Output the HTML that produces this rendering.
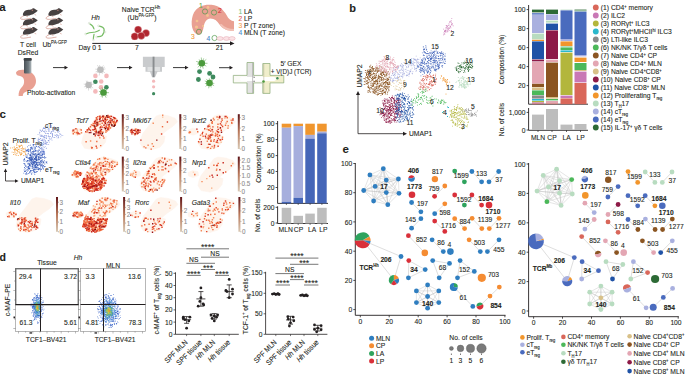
<!DOCTYPE html>
<html><head><meta charset="utf-8"><style>
html,body{margin:0;padding:0;background:#fff;width:685px;height:375px;overflow:hidden}
svg{display:block}
text{font-family:"Liberation Sans",sans-serif;stroke:#231f20;stroke-width:0.1px}
</style></head><body>
<svg width="685" height="375" viewBox="0 0 685 375" font-size="7" fill="#231f20">
<defs><linearGradient id="cbg" x1="0" y1="1" x2="0" y2="0"><stop offset="0" stop-color="#d8c9b5"/><stop offset="0.5" stop-color="#b9785a"/><stop offset="1" stop-color="#5e1418"/></linearGradient></defs>
<text transform="translate(349.3 11.8) scale(1 1)" font-weight="bold" font-size="11">b</text>
<path d="M372.2 69.7h0.8v0.8h-0.8zM378.9 76.7h0.8v0.8h-0.8zM365.3 78.5h0.8v0.8h-0.8zM375.5 90.3h0.8v0.8h-0.8zM379.5 93h0.8v0.8h-0.8zM386.6 74.4h0.8v0.8h-0.8zM372.5 90.7h0.8v0.8h-0.8zM380.3 76.4h0.8v0.8h-0.8zM381.2 79.2h0.8v0.8h-0.8zM376.2 73h0.8v0.8h-0.8zM368.5 82.2h0.8v0.8h-0.8zM383.4 73.9h0.8v0.8h-0.8zM375.5 88.7h0.8v0.8h-0.8zM384.4 81.9h0.8v0.8h-0.8zM381.2 82.6h0.8v0.8h-0.8zM377.6 85.6h0.8v0.8h-0.8zM384.4 74.8h0.8v0.8h-0.8zM364.8 79.5h0.8v0.8h-0.8zM366 74h0.8v0.8h-0.8zM364.3 78.2h0.8v0.8h-0.8zM385.1 91.9h0.8v0.8h-0.8zM373.8 91.4h0.8v0.8h-0.8zM368.7 73.4h0.8v0.8h-0.8zM380.3 73.3h0.8v0.8h-0.8zM374.9 81.8h0.8v0.8h-0.8zM377.3 83.5h0.8v0.8h-0.8zM388.5 87.4h0.8v0.8h-0.8zM375.2 78h0.8v0.8h-0.8zM369.3 70.5h0.8v0.8h-0.8zM368.4 76.5h0.8v0.8h-0.8zM380 70.7h0.8v0.8h-0.8zM375.1 66.8h0.8v0.8h-0.8zM376.5 80h0.8v0.8h-0.8zM373.2 72.8h0.8v0.8h-0.8zM377.5 69.8h0.8v0.8h-0.8zM378.6 93.3h0.8v0.8h-0.8zM371.6 77.7h0.8v0.8h-0.8zM377.5 89h0.8v0.8h-0.8zM386.8 87.9h0.8v0.8h-0.8zM369.8 80.9h0.8v0.8h-0.8zM371.7 85.7h0.8v0.8h-0.8zM369.9 72.8h0.8v0.8h-0.8zM380.8 91.2h0.8v0.8h-0.8zM382.1 89.8h0.8v0.8h-0.8zM387.7 87.6h0.8v0.8h-0.8zM367.8 90.2h0.8v0.8h-0.8zM374.3 92.9h0.8v0.8h-0.8zM368.7 69h0.8v0.8h-0.8zM369.1 89.7h0.8v0.8h-0.8zM373.2 81.8h0.8v0.8h-0.8zM387.2 84.3h0.8v0.8h-0.8zM375.6 90.7h0.8v0.8h-0.8zM370.6 75.3h0.8v0.8h-0.8zM372.1 79.3h0.8v0.8h-0.8zM371.5 78h0.8v0.8h-0.8zM373.8 92.6h0.8v0.8h-0.8zM377.1 70.9h0.8v0.8h-0.8zM368.3 78.3h0.8v0.8h-0.8zM371 80.3h0.8v0.8h-0.8zM366.8 82.8h0.8v0.8h-0.8zM382.7 79.9h0.8v0.8h-0.8zM386.9 77.9h0.8v0.8h-0.8zM376.3 86.3h0.8v0.8h-0.8zM375.9 91.5h0.8v0.8h-0.8zM378.8 92.9h0.8v0.8h-0.8zM367.8 78.8h0.8v0.8h-0.8zM366.3 83.4h0.8v0.8h-0.8zM367.7 86.2h0.8v0.8h-0.8zM376.1 79.8h0.8v0.8h-0.8zM367.4 78.1h0.8v0.8h-0.8zM369.1 74.7h0.8v0.8h-0.8zM379.2 78.6h0.8v0.8h-0.8zM382.6 81.6h0.8v0.8h-0.8zM368.2 73.7h0.8v0.8h-0.8zM369.3 70.3h0.8v0.8h-0.8zM386.5 74.8h0.8v0.8h-0.8zM379.1 86.3h0.8v0.8h-0.8zM383.8 79h0.8v0.8h-0.8zM382 90h0.8v0.8h-0.8zM373.9 74.8h0.8v0.8h-0.8zM370.3 69.2h0.8v0.8h-0.8zM367.4 70.5h0.8v0.8h-0.8zM372.2 73.8h0.8v0.8h-0.8zM376.9 70.9h0.8v0.8h-0.8zM370.4 64.8h0.8v0.8h-0.8zM369.3 79.3h0.8v0.8h-0.8zM383.6 78.3h0.8v0.8h-0.8zM373.2 78.1h0.8v0.8h-0.8zM372.6 88.8h0.8v0.8h-0.8zM375 75.9h0.8v0.8h-0.8zM372.1 71.2h0.8v0.8h-0.8zM386.5 85.9h0.8v0.8h-0.8zM372.2 79.9h0.8v0.8h-0.8zM389.4 84h0.8v0.8h-0.8zM372.9 76h0.8v0.8h-0.8zM376.7 81.3h0.8v0.8h-0.8zM366.5 77.3h0.8v0.8h-0.8zM371 71.8h0.8v0.8h-0.8zM383.1 83.1h0.8v0.8h-0.8zM374.6 75.1h0.8v0.8h-0.8zM384.5 84.9h0.8v0.8h-0.8zM387 82.4h0.8v0.8h-0.8zM365.9 80.9h0.8v0.8h-0.8zM383.3 88.9h0.8v0.8h-0.8zM381.8 86.2h0.8v0.8h-0.8zM368.8 77.2h0.8v0.8h-0.8zM377.6 83.1h0.8v0.8h-0.8zM383.6 87.6h0.8v0.8h-0.8zM381.1 66.8h0.8v0.8h-0.8zM365.9 72.7h0.8v0.8h-0.8zM375.5 77h0.8v0.8h-0.8zM383.7 83.4h0.8v0.8h-0.8zM367.8 72.2h0.8v0.8h-0.8zM364.9 72.2h0.8v0.8h-0.8zM380.6 74h0.8v0.8h-0.8zM376.6 68.6h0.8v0.8h-0.8zM376.2 75.5h0.8v0.8h-0.8zM370.2 83.5h0.8v0.8h-0.8zM386.4 79.6h0.8v0.8h-0.8zM369.8 92h0.8v0.8h-0.8zM376.2 75h0.8v0.8h-0.8zM373.7 90.3h0.8v0.8h-0.8zM388.7 86.1h0.8v0.8h-0.8zM374.9 77.1h0.8v0.8h-0.8zM373.3 78.4h0.8v0.8h-0.8zM369.9 73.3h0.8v0.8h-0.8zM374.9 92.6h0.8v0.8h-0.8zM381.5 92h0.8v0.8h-0.8zM383.1 77.5h0.8v0.8h-0.8zM371.9 66.7h0.8v0.8h-0.8zM375.8 77h0.8v0.8h-0.8zM380.2 74.1h0.8v0.8h-0.8zM368.9 72.2h0.8v0.8h-0.8zM379.4 70.3h0.8v0.8h-0.8zM375.8 70h0.8v0.8h-0.8zM372.9 68.9h0.8v0.8h-0.8zM378.8 90.7h0.8v0.8h-0.8zM374.2 81.5h0.8v0.8h-0.8zM366.1 73.6h0.8v0.8h-0.8zM377.5 83.6h0.8v0.8h-0.8zM370.3 73.4h0.8v0.8h-0.8zM387.3 79.5h0.8v0.8h-0.8zM375 91.3h0.8v0.8h-0.8zM365.5 69.9h0.8v0.8h-0.8zM387.6 85.6h0.8v0.8h-0.8zM377.4 82.2h0.8v0.8h-0.8zM381.3 75h0.8v0.8h-0.8zM380.8 86.3h0.8v0.8h-0.8zM377.1 83.1h0.8v0.8h-0.8zM373.1 78.8h0.8v0.8h-0.8zM387 80.2h0.8v0.8h-0.8zM388.9 86.5h0.8v0.8h-0.8zM376.3 85.7h0.8v0.8h-0.8zM381.4 93h0.8v0.8h-0.8zM372.5 77.4h0.8v0.8h-0.8zM384.1 87.3h0.8v0.8h-0.8zM385.6 73.8h0.8v0.8h-0.8zM377 71.9h0.8v0.8h-0.8zM381.8 94.2h0.8v0.8h-0.8zM367.1 76h0.8v0.8h-0.8zM389.1 77.2h0.8v0.8h-0.8zM380.7 77.2h0.8v0.8h-0.8zM371.7 75.7h0.8v0.8h-0.8zM373.7 88.9h0.8v0.8h-0.8zM363.9 80.9h0.8v0.8h-0.8zM369.2 76.1h0.8v0.8h-0.8zM374.7 89.2h0.8v0.8h-0.8zM387.9 71.2h0.8v0.8h-0.8zM374 73.2h0.8v0.8h-0.8zM370.5 87.3h0.8v0.8h-0.8zM388 84.1h0.8v0.8h-0.8zM372.2 78.9h0.8v0.8h-0.8zM373.1 73.4h0.8v0.8h-0.8zM385.6 85.9h0.8v0.8h-0.8zM379.4 75.9h0.8v0.8h-0.8zM369.1 88h0.8v0.8h-0.8zM363.7 84h0.8v0.8h-0.8zM371.8 68.6h0.8v0.8h-0.8zM382.5 79.6h0.8v0.8h-0.8zM380.1 83.6h0.8v0.8h-0.8zM381.7 68.4h0.8v0.8h-0.8zM378.7 75.9h0.8v0.8h-0.8zM371.5 74.3h0.8v0.8h-0.8zM376.8 76.8h0.8v0.8h-0.8zM377.7 71.1h0.8v0.8h-0.8zM377.4 88h0.8v0.8h-0.8zM368.3 70.9h0.8v0.8h-0.8zM388.8 75.7h0.8v0.8h-0.8zM371.2 88.3h0.8v0.8h-0.8zM379.7 84.6h0.8v0.8h-0.8zM367.6 72.7h0.8v0.8h-0.8zM381.7 71.6h0.8v0.8h-0.8zM381.4 71.5h0.8v0.8h-0.8zM385.1 81.8h0.8v0.8h-0.8zM374 81.4h0.8v0.8h-0.8zM367.6 86.4h0.8v0.8h-0.8zM371.5 82.9h0.8v0.8h-0.8zM373.4 70.7h0.8v0.8h-0.8zM373.5 90.7h0.8v0.8h-0.8zM377.1 70.4h0.8v0.8h-0.8zM381.7 93h0.8v0.8h-0.8zM374.1 81h0.8v0.8h-0.8zM378.4 93.5h0.8v0.8h-0.8zM371.4 68.4h0.8v0.8h-0.8zM377.3 66.7h0.8v0.8h-0.8zM387.7 83.3h0.8v0.8h-0.8zM383 73h0.8v0.8h-0.8zM385.7 71.8h0.8v0.8h-0.8zM378 77.3h0.8v0.8h-0.8zM384 92.3h0.8v0.8h-0.8zM379.1 81.2h0.8v0.8h-0.8zM373.7 83.3h0.8v0.8h-0.8zM376.9 78.6h0.8v0.8h-0.8zM376.9 70.9h0.8v0.8h-0.8zM375.5 70.9h0.8v0.8h-0.8zM368.2 78.7h0.8v0.8h-0.8zM380.4 66.4h0.8v0.8h-0.8zM376.4 67.1h0.8v0.8h-0.8zM383.9 91.9h0.8v0.8h-0.8zM377.3 93.4h0.8v0.8h-0.8zM385.3 93.3h0.8v0.8h-0.8zM384.2 69.7h0.8v0.8h-0.8zM383.2 69.7h0.8v0.8h-0.8zM368.6 73.2h0.8v0.8h-0.8zM382.4 93.3h0.8v0.8h-0.8zM366.4 80.5h0.8v0.8h-0.8zM385.1 81h0.8v0.8h-0.8zM380.6 76.5h0.8v0.8h-0.8zM388.8 83.7h0.8v0.8h-0.8zM375.5 70.4h0.8v0.8h-0.8zM383.7 71h0.8v0.8h-0.8zM379.2 85.1h0.8v0.8h-0.8zM378.1 78.1h0.8v0.8h-0.8zM367.3 72h0.8v0.8h-0.8zM367 77.2h0.8v0.8h-0.8zM378.6 70.8h0.8v0.8h-0.8zM371.4 70.6h0.8v0.8h-0.8zM386.1 89h0.8v0.8h-0.8zM378 75.1h0.8v0.8h-0.8zM388.4 89.1h0.8v0.8h-0.8zM364.6 81.5h0.8v0.8h-0.8zM364.8 81.6h0.8v0.8h-0.8zM367.9 83.4h0.8v0.8h-0.8zM384.9 71.4h0.8v0.8h-0.8zM386.1 86.7h0.8v0.8h-0.8zM383.3 78.2h0.8v0.8h-0.8zM369.9 68.9h0.8v0.8h-0.8zM372.1 86h0.8v0.8h-0.8zM381.6 73h0.8v0.8h-0.8zM384.4 82.2h0.8v0.8h-0.8zM370.7 70.3h0.8v0.8h-0.8zM384 74.6h0.8v0.8h-0.8zM369.3 91.3h0.8v0.8h-0.8zM375.6 88.6h0.8v0.8h-0.8zM374.7 86.5h0.8v0.8h-0.8zM371.3 84.8h0.8v0.8h-0.8zM373.2 69.7h0.8v0.8h-0.8zM381.5 82.8h0.8v0.8h-0.8zM364.6 84.2h0.8v0.8h-0.8zM387 92.5h0.8v0.8h-0.8zM367 71.7h0.8v0.8h-0.8zM384.9 88.2h0.8v0.8h-0.8zM380.8 74.2h0.8v0.8h-0.8zM383.3 72.4h0.8v0.8h-0.8zM370.8 87.2h0.8v0.8h-0.8zM389.8 79.4h0.8v0.8h-0.8zM363.4 78.3h0.8v0.8h-0.8zM372.4 86.1h0.8v0.8h-0.8zM385.9 70.5h0.8v0.8h-0.8zM377.2 90h0.8v0.8h-0.8zM372.9 92.2h0.8v0.8h-0.8zM371 70.8h0.8v0.8h-0.8zM368.2 85h0.8v0.8h-0.8zM381.5 88.1h0.8v0.8h-0.8zM374.7 76.9h0.8v0.8h-0.8zM370.2 72.6h0.8v0.8h-0.8zM374 92.6h0.8v0.8h-0.8zM377.8 86.5h0.8v0.8h-0.8zM374 76.6h0.8v0.8h-0.8zM381.7 88.2h0.8v0.8h-0.8zM384.8 83.3h0.8v0.8h-0.8zM387.3 73.2h0.8v0.8h-0.8zM382.6 90.8h0.8v0.8h-0.8zM369.9 75.1h0.8v0.8h-0.8zM374 70.9h0.8v0.8h-0.8zM368.2 76.7h0.8v0.8h-0.8zM383.5 79.5h0.8v0.8h-0.8zM366.6 71.7h0.8v0.8h-0.8zM374 87.8h0.8v0.8h-0.8zM381.2 80.1h0.8v0.8h-0.8zM375.3 86.8h0.8v0.8h-0.8zM378.4 87.9h0.8v0.8h-0.8zM383 90.1h0.8v0.8h-0.8zM385.5 84.8h0.8v0.8h-0.8zM372.9 84.6h0.8v0.8h-0.8zM383.9 86h0.8v0.8h-0.8zM374.3 78.3h0.8v0.8h-0.8zM382.1 94.1h0.8v0.8h-0.8zM381.8 77.1h0.8v0.8h-0.8zM365.8 82.9h0.8v0.8h-0.8zM389.4 81.5h0.8v0.8h-0.8zM376.8 86.6h0.8v0.8h-0.8zM383.7 82.1h0.8v0.8h-0.8zM368.3 86.6h0.8v0.8h-0.8zM373.1 68.1h0.8v0.8h-0.8zM374.5 86.7h0.8v0.8h-0.8zM370.9 87h0.8v0.8h-0.8zM369.2 89.5h0.8v0.8h-0.8zM367.8 87.2h0.8v0.8h-0.8zM376.5 84.4h0.8v0.8h-0.8zM373.9 82.8h0.8v0.8h-0.8zM375.7 74h0.8v0.8h-0.8zM386.1 75.4h0.8v0.8h-0.8zM373.3 73.2h0.8v0.8h-0.8zM371 73.7h0.8v0.8h-0.8zM374.7 83.6h0.8v0.8h-0.8zM388.6 89.9h0.8v0.8h-0.8zM381.5 73.2h0.8v0.8h-0.8zM369.8 88.8h0.8v0.8h-0.8zM388.4 90.5h0.8v0.8h-0.8zM378.9 86.9h0.8v0.8h-0.8zM384.9 91.6h0.8v0.8h-0.8zM376.1 88.1h0.8v0.8h-0.8zM378.5 73.8h0.8v0.8h-0.8zM376.3 67.3h0.8v0.8h-0.8zM375 79.8h0.8v0.8h-0.8zM375.3 80.6h0.8v0.8h-0.8zM374.1 77.8h0.8v0.8h-0.8zM381.8 84.5h0.8v0.8h-0.8zM380.5 95.2h0.8v0.8h-0.8zM377.5 79.7h0.8v0.8h-0.8zM381.7 85.5h0.8v0.8h-0.8zM372 79.3h0.8v0.8h-0.8zM368.5 78.9h0.8v0.8h-0.8zM385.9 73.3h0.8v0.8h-0.8zM374.7 73.4h0.8v0.8h-0.8zM380.6 89.5h0.8v0.8h-0.8zM370.7 81.6h0.8v0.8h-0.8zM387.7 81.8h0.8v0.8h-0.8zM387.1 82.1h0.8v0.8h-0.8zM386.7 82.7h0.8v0.8h-0.8zM381.8 82.5h0.8v0.8h-0.8zM381.4 78.6h0.8v0.8h-0.8zM383.7 91.7h0.8v0.8h-0.8zM384.7 88.4h0.8v0.8h-0.8zM371.5 78.8h0.8v0.8h-0.8zM381.8 93.4h0.8v0.8h-0.8zM385.9 82h0.8v0.8h-0.8zM380.4 93h0.8v0.8h-0.8zM374.3 68h0.8v0.8h-0.8zM382.6 72.1h0.8v0.8h-0.8zM382.5 90.4h0.8v0.8h-0.8zM378.3 86.9h0.8v0.8h-0.8zM373 88.6h0.8v0.8h-0.8zM375.9 68.1h0.8v0.8h-0.8zM376.4 86.7h0.8v0.8h-0.8zM372.8 83.8h0.8v0.8h-0.8zM375.5 88.2h0.8v0.8h-0.8zM381 75h0.8v0.8h-0.8zM381.7 91h0.8v0.8h-0.8zM377.9 75.4h0.8v0.8h-0.8zM372.3 84.6h0.8v0.8h-0.8zM385.7 73.9h0.8v0.8h-0.8zM375.7 81.1h0.8v0.8h-0.8zM384.5 90.8h0.8v0.8h-0.8zM385.3 87.5h0.8v0.8h-0.8zM371.5 67.5h0.8v0.8h-0.8zM369.8 87.4h0.8v0.8h-0.8zM379.2 85.6h0.8v0.8h-0.8zM370.9 86.7h0.8v0.8h-0.8zM382.4 71.4h0.8v0.8h-0.8zM385.8 81.1h0.8v0.8h-0.8zM369.5 72.4h0.8v0.8h-0.8zM372.5 82.8h0.8v0.8h-0.8zM366.9 83.7h0.8v0.8h-0.8zM379.3 75.7h0.8v0.8h-0.8zM385.9 79.6h0.8v0.8h-0.8zM385.7 77.6h0.8v0.8h-0.8zM370.8 67.2h0.8v0.8h-0.8zM376.4 91.8h0.8v0.8h-0.8zM381.2 78.8h0.8v0.8h-0.8zM369.3 80.4h0.8v0.8h-0.8zM380.9 77.3h0.8v0.8h-0.8zM369.7 67.5h0.8v0.8h-0.8zM382.9 84.3h0.8v0.8h-0.8zM383.3 92.5h0.8v0.8h-0.8zM380 88.3h0.8v0.8h-0.8zM370.1 69.2h0.8v0.8h-0.8zM370.1 69.6h0.8v0.8h-0.8zM384.7 71.7h0.8v0.8h-0.8zM387.2 92.5h0.8v0.8h-0.8zM385.1 84.3h0.8v0.8h-0.8zM385.1 79.2h0.8v0.8h-0.8zM369.5 66.1h0.8v0.8h-0.8zM367.7 92.1h0.8v0.8h-0.8zM368.5 72.8h0.8v0.8h-0.8zM367.6 81.8h0.8v0.8h-0.8zM380.6 71.8h0.8v0.8h-0.8zM368.9 73.5h0.8v0.8h-0.8zM366.8 73.9h0.8v0.8h-0.8zM383 74.1h0.8v0.8h-0.8zM385 75.6h0.8v0.8h-0.8zM386 81.9h0.8v0.8h-0.8zM387.3 71.7h0.8v0.8h-0.8zM368.5 87.6h0.8v0.8h-0.8zM379.7 80.7h0.8v0.8h-0.8zM380.4 85.3h0.8v0.8h-0.8zM369.2 66.5h0.8v0.8h-0.8zM386.1 73.9h0.8v0.8h-0.8zM388.2 79.1h0.8v0.8h-0.8zM368.5 90.4h0.8v0.8h-0.8zM374.7 83.1h0.8v0.8h-0.8zM376.6 81.7h0.8v0.8h-0.8zM384.6 92.3h0.8v0.8h-0.8zM375.6 88.3h0.8v0.8h-0.8zM387.7 80h0.8v0.8h-0.8zM368.7 70.2h0.8v0.8h-0.8zM383.4 71.4h0.8v0.8h-0.8zM378.9 80.5h0.8v0.8h-0.8zM387.1 86.8h0.8v0.8h-0.8zM376.7 80.7h0.8v0.8h-0.8zM373 68.6h0.8v0.8h-0.8zM367.8 81.9h0.8v0.8h-0.8zM384.8 93.8h0.8v0.8h-0.8zM384.1 82.3h0.8v0.8h-0.8zM384.2 76.3h0.8v0.8h-0.8zM385.6 90.8h0.8v0.8h-0.8zM367.4 80.2h0.8v0.8h-0.8zM369.9 77.3h0.8v0.8h-0.8zM376.8 68h0.8v0.8h-0.8zM389 82.4h0.8v0.8h-0.8zM380.4 72.7h0.8v0.8h-0.8zM377.6 92.3h0.8v0.8h-0.8zM378.2 78.1h0.8v0.8h-0.8zM372.8 85.4h0.8v0.8h-0.8zM388.7 81.7h0.8v0.8h-0.8zM378.2 70.2h0.8v0.8h-0.8zM371.5 78.1h0.8v0.8h-0.8zM366.9 80.6h0.8v0.8h-0.8zM379.3 86h0.8v0.8h-0.8zM375.2 81h0.8v0.8h-0.8zM372.3 73.7h0.8v0.8h-0.8zM374.8 82.8h0.8v0.8h-0.8zM385.4 72.2h0.8v0.8h-0.8zM371.9 88.6h0.8v0.8h-0.8zM387.5 78.8h0.8v0.8h-0.8zM375.9 87.6h0.8v0.8h-0.8zM367.2 76.5h0.8v0.8h-0.8zM380.5 89.6h0.8v0.8h-0.8zM383.3 86.4h0.8v0.8h-0.8zM384.8 86.2h0.8v0.8h-0.8zM381.6 82.8h0.8v0.8h-0.8zM379.3 76h0.8v0.8h-0.8zM378.8 77h0.8v0.8h-0.8zM381.9 74.9h0.8v0.8h-0.8zM374.4 73.3h0.8v0.8h-0.8zM377.3 79.3h0.8v0.8h-0.8zM367.4 82.3h0.8v0.8h-0.8zM388.9 73.6h0.8v0.8h-0.8zM375.4 92.4h0.8v0.8h-0.8zM380 79.4h0.8v0.8h-0.8zM376.9 94.8h0.8v0.8h-0.8zM381.1 77.9h0.8v0.8h-0.8zM372.6 92.5h0.8v0.8h-0.8zM365.6 77.2h0.8v0.8h-0.8zM379.9 91.2h0.8v0.8h-0.8zM376.3 83.9h0.8v0.8h-0.8zM378.2 90.3h0.8v0.8h-0.8zM378.4 67.9h0.8v0.8h-0.8zM387.5 78.5h0.8v0.8h-0.8zM377.5 80.9h0.8v0.8h-0.8zM378.7 85.6h0.8v0.8h-0.8zM374.2 90h0.8v0.8h-0.8zM385.6 82.3h0.8v0.8h-0.8zM376.8 83.1h0.8v0.8h-0.8zM377 94.5h0.8v0.8h-0.8zM367.2 69.7h0.8v0.8h-0.8zM364.9 70.3h0.8v0.8h-0.8zM380.1 89.3h0.8v0.8h-0.8zM383.9 74.2h0.8v0.8h-0.8zM370 74.5h0.8v0.8h-0.8zM378.3 76.1h0.8v0.8h-0.8zM378 94.3h0.8v0.8h-0.8zM372.1 66.1h0.8v0.8h-0.8zM372.5 91.3h0.8v0.8h-0.8zM377.5 93.9h0.8v0.8h-0.8zM370.2 76.4h0.8v0.8h-0.8zM370.4 91.5h0.8v0.8h-0.8zM370 71.1h0.8v0.8h-0.8zM377.7 68.7h0.8v0.8h-0.8zM375.7 68.6h0.8v0.8h-0.8zM373.4 73.4h0.8v0.8h-0.8zM369.7 65.8h0.8v0.8h-0.8zM368.6 86.7h0.8v0.8h-0.8zM375.7 89.7h0.8v0.8h-0.8zM371.6 88.4h0.8v0.8h-0.8zM376.7 72.3h0.8v0.8h-0.8zM383.3 72.5h0.8v0.8h-0.8zM373.1 72.4h0.8v0.8h-0.8zM377.1 83h0.8v0.8h-0.8zM373.3 84.6h0.8v0.8h-0.8zM374.9 69.6h0.8v0.8h-0.8zM373.2 85.8h0.8v0.8h-0.8zM373.3 80.6h0.8v0.8h-0.8zM373.1 73.2h0.8v0.8h-0.8zM372.6 76.6h0.8v0.8h-0.8zM387.4 91.4h0.8v0.8h-0.8zM380.1 76.6h0.8v0.8h-0.8zM382.7 72.1h0.8v0.8h-0.8zM381.8 72.2h0.8v0.8h-0.8zM383.3 86.6h0.8v0.8h-0.8zM367.9 72.2h0.8v0.8h-0.8zM381.2 69.8h0.8v0.8h-0.8zM381.4 73.6h0.8v0.8h-0.8zM385.6 88.7h0.8v0.8h-0.8zM386.9 83.6h0.8v0.8h-0.8zM367.4 90.8h0.8v0.8h-0.8zM382 75.4h0.8v0.8h-0.8zM372.2 67.8h0.8v0.8h-0.8zM388.1 84.2h0.8v0.8h-0.8zM381.6 79.3h0.8v0.8h-0.8zM375.6 80.4h0.8v0.8h-0.8zM382.2 90.4h0.8v0.8h-0.8zM388.5 84.1h0.8v0.8h-0.8zM365 76.4h0.8v0.8h-0.8zM371.7 68.2h0.8v0.8h-0.8zM369.2 72.5h0.8v0.8h-0.8zM387.8 77.6h0.8v0.8h-0.8zM366.9 83.5h0.8v0.8h-0.8zM378.9 89.1h0.8v0.8h-0.8zM379.7 77.4h0.8v0.8h-0.8zM366.6 74.5h0.8v0.8h-0.8zM366 75.1h0.8v0.8h-0.8zM375.2 69.7h0.8v0.8h-0.8zM373.6 70.5h0.8v0.8h-0.8zM367.3 86.5h0.8v0.8h-0.8zM366.3 80.2h0.8v0.8h-0.8zM386.4 83h0.8v0.8h-0.8zM381 73.4h0.8v0.8h-0.8zM386.3 75.4h0.8v0.8h-0.8zM386.8 94.2h0.8v0.8h-0.8zM385.3 87.9h0.8v0.8h-0.8zM384.7 75.8h0.8v0.8h-0.8zM373.6 90.3h0.8v0.8h-0.8zM379.3 82.8h0.8v0.8h-0.8zM377.3 80.9h0.8v0.8h-0.8zM378.9 67.4h0.8v0.8h-0.8zM375.7 94.2h0.8v0.8h-0.8zM375.4 71.1h0.8v0.8h-0.8zM386.1 89.8h0.8v0.8h-0.8zM370.4 84.9h0.8v0.8h-0.8zM372 77h0.8v0.8h-0.8zM370.9 78.3h0.8v0.8h-0.8zM368.6 68.9h0.8v0.8h-0.8zM389.1 83.5h0.8v0.8h-0.8zM381.2 84.6h0.8v0.8h-0.8zM388.3 79.1h0.8v0.8h-0.8zM373.5 91.7h0.8v0.8h-0.8zM382.8 79.4h0.8v0.8h-0.8zM372.7 83.2h0.8v0.8h-0.8z" fill="#8b5522"/>
<path d="M388.9 63.7h0.8v0.8h-0.8zM396.9 66.9h0.8v0.8h-0.8zM386.5 61.1h0.8v0.8h-0.8zM381.8 66.9h0.8v0.8h-0.8zM388.7 58.5h0.8v0.8h-0.8zM384.3 70.4h0.8v0.8h-0.8zM385.7 59.5h0.8v0.8h-0.8zM393.1 58.9h0.8v0.8h-0.8zM382.4 63.1h0.8v0.8h-0.8zM380.4 60.9h0.8v0.8h-0.8zM396.4 66.1h0.8v0.8h-0.8zM396.9 72.2h0.8v0.8h-0.8zM382.8 67.7h0.8v0.8h-0.8zM378.5 60.8h0.8v0.8h-0.8zM387.7 58.1h0.8v0.8h-0.8zM391.2 62h0.8v0.8h-0.8zM394.6 66.4h0.8v0.8h-0.8zM378.9 70.9h0.8v0.8h-0.8zM382 68.3h0.8v0.8h-0.8zM394.7 64.1h0.8v0.8h-0.8zM381.7 59.4h0.8v0.8h-0.8zM379.6 69.3h0.8v0.8h-0.8zM387 58.8h0.8v0.8h-0.8zM395.9 67.1h0.8v0.8h-0.8zM378.6 63h0.8v0.8h-0.8zM385.7 62.7h0.8v0.8h-0.8zM390.6 62.4h0.8v0.8h-0.8zM379.5 65.7h0.8v0.8h-0.8zM389.4 68.2h0.8v0.8h-0.8zM389.5 67.7h0.8v0.8h-0.8zM394.8 70.5h0.8v0.8h-0.8zM382.6 68.1h0.8v0.8h-0.8zM389.1 62.3h0.8v0.8h-0.8zM376.1 64.8h0.8v0.8h-0.8zM386.6 63.5h0.8v0.8h-0.8zM385.5 59.3h0.8v0.8h-0.8zM385.3 63.8h0.8v0.8h-0.8zM382.5 60.8h0.8v0.8h-0.8zM396.8 66.6h0.8v0.8h-0.8zM387.8 74h0.8v0.8h-0.8zM386.4 71.3h0.8v0.8h-0.8zM379.4 60.7h0.8v0.8h-0.8zM383.4 59.1h0.8v0.8h-0.8zM390 57.8h0.8v0.8h-0.8zM389.9 56.6h0.8v0.8h-0.8zM383.9 60.2h0.8v0.8h-0.8zM395.8 66.9h0.8v0.8h-0.8zM382.6 68.3h0.8v0.8h-0.8zM391.8 62.7h0.8v0.8h-0.8zM382.8 64.5h0.8v0.8h-0.8zM396.7 66h0.8v0.8h-0.8zM389.3 68.9h0.8v0.8h-0.8zM392.7 63.5h0.8v0.8h-0.8zM387.6 67h0.8v0.8h-0.8zM391.9 59.6h0.8v0.8h-0.8zM393.4 59.5h0.8v0.8h-0.8zM383.9 61.1h0.8v0.8h-0.8zM386.6 66.6h0.8v0.8h-0.8zM376.8 64.8h0.8v0.8h-0.8zM392.3 71.9h0.8v0.8h-0.8zM394.2 60.8h0.8v0.8h-0.8zM390.3 61.6h0.8v0.8h-0.8zM384.3 72.4h0.8v0.8h-0.8zM376 68.4h0.8v0.8h-0.8zM375.6 67.1h0.8v0.8h-0.8zM396.9 67.7h0.8v0.8h-0.8zM381.8 64.5h0.8v0.8h-0.8zM391.8 70h0.8v0.8h-0.8zM381.8 67.6h0.8v0.8h-0.8zM392.4 71h0.8v0.8h-0.8zM387.4 72.4h0.8v0.8h-0.8zM387.5 63.4h0.8v0.8h-0.8zM384.3 69h0.8v0.8h-0.8zM379.8 69.1h0.8v0.8h-0.8zM392 71.1h0.8v0.8h-0.8zM381.1 69.4h0.8v0.8h-0.8zM386.7 60.9h0.8v0.8h-0.8zM383.7 71.8h0.8v0.8h-0.8zM379.6 65.1h0.8v0.8h-0.8zM378.8 68.8h0.8v0.8h-0.8zM384.5 64.5h0.8v0.8h-0.8zM395.3 69.3h0.8v0.8h-0.8zM376 65.8h0.8v0.8h-0.8zM383.5 56h0.8v0.8h-0.8zM387 63.4h0.8v0.8h-0.8zM394.6 69h0.8v0.8h-0.8zM384.1 63.4h0.8v0.8h-0.8zM389.3 73.1h0.8v0.8h-0.8zM384.4 61.3h0.8v0.8h-0.8zM394.8 69.4h0.8v0.8h-0.8zM390.6 61.3h0.8v0.8h-0.8zM392.3 63.6h0.8v0.8h-0.8zM381.1 66.2h0.8v0.8h-0.8zM390.4 63.1h0.8v0.8h-0.8zM390.1 61.3h0.8v0.8h-0.8zM380.7 68.8h0.8v0.8h-0.8zM385.4 68.4h0.8v0.8h-0.8zM395.3 65.3h0.8v0.8h-0.8zM394.7 62.3h0.8v0.8h-0.8zM387 65.6h0.8v0.8h-0.8zM384.6 69.9h0.8v0.8h-0.8zM380.1 61.5h0.8v0.8h-0.8zM393.3 65.5h0.8v0.8h-0.8zM389.7 64.4h0.8v0.8h-0.8zM392.3 58.6h0.8v0.8h-0.8zM386.9 61.4h0.8v0.8h-0.8zM384.7 58.4h0.8v0.8h-0.8zM391.5 62h0.8v0.8h-0.8zM390.3 71.6h0.8v0.8h-0.8zM393.2 67.1h0.8v0.8h-0.8zM385.6 62.1h0.8v0.8h-0.8zM385.3 66.6h0.8v0.8h-0.8zM385 66h0.8v0.8h-0.8zM384 68h0.8v0.8h-0.8zM391.6 62.9h0.8v0.8h-0.8zM397 69.3h0.8v0.8h-0.8zM386.7 63.6h0.8v0.8h-0.8zM385.4 71.6h0.8v0.8h-0.8zM386.6 68.9h0.8v0.8h-0.8zM384.3 56.6h0.8v0.8h-0.8zM393.4 69.7h0.8v0.8h-0.8zM393.9 66.5h0.8v0.8h-0.8zM392.9 65.2h0.8v0.8h-0.8zM386.9 66.3h0.8v0.8h-0.8zM386 65.4h0.8v0.8h-0.8zM381.8 61.8h0.8v0.8h-0.8zM394 65.8h0.8v0.8h-0.8zM395.5 69.3h0.8v0.8h-0.8zM386.8 63.2h0.8v0.8h-0.8zM389 62.3h0.8v0.8h-0.8zM397 66.1h0.8v0.8h-0.8zM387 63.2h0.8v0.8h-0.8zM381.7 71.1h0.8v0.8h-0.8zM391.6 67.1h0.8v0.8h-0.8zM386.7 71.4h0.8v0.8h-0.8zM390.1 59.3h0.8v0.8h-0.8zM393 63.8h0.8v0.8h-0.8zM382.8 59.9h0.8v0.8h-0.8zM392.1 72.9h0.8v0.8h-0.8zM392.4 60h0.8v0.8h-0.8zM381.8 60.3h0.8v0.8h-0.8zM389 59h0.8v0.8h-0.8zM383.7 58.4h0.8v0.8h-0.8zM381.8 66.3h0.8v0.8h-0.8zM391.8 63.5h0.8v0.8h-0.8zM396.5 66.2h0.8v0.8h-0.8zM392.9 64.8h0.8v0.8h-0.8zM385.7 70.2h0.8v0.8h-0.8zM388 74.3h0.8v0.8h-0.8zM383.4 65.7h0.8v0.8h-0.8zM379.8 69.9h0.8v0.8h-0.8zM386.8 58h0.8v0.8h-0.8zM390.2 64.6h0.8v0.8h-0.8zM378.9 68.2h0.8v0.8h-0.8zM383.5 62.5h0.8v0.8h-0.8zM384 69.7h0.8v0.8h-0.8zM387.7 66.3h0.8v0.8h-0.8zM378.7 65.5h0.8v0.8h-0.8zM380.5 63.9h0.8v0.8h-0.8zM379.4 70.9h0.8v0.8h-0.8zM385.5 69.1h0.8v0.8h-0.8zM381.4 69.6h0.8v0.8h-0.8zM375.9 63.2h0.8v0.8h-0.8zM387.4 59.9h0.8v0.8h-0.8zM381.7 66.6h0.8v0.8h-0.8zM389.9 67.3h0.8v0.8h-0.8zM393.9 64.3h0.8v0.8h-0.8zM385 59.9h0.8v0.8h-0.8zM390.7 59.8h0.8v0.8h-0.8zM379.2 62.7h0.8v0.8h-0.8zM386.9 63h0.8v0.8h-0.8zM392.9 68.4h0.8v0.8h-0.8zM395.8 70.4h0.8v0.8h-0.8zM385 59.3h0.8v0.8h-0.8zM393.4 57.3h0.8v0.8h-0.8zM396.7 67.5h0.8v0.8h-0.8zM389.7 62.6h0.8v0.8h-0.8zM397.6 65.4h0.8v0.8h-0.8zM381.6 71h0.8v0.8h-0.8zM384.1 60.9h0.8v0.8h-0.8zM389.9 69.4h0.8v0.8h-0.8zM395 67.3h0.8v0.8h-0.8zM384 57h0.8v0.8h-0.8zM384.3 65.1h0.8v0.8h-0.8zM393.1 63.1h0.8v0.8h-0.8zM382.3 61.8h0.8v0.8h-0.8zM390.2 62h0.8v0.8h-0.8zM390.6 62.7h0.8v0.8h-0.8zM380.3 68.4h0.8v0.8h-0.8zM380.9 61.1h0.8v0.8h-0.8zM388.6 72h0.8v0.8h-0.8zM397.6 65.1h0.8v0.8h-0.8zM386 70.8h0.8v0.8h-0.8zM378.9 65h0.8v0.8h-0.8zM385.3 71h0.8v0.8h-0.8zM375.5 67.8h0.8v0.8h-0.8zM383.4 66.9h0.8v0.8h-0.8zM388.4 67.2h0.8v0.8h-0.8zM389.6 66.4h0.8v0.8h-0.8zM395.6 68.4h0.8v0.8h-0.8zM385 58.6h0.8v0.8h-0.8zM378.9 66.3h0.8v0.8h-0.8zM384.2 68.4h0.8v0.8h-0.8zM391.9 61.4h0.8v0.8h-0.8zM398 66.1h0.8v0.8h-0.8zM391.5 68.6h0.8v0.8h-0.8zM388.9 69.4h0.8v0.8h-0.8zM379.5 64.9h0.8v0.8h-0.8zM392.1 60h0.8v0.8h-0.8zM384.8 62.7h0.8v0.8h-0.8z" fill="#e3a6b3"/>
<path d="M418.7 62h0.8v0.8h-0.8zM401.7 65.9h0.8v0.8h-0.8zM393.1 80.2h0.8v0.8h-0.8zM411.7 67.7h0.8v0.8h-0.8zM411.5 64.7h0.8v0.8h-0.8zM405 63h0.8v0.8h-0.8zM402.2 77.5h0.8v0.8h-0.8zM409.1 73.1h0.8v0.8h-0.8zM399.6 65.4h0.8v0.8h-0.8zM393.1 78.4h0.8v0.8h-0.8zM409.1 71.7h0.8v0.8h-0.8zM397.4 76.3h0.8v0.8h-0.8zM393 72.4h0.8v0.8h-0.8zM392 73.1h0.8v0.8h-0.8zM414.4 65h0.8v0.8h-0.8zM416.9 64.5h0.8v0.8h-0.8zM389.8 77.9h0.8v0.8h-0.8zM408.2 65.9h0.8v0.8h-0.8zM395.6 78.3h0.8v0.8h-0.8zM416.2 70.3h0.8v0.8h-0.8zM406.1 66.3h0.8v0.8h-0.8zM397.1 78.5h0.8v0.8h-0.8zM420.1 64.5h0.8v0.8h-0.8zM402.7 72.8h0.8v0.8h-0.8zM393.4 75h0.8v0.8h-0.8zM394.8 75h0.8v0.8h-0.8zM408 74h0.8v0.8h-0.8zM411.8 73.2h0.8v0.8h-0.8zM394.2 72.4h0.8v0.8h-0.8zM414.9 68.1h0.8v0.8h-0.8zM390.4 76.7h0.8v0.8h-0.8zM406.8 69.9h0.8v0.8h-0.8zM412.8 64.4h0.8v0.8h-0.8zM395 71.3h0.8v0.8h-0.8zM404.2 73.3h0.8v0.8h-0.8zM418.8 66.7h0.8v0.8h-0.8zM402.1 70.2h0.8v0.8h-0.8zM402.9 65.1h0.8v0.8h-0.8zM395.6 71.9h0.8v0.8h-0.8zM392.4 79.4h0.8v0.8h-0.8zM396.2 81.5h0.8v0.8h-0.8zM418.4 63h0.8v0.8h-0.8zM414.4 58.5h0.8v0.8h-0.8zM394.7 77.9h0.8v0.8h-0.8zM393 75.2h0.8v0.8h-0.8zM403.2 71.2h0.8v0.8h-0.8zM405.9 63.6h0.8v0.8h-0.8zM409.1 61.6h0.8v0.8h-0.8zM415.5 59.2h0.8v0.8h-0.8zM411.2 58.3h0.8v0.8h-0.8zM409.9 71.4h0.8v0.8h-0.8zM400.3 70.3h0.8v0.8h-0.8zM392.6 81h0.8v0.8h-0.8zM412.8 64.1h0.8v0.8h-0.8zM399.1 74.2h0.8v0.8h-0.8zM415.6 70.9h0.8v0.8h-0.8zM397.6 73.1h0.8v0.8h-0.8zM403.5 72.4h0.8v0.8h-0.8zM398.2 79.6h0.8v0.8h-0.8zM406.4 72.3h0.8v0.8h-0.8zM397.2 76.4h0.8v0.8h-0.8zM397.6 65.7h0.8v0.8h-0.8zM412.8 58.1h0.8v0.8h-0.8zM416.3 60.6h0.8v0.8h-0.8zM410.7 63.3h0.8v0.8h-0.8zM417.2 59.1h0.8v0.8h-0.8zM410.1 61h0.8v0.8h-0.8zM409.6 71.1h0.8v0.8h-0.8zM390.1 79.9h0.8v0.8h-0.8zM401 76h0.8v0.8h-0.8zM396 77.6h0.8v0.8h-0.8zM413.5 62.4h0.8v0.8h-0.8zM400 64.7h0.8v0.8h-0.8zM415.8 55.8h0.8v0.8h-0.8zM403.6 74.7h0.8v0.8h-0.8zM401 67.8h0.8v0.8h-0.8zM414.1 69h0.8v0.8h-0.8zM417.3 58.5h0.8v0.8h-0.8zM417.1 61.9h0.8v0.8h-0.8zM403.3 65.5h0.8v0.8h-0.8zM410.6 69.5h0.8v0.8h-0.8zM412.5 71h0.8v0.8h-0.8zM409 74.2h0.8v0.8h-0.8zM416.8 65.2h0.8v0.8h-0.8zM395.8 71.3h0.8v0.8h-0.8zM392.5 74.4h0.8v0.8h-0.8zM403.5 73.8h0.8v0.8h-0.8zM393.5 68.2h0.8v0.8h-0.8zM408.8 61.1h0.8v0.8h-0.8zM397.9 67.7h0.8v0.8h-0.8zM394.6 77.5h0.8v0.8h-0.8zM395.2 67.3h0.8v0.8h-0.8zM392.3 81.4h0.8v0.8h-0.8zM405.5 70.9h0.8v0.8h-0.8zM405.7 68.8h0.8v0.8h-0.8zM420.4 62.7h0.8v0.8h-0.8zM402.8 68.4h0.8v0.8h-0.8zM410.1 69.8h0.8v0.8h-0.8zM410.3 69.4h0.8v0.8h-0.8zM421.5 61.9h0.8v0.8h-0.8zM410.9 63.5h0.8v0.8h-0.8zM406.6 74.3h0.8v0.8h-0.8zM407.8 66.8h0.8v0.8h-0.8zM410.9 60.3h0.8v0.8h-0.8zM417.7 62.6h0.8v0.8h-0.8zM417.6 61.2h0.8v0.8h-0.8zM402.5 67.5h0.8v0.8h-0.8zM399.2 74.5h0.8v0.8h-0.8zM408.7 61.9h0.8v0.8h-0.8zM408.5 70.2h0.8v0.8h-0.8zM394.3 76.6h0.8v0.8h-0.8zM408.5 61.3h0.8v0.8h-0.8zM412 63.1h0.8v0.8h-0.8zM394.4 74.1h0.8v0.8h-0.8zM396.9 74.5h0.8v0.8h-0.8zM392.3 80.2h0.8v0.8h-0.8zM398.7 70.4h0.8v0.8h-0.8zM404.2 62.8h0.8v0.8h-0.8zM408.5 75.7h0.8v0.8h-0.8zM411.5 64.9h0.8v0.8h-0.8zM410.7 65.4h0.8v0.8h-0.8zM394.8 72.9h0.8v0.8h-0.8zM410.3 71.1h0.8v0.8h-0.8zM408.9 63.2h0.8v0.8h-0.8zM407 75.1h0.8v0.8h-0.8zM407.7 72.7h0.8v0.8h-0.8zM410.2 63.3h0.8v0.8h-0.8zM413.6 65.4h0.8v0.8h-0.8zM405 64.4h0.8v0.8h-0.8zM414.4 59.1h0.8v0.8h-0.8zM403.6 62h0.8v0.8h-0.8zM398.1 66.9h0.8v0.8h-0.8zM402.1 66.7h0.8v0.8h-0.8zM403 72.8h0.8v0.8h-0.8zM409.8 64.4h0.8v0.8h-0.8zM414.2 67.8h0.8v0.8h-0.8zM391.8 81.3h0.8v0.8h-0.8zM413.6 59.7h0.8v0.8h-0.8zM416.2 61.8h0.8v0.8h-0.8zM402.5 65.3h0.8v0.8h-0.8zM398.1 74h0.8v0.8h-0.8zM406.5 63.8h0.8v0.8h-0.8zM413 61.5h0.8v0.8h-0.8zM391.2 77.7h0.8v0.8h-0.8zM396.9 68.2h0.8v0.8h-0.8zM416.9 65.7h0.8v0.8h-0.8zM402.6 76.5h0.8v0.8h-0.8zM420.4 63.1h0.8v0.8h-0.8zM400 65.5h0.8v0.8h-0.8zM394.4 80.3h0.8v0.8h-0.8zM397 77.3h0.8v0.8h-0.8zM414.3 61.9h0.8v0.8h-0.8zM414.9 59.3h0.8v0.8h-0.8zM416.1 63.5h0.8v0.8h-0.8zM418.4 59.1h0.8v0.8h-0.8zM412.1 73.5h0.8v0.8h-0.8zM405.2 69.2h0.8v0.8h-0.8zM414.6 62h0.8v0.8h-0.8zM411.6 61.4h0.8v0.8h-0.8zM399 71.8h0.8v0.8h-0.8zM397.9 78.5h0.8v0.8h-0.8zM403.5 69.5h0.8v0.8h-0.8zM409.4 62.1h0.8v0.8h-0.8zM393.3 80h0.8v0.8h-0.8zM401.9 74.8h0.8v0.8h-0.8zM414.3 66.7h0.8v0.8h-0.8zM416.5 59.8h0.8v0.8h-0.8zM401.8 63.9h0.8v0.8h-0.8zM399.3 76.1h0.8v0.8h-0.8zM405.9 75.1h0.8v0.8h-0.8zM415.2 60.2h0.8v0.8h-0.8zM401.9 72.4h0.8v0.8h-0.8zM401.5 69.4h0.8v0.8h-0.8zM394.4 69.8h0.8v0.8h-0.8zM397.3 77.7h0.8v0.8h-0.8zM399.1 76.5h0.8v0.8h-0.8zM408.7 64.4h0.8v0.8h-0.8zM398.8 70.1h0.8v0.8h-0.8zM400.6 65.6h0.8v0.8h-0.8zM411.8 67.7h0.8v0.8h-0.8zM400.5 71.9h0.8v0.8h-0.8zM401 63.3h0.8v0.8h-0.8zM406.3 75.4h0.8v0.8h-0.8zM406.3 66.9h0.8v0.8h-0.8zM402.6 70.3h0.8v0.8h-0.8zM400.7 69.3h0.8v0.8h-0.8zM402.8 65.5h0.8v0.8h-0.8zM413.3 63.4h0.8v0.8h-0.8zM405 64.6h0.8v0.8h-0.8zM393.9 74h0.8v0.8h-0.8zM390.4 77.5h0.8v0.8h-0.8zM390.4 80.3h0.8v0.8h-0.8zM411.8 72.7h0.8v0.8h-0.8zM392.9 69.7h0.8v0.8h-0.8zM402.3 66.8h0.8v0.8h-0.8zM411.5 61h0.8v0.8h-0.8zM400.6 75.6h0.8v0.8h-0.8zM401.6 76.1h0.8v0.8h-0.8zM400.8 65.7h0.8v0.8h-0.8zM402.3 74h0.8v0.8h-0.8zM415.5 69.4h0.8v0.8h-0.8zM400.4 72.8h0.8v0.8h-0.8zM407.8 64.7h0.8v0.8h-0.8zM398.4 76.9h0.8v0.8h-0.8zM392.5 78.4h0.8v0.8h-0.8zM419.8 57.5h0.8v0.8h-0.8zM391.2 74.9h0.8v0.8h-0.8zM407.7 67h0.8v0.8h-0.8zM413.6 59.1h0.8v0.8h-0.8zM416.6 66.8h0.8v0.8h-0.8z" fill="#a9b0df"/>
<path d="M439 64.8h0.8v0.8h-0.8zM437.5 51.4h0.8v0.8h-0.8zM430.7 70.7h0.8v0.8h-0.8zM429.9 60.6h0.8v0.8h-0.8zM428.4 71.5h0.8v0.8h-0.8zM435.5 58.2h0.8v0.8h-0.8zM419.7 69.7h0.8v0.8h-0.8zM430.2 57.7h0.8v0.8h-0.8zM427.1 72.6h0.8v0.8h-0.8zM422.1 60.5h0.8v0.8h-0.8zM444.1 58.6h0.8v0.8h-0.8zM444.8 62.9h0.8v0.8h-0.8zM435.9 60.2h0.8v0.8h-0.8zM420.3 70.3h0.8v0.8h-0.8zM437 52.9h0.8v0.8h-0.8zM420.8 64.8h0.8v0.8h-0.8zM430.5 60.7h0.8v0.8h-0.8zM432.6 67h0.8v0.8h-0.8zM445.2 55.7h0.8v0.8h-0.8zM421.9 62.1h0.8v0.8h-0.8zM433.5 54.9h0.8v0.8h-0.8zM436.6 61.3h0.8v0.8h-0.8zM426.8 71.7h0.8v0.8h-0.8zM441.2 65.7h0.8v0.8h-0.8zM424.2 73.3h0.8v0.8h-0.8zM432.6 51.7h0.8v0.8h-0.8zM440.4 62.8h0.8v0.8h-0.8zM427.6 70.4h0.8v0.8h-0.8zM423.9 70.5h0.8v0.8h-0.8zM424 70.6h0.8v0.8h-0.8zM420.1 67.4h0.8v0.8h-0.8zM430.3 63.7h0.8v0.8h-0.8zM435.8 49.4h0.8v0.8h-0.8zM427.4 71.7h0.8v0.8h-0.8zM434.6 69.3h0.8v0.8h-0.8zM432.7 62.3h0.8v0.8h-0.8zM429.3 52h0.8v0.8h-0.8zM441.8 53.3h0.8v0.8h-0.8zM428.3 54.8h0.8v0.8h-0.8zM435.4 69.7h0.8v0.8h-0.8zM443.9 63.2h0.8v0.8h-0.8zM418.9 64.5h0.8v0.8h-0.8zM423.8 51.1h0.8v0.8h-0.8zM442.3 65.2h0.8v0.8h-0.8zM438 66h0.8v0.8h-0.8zM436.2 57.8h0.8v0.8h-0.8zM423.6 57.5h0.8v0.8h-0.8zM426.4 52.9h0.8v0.8h-0.8zM428.1 65.5h0.8v0.8h-0.8zM430.7 50.5h0.8v0.8h-0.8zM442 53.5h0.8v0.8h-0.8zM434.7 64.4h0.8v0.8h-0.8zM418.4 65.6h0.8v0.8h-0.8zM433.1 67.4h0.8v0.8h-0.8zM427.2 68.4h0.8v0.8h-0.8zM420.5 65.4h0.8v0.8h-0.8zM421.4 70h0.8v0.8h-0.8zM428.3 64.8h0.8v0.8h-0.8zM428 70.5h0.8v0.8h-0.8zM443.4 62.2h0.8v0.8h-0.8zM444.8 62.9h0.8v0.8h-0.8zM430.3 56.2h0.8v0.8h-0.8zM433.9 53.3h0.8v0.8h-0.8zM431.3 57.2h0.8v0.8h-0.8zM432.6 52.3h0.8v0.8h-0.8zM439.7 62.5h0.8v0.8h-0.8zM431.6 57.4h0.8v0.8h-0.8zM436.1 69.1h0.8v0.8h-0.8zM422.7 59.3h0.8v0.8h-0.8zM427.4 66.5h0.8v0.8h-0.8zM423 66.8h0.8v0.8h-0.8zM435.4 65.7h0.8v0.8h-0.8zM443.8 58.6h0.8v0.8h-0.8zM440.1 52.8h0.8v0.8h-0.8zM439.2 66.7h0.8v0.8h-0.8zM424.4 57.8h0.8v0.8h-0.8zM428.8 60h0.8v0.8h-0.8zM421.9 52.4h0.8v0.8h-0.8zM442.9 53.8h0.8v0.8h-0.8zM440.8 57.8h0.8v0.8h-0.8zM429.2 56.7h0.8v0.8h-0.8zM427.1 68.5h0.8v0.8h-0.8zM436.4 51.4h0.8v0.8h-0.8zM435.3 55.9h0.8v0.8h-0.8zM433.9 62.3h0.8v0.8h-0.8zM425.6 63.4h0.8v0.8h-0.8zM424.8 59.1h0.8v0.8h-0.8zM420.5 75.4h0.8v0.8h-0.8zM423.9 62.6h0.8v0.8h-0.8zM422.2 68.1h0.8v0.8h-0.8zM423.9 61.8h0.8v0.8h-0.8zM433 56.4h0.8v0.8h-0.8zM421.9 68.1h0.8v0.8h-0.8zM427 58.1h0.8v0.8h-0.8zM437.9 60.4h0.8v0.8h-0.8zM430.6 61.1h0.8v0.8h-0.8zM422.6 71.2h0.8v0.8h-0.8zM434.7 62.1h0.8v0.8h-0.8zM419.5 64.2h0.8v0.8h-0.8zM426 70.5h0.8v0.8h-0.8zM435.3 64.9h0.8v0.8h-0.8zM422.1 68.6h0.8v0.8h-0.8zM428.5 66.7h0.8v0.8h-0.8zM436 60h0.8v0.8h-0.8zM421.8 63.4h0.8v0.8h-0.8zM434 50.8h0.8v0.8h-0.8zM431.5 63.8h0.8v0.8h-0.8zM435.5 60.2h0.8v0.8h-0.8zM432 52.8h0.8v0.8h-0.8zM432.8 67.8h0.8v0.8h-0.8zM438.4 53h0.8v0.8h-0.8zM442.9 60.8h0.8v0.8h-0.8zM429.3 68.2h0.8v0.8h-0.8zM443.9 55.6h0.8v0.8h-0.8zM426.6 70.7h0.8v0.8h-0.8zM441.5 53.1h0.8v0.8h-0.8zM440 53.5h0.8v0.8h-0.8zM433.3 62.8h0.8v0.8h-0.8zM437.5 58h0.8v0.8h-0.8zM422.4 74.2h0.8v0.8h-0.8zM440.8 52.1h0.8v0.8h-0.8zM424.3 51.8h0.8v0.8h-0.8zM433.3 60.3h0.8v0.8h-0.8zM426.5 53.1h0.8v0.8h-0.8zM435.6 57.3h0.8v0.8h-0.8zM442.1 59.1h0.8v0.8h-0.8zM421.7 67.5h0.8v0.8h-0.8zM434.6 60.3h0.8v0.8h-0.8zM424.9 58.3h0.8v0.8h-0.8zM423.2 68.9h0.8v0.8h-0.8zM440.6 53h0.8v0.8h-0.8zM435.4 69.3h0.8v0.8h-0.8zM423 70.6h0.8v0.8h-0.8zM422.7 63.1h0.8v0.8h-0.8zM430.9 58.3h0.8v0.8h-0.8zM422.9 45.9h0.8v0.8h-0.8zM432.7 51.3h0.8v0.8h-0.8zM436.9 51.8h0.8v0.8h-0.8zM429 60h0.8v0.8h-0.8zM435.7 49.8h0.8v0.8h-0.8zM420.1 69.3h0.8v0.8h-0.8zM424.2 48.7h0.8v0.8h-0.8zM430.9 54h0.8v0.8h-0.8zM427.7 67.6h0.8v0.8h-0.8zM437.8 67.8h0.8v0.8h-0.8zM416.3 68.3h0.8v0.8h-0.8zM430.3 55.7h0.8v0.8h-0.8zM430.4 58.9h0.8v0.8h-0.8zM441.5 60.2h0.8v0.8h-0.8zM442.2 56.4h0.8v0.8h-0.8zM430.4 63.2h0.8v0.8h-0.8zM427.8 70.6h0.8v0.8h-0.8zM435.7 62.9h0.8v0.8h-0.8zM438 67.6h0.8v0.8h-0.8zM437 64.6h0.8v0.8h-0.8zM426.2 63.1h0.8v0.8h-0.8zM436.6 53.3h0.8v0.8h-0.8zM433.9 69.6h0.8v0.8h-0.8zM417.3 66.7h0.8v0.8h-0.8zM428.1 60.3h0.8v0.8h-0.8zM433 54.2h0.8v0.8h-0.8zM430.4 52.2h0.8v0.8h-0.8zM434.6 70.3h0.8v0.8h-0.8zM426 49.3h0.8v0.8h-0.8zM429.7 67.9h0.8v0.8h-0.8zM433.8 57.2h0.8v0.8h-0.8zM423.7 61.8h0.8v0.8h-0.8zM429.5 72.8h0.8v0.8h-0.8zM426.6 66.1h0.8v0.8h-0.8zM421.2 59.3h0.8v0.8h-0.8zM423.9 48.6h0.8v0.8h-0.8zM440.8 58.3h0.8v0.8h-0.8zM442.9 56.4h0.8v0.8h-0.8zM437 61.7h0.8v0.8h-0.8zM429 53.5h0.8v0.8h-0.8zM426.4 64.8h0.8v0.8h-0.8zM432.2 53.1h0.8v0.8h-0.8zM431 66.8h0.8v0.8h-0.8zM444.8 53.4h0.8v0.8h-0.8zM424 68.4h0.8v0.8h-0.8zM442.1 62.5h0.8v0.8h-0.8zM433.5 51.8h0.8v0.8h-0.8zM420.6 65.1h0.8v0.8h-0.8zM436.4 65.4h0.8v0.8h-0.8zM428.8 55.1h0.8v0.8h-0.8zM434.9 56.8h0.8v0.8h-0.8zM424 72.2h0.8v0.8h-0.8zM441.3 51.3h0.8v0.8h-0.8zM442.7 52.5h0.8v0.8h-0.8zM426.6 54.7h0.8v0.8h-0.8zM441.7 65.2h0.8v0.8h-0.8zM433.3 52.3h0.8v0.8h-0.8zM421.8 67.8h0.8v0.8h-0.8zM426.3 70.4h0.8v0.8h-0.8zM431.4 56.8h0.8v0.8h-0.8zM425.5 47.5h0.8v0.8h-0.8zM433.9 60.9h0.8v0.8h-0.8zM422 69.9h0.8v0.8h-0.8zM438.9 65h0.8v0.8h-0.8zM421.4 62h0.8v0.8h-0.8zM421.1 65.1h0.8v0.8h-0.8zM436.7 62h0.8v0.8h-0.8zM434.2 54.8h0.8v0.8h-0.8zM437.2 64h0.8v0.8h-0.8zM430 58.1h0.8v0.8h-0.8zM420.4 62.7h0.8v0.8h-0.8zM434.2 54.4h0.8v0.8h-0.8zM429.5 67.8h0.8v0.8h-0.8zM429.2 68.6h0.8v0.8h-0.8zM423 54.6h0.8v0.8h-0.8zM435.2 61.3h0.8v0.8h-0.8zM428.5 67.2h0.8v0.8h-0.8zM441.1 62.3h0.8v0.8h-0.8zM427.9 53.1h0.8v0.8h-0.8zM431.8 56.6h0.8v0.8h-0.8zM420.3 65.3h0.8v0.8h-0.8zM422.2 60.9h0.8v0.8h-0.8zM442.1 66.6h0.8v0.8h-0.8zM423.6 62.7h0.8v0.8h-0.8zM438.5 64.2h0.8v0.8h-0.8zM444.9 61.3h0.8v0.8h-0.8zM430 59.1h0.8v0.8h-0.8zM434.3 58.6h0.8v0.8h-0.8zM435.9 69.3h0.8v0.8h-0.8zM422.4 65.5h0.8v0.8h-0.8zM427.9 62h0.8v0.8h-0.8zM431 58.1h0.8v0.8h-0.8zM422.4 59.6h0.8v0.8h-0.8zM420.8 70.2h0.8v0.8h-0.8zM427.1 50.9h0.8v0.8h-0.8zM438.5 63.4h0.8v0.8h-0.8zM423.5 71.7h0.8v0.8h-0.8zM438.1 66.4h0.8v0.8h-0.8zM425.4 63.5h0.8v0.8h-0.8zM433.4 54.8h0.8v0.8h-0.8zM421.4 69.6h0.8v0.8h-0.8zM438.3 65.9h0.8v0.8h-0.8zM439.8 55h0.8v0.8h-0.8zM439.6 58.6h0.8v0.8h-0.8zM420.3 67.8h0.8v0.8h-0.8zM429.7 58.7h0.8v0.8h-0.8zM423.7 66.5h0.8v0.8h-0.8zM433 66.2h0.8v0.8h-0.8zM425.5 53.3h0.8v0.8h-0.8zM427.3 52.9h0.8v0.8h-0.8zM432.8 55.6h0.8v0.8h-0.8zM430.5 61.3h0.8v0.8h-0.8zM423 48.9h0.8v0.8h-0.8zM422.6 58h0.8v0.8h-0.8zM428.8 69h0.8v0.8h-0.8zM420.5 61.8h0.8v0.8h-0.8zM435.4 54.5h0.8v0.8h-0.8zM431.6 58.1h0.8v0.8h-0.8zM444.3 59.3h0.8v0.8h-0.8zM444.4 63.3h0.8v0.8h-0.8zM428.2 70.7h0.8v0.8h-0.8zM431.1 59h0.8v0.8h-0.8zM426.2 56.7h0.8v0.8h-0.8zM434.8 58.4h0.8v0.8h-0.8zM428.2 59.6h0.8v0.8h-0.8zM433.5 61.5h0.8v0.8h-0.8zM423.8 60.7h0.8v0.8h-0.8zM433.8 52h0.8v0.8h-0.8zM427.5 67.5h0.8v0.8h-0.8zM438.5 58.1h0.8v0.8h-0.8zM434.9 66.7h0.8v0.8h-0.8zM441.8 54.9h0.8v0.8h-0.8zM437 52.6h0.8v0.8h-0.8zM417.5 66.1h0.8v0.8h-0.8zM430.1 53h0.8v0.8h-0.8zM440.5 57.9h0.8v0.8h-0.8zM439.9 61.9h0.8v0.8h-0.8zM434.6 51.1h0.8v0.8h-0.8zM433.1 64.4h0.8v0.8h-0.8zM424.7 69.7h0.8v0.8h-0.8zM438 55.8h0.8v0.8h-0.8zM424.8 67.5h0.8v0.8h-0.8zM434.5 68.8h0.8v0.8h-0.8zM432.9 56.1h0.8v0.8h-0.8zM421.6 67.5h0.8v0.8h-0.8zM439.3 52.1h0.8v0.8h-0.8zM424.6 63.4h0.8v0.8h-0.8zM429.6 66h0.8v0.8h-0.8zM432.4 62.1h0.8v0.8h-0.8zM426.7 56.1h0.8v0.8h-0.8zM438.8 63.5h0.8v0.8h-0.8zM420.6 67.4h0.8v0.8h-0.8zM424.1 62.3h0.8v0.8h-0.8zM438.1 65.2h0.8v0.8h-0.8zM424.6 52.4h0.8v0.8h-0.8zM443.2 54.1h0.8v0.8h-0.8zM433.4 59.5h0.8v0.8h-0.8zM438.3 67.9h0.8v0.8h-0.8zM439.2 61.9h0.8v0.8h-0.8zM420.6 70.5h0.8v0.8h-0.8zM418.1 66.7h0.8v0.8h-0.8zM439.9 55.8h0.8v0.8h-0.8zM420.3 64.7h0.8v0.8h-0.8zM423.1 66.1h0.8v0.8h-0.8zM435.5 70.6h0.8v0.8h-0.8zM439.9 58.8h0.8v0.8h-0.8zM420.6 68.3h0.8v0.8h-0.8zM439.2 67.5h0.8v0.8h-0.8zM430.9 67.6h0.8v0.8h-0.8zM426.5 68.8h0.8v0.8h-0.8zM426.8 61.4h0.8v0.8h-0.8zM418.9 69.2h0.8v0.8h-0.8zM437.3 66.3h0.8v0.8h-0.8zM442.4 57.4h0.8v0.8h-0.8zM425.6 46.5h0.8v0.8h-0.8zM424.2 49.3h0.8v0.8h-0.8zM429.9 72.5h0.8v0.8h-0.8zM420.8 71.5h0.8v0.8h-0.8zM417.2 65.5h0.8v0.8h-0.8zM421.4 59.9h0.8v0.8h-0.8zM442.3 58.4h0.8v0.8h-0.8zM428.6 63.3h0.8v0.8h-0.8zM432.5 60.3h0.8v0.8h-0.8zM425.9 49.6h0.8v0.8h-0.8zM444.7 58.6h0.8v0.8h-0.8zM437.7 68.6h0.8v0.8h-0.8zM421.7 60.7h0.8v0.8h-0.8zM422.9 47.5h0.8v0.8h-0.8zM434.6 67.7h0.8v0.8h-0.8zM434.5 62.5h0.8v0.8h-0.8zM428.3 58.3h0.8v0.8h-0.8zM426.7 57.3h0.8v0.8h-0.8zM427.7 58.1h0.8v0.8h-0.8zM425.4 44.9h0.8v0.8h-0.8zM425.2 59.3h0.8v0.8h-0.8zM423.5 51.6h0.8v0.8h-0.8zM430.8 58.5h0.8v0.8h-0.8zM421.7 62.5h0.8v0.8h-0.8zM420.2 67.2h0.8v0.8h-0.8zM437.9 57.9h0.8v0.8h-0.8zM434.1 59.9h0.8v0.8h-0.8zM422.9 55.2h0.8v0.8h-0.8zM430.3 70.1h0.8v0.8h-0.8zM427.4 72.2h0.8v0.8h-0.8zM428.4 62.8h0.8v0.8h-0.8zM426.8 62.7h0.8v0.8h-0.8zM424.1 64h0.8v0.8h-0.8zM430 71.9h0.8v0.8h-0.8zM426.7 56.1h0.8v0.8h-0.8zM431.1 55.2h0.8v0.8h-0.8zM429.3 74.3h0.8v0.8h-0.8zM431.7 65.6h0.8v0.8h-0.8zM420 71.9h0.8v0.8h-0.8zM430.5 61.3h0.8v0.8h-0.8zM426.7 65.1h0.8v0.8h-0.8zM438.2 58.4h0.8v0.8h-0.8zM422.4 68.8h0.8v0.8h-0.8zM424.1 55h0.8v0.8h-0.8zM425 59.7h0.8v0.8h-0.8zM431 52.6h0.8v0.8h-0.8zM436.5 55.5h0.8v0.8h-0.8zM435.5 65.8h0.8v0.8h-0.8zM425.2 52h0.8v0.8h-0.8zM423.3 49.7h0.8v0.8h-0.8zM430.5 58.9h0.8v0.8h-0.8zM444.6 59.6h0.8v0.8h-0.8zM421.2 62.4h0.8v0.8h-0.8zM425.4 69.4h0.8v0.8h-0.8zM436.5 68.5h0.8v0.8h-0.8zM436.5 55.3h0.8v0.8h-0.8zM427.3 61.1h0.8v0.8h-0.8zM427.9 70.6h0.8v0.8h-0.8zM439.5 59.9h0.8v0.8h-0.8zM419.4 71.3h0.8v0.8h-0.8zM438 66.5h0.8v0.8h-0.8zM426.3 48.7h0.8v0.8h-0.8zM428.7 57h0.8v0.8h-0.8zM429.9 69.4h0.8v0.8h-0.8zM432.5 66.3h0.8v0.8h-0.8zM438.1 56.1h0.8v0.8h-0.8zM432.8 58h0.8v0.8h-0.8zM440.7 54.8h0.8v0.8h-0.8zM439.4 60.4h0.8v0.8h-0.8zM430.6 62.7h0.8v0.8h-0.8zM437 62.6h0.8v0.8h-0.8z" fill="#4a6bbe"/>
<path d="M400.2 78.7h0.8v0.8h-0.8zM393.6 83h0.8v0.8h-0.8zM395.6 85.5h0.8v0.8h-0.8zM401.3 87.2h0.8v0.8h-0.8zM396.1 88.8h0.8v0.8h-0.8zM398.8 82.2h0.8v0.8h-0.8zM399.9 89.6h0.8v0.8h-0.8zM401 82.9h0.8v0.8h-0.8zM395.5 85.5h0.8v0.8h-0.8zM390.8 85h0.8v0.8h-0.8zM398.2 77.1h0.8v0.8h-0.8zM397.9 83.9h0.8v0.8h-0.8zM396.6 89.3h0.8v0.8h-0.8zM392.5 82.2h0.8v0.8h-0.8zM404.4 80.1h0.8v0.8h-0.8zM397.4 79.9h0.8v0.8h-0.8zM398.8 79.5h0.8v0.8h-0.8zM400 83.3h0.8v0.8h-0.8zM390.2 82.7h0.8v0.8h-0.8zM403.9 87.1h0.8v0.8h-0.8zM397.1 80.7h0.8v0.8h-0.8zM396.6 85.9h0.8v0.8h-0.8zM394.7 89.5h0.8v0.8h-0.8zM399.9 88.2h0.8v0.8h-0.8zM398 89.6h0.8v0.8h-0.8zM403.4 80.1h0.8v0.8h-0.8zM400.4 88.5h0.8v0.8h-0.8zM394.8 87.8h0.8v0.8h-0.8zM403.4 81.2h0.8v0.8h-0.8zM393.3 85.9h0.8v0.8h-0.8zM400.7 81.8h0.8v0.8h-0.8zM398.9 86.9h0.8v0.8h-0.8zM395.5 80.3h0.8v0.8h-0.8zM401.5 84.9h0.8v0.8h-0.8zM398.9 89.7h0.8v0.8h-0.8zM389.9 83.8h0.8v0.8h-0.8zM404.2 83.6h0.8v0.8h-0.8zM399.3 82.6h0.8v0.8h-0.8zM400.6 80.3h0.8v0.8h-0.8zM403 88.5h0.8v0.8h-0.8z" fill="#d8c088"/>
<path d="M431.5 83.9h0.8v0.8h-0.8zM423.6 75.9h0.8v0.8h-0.8zM430.7 75.9h0.8v0.8h-0.8zM435.3 79.8h0.8v0.8h-0.8zM420.7 79.5h0.8v0.8h-0.8zM433.4 77.1h0.8v0.8h-0.8zM427.3 90.4h0.8v0.8h-0.8zM430.9 80.6h0.8v0.8h-0.8zM430.3 81.7h0.8v0.8h-0.8zM429.4 81.5h0.8v0.8h-0.8zM429 89.1h0.8v0.8h-0.8zM422.9 75.9h0.8v0.8h-0.8zM423.4 85.4h0.8v0.8h-0.8zM433.9 79.4h0.8v0.8h-0.8zM422 79.2h0.8v0.8h-0.8zM423.5 80.3h0.8v0.8h-0.8zM430 75.9h0.8v0.8h-0.8zM434.5 78.7h0.8v0.8h-0.8zM423.4 87.1h0.8v0.8h-0.8zM423.5 88.9h0.8v0.8h-0.8zM423.5 83.6h0.8v0.8h-0.8zM431.1 79.9h0.8v0.8h-0.8zM431.4 85.8h0.8v0.8h-0.8zM432.4 84.5h0.8v0.8h-0.8zM422.6 89.5h0.8v0.8h-0.8zM426.4 80.3h0.8v0.8h-0.8zM420.6 84.6h0.8v0.8h-0.8zM432.6 75.2h0.8v0.8h-0.8zM427.6 76.9h0.8v0.8h-0.8zM435.9 78.9h0.8v0.8h-0.8zM435.3 73.8h0.8v0.8h-0.8zM424.2 79.1h0.8v0.8h-0.8zM426.9 75.3h0.8v0.8h-0.8zM430.7 81.6h0.8v0.8h-0.8zM424.9 84.6h0.8v0.8h-0.8zM423.5 87.1h0.8v0.8h-0.8zM425.7 83.4h0.8v0.8h-0.8zM425 75.7h0.8v0.8h-0.8zM431.6 85.5h0.8v0.8h-0.8zM433 85.3h0.8v0.8h-0.8zM426.2 79.3h0.8v0.8h-0.8zM426.8 75.1h0.8v0.8h-0.8zM425.5 88.8h0.8v0.8h-0.8zM428.5 87.2h0.8v0.8h-0.8zM422.1 85h0.8v0.8h-0.8zM422.7 79.9h0.8v0.8h-0.8zM422.3 78.2h0.8v0.8h-0.8zM426.2 79h0.8v0.8h-0.8zM431.9 81.9h0.8v0.8h-0.8zM434.7 82.8h0.8v0.8h-0.8zM432.9 75.2h0.8v0.8h-0.8zM428.3 84.2h0.8v0.8h-0.8zM419.6 86.6h0.8v0.8h-0.8zM419.8 87.6h0.8v0.8h-0.8zM422.3 86.9h0.8v0.8h-0.8zM424.8 91h0.8v0.8h-0.8zM429.8 77.5h0.8v0.8h-0.8zM432.8 76.9h0.8v0.8h-0.8zM427.8 84.2h0.8v0.8h-0.8zM431 76.7h0.8v0.8h-0.8zM429 82.6h0.8v0.8h-0.8zM429.5 84.6h0.8v0.8h-0.8zM421.5 83.5h0.8v0.8h-0.8zM434 80.6h0.8v0.8h-0.8zM431.6 81.4h0.8v0.8h-0.8zM430.8 76.5h0.8v0.8h-0.8zM422.4 88.5h0.8v0.8h-0.8zM426.4 79.3h0.8v0.8h-0.8zM431.9 76.8h0.8v0.8h-0.8zM434.8 81.2h0.8v0.8h-0.8zM426.3 83h0.8v0.8h-0.8zM427.2 75.1h0.8v0.8h-0.8zM423.4 81.8h0.8v0.8h-0.8zM422.4 80.7h0.8v0.8h-0.8zM427.4 87.3h0.8v0.8h-0.8zM421 80.2h0.8v0.8h-0.8zM433.3 79.8h0.8v0.8h-0.8zM429.9 83h0.8v0.8h-0.8zM429 84.1h0.8v0.8h-0.8zM424.3 86.5h0.8v0.8h-0.8zM425.1 77.6h0.8v0.8h-0.8zM423.3 81.7h0.8v0.8h-0.8zM422.6 87.7h0.8v0.8h-0.8zM432.2 85.4h0.8v0.8h-0.8zM434.4 78.5h0.8v0.8h-0.8zM434 82.1h0.8v0.8h-0.8zM427.9 75.5h0.8v0.8h-0.8zM428.9 89.4h0.8v0.8h-0.8zM426.3 77h0.8v0.8h-0.8zM429.6 81h0.8v0.8h-0.8zM419.2 89.3h0.8v0.8h-0.8zM419.6 81.7h0.8v0.8h-0.8zM426.2 74.4h0.8v0.8h-0.8zM425.4 87.2h0.8v0.8h-0.8zM435 74.9h0.8v0.8h-0.8zM423 86.1h0.8v0.8h-0.8zM434.8 81.7h0.8v0.8h-0.8zM427.6 87.8h0.8v0.8h-0.8zM429 73.8h0.8v0.8h-0.8zM435.1 76.6h0.8v0.8h-0.8zM435.4 79.2h0.8v0.8h-0.8zM428.3 83.4h0.8v0.8h-0.8zM426.7 77.7h0.8v0.8h-0.8zM420.3 86.2h0.8v0.8h-0.8zM419.1 82.7h0.8v0.8h-0.8zM435.3 79.5h0.8v0.8h-0.8zM420.9 86.6h0.8v0.8h-0.8zM429.1 83h0.8v0.8h-0.8zM430.3 74.9h0.8v0.8h-0.8zM430.9 84.7h0.8v0.8h-0.8zM426.8 76.6h0.8v0.8h-0.8zM422.3 79.6h0.8v0.8h-0.8zM428.8 75.9h0.8v0.8h-0.8zM427.6 86h0.8v0.8h-0.8zM424.1 82.9h0.8v0.8h-0.8zM429.3 79.3h0.8v0.8h-0.8zM427.7 76h0.8v0.8h-0.8zM425.4 75.9h0.8v0.8h-0.8zM436 78h0.8v0.8h-0.8zM418.1 87.7h0.8v0.8h-0.8zM426.4 86h0.8v0.8h-0.8zM431.8 85h0.8v0.8h-0.8zM423.2 77.9h0.8v0.8h-0.8zM426.2 83.3h0.8v0.8h-0.8zM435.7 81.8h0.8v0.8h-0.8zM420.5 84.2h0.8v0.8h-0.8zM430 82.9h0.8v0.8h-0.8zM433.5 84h0.8v0.8h-0.8zM435 84h0.8v0.8h-0.8zM430.5 88.1h0.8v0.8h-0.8zM433.7 80.6h0.8v0.8h-0.8zM420.3 82.7h0.8v0.8h-0.8zM433.3 74.6h0.8v0.8h-0.8zM423.7 75.7h0.8v0.8h-0.8zM431.1 83.8h0.8v0.8h-0.8z" fill="#d9675a"/>
<path d="M442.3 78.4h0.8v0.8h-0.8zM445 81.6h0.8v0.8h-0.8zM444.9 79.1h0.8v0.8h-0.8zM444.3 80.7h0.8v0.8h-0.8zM445.8 80.6h0.8v0.8h-0.8zM446.8 85h0.8v0.8h-0.8zM446.8 82.3h0.8v0.8h-0.8zM444.8 80.6h0.8v0.8h-0.8zM442.6 78.4h0.8v0.8h-0.8zM447.8 84.8h0.8v0.8h-0.8zM446.8 81.5h0.8v0.8h-0.8zM443.9 79.6h0.8v0.8h-0.8zM445.9 84.1h0.8v0.8h-0.8zM449.3 81.8h0.8v0.8h-0.8zM447.2 79.1h0.8v0.8h-0.8zM446 82.8h0.8v0.8h-0.8zM443.9 77.8h0.8v0.8h-0.8zM443.5 79.8h0.8v0.8h-0.8zM442 80.4h0.8v0.8h-0.8zM440 77.8h0.8v0.8h-0.8zM443 79.6h0.8v0.8h-0.8zM440.9 75.3h0.8v0.8h-0.8zM443.2 77.7h0.8v0.8h-0.8zM443.9 79.4h0.8v0.8h-0.8zM441.2 76.3h0.8v0.8h-0.8zM443.1 77.3h0.8v0.8h-0.8zM446.2 82.6h0.8v0.8h-0.8zM446.6 79.8h0.8v0.8h-0.8z" fill="#f2952b"/>
<circle cx="446" cy="94" r="0.5" fill="#f2952b"/>
<path d="M471.7 64.8h0.8v0.8h-0.8zM460.4 65h0.8v0.8h-0.8zM469.3 66h0.8v0.8h-0.8zM469.9 67.1h0.8v0.8h-0.8zM461.4 62.4h0.8v0.8h-0.8zM464.6 71.8h0.8v0.8h-0.8zM459.6 71.4h0.8v0.8h-0.8zM465.5 65.1h0.8v0.8h-0.8zM464.1 70.6h0.8v0.8h-0.8zM459.9 71.1h0.8v0.8h-0.8zM468.2 67.1h0.8v0.8h-0.8zM471 65h0.8v0.8h-0.8zM464.5 60.7h0.8v0.8h-0.8zM461.4 66.1h0.8v0.8h-0.8zM469.1 64.5h0.8v0.8h-0.8zM467.8 62.7h0.8v0.8h-0.8zM467.7 67.7h0.8v0.8h-0.8zM472.4 66.2h0.8v0.8h-0.8zM470.1 67.1h0.8v0.8h-0.8zM455.7 68.8h0.8v0.8h-0.8zM456.3 67.6h0.8v0.8h-0.8zM471.7 63.4h0.8v0.8h-0.8zM468.4 69.6h0.8v0.8h-0.8zM459.7 68.5h0.8v0.8h-0.8zM468 67h0.8v0.8h-0.8zM466.6 66.8h0.8v0.8h-0.8zM467.3 69.1h0.8v0.8h-0.8zM462.7 67.2h0.8v0.8h-0.8zM466.4 60.3h0.8v0.8h-0.8zM468.2 67.3h0.8v0.8h-0.8zM457.1 65.7h0.8v0.8h-0.8zM457.8 68.3h0.8v0.8h-0.8zM469.8 64h0.8v0.8h-0.8zM467.2 67.6h0.8v0.8h-0.8zM461.6 66.6h0.8v0.8h-0.8zM466.9 64.1h0.8v0.8h-0.8zM460.1 66.8h0.8v0.8h-0.8zM456.6 70.3h0.8v0.8h-0.8zM459.5 67.3h0.8v0.8h-0.8zM471.3 67.1h0.8v0.8h-0.8zM455.9 66.4h0.8v0.8h-0.8zM464.4 63.2h0.8v0.8h-0.8zM471.5 68.2h0.8v0.8h-0.8zM468.2 70.3h0.8v0.8h-0.8zM460.2 65.3h0.8v0.8h-0.8zM467.9 70.6h0.8v0.8h-0.8zM459.8 66h0.8v0.8h-0.8zM457.6 70.9h0.8v0.8h-0.8zM463.1 72h0.8v0.8h-0.8zM468.5 62.7h0.8v0.8h-0.8zM454.8 67.4h0.8v0.8h-0.8zM471.7 61.9h0.8v0.8h-0.8zM465.1 67.5h0.8v0.8h-0.8zM457.6 62.6h0.8v0.8h-0.8zM468.8 67h0.8v0.8h-0.8zM469.6 66.1h0.8v0.8h-0.8zM467 64.3h0.8v0.8h-0.8zM465.8 66.2h0.8v0.8h-0.8zM463.1 65.9h0.8v0.8h-0.8zM463.1 63.5h0.8v0.8h-0.8zM458.6 63h0.8v0.8h-0.8zM461.2 67.2h0.8v0.8h-0.8zM464.9 62.1h0.8v0.8h-0.8zM467.8 63.5h0.8v0.8h-0.8zM470.4 62.6h0.8v0.8h-0.8zM470.3 62.4h0.8v0.8h-0.8zM463.8 68.2h0.8v0.8h-0.8zM472.1 66h0.8v0.8h-0.8zM461 66.5h0.8v0.8h-0.8zM459.8 69.1h0.8v0.8h-0.8zM465.9 66h0.8v0.8h-0.8zM462.8 63.5h0.8v0.8h-0.8zM458.2 72h0.8v0.8h-0.8zM471.9 66.6h0.8v0.8h-0.8zM458.5 71h0.8v0.8h-0.8zM467.2 64.4h0.8v0.8h-0.8zM464.8 69h0.8v0.8h-0.8zM459.7 69h0.8v0.8h-0.8zM458.8 66.3h0.8v0.8h-0.8zM462.9 62.2h0.8v0.8h-0.8zM467.8 70.8h0.8v0.8h-0.8zM458.6 72.4h0.8v0.8h-0.8zM461 67.2h0.8v0.8h-0.8zM468 66.2h0.8v0.8h-0.8zM465.6 68.3h0.8v0.8h-0.8zM458.3 68.3h0.8v0.8h-0.8zM464.8 67h0.8v0.8h-0.8zM460.6 64.2h0.8v0.8h-0.8zM470.2 63.9h0.8v0.8h-0.8zM458.6 65.7h0.8v0.8h-0.8zM456.2 69.6h0.8v0.8h-0.8zM466.5 64h0.8v0.8h-0.8zM458.2 70.8h0.8v0.8h-0.8zM456.6 69.2h0.8v0.8h-0.8zM466.2 63.6h0.8v0.8h-0.8zM470.1 66.8h0.8v0.8h-0.8zM467.9 66.1h0.8v0.8h-0.8zM468.2 67.9h0.8v0.8h-0.8zM463.8 70h0.8v0.8h-0.8zM462.8 66.9h0.8v0.8h-0.8zM464.5 67.8h0.8v0.8h-0.8zM469.4 69h0.8v0.8h-0.8zM459.2 64.9h0.8v0.8h-0.8zM461.5 68.5h0.8v0.8h-0.8zM461.4 69.9h0.8v0.8h-0.8zM456 70.3h0.8v0.8h-0.8zM464.4 67.8h0.8v0.8h-0.8zM468.5 63h0.8v0.8h-0.8zM458.3 65.7h0.8v0.8h-0.8zM455.9 68.5h0.8v0.8h-0.8zM468.7 64.9h0.8v0.8h-0.8zM468.1 71.3h0.8v0.8h-0.8zM468.5 62.3h0.8v0.8h-0.8zM464.2 62.5h0.8v0.8h-0.8zM466.7 61.6h0.8v0.8h-0.8z" fill="#2d6a35"/>
<path d="M467.7 85.6h0.8v0.8h-0.8zM458.6 86.3h0.8v0.8h-0.8zM458.1 80.2h0.8v0.8h-0.8zM467.3 81.8h0.8v0.8h-0.8zM466.2 81.5h0.8v0.8h-0.8zM460.7 77.4h0.8v0.8h-0.8zM459.1 85h0.8v0.8h-0.8zM459.3 83.8h0.8v0.8h-0.8zM466.7 84.4h0.8v0.8h-0.8zM467.3 80.2h0.8v0.8h-0.8zM467.4 83.6h0.8v0.8h-0.8zM462 76.1h0.8v0.8h-0.8zM460.8 81.5h0.8v0.8h-0.8zM464.8 87.1h0.8v0.8h-0.8zM457.7 80.6h0.8v0.8h-0.8zM462.6 77.7h0.8v0.8h-0.8zM466 80.9h0.8v0.8h-0.8zM460.9 85.4h0.8v0.8h-0.8zM466 87.3h0.8v0.8h-0.8zM464.3 83.5h0.8v0.8h-0.8zM465.5 84.1h0.8v0.8h-0.8zM461.6 83.7h0.8v0.8h-0.8zM462.3 77.5h0.8v0.8h-0.8zM464.5 86.8h0.8v0.8h-0.8zM459.1 78.7h0.8v0.8h-0.8zM463.8 86.4h0.8v0.8h-0.8zM462.9 83.9h0.8v0.8h-0.8zM467 78.4h0.8v0.8h-0.8zM464.4 77.2h0.8v0.8h-0.8zM460.8 77.2h0.8v0.8h-0.8zM463.8 87.1h0.8v0.8h-0.8zM465 80.1h0.8v0.8h-0.8zM463.4 79.5h0.8v0.8h-0.8zM462.1 83.3h0.8v0.8h-0.8zM463.6 83.7h0.8v0.8h-0.8zM461.7 85.7h0.8v0.8h-0.8zM458.4 80h0.8v0.8h-0.8zM465.5 85.7h0.8v0.8h-0.8zM467 83.3h0.8v0.8h-0.8zM456.1 81.4h0.8v0.8h-0.8zM459.2 82.7h0.8v0.8h-0.8zM464.5 81.8h0.8v0.8h-0.8zM460.6 77.6h0.8v0.8h-0.8zM469.8 81.6h0.8v0.8h-0.8zM466 82.5h0.8v0.8h-0.8zM461.6 86.3h0.8v0.8h-0.8zM458.3 80.4h0.8v0.8h-0.8zM463.9 84.3h0.8v0.8h-0.8zM463.9 84.6h0.8v0.8h-0.8zM466.4 83.3h0.8v0.8h-0.8zM459 81.7h0.8v0.8h-0.8zM457.9 77.1h0.8v0.8h-0.8zM464 81.9h0.8v0.8h-0.8zM459.5 84.8h0.8v0.8h-0.8zM461.4 84.7h0.8v0.8h-0.8zM463.1 81.6h0.8v0.8h-0.8zM464.9 80.9h0.8v0.8h-0.8zM462.9 82.9h0.8v0.8h-0.8zM463.5 77.8h0.8v0.8h-0.8zM459.2 81.7h0.8v0.8h-0.8zM458.7 87.3h0.8v0.8h-0.8zM461.4 87h0.8v0.8h-0.8zM463.2 79.1h0.8v0.8h-0.8zM466.8 83.4h0.8v0.8h-0.8zM469 81.1h0.8v0.8h-0.8zM459.3 80.2h0.8v0.8h-0.8zM464.5 81.1h0.8v0.8h-0.8zM460.7 83.9h0.8v0.8h-0.8zM462.8 76.7h0.8v0.8h-0.8zM468.9 83.7h0.8v0.8h-0.8zM464.6 86.9h0.8v0.8h-0.8zM470.2 83.6h0.8v0.8h-0.8zM466.5 83.5h0.8v0.8h-0.8zM467.2 82.2h0.8v0.8h-0.8zM460.6 78.3h0.8v0.8h-0.8zM465.6 86.2h0.8v0.8h-0.8zM462.4 78.4h0.8v0.8h-0.8zM460.2 84.6h0.8v0.8h-0.8zM464.2 87.9h0.8v0.8h-0.8zM466.2 78.1h0.8v0.8h-0.8zM461.3 80.1h0.8v0.8h-0.8zM464.6 80h0.8v0.8h-0.8zM464.6 85.4h0.8v0.8h-0.8zM463.2 78.7h0.8v0.8h-0.8zM463.5 81.7h0.8v0.8h-0.8zM464.1 85.5h0.8v0.8h-0.8zM461.1 84.8h0.8v0.8h-0.8zM465 80.5h0.8v0.8h-0.8zM455.5 81.9h0.8v0.8h-0.8zM460.7 82.4h0.8v0.8h-0.8zM464.8 87.6h0.8v0.8h-0.8zM462.7 86.8h0.8v0.8h-0.8zM462.9 85.9h0.8v0.8h-0.8zM462.9 84.9h0.8v0.8h-0.8zM463.5 84.2h0.8v0.8h-0.8zM464.9 81.6h0.8v0.8h-0.8zM461.2 84.7h0.8v0.8h-0.8zM459.4 81.8h0.8v0.8h-0.8zM467.6 84.1h0.8v0.8h-0.8zM463.5 84.8h0.8v0.8h-0.8z" fill="#b8dcc0"/>
<path d="M397.8 102.1h0.8v0.8h-0.8zM396.3 108.3h0.8v0.8h-0.8zM387.4 101h0.8v0.8h-0.8zM399.2 104.8h0.8v0.8h-0.8zM388.3 121.5h0.8v0.8h-0.8zM384 100.9h0.8v0.8h-0.8zM394.3 120h0.8v0.8h-0.8zM383 105.1h0.8v0.8h-0.8zM390.1 115.1h0.8v0.8h-0.8zM389.7 114.3h0.8v0.8h-0.8zM384.1 99.7h0.8v0.8h-0.8zM395.9 97.7h0.8v0.8h-0.8zM395.4 117.5h0.8v0.8h-0.8zM392.2 107.3h0.8v0.8h-0.8zM400.9 108.8h0.8v0.8h-0.8zM388.4 109.3h0.8v0.8h-0.8zM396.5 107.6h0.8v0.8h-0.8zM396.7 117.3h0.8v0.8h-0.8zM392.3 106.5h0.8v0.8h-0.8zM386.9 116h0.8v0.8h-0.8zM391 97.1h0.8v0.8h-0.8zM390.4 110.2h0.8v0.8h-0.8zM389.9 107.6h0.8v0.8h-0.8zM386.1 117.9h0.8v0.8h-0.8zM389.4 119.7h0.8v0.8h-0.8zM386.9 106h0.8v0.8h-0.8zM381 110.6h0.8v0.8h-0.8zM400.2 111.4h0.8v0.8h-0.8zM394.7 116.5h0.8v0.8h-0.8zM394.1 101.9h0.8v0.8h-0.8zM385.2 109.9h0.8v0.8h-0.8zM399.2 99.9h0.8v0.8h-0.8zM392.5 110.4h0.8v0.8h-0.8zM394.4 105h0.8v0.8h-0.8zM397.8 108.8h0.8v0.8h-0.8zM399.6 106.3h0.8v0.8h-0.8zM394.6 119.2h0.8v0.8h-0.8zM386.2 106.2h0.8v0.8h-0.8zM396.1 110.5h0.8v0.8h-0.8zM395.3 120.3h0.8v0.8h-0.8zM385.4 101.7h0.8v0.8h-0.8zM389.4 113.4h0.8v0.8h-0.8zM388 112.6h0.8v0.8h-0.8zM386.8 102.2h0.8v0.8h-0.8zM395.4 116.4h0.8v0.8h-0.8zM396.5 110.2h0.8v0.8h-0.8zM393.9 120.6h0.8v0.8h-0.8zM394.5 105.9h0.8v0.8h-0.8zM391.9 95.6h0.8v0.8h-0.8zM393.2 119.7h0.8v0.8h-0.8zM386.9 102.9h0.8v0.8h-0.8zM386.1 110.1h0.8v0.8h-0.8zM385.5 105.4h0.8v0.8h-0.8zM395.2 100.4h0.8v0.8h-0.8zM396.5 100h0.8v0.8h-0.8zM394.2 100.5h0.8v0.8h-0.8zM383.3 104.1h0.8v0.8h-0.8zM394.9 112.7h0.8v0.8h-0.8zM392.4 110.4h0.8v0.8h-0.8zM385.3 104.9h0.8v0.8h-0.8zM386.7 108.1h0.8v0.8h-0.8zM387.8 118.3h0.8v0.8h-0.8zM386 111.2h0.8v0.8h-0.8zM389.4 100h0.8v0.8h-0.8zM384.4 103h0.8v0.8h-0.8zM396 106.8h0.8v0.8h-0.8zM390.4 122.2h0.8v0.8h-0.8zM383.8 119.8h0.8v0.8h-0.8zM379.5 114.5h0.8v0.8h-0.8zM395.1 116.8h0.8v0.8h-0.8zM393.9 96.8h0.8v0.8h-0.8zM391.4 106.3h0.8v0.8h-0.8zM397.3 100h0.8v0.8h-0.8zM387.7 118.7h0.8v0.8h-0.8zM397.2 104.4h0.8v0.8h-0.8zM389 116.5h0.8v0.8h-0.8zM384.2 109.3h0.8v0.8h-0.8zM390.1 99.4h0.8v0.8h-0.8zM394.1 114.6h0.8v0.8h-0.8zM383.5 113.4h0.8v0.8h-0.8zM381.9 100.5h0.8v0.8h-0.8zM391.4 103h0.8v0.8h-0.8zM383.7 107.7h0.8v0.8h-0.8zM384 115.3h0.8v0.8h-0.8zM381.8 112.5h0.8v0.8h-0.8zM398.4 98h0.8v0.8h-0.8zM389.7 109.1h0.8v0.8h-0.8zM385 99.5h0.8v0.8h-0.8zM387.1 121.4h0.8v0.8h-0.8zM381.7 108h0.8v0.8h-0.8zM388.8 122.5h0.8v0.8h-0.8zM396.2 113.7h0.8v0.8h-0.8zM387 121.8h0.8v0.8h-0.8zM399 104.8h0.8v0.8h-0.8zM394.6 116.9h0.8v0.8h-0.8zM382.8 111.8h0.8v0.8h-0.8zM395.8 108.4h0.8v0.8h-0.8zM393.4 118.8h0.8v0.8h-0.8zM380 112.7h0.8v0.8h-0.8zM395.7 116.7h0.8v0.8h-0.8zM394.6 99.7h0.8v0.8h-0.8zM386.2 122.3h0.8v0.8h-0.8zM389.9 123.2h0.8v0.8h-0.8zM397 110.7h0.8v0.8h-0.8zM396.3 110.9h0.8v0.8h-0.8zM393.1 98.5h0.8v0.8h-0.8zM388.9 117h0.8v0.8h-0.8zM391.4 110.3h0.8v0.8h-0.8zM393 98h0.8v0.8h-0.8zM383 115.2h0.8v0.8h-0.8zM397.1 98.7h0.8v0.8h-0.8zM397.8 106.9h0.8v0.8h-0.8zM393.6 99.3h0.8v0.8h-0.8zM387.2 100.6h0.8v0.8h-0.8zM389.9 98.1h0.8v0.8h-0.8zM398.8 97.9h0.8v0.8h-0.8zM383 112.6h0.8v0.8h-0.8zM384.5 107.8h0.8v0.8h-0.8zM385.3 104.8h0.8v0.8h-0.8zM390 109.9h0.8v0.8h-0.8zM389.3 104h0.8v0.8h-0.8zM395.8 101.6h0.8v0.8h-0.8zM386.7 109h0.8v0.8h-0.8zM392.8 98.2h0.8v0.8h-0.8zM392.3 112.6h0.8v0.8h-0.8zM388 114.6h0.8v0.8h-0.8zM384.3 108.2h0.8v0.8h-0.8zM387.5 112.6h0.8v0.8h-0.8zM392.8 108.1h0.8v0.8h-0.8zM381.4 113.5h0.8v0.8h-0.8zM395.9 108.5h0.8v0.8h-0.8zM394.7 109h0.8v0.8h-0.8zM385.4 114h0.8v0.8h-0.8zM400.1 104.1h0.8v0.8h-0.8zM395.3 106.3h0.8v0.8h-0.8zM397.4 106.9h0.8v0.8h-0.8zM391.3 100.6h0.8v0.8h-0.8zM380.3 110.8h0.8v0.8h-0.8zM396.6 110.4h0.8v0.8h-0.8zM384.2 119.9h0.8v0.8h-0.8zM389.1 112.9h0.8v0.8h-0.8zM388.4 122h0.8v0.8h-0.8zM387.1 109.8h0.8v0.8h-0.8zM397.9 113.6h0.8v0.8h-0.8zM387.8 106h0.8v0.8h-0.8zM395.1 119.7h0.8v0.8h-0.8zM400.1 100.4h0.8v0.8h-0.8zM389.1 112.2h0.8v0.8h-0.8zM386 119.1h0.8v0.8h-0.8zM388.3 106.5h0.8v0.8h-0.8zM387.5 110.6h0.8v0.8h-0.8zM396.5 109.9h0.8v0.8h-0.8zM391.1 103h0.8v0.8h-0.8zM387.9 100.7h0.8v0.8h-0.8zM390.6 111.4h0.8v0.8h-0.8zM399.1 104.8h0.8v0.8h-0.8zM398.5 111.3h0.8v0.8h-0.8zM385 113.8h0.8v0.8h-0.8zM382.7 103.4h0.8v0.8h-0.8zM390.8 118.1h0.8v0.8h-0.8zM386.7 115.3h0.8v0.8h-0.8zM385.2 113.6h0.8v0.8h-0.8zM388.9 97.1h0.8v0.8h-0.8zM394.9 109.3h0.8v0.8h-0.8zM383 116.7h0.8v0.8h-0.8zM397 110.4h0.8v0.8h-0.8zM390.1 111h0.8v0.8h-0.8zM383 112.5h0.8v0.8h-0.8zM390.4 105h0.8v0.8h-0.8zM393.6 98.1h0.8v0.8h-0.8zM384 104.4h0.8v0.8h-0.8zM397.8 98.2h0.8v0.8h-0.8zM383.6 106.2h0.8v0.8h-0.8zM397.1 109.3h0.8v0.8h-0.8zM396.2 108.5h0.8v0.8h-0.8zM380.7 113.1h0.8v0.8h-0.8zM388.7 120.2h0.8v0.8h-0.8zM386.6 111.4h0.8v0.8h-0.8zM400.2 114.7h0.8v0.8h-0.8zM390.4 105.2h0.8v0.8h-0.8zM393.6 100.6h0.8v0.8h-0.8zM400.3 105.6h0.8v0.8h-0.8zM388.4 110.3h0.8v0.8h-0.8zM396.9 111h0.8v0.8h-0.8zM397 112.7h0.8v0.8h-0.8zM394.8 112.8h0.8v0.8h-0.8zM397 113.2h0.8v0.8h-0.8zM389.2 121h0.8v0.8h-0.8zM390.9 110.1h0.8v0.8h-0.8zM395.9 112.4h0.8v0.8h-0.8zM384.5 113.4h0.8v0.8h-0.8zM399 107.2h0.8v0.8h-0.8zM397.3 108.7h0.8v0.8h-0.8zM386.2 108.5h0.8v0.8h-0.8zM394 113.2h0.8v0.8h-0.8zM386.1 99.4h0.8v0.8h-0.8zM386.4 114.6h0.8v0.8h-0.8zM381.3 110.8h0.8v0.8h-0.8zM393.2 106.5h0.8v0.8h-0.8zM386.8 109.5h0.8v0.8h-0.8zM394.1 118.4h0.8v0.8h-0.8zM389.2 117.5h0.8v0.8h-0.8zM394.3 110.6h0.8v0.8h-0.8zM393.9 99.8h0.8v0.8h-0.8zM396.7 98.8h0.8v0.8h-0.8zM398.2 100.1h0.8v0.8h-0.8zM392.9 116h0.8v0.8h-0.8zM389.1 108.1h0.8v0.8h-0.8zM399.2 104.6h0.8v0.8h-0.8zM382.7 112.9h0.8v0.8h-0.8zM384.1 114.2h0.8v0.8h-0.8zM392 97.1h0.8v0.8h-0.8zM393 118.3h0.8v0.8h-0.8zM380.6 113.9h0.8v0.8h-0.8zM391.5 107.9h0.8v0.8h-0.8zM397 120.1h0.8v0.8h-0.8zM382.4 109.4h0.8v0.8h-0.8zM397.1 102.6h0.8v0.8h-0.8zM386.1 119.8h0.8v0.8h-0.8zM385.1 107.2h0.8v0.8h-0.8zM400.4 100.5h0.8v0.8h-0.8zM398.1 110.1h0.8v0.8h-0.8zM394.1 103.2h0.8v0.8h-0.8zM388 116.8h0.8v0.8h-0.8zM391 119.8h0.8v0.8h-0.8zM389.4 101.3h0.8v0.8h-0.8zM389 120.6h0.8v0.8h-0.8zM390.7 114.6h0.8v0.8h-0.8zM387.5 117.9h0.8v0.8h-0.8zM391.6 115.1h0.8v0.8h-0.8zM389.2 104.9h0.8v0.8h-0.8zM390.9 108.6h0.8v0.8h-0.8zM384.4 115.8h0.8v0.8h-0.8zM391.3 121.4h0.8v0.8h-0.8zM387.3 106.7h0.8v0.8h-0.8zM395.7 108.8h0.8v0.8h-0.8zM394.6 106.3h0.8v0.8h-0.8zM392.9 111.8h0.8v0.8h-0.8zM399.6 101.9h0.8v0.8h-0.8zM393.7 102.7h0.8v0.8h-0.8zM390.6 103.7h0.8v0.8h-0.8zM396.2 101.1h0.8v0.8h-0.8zM393.4 105.4h0.8v0.8h-0.8zM388.5 112.9h0.8v0.8h-0.8zM393.3 102h0.8v0.8h-0.8zM401.6 110.2h0.8v0.8h-0.8zM383.8 115.2h0.8v0.8h-0.8zM394.3 116h0.8v0.8h-0.8zM389.9 121h0.8v0.8h-0.8zM383.5 102.6h0.8v0.8h-0.8zM386.2 115.9h0.8v0.8h-0.8zM388.5 116.2h0.8v0.8h-0.8zM397.6 107.9h0.8v0.8h-0.8zM388.4 111.3h0.8v0.8h-0.8zM399.2 116.4h0.8v0.8h-0.8zM381.9 113.3h0.8v0.8h-0.8zM394.2 101.4h0.8v0.8h-0.8zM383.6 118.4h0.8v0.8h-0.8zM395.4 108h0.8v0.8h-0.8zM382.1 115.6h0.8v0.8h-0.8zM388.5 104.5h0.8v0.8h-0.8zM389.5 99.7h0.8v0.8h-0.8zM383.4 99.7h0.8v0.8h-0.8zM393.9 118.9h0.8v0.8h-0.8zM382.5 102.6h0.8v0.8h-0.8zM397.8 100.6h0.8v0.8h-0.8zM387.6 102.8h0.8v0.8h-0.8zM391.5 103h0.8v0.8h-0.8zM384.3 116.5h0.8v0.8h-0.8zM382.6 111.8h0.8v0.8h-0.8zM394.8 111.8h0.8v0.8h-0.8zM394.5 121.7h0.8v0.8h-0.8zM384 108.2h0.8v0.8h-0.8zM393.1 110.8h0.8v0.8h-0.8zM387.5 99.6h0.8v0.8h-0.8zM391.9 118.9h0.8v0.8h-0.8zM400.1 111h0.8v0.8h-0.8zM387.7 100.5h0.8v0.8h-0.8zM394.5 119.9h0.8v0.8h-0.8zM389 110h0.8v0.8h-0.8zM381.2 117.2h0.8v0.8h-0.8zM390.4 99.5h0.8v0.8h-0.8zM390.9 113h0.8v0.8h-0.8zM390.6 106h0.8v0.8h-0.8zM398.1 102.6h0.8v0.8h-0.8zM385.9 121.4h0.8v0.8h-0.8zM383.7 114.1h0.8v0.8h-0.8zM381.9 113h0.8v0.8h-0.8zM398.4 99.3h0.8v0.8h-0.8zM397.9 104.2h0.8v0.8h-0.8zM392.3 120.3h0.8v0.8h-0.8zM388 121.4h0.8v0.8h-0.8zM396.4 121.7h0.8v0.8h-0.8zM397 111h0.8v0.8h-0.8zM389.1 102.3h0.8v0.8h-0.8zM385.9 119.1h0.8v0.8h-0.8zM384.7 117.8h0.8v0.8h-0.8zM385.1 121.6h0.8v0.8h-0.8zM394.7 104.1h0.8v0.8h-0.8zM384.8 100.8h0.8v0.8h-0.8zM384.5 119.7h0.8v0.8h-0.8zM381.6 111.2h0.8v0.8h-0.8zM393.4 112.3h0.8v0.8h-0.8zM386.4 111.5h0.8v0.8h-0.8zM382.5 102.5h0.8v0.8h-0.8zM397.2 98.4h0.8v0.8h-0.8zM395.9 103.4h0.8v0.8h-0.8zM399.7 112.4h0.8v0.8h-0.8zM394.9 113.6h0.8v0.8h-0.8zM395.1 105.9h0.8v0.8h-0.8zM391.5 101.3h0.8v0.8h-0.8zM388.9 107.1h0.8v0.8h-0.8zM390 106.3h0.8v0.8h-0.8zM390.6 110.3h0.8v0.8h-0.8zM389.9 112.5h0.8v0.8h-0.8zM388 113.5h0.8v0.8h-0.8zM393.6 99.1h0.8v0.8h-0.8zM395.7 106.2h0.8v0.8h-0.8zM386.2 121.4h0.8v0.8h-0.8zM389.6 112h0.8v0.8h-0.8zM386.7 98.4h0.8v0.8h-0.8zM386 112.5h0.8v0.8h-0.8zM384.9 119.5h0.8v0.8h-0.8zM385.6 113h0.8v0.8h-0.8zM384.9 106.2h0.8v0.8h-0.8zM393.6 108.8h0.8v0.8h-0.8zM388.5 120.9h0.8v0.8h-0.8zM392.7 109.1h0.8v0.8h-0.8zM388 109.1h0.8v0.8h-0.8zM392 105.1h0.8v0.8h-0.8zM388.9 108.7h0.8v0.8h-0.8zM391.3 97.6h0.8v0.8h-0.8zM385.1 103h0.8v0.8h-0.8zM393.1 106.5h0.8v0.8h-0.8zM390.4 120h0.8v0.8h-0.8zM384.5 98.3h0.8v0.8h-0.8zM388 99.7h0.8v0.8h-0.8zM396.9 106.2h0.8v0.8h-0.8zM399.3 115.4h0.8v0.8h-0.8zM390.3 109.3h0.8v0.8h-0.8zM392.3 103.4h0.8v0.8h-0.8zM400.7 114h0.8v0.8h-0.8zM393.5 98.6h0.8v0.8h-0.8zM390.4 102.6h0.8v0.8h-0.8zM392.2 104.4h0.8v0.8h-0.8zM383.2 114.9h0.8v0.8h-0.8zM387.7 110.5h0.8v0.8h-0.8zM391.1 113.3h0.8v0.8h-0.8zM385.8 105.2h0.8v0.8h-0.8zM386.9 102.5h0.8v0.8h-0.8zM390.2 115.2h0.8v0.8h-0.8zM391 100.3h0.8v0.8h-0.8zM387.5 114.5h0.8v0.8h-0.8zM399.8 116.5h0.8v0.8h-0.8zM384.9 107.8h0.8v0.8h-0.8zM384.7 109h0.8v0.8h-0.8zM384.6 115.2h0.8v0.8h-0.8zM391.8 110.6h0.8v0.8h-0.8zM394.2 117.5h0.8v0.8h-0.8zM398.2 112.5h0.8v0.8h-0.8zM389.5 116.6h0.8v0.8h-0.8zM392.2 97.6h0.8v0.8h-0.8zM388.4 102.2h0.8v0.8h-0.8zM386.9 117.5h0.8v0.8h-0.8zM390.7 114.9h0.8v0.8h-0.8zM393.6 107.9h0.8v0.8h-0.8zM386.5 102.7h0.8v0.8h-0.8zM399.4 114.5h0.8v0.8h-0.8zM396.2 113h0.8v0.8h-0.8zM389.6 104h0.8v0.8h-0.8zM390 107h0.8v0.8h-0.8zM398.8 102h0.8v0.8h-0.8zM393.9 113.4h0.8v0.8h-0.8zM391.4 122h0.8v0.8h-0.8zM398.3 114h0.8v0.8h-0.8zM384 100.4h0.8v0.8h-0.8zM396.2 101.9h0.8v0.8h-0.8zM396.2 112.7h0.8v0.8h-0.8zM384.2 101h0.8v0.8h-0.8zM379.6 107.2h0.8v0.8h-0.8zM389.5 106.6h0.8v0.8h-0.8zM389.7 107.3h0.8v0.8h-0.8zM390.7 113.9h0.8v0.8h-0.8zM382.9 113.4h0.8v0.8h-0.8zM396.2 107.2h0.8v0.8h-0.8zM384.6 112.3h0.8v0.8h-0.8zM387.3 109.8h0.8v0.8h-0.8zM386.7 115.6h0.8v0.8h-0.8zM391.1 99.3h0.8v0.8h-0.8zM383.2 109.1h0.8v0.8h-0.8z" fill="#8d1a47"/>
<path d="M401.2 112.6h0.8v0.8h-0.8zM404.1 112.8h0.8v0.8h-0.8zM401 97.3h0.8v0.8h-0.8zM398.8 108.5h0.8v0.8h-0.8zM409.9 107.3h0.8v0.8h-0.8zM397.2 116.4h0.8v0.8h-0.8zM397.7 112.6h0.8v0.8h-0.8zM408.2 107.7h0.8v0.8h-0.8zM406.7 103.4h0.8v0.8h-0.8zM398.2 101.4h0.8v0.8h-0.8zM409.1 102.4h0.8v0.8h-0.8zM408.9 95.9h0.8v0.8h-0.8zM410.6 100.4h0.8v0.8h-0.8zM408.8 107.3h0.8v0.8h-0.8zM402.1 118.4h0.8v0.8h-0.8zM395.3 106.6h0.8v0.8h-0.8zM406.2 115.5h0.8v0.8h-0.8zM409.4 107.4h0.8v0.8h-0.8zM400.7 104h0.8v0.8h-0.8zM401.6 111.4h0.8v0.8h-0.8zM401.2 110.6h0.8v0.8h-0.8zM394.3 99.7h0.8v0.8h-0.8zM398.8 108h0.8v0.8h-0.8zM398.1 110.1h0.8v0.8h-0.8zM398.3 109h0.8v0.8h-0.8zM399.3 108.9h0.8v0.8h-0.8zM404.2 103.2h0.8v0.8h-0.8zM407.6 101h0.8v0.8h-0.8zM407.3 107.3h0.8v0.8h-0.8zM403.6 111.9h0.8v0.8h-0.8zM396.8 120.4h0.8v0.8h-0.8zM404 112.3h0.8v0.8h-0.8zM403.3 107.2h0.8v0.8h-0.8zM395.9 108.9h0.8v0.8h-0.8zM412 108.8h0.8v0.8h-0.8zM405.5 117.6h0.8v0.8h-0.8zM396.6 110.5h0.8v0.8h-0.8zM399.7 99.1h0.8v0.8h-0.8zM402.1 102.3h0.8v0.8h-0.8zM407.8 98.2h0.8v0.8h-0.8zM411.9 117.1h0.8v0.8h-0.8zM411 117.3h0.8v0.8h-0.8zM404.7 98.3h0.8v0.8h-0.8zM396.6 116h0.8v0.8h-0.8zM401.6 112.3h0.8v0.8h-0.8zM404.6 120h0.8v0.8h-0.8zM403.3 120.6h0.8v0.8h-0.8zM406.3 96.5h0.8v0.8h-0.8zM412.8 112.9h0.8v0.8h-0.8zM400.5 121.8h0.8v0.8h-0.8zM404.2 107.9h0.8v0.8h-0.8zM409.5 108h0.8v0.8h-0.8zM408.6 108.8h0.8v0.8h-0.8zM402.8 116.4h0.8v0.8h-0.8zM409.9 110.8h0.8v0.8h-0.8zM408.6 104.9h0.8v0.8h-0.8zM397.3 114.1h0.8v0.8h-0.8zM404.2 98.1h0.8v0.8h-0.8zM396.6 98.2h0.8v0.8h-0.8zM403.1 97.7h0.8v0.8h-0.8zM401.3 107.1h0.8v0.8h-0.8zM401.9 94.4h0.8v0.8h-0.8zM405 95.5h0.8v0.8h-0.8zM404 97.6h0.8v0.8h-0.8zM405.7 115.8h0.8v0.8h-0.8zM400.2 115.4h0.8v0.8h-0.8zM401.8 97.4h0.8v0.8h-0.8zM408.9 101.8h0.8v0.8h-0.8zM410.3 107h0.8v0.8h-0.8zM407.5 119.1h0.8v0.8h-0.8zM397.5 111.7h0.8v0.8h-0.8zM409.3 102.8h0.8v0.8h-0.8zM396 107.3h0.8v0.8h-0.8zM406.2 110.2h0.8v0.8h-0.8zM412 111.8h0.8v0.8h-0.8zM406.3 116.5h0.8v0.8h-0.8zM407.2 117h0.8v0.8h-0.8zM402.4 115.9h0.8v0.8h-0.8zM397.8 97.3h0.8v0.8h-0.8zM411.2 104.8h0.8v0.8h-0.8zM401.7 95.8h0.8v0.8h-0.8zM411.7 102.8h0.8v0.8h-0.8zM409.3 112.6h0.8v0.8h-0.8zM408.2 109.3h0.8v0.8h-0.8zM409.4 114.5h0.8v0.8h-0.8zM397.3 102.2h0.8v0.8h-0.8zM397.5 114.9h0.8v0.8h-0.8zM401.1 110h0.8v0.8h-0.8zM406.5 115.5h0.8v0.8h-0.8zM399.8 106.7h0.8v0.8h-0.8zM399.2 117.8h0.8v0.8h-0.8zM398.2 101.8h0.8v0.8h-0.8zM405.1 99.6h0.8v0.8h-0.8zM407.6 99.3h0.8v0.8h-0.8zM413.1 109.6h0.8v0.8h-0.8zM402.3 97h0.8v0.8h-0.8zM400.4 93.8h0.8v0.8h-0.8zM399.2 94.7h0.8v0.8h-0.8zM398.8 122.2h0.8v0.8h-0.8zM407.6 110.4h0.8v0.8h-0.8zM409.2 118.6h0.8v0.8h-0.8zM396.4 99.3h0.8v0.8h-0.8zM400.9 107.6h0.8v0.8h-0.8zM410.7 101.3h0.8v0.8h-0.8zM409.9 116.3h0.8v0.8h-0.8zM413.4 114h0.8v0.8h-0.8zM406 110.6h0.8v0.8h-0.8zM397.3 93.8h0.8v0.8h-0.8zM409.3 103.1h0.8v0.8h-0.8zM399.9 116.9h0.8v0.8h-0.8zM400.3 111.6h0.8v0.8h-0.8zM399.1 102.6h0.8v0.8h-0.8zM397 98.5h0.8v0.8h-0.8zM407 112.2h0.8v0.8h-0.8zM400.6 111h0.8v0.8h-0.8zM397.8 104.2h0.8v0.8h-0.8zM407 103.7h0.8v0.8h-0.8zM405.6 114.2h0.8v0.8h-0.8zM407.3 113.5h0.8v0.8h-0.8zM404.1 97.1h0.8v0.8h-0.8zM395.8 104.5h0.8v0.8h-0.8zM411.1 98.7h0.8v0.8h-0.8zM397.8 109.4h0.8v0.8h-0.8zM398.4 97.9h0.8v0.8h-0.8zM409.6 116.8h0.8v0.8h-0.8zM400.8 101h0.8v0.8h-0.8zM401.3 97.3h0.8v0.8h-0.8zM398.1 108.3h0.8v0.8h-0.8zM404.2 100.3h0.8v0.8h-0.8zM403.5 115.2h0.8v0.8h-0.8zM412.4 114.6h0.8v0.8h-0.8zM403.9 104h0.8v0.8h-0.8zM405.1 106.4h0.8v0.8h-0.8zM396.5 97.5h0.8v0.8h-0.8zM408.5 105.1h0.8v0.8h-0.8zM409.7 105h0.8v0.8h-0.8zM403.6 103.5h0.8v0.8h-0.8zM397.6 106.5h0.8v0.8h-0.8zM408.1 101.6h0.8v0.8h-0.8zM396.4 113.3h0.8v0.8h-0.8zM403.9 97h0.8v0.8h-0.8zM408.5 108.7h0.8v0.8h-0.8zM401 110.6h0.8v0.8h-0.8zM398.5 95.9h0.8v0.8h-0.8zM403.9 93.3h0.8v0.8h-0.8zM398.4 95.8h0.8v0.8h-0.8zM404.9 113.2h0.8v0.8h-0.8zM403 103.9h0.8v0.8h-0.8zM397 94.3h0.8v0.8h-0.8zM406.5 110.5h0.8v0.8h-0.8zM410.7 107.6h0.8v0.8h-0.8zM399.8 121.3h0.8v0.8h-0.8zM396.3 110h0.8v0.8h-0.8zM399.2 102.8h0.8v0.8h-0.8zM410.5 103.8h0.8v0.8h-0.8zM397.9 116.9h0.8v0.8h-0.8zM405.4 112.2h0.8v0.8h-0.8zM400.6 116h0.8v0.8h-0.8zM402.8 103.8h0.8v0.8h-0.8zM396.9 97.9h0.8v0.8h-0.8zM402.1 105.5h0.8v0.8h-0.8zM401.7 93.8h0.8v0.8h-0.8zM407.1 118.6h0.8v0.8h-0.8zM404.7 116.9h0.8v0.8h-0.8zM408 107.7h0.8v0.8h-0.8zM404 106.8h0.8v0.8h-0.8zM399.2 105.4h0.8v0.8h-0.8zM401.9 94.2h0.8v0.8h-0.8zM401.7 105.1h0.8v0.8h-0.8zM412.3 107.6h0.8v0.8h-0.8zM411.9 112.2h0.8v0.8h-0.8zM396.4 114.3h0.8v0.8h-0.8zM397.7 110.3h0.8v0.8h-0.8zM397.5 95.3h0.8v0.8h-0.8zM398.2 99.4h0.8v0.8h-0.8zM398.4 105.4h0.8v0.8h-0.8zM398.1 100h0.8v0.8h-0.8zM395.9 105.1h0.8v0.8h-0.8zM399.1 104h0.8v0.8h-0.8zM396.5 98.4h0.8v0.8h-0.8zM404.3 97.7h0.8v0.8h-0.8zM403.6 112.5h0.8v0.8h-0.8zM407.1 103h0.8v0.8h-0.8zM395.7 118.2h0.8v0.8h-0.8zM398.4 118.9h0.8v0.8h-0.8zM403.4 118.2h0.8v0.8h-0.8zM407.6 98.6h0.8v0.8h-0.8zM413.2 106.2h0.8v0.8h-0.8zM398.4 120.7h0.8v0.8h-0.8zM399.9 120.6h0.8v0.8h-0.8zM403.8 114.1h0.8v0.8h-0.8zM398.8 98.6h0.8v0.8h-0.8zM406 118.3h0.8v0.8h-0.8zM411.9 107h0.8v0.8h-0.8zM402.1 111.1h0.8v0.8h-0.8zM405.8 113.7h0.8v0.8h-0.8zM399.3 111.1h0.8v0.8h-0.8zM398.5 107.2h0.8v0.8h-0.8zM394.8 95.3h0.8v0.8h-0.8zM399.5 93.7h0.8v0.8h-0.8zM401.8 100.4h0.8v0.8h-0.8zM409.2 102h0.8v0.8h-0.8zM397.5 98.5h0.8v0.8h-0.8zM399.3 95.7h0.8v0.8h-0.8zM407.2 118.3h0.8v0.8h-0.8zM400.9 97.3h0.8v0.8h-0.8zM403.2 98.9h0.8v0.8h-0.8zM405.6 110.1h0.8v0.8h-0.8zM406.2 119.5h0.8v0.8h-0.8zM396.7 103.1h0.8v0.8h-0.8zM400.3 111.3h0.8v0.8h-0.8zM402.5 110.9h0.8v0.8h-0.8zM412.3 114.5h0.8v0.8h-0.8zM407.4 98.6h0.8v0.8h-0.8zM401.4 118.7h0.8v0.8h-0.8zM400.8 115.9h0.8v0.8h-0.8zM395.3 103.5h0.8v0.8h-0.8zM401.6 116.8h0.8v0.8h-0.8zM398.3 94h0.8v0.8h-0.8zM396.1 104.4h0.8v0.8h-0.8zM395 110.9h0.8v0.8h-0.8zM395.1 111.8h0.8v0.8h-0.8zM398 111.9h0.8v0.8h-0.8zM395.7 94.8h0.8v0.8h-0.8zM400.2 93.9h0.8v0.8h-0.8zM399.5 119h0.8v0.8h-0.8zM404.6 95.7h0.8v0.8h-0.8zM399.5 96.4h0.8v0.8h-0.8zM396.6 97.7h0.8v0.8h-0.8zM396 95.7h0.8v0.8h-0.8zM402.4 106.5h0.8v0.8h-0.8zM395.9 117.4h0.8v0.8h-0.8zM397.1 115.2h0.8v0.8h-0.8zM395.2 103.2h0.8v0.8h-0.8zM404.5 104.4h0.8v0.8h-0.8zM407.4 114.3h0.8v0.8h-0.8zM402 100.6h0.8v0.8h-0.8zM404.1 103.5h0.8v0.8h-0.8zM397.8 104.9h0.8v0.8h-0.8zM403.1 98.3h0.8v0.8h-0.8zM402.2 92.6h0.8v0.8h-0.8zM403.4 106h0.8v0.8h-0.8zM401.1 102.8h0.8v0.8h-0.8zM398.1 107.3h0.8v0.8h-0.8zM404.5 109.6h0.8v0.8h-0.8zM410.2 112.8h0.8v0.8h-0.8zM408.6 106h0.8v0.8h-0.8zM404.8 116h0.8v0.8h-0.8zM403.1 95.1h0.8v0.8h-0.8zM401.6 98.4h0.8v0.8h-0.8zM404.1 111h0.8v0.8h-0.8zM407.1 119.7h0.8v0.8h-0.8zM403.5 109.5h0.8v0.8h-0.8zM406.5 96h0.8v0.8h-0.8zM402.5 120.9h0.8v0.8h-0.8zM403.2 95.4h0.8v0.8h-0.8zM407.6 109.2h0.8v0.8h-0.8zM404.9 110.4h0.8v0.8h-0.8zM400.5 94h0.8v0.8h-0.8zM401.8 114.5h0.8v0.8h-0.8zM403.7 112.5h0.8v0.8h-0.8zM395.2 103.6h0.8v0.8h-0.8zM398.5 101.3h0.8v0.8h-0.8zM399.8 106.9h0.8v0.8h-0.8zM409.4 113.7h0.8v0.8h-0.8zM408.3 96.9h0.8v0.8h-0.8zM401.7 113.8h0.8v0.8h-0.8zM402.1 94.7h0.8v0.8h-0.8zM405.2 100.8h0.8v0.8h-0.8zM404.2 119.1h0.8v0.8h-0.8zM402.9 103.7h0.8v0.8h-0.8zM403.8 98.6h0.8v0.8h-0.8zM399.8 92.9h0.8v0.8h-0.8zM395.6 105.2h0.8v0.8h-0.8zM408.2 110.4h0.8v0.8h-0.8zM403.4 109.3h0.8v0.8h-0.8zM399.7 113.5h0.8v0.8h-0.8zM398.3 110.2h0.8v0.8h-0.8zM410.5 115.1h0.8v0.8h-0.8zM407.2 106.9h0.8v0.8h-0.8zM402.9 102.2h0.8v0.8h-0.8zM407.9 114.8h0.8v0.8h-0.8zM407.7 94.4h0.8v0.8h-0.8zM404.6 99h0.8v0.8h-0.8zM399 109.7h0.8v0.8h-0.8zM406.9 110.9h0.8v0.8h-0.8zM405.3 112.4h0.8v0.8h-0.8zM405.2 98.3h0.8v0.8h-0.8zM396.4 111.3h0.8v0.8h-0.8zM398.8 95.3h0.8v0.8h-0.8z" fill="#1f52a6"/>
<path d="M420.1 99.3h0.8v0.8h-0.8zM414.8 102.6h0.8v0.8h-0.8zM442.2 100.3h0.8v0.8h-0.8zM417.6 96.9h0.8v0.8h-0.8zM445.2 102.5h0.8v0.8h-0.8zM443.9 102.1h0.8v0.8h-0.8zM425.6 88.6h0.8v0.8h-0.8zM426.4 101.9h0.8v0.8h-0.8zM413.4 100h0.8v0.8h-0.8zM421.2 97.1h0.8v0.8h-0.8zM438.2 100.5h0.8v0.8h-0.8zM421.9 94.9h0.8v0.8h-0.8zM423 95.8h0.8v0.8h-0.8zM443.6 103.4h0.8v0.8h-0.8zM420 97.1h0.8v0.8h-0.8zM431.9 102.2h0.8v0.8h-0.8zM427.9 100.4h0.8v0.8h-0.8zM423.7 95.7h0.8v0.8h-0.8zM422 98.8h0.8v0.8h-0.8zM422.7 91.3h0.8v0.8h-0.8zM416 98.1h0.8v0.8h-0.8zM430.5 97.5h0.8v0.8h-0.8zM423.9 98.3h0.8v0.8h-0.8zM423.5 92.1h0.8v0.8h-0.8zM425.2 89.5h0.8v0.8h-0.8zM411 101.1h0.8v0.8h-0.8zM419.1 103.9h0.8v0.8h-0.8zM421.9 98.9h0.8v0.8h-0.8zM420.3 92.2h0.8v0.8h-0.8zM422.8 101.2h0.8v0.8h-0.8zM421 104.2h0.8v0.8h-0.8zM413 102.4h0.8v0.8h-0.8zM417.7 99.8h0.8v0.8h-0.8zM422.7 91.6h0.8v0.8h-0.8zM426.6 100.2h0.8v0.8h-0.8zM433 99h0.8v0.8h-0.8zM442.9 103.8h0.8v0.8h-0.8zM441 102h0.8v0.8h-0.8zM430.3 100.3h0.8v0.8h-0.8zM443.5 101.4h0.8v0.8h-0.8zM426.5 97.2h0.8v0.8h-0.8zM437.1 102.1h0.8v0.8h-0.8zM418.4 94.5h0.8v0.8h-0.8zM443.8 100.8h0.8v0.8h-0.8zM440.7 102.1h0.8v0.8h-0.8zM426.7 102.1h0.8v0.8h-0.8zM420.3 89.1h0.8v0.8h-0.8zM417.1 102.3h0.8v0.8h-0.8zM422.2 92h0.8v0.8h-0.8zM440 103.2h0.8v0.8h-0.8zM412.1 104.9h0.8v0.8h-0.8zM417.9 94.9h0.8v0.8h-0.8zM425.7 97.4h0.8v0.8h-0.8zM423.9 89.8h0.8v0.8h-0.8zM431.3 98.7h0.8v0.8h-0.8zM415.1 99.7h0.8v0.8h-0.8zM428.5 103.2h0.8v0.8h-0.8zM429.4 102.2h0.8v0.8h-0.8zM432.5 105.6h0.8v0.8h-0.8zM431.1 104h0.8v0.8h-0.8zM415.5 101.1h0.8v0.8h-0.8zM442.6 99.4h0.8v0.8h-0.8zM441 99.6h0.8v0.8h-0.8zM438 99.5h0.8v0.8h-0.8zM418.3 96.5h0.8v0.8h-0.8zM440.4 101h0.8v0.8h-0.8zM421.1 96.7h0.8v0.8h-0.8zM441.3 100.6h0.8v0.8h-0.8zM419.1 98.8h0.8v0.8h-0.8zM418.1 96.4h0.8v0.8h-0.8zM425.8 90.4h0.8v0.8h-0.8zM435.8 98.6h0.8v0.8h-0.8zM421.4 91h0.8v0.8h-0.8zM418.2 99.5h0.8v0.8h-0.8zM445.6 101.9h0.8v0.8h-0.8zM431.8 95.7h0.8v0.8h-0.8zM425.2 91h0.8v0.8h-0.8zM439.7 102.5h0.8v0.8h-0.8zM429.4 100.2h0.8v0.8h-0.8zM416.6 102.1h0.8v0.8h-0.8zM424.3 94.9h0.8v0.8h-0.8zM414.2 98.3h0.8v0.8h-0.8zM429.7 97.6h0.8v0.8h-0.8zM422.6 99.9h0.8v0.8h-0.8zM415.9 96.2h0.8v0.8h-0.8zM439.6 100.8h0.8v0.8h-0.8zM420.8 102.8h0.8v0.8h-0.8zM439.9 100.8h0.8v0.8h-0.8zM443.5 100.7h0.8v0.8h-0.8zM426.1 96h0.8v0.8h-0.8zM412 101.6h0.8v0.8h-0.8zM426 99h0.8v0.8h-0.8zM420.2 103.1h0.8v0.8h-0.8zM413.1 98.9h0.8v0.8h-0.8zM412.7 100.2h0.8v0.8h-0.8zM437.6 102.6h0.8v0.8h-0.8zM422.1 90.7h0.8v0.8h-0.8zM417.2 104.8h0.8v0.8h-0.8zM434 98.5h0.8v0.8h-0.8zM431.6 95.9h0.8v0.8h-0.8zM418.1 93.6h0.8v0.8h-0.8zM411.8 104h0.8v0.8h-0.8zM420.7 98.2h0.8v0.8h-0.8zM416.9 93.5h0.8v0.8h-0.8zM430.2 97.5h0.8v0.8h-0.8zM427 102.9h0.8v0.8h-0.8zM418.1 95.9h0.8v0.8h-0.8zM421.9 93.2h0.8v0.8h-0.8zM416.3 97.1h0.8v0.8h-0.8zM440.6 102.9h0.8v0.8h-0.8z" fill="#4cb85a"/>
<rect x="447" y="106.5" width="1" height="1" fill="#2bb8cc"/>
<rect x="442" y="112" width="1" height="1" fill="#2bb8cc"/>
<rect x="447" y="116" width="1" height="1" fill="#2bb8cc"/>
<rect x="446" y="113" width="1" height="1" fill="#2bb8cc"/>
<rect x="443" y="111" width="1" height="1" fill="#2bb8cc"/>
<rect x="448" y="107" width="1" height="1" fill="#2bb8cc"/>
<path d="M454.7 112.3h0.8v0.8h-0.8zM465.8 115.8h0.8v0.8h-0.8zM457.5 104.3h0.8v0.8h-0.8zM458.6 115.5h0.8v0.8h-0.8zM455.9 107.4h0.8v0.8h-0.8zM459.2 120.6h0.8v0.8h-0.8zM451.7 119.2h0.8v0.8h-0.8zM456.9 120.4h0.8v0.8h-0.8zM462.2 128.7h0.8v0.8h-0.8zM451.7 111.6h0.8v0.8h-0.8zM455.8 116.3h0.8v0.8h-0.8zM457.9 118.5h0.8v0.8h-0.8zM455 108.9h0.8v0.8h-0.8zM461.9 120h0.8v0.8h-0.8zM459.3 124h0.8v0.8h-0.8zM458.5 124.6h0.8v0.8h-0.8zM459.4 117.9h0.8v0.8h-0.8zM464.2 121.9h0.8v0.8h-0.8zM454.1 106.2h0.8v0.8h-0.8zM455 124.3h0.8v0.8h-0.8zM451.5 113.3h0.8v0.8h-0.8zM458.4 110.9h0.8v0.8h-0.8zM458.5 124.6h0.8v0.8h-0.8zM461.5 110.2h0.8v0.8h-0.8zM457.5 121.6h0.8v0.8h-0.8zM465.9 125.9h0.8v0.8h-0.8zM462 108.3h0.8v0.8h-0.8zM463.4 121.2h0.8v0.8h-0.8zM457.2 121.7h0.8v0.8h-0.8zM462.8 114.3h0.8v0.8h-0.8zM452.5 109h0.8v0.8h-0.8zM460 122.1h0.8v0.8h-0.8zM453.6 117.4h0.8v0.8h-0.8zM461.3 113.2h0.8v0.8h-0.8zM458.1 119.7h0.8v0.8h-0.8zM462 112.5h0.8v0.8h-0.8zM456.6 119.5h0.8v0.8h-0.8zM452.3 119.9h0.8v0.8h-0.8zM452.8 115.5h0.8v0.8h-0.8zM456.1 110.3h0.8v0.8h-0.8zM467.5 118.9h0.8v0.8h-0.8zM453 113.1h0.8v0.8h-0.8zM454.2 115.1h0.8v0.8h-0.8zM462.3 111.2h0.8v0.8h-0.8zM450.9 112.4h0.8v0.8h-0.8zM467 124.6h0.8v0.8h-0.8zM457.5 106.8h0.8v0.8h-0.8zM454.2 107.9h0.8v0.8h-0.8zM453.4 116.6h0.8v0.8h-0.8zM463.9 117.8h0.8v0.8h-0.8zM465.9 117.8h0.8v0.8h-0.8zM463 109.4h0.8v0.8h-0.8zM455.3 112.1h0.8v0.8h-0.8zM462.9 117.8h0.8v0.8h-0.8zM453.4 112.4h0.8v0.8h-0.8zM449.8 110.7h0.8v0.8h-0.8zM454.8 122.7h0.8v0.8h-0.8zM452.3 122h0.8v0.8h-0.8zM456.3 117h0.8v0.8h-0.8zM464.5 116.9h0.8v0.8h-0.8zM461.1 121.1h0.8v0.8h-0.8zM455.1 123.2h0.8v0.8h-0.8zM466.5 116.7h0.8v0.8h-0.8zM463.3 112.9h0.8v0.8h-0.8zM460.6 114.2h0.8v0.8h-0.8zM455.6 114h0.8v0.8h-0.8zM450.7 120.1h0.8v0.8h-0.8zM450.1 113.9h0.8v0.8h-0.8zM455.3 116.9h0.8v0.8h-0.8zM450.9 109.8h0.8v0.8h-0.8zM453.7 116.6h0.8v0.8h-0.8zM456.2 113h0.8v0.8h-0.8zM456.1 112.7h0.8v0.8h-0.8zM452.2 112.9h0.8v0.8h-0.8zM459.9 113.7h0.8v0.8h-0.8zM450 114.8h0.8v0.8h-0.8zM454.1 114.5h0.8v0.8h-0.8zM455.2 125h0.8v0.8h-0.8zM453.4 122.8h0.8v0.8h-0.8zM464.1 113.6h0.8v0.8h-0.8zM453.9 112.1h0.8v0.8h-0.8zM462.9 111.6h0.8v0.8h-0.8zM464 116h0.8v0.8h-0.8zM458.2 115.3h0.8v0.8h-0.8zM459.7 112.4h0.8v0.8h-0.8zM467.1 118.6h0.8v0.8h-0.8zM461.4 116.6h0.8v0.8h-0.8zM467.5 121.9h0.8v0.8h-0.8zM460.7 119.4h0.8v0.8h-0.8zM464.1 111.6h0.8v0.8h-0.8zM460.2 123.4h0.8v0.8h-0.8zM451.1 109.8h0.8v0.8h-0.8zM451 110.6h0.8v0.8h-0.8zM462 127.2h0.8v0.8h-0.8zM465.7 117.9h0.8v0.8h-0.8zM451.5 114.3h0.8v0.8h-0.8zM454.6 124.5h0.8v0.8h-0.8zM457.3 124.6h0.8v0.8h-0.8zM455.6 118.7h0.8v0.8h-0.8zM458.4 108.4h0.8v0.8h-0.8zM453.3 121.8h0.8v0.8h-0.8zM453.8 106.4h0.8v0.8h-0.8zM450.8 115.7h0.8v0.8h-0.8zM460.4 115.5h0.8v0.8h-0.8zM449.6 110.6h0.8v0.8h-0.8zM461.4 109.5h0.8v0.8h-0.8zM454.5 113.8h0.8v0.8h-0.8zM452.6 122.5h0.8v0.8h-0.8zM460.3 110.9h0.8v0.8h-0.8zM457.2 117.9h0.8v0.8h-0.8zM460.4 109.5h0.8v0.8h-0.8zM466.8 126.4h0.8v0.8h-0.8zM456.4 107h0.8v0.8h-0.8zM454.6 112.8h0.8v0.8h-0.8zM451 116.6h0.8v0.8h-0.8zM459.3 127h0.8v0.8h-0.8zM455.4 124.7h0.8v0.8h-0.8zM453 110.9h0.8v0.8h-0.8zM461.6 121.7h0.8v0.8h-0.8zM463.9 124.6h0.8v0.8h-0.8zM462.1 108.6h0.8v0.8h-0.8zM459.2 121h0.8v0.8h-0.8zM459.8 120.2h0.8v0.8h-0.8zM451.9 115.7h0.8v0.8h-0.8zM461.6 116.9h0.8v0.8h-0.8zM453.7 117.4h0.8v0.8h-0.8zM467.5 122h0.8v0.8h-0.8zM465.9 125.7h0.8v0.8h-0.8zM449 116.8h0.8v0.8h-0.8zM455.7 123.7h0.8v0.8h-0.8zM456.6 108h0.8v0.8h-0.8zM468.1 121.6h0.8v0.8h-0.8zM463.6 113.4h0.8v0.8h-0.8zM457 113.5h0.8v0.8h-0.8zM452.2 125.7h0.8v0.8h-0.8zM460.8 127.4h0.8v0.8h-0.8zM464.5 110.7h0.8v0.8h-0.8zM461.7 121.7h0.8v0.8h-0.8zM465.9 119.3h0.8v0.8h-0.8zM451.5 116.9h0.8v0.8h-0.8zM452.6 120.9h0.8v0.8h-0.8zM454.2 110.4h0.8v0.8h-0.8zM459.8 112.4h0.8v0.8h-0.8zM455.9 109.1h0.8v0.8h-0.8zM454.3 124.4h0.8v0.8h-0.8zM459.5 112.1h0.8v0.8h-0.8zM454.3 109h0.8v0.8h-0.8zM453.9 117.2h0.8v0.8h-0.8zM455.4 119h0.8v0.8h-0.8zM457.1 112h0.8v0.8h-0.8zM464.1 115.5h0.8v0.8h-0.8zM456.2 109.5h0.8v0.8h-0.8zM457.1 122.9h0.8v0.8h-0.8zM451.9 119.8h0.8v0.8h-0.8zM460.1 107.7h0.8v0.8h-0.8zM458.3 112.6h0.8v0.8h-0.8zM457.2 105.8h0.8v0.8h-0.8zM456.8 126.3h0.8v0.8h-0.8zM463 122.6h0.8v0.8h-0.8zM465.1 125.5h0.8v0.8h-0.8zM461.1 107.2h0.8v0.8h-0.8zM456.5 113h0.8v0.8h-0.8zM459.6 108.6h0.8v0.8h-0.8zM458.5 111h0.8v0.8h-0.8zM454.4 109.3h0.8v0.8h-0.8zM465.2 113.2h0.8v0.8h-0.8zM458.5 118.8h0.8v0.8h-0.8zM457.1 115.4h0.8v0.8h-0.8zM461.3 109.2h0.8v0.8h-0.8zM465.5 114.1h0.8v0.8h-0.8zM461.7 114.1h0.8v0.8h-0.8zM462.8 127.5h0.8v0.8h-0.8zM451.4 115.2h0.8v0.8h-0.8zM459 107.6h0.8v0.8h-0.8zM459 114.6h0.8v0.8h-0.8z" fill="#b3b63c"/>
<path d="M472 113.7h0.8v0.8h-0.8zM471.8 113.2h0.8v0.8h-0.8zM471.9 113.8h0.8v0.8h-0.8zM467.3 111.7h0.8v0.8h-0.8zM470.8 114.3h0.8v0.8h-0.8zM467.8 109.6h0.8v0.8h-0.8zM468 112.2h0.8v0.8h-0.8zM471.5 116h0.8v0.8h-0.8zM469.7 112.7h0.8v0.8h-0.8zM475.7 111.7h0.8v0.8h-0.8zM464.4 110.6h0.8v0.8h-0.8zM475.7 114.4h0.8v0.8h-0.8zM465.4 109.3h0.8v0.8h-0.8zM465.9 110.1h0.8v0.8h-0.8zM471.9 114.7h0.8v0.8h-0.8zM474.4 112.7h0.8v0.8h-0.8zM477.2 110.4h0.8v0.8h-0.8zM471.1 115.1h0.8v0.8h-0.8zM469.9 115.8h0.8v0.8h-0.8zM461.9 110.5h0.8v0.8h-0.8zM469.5 113.8h0.8v0.8h-0.8zM470.3 110h0.8v0.8h-0.8zM464.7 110.8h0.8v0.8h-0.8zM470.6 110.1h0.8v0.8h-0.8zM472.8 114.3h0.8v0.8h-0.8zM466 108.5h0.8v0.8h-0.8zM464.7 109.6h0.8v0.8h-0.8zM469.1 110.2h0.8v0.8h-0.8zM474.8 114.1h0.8v0.8h-0.8zM471.1 114.4h0.8v0.8h-0.8zM474.5 115.3h0.8v0.8h-0.8zM467.9 114.1h0.8v0.8h-0.8zM472.5 114.3h0.8v0.8h-0.8zM466.3 112.3h0.8v0.8h-0.8zM468 108.6h0.8v0.8h-0.8zM468.3 110.5h0.8v0.8h-0.8zM474.2 113.2h0.8v0.8h-0.8zM468.8 114.4h0.8v0.8h-0.8zM471 112.6h0.8v0.8h-0.8zM470.9 110.5h0.8v0.8h-0.8zM472.5 115.2h0.8v0.8h-0.8zM466.5 111.2h0.8v0.8h-0.8zM476.1 115.7h0.8v0.8h-0.8zM472.4 108.9h0.8v0.8h-0.8zM466.3 114.1h0.8v0.8h-0.8z" fill="#8a8a8a"/>
<path d="M447.7 28.1h0.8v0.8h-0.8zM452.8 25.5h0.8v0.8h-0.8zM443.8 32.7h0.8v0.8h-0.8zM445.1 30.1h0.8v0.8h-0.8zM446.9 27.5h0.8v0.8h-0.8zM450.5 27.5h0.8v0.8h-0.8zM447.7 28.3h0.8v0.8h-0.8zM445.9 30.4h0.8v0.8h-0.8zM447 25.8h0.8v0.8h-0.8zM451.4 18.3h0.8v0.8h-0.8zM451.3 23.5h0.8v0.8h-0.8zM447.3 31.4h0.8v0.8h-0.8zM451.5 23.8h0.8v0.8h-0.8zM449.2 26.7h0.8v0.8h-0.8zM447.2 25.9h0.8v0.8h-0.8zM448 27.5h0.8v0.8h-0.8zM445.5 32.2h0.8v0.8h-0.8zM449.4 21.2h0.8v0.8h-0.8zM445.5 28.7h0.8v0.8h-0.8zM445.8 25h0.8v0.8h-0.8zM447.4 28.8h0.8v0.8h-0.8zM451.6 24h0.8v0.8h-0.8zM451.9 23.3h0.8v0.8h-0.8zM449.4 30.3h0.8v0.8h-0.8zM450 25.8h0.8v0.8h-0.8zM445.6 27.2h0.8v0.8h-0.8zM450 26.4h0.8v0.8h-0.8zM451.2 20.4h0.8v0.8h-0.8zM444.7 30.6h0.8v0.8h-0.8zM445.6 28.6h0.8v0.8h-0.8zM447.8 25.3h0.8v0.8h-0.8zM450 25.7h0.8v0.8h-0.8zM447.9 29.2h0.8v0.8h-0.8zM451.3 24.2h0.8v0.8h-0.8zM444.1 33.8h0.8v0.8h-0.8zM447.5 30.1h0.8v0.8h-0.8zM444.4 33.7h0.8v0.8h-0.8zM451.1 30.1h0.8v0.8h-0.8zM443 34.4h0.8v0.8h-0.8zM448.7 24.8h0.8v0.8h-0.8zM449.2 28h0.8v0.8h-0.8zM447.5 30.8h0.8v0.8h-0.8zM445.3 31h0.8v0.8h-0.8zM443.3 28.7h0.8v0.8h-0.8zM450.2 20.7h0.8v0.8h-0.8zM444.3 31.1h0.8v0.8h-0.8zM445.6 30.6h0.8v0.8h-0.8zM443.5 32.5h0.8v0.8h-0.8zM449.4 21.9h0.8v0.8h-0.8zM446.2 25.6h0.8v0.8h-0.8zM444 30.6h0.8v0.8h-0.8zM450.8 22h0.8v0.8h-0.8zM451.5 24.8h0.8v0.8h-0.8zM448.5 23.4h0.8v0.8h-0.8zM446.4 27.4h0.8v0.8h-0.8z" fill="#c978b5"/>
<text transform="translate(452.5 35.5) scale(0.9 1)" text-anchor="middle" font-size="7.49">2</text>
<text transform="translate(435 49) scale(0.9 1)" text-anchor="middle" font-size="7.49">15</text>
<text transform="translate(387.5 59.5) scale(0.9 1)" text-anchor="middle" font-size="7.49">8</text>
<text transform="translate(408 64) scale(0.9 1)" text-anchor="middle" font-size="7.49">14</text>
<text transform="translate(469 62.5) scale(0.9 1)" text-anchor="middle" font-size="7.49">16</text>
<text transform="translate(471 81.5) scale(0.9 1)" text-anchor="middle" font-size="7.49">13</text>
<text transform="translate(434 81.5) scale(0.9 1)" text-anchor="middle" font-size="7.49">1</text>
<text transform="translate(369 75.5) scale(0.9 1)" text-anchor="middle" font-size="7.49">7</text>
<text transform="translate(405 87) scale(0.9 1)" text-anchor="middle" font-size="7.49">9</text>
<text transform="translate(450 89.5) scale(0.9 1)" text-anchor="middle" font-size="7.49">12</text>
<text transform="translate(432 103.8) scale(0.9 1)" text-anchor="middle" font-size="7.49">6</text>
<text transform="translate(473 108.5) scale(0.9 1)" text-anchor="middle" font-size="7.49">5</text>
<text transform="translate(445 115) scale(0.9 1)" text-anchor="middle" font-size="7.49">4</text>
<text transform="translate(380 113) scale(0.9 1)" text-anchor="middle" font-size="7.49">10</text>
<text transform="translate(463 128.5) scale(0.9 1)" text-anchor="middle" font-size="7.49">3</text>
<text transform="translate(410 125) scale(0.9 1)" text-anchor="middle" font-size="7.49">11</text>
<line x1="358" y1="133.7" x2="358" y2="94" stroke="#231f20" stroke-width="0.8"/>
<path d="M356 95L358 91L360 95Z" fill="#231f20"/>
<line x1="358" y1="133.7" x2="404" y2="133.7" stroke="#231f20" stroke-width="0.8"/>
<path d="M403 131.7L407 133.7L403 135.7Z" fill="#231f20"/>
<text transform="translate(359 76) rotate(-90) translate(0 2.5) scale(0.9 1)" text-anchor="middle" font-size="7.49">UMAP2</text>
<text transform="translate(409 136) scale(0.9 1)" font-size="7.49">UMAP1</text>
<line x1="528.6" y1="5" x2="528.6" y2="104.2" stroke="#231f20" stroke-width="0.9"/>
<line x1="528.6" y1="104.2" x2="588" y2="104.2" stroke="#231f20" stroke-width="0.9"/>
<line x1="526.6" y1="9.6" x2="528.6" y2="9.6" stroke="#231f20" stroke-width="0.8"/>
<text transform="translate(525.6 12.1) scale(0.9 1)" text-anchor="end" font-size="7.49">100</text>
<line x1="526.6" y1="28.6" x2="528.6" y2="28.6" stroke="#231f20" stroke-width="0.8"/>
<text transform="translate(525.6 31.1) scale(0.9 1)" text-anchor="end" font-size="7.49">80</text>
<line x1="526.6" y1="47.6" x2="528.6" y2="47.6" stroke="#231f20" stroke-width="0.8"/>
<text transform="translate(525.6 50.1) scale(0.9 1)" text-anchor="end" font-size="7.49">60</text>
<line x1="526.6" y1="66.6" x2="528.6" y2="66.6" stroke="#231f20" stroke-width="0.8"/>
<text transform="translate(525.6 69.1) scale(0.9 1)" text-anchor="end" font-size="7.49">40</text>
<line x1="526.6" y1="85.6" x2="528.6" y2="85.6" stroke="#231f20" stroke-width="0.8"/>
<text transform="translate(525.6 88.1) scale(0.9 1)" text-anchor="end" font-size="7.49">20</text>
<text transform="translate(501.5 59.5) rotate(-90) translate(0 2.5) scale(0.9 1)" text-anchor="middle" font-size="7.49">Composition (%)</text>
<rect x="532" y="9.6" width="12" height="2.8" fill="#2d6a35"/>
<rect x="532" y="13.2" width="12" height="1.4" fill="#4a6bbe"/>
<rect x="532" y="15" width="12" height="18" fill="#a9b0df"/>
<rect x="532" y="33.6" width="12" height="5.8" fill="#b8dcc0"/>
<rect x="532" y="39.8" width="12" height="1.2" fill="#f2952b"/>
<rect x="532" y="41.4" width="12" height="17.8" fill="#1f52a6"/>
<rect x="532" y="59.6" width="12" height="1.8" fill="#8d1a47"/>
<rect x="532" y="62" width="12" height="21.6" fill="#e3a6b3"/>
<rect x="532" y="83.8" width="12" height="3.2" fill="#8b5522"/>
<rect x="532" y="87.4" width="12" height="2.6" fill="#d8c088"/>
<rect x="532" y="90.4" width="12" height="4.6" fill="#4cb85a"/>
<rect x="532" y="95.4" width="12" height="3.2" fill="#8a8a8a"/>
<rect x="532" y="99" width="12" height="1.6" fill="#2bb8cc"/>
<rect x="532" y="101" width="12" height="1.4" fill="#b3b63c"/>
<rect x="532" y="102.4" width="12" height="1.2" fill="#c978b5"/>
<rect x="532" y="103.6" width="12" height="0.6" fill="#d9675a"/>
<rect x="546" y="9.6" width="12" height="4.4" fill="#2d6a35"/>
<rect x="546" y="14.4" width="12" height="5.6" fill="#a9b0df"/>
<rect x="546" y="20.6" width="12" height="2" fill="#b8dcc0"/>
<rect x="546" y="23.6" width="12" height="6.4" fill="#1f52a6"/>
<rect x="546" y="30.4" width="12" height="28.6" fill="#8d1a47"/>
<rect x="546" y="59.6" width="12" height="2.4" fill="#e3a6b3"/>
<rect x="546" y="62.6" width="12" height="34.4" fill="#8b5522"/>
<rect x="546" y="97" width="12" height="1.6" fill="#d8c088"/>
<rect x="546" y="99" width="12" height="1.4" fill="#4cb85a"/>
<rect x="546" y="101" width="12" height="2.6" fill="#e3a6b3"/>
<rect x="546" y="103.6" width="12" height="0.6" fill="#d9675a"/>
<rect x="560.5" y="9.6" width="12" height="0.6" fill="#b8dcc0"/>
<rect x="560.5" y="10.4" width="12" height="28.6" fill="#4a6bbe"/>
<rect x="560.5" y="39" width="12" height="2" fill="#a9b0df"/>
<rect x="560.5" y="41.4" width="12" height="4.6" fill="#f2952b"/>
<rect x="560.5" y="46" width="12" height="1" fill="#b8dcc0"/>
<rect x="560.5" y="47.4" width="12" height="2.6" fill="#4cb85a"/>
<rect x="560.5" y="50.4" width="12" height="1.6" fill="#2bb8cc"/>
<rect x="560.5" y="52.6" width="12" height="42.4" fill="#b3b63c"/>
<rect x="560.5" y="95.6" width="12" height="2.4" fill="#c978b5"/>
<rect x="560.5" y="98.4" width="12" height="5.8" fill="#d9675a"/>
<rect x="574.5" y="9.6" width="12" height="1" fill="#2d6a35"/>
<rect x="574.5" y="10.6" width="12" height="1" fill="#b8dcc0"/>
<rect x="574.5" y="11.6" width="12" height="43.4" fill="#4a6bbe"/>
<rect x="574.5" y="55" width="12" height="1.4" fill="#a9b0df"/>
<rect x="574.5" y="57.6" width="12" height="4.4" fill="#f2952b"/>
<rect x="574.5" y="63" width="12" height="7" fill="#4cb85a"/>
<rect x="574.5" y="70" width="12" height="1" fill="#d8c088"/>
<rect x="574.5" y="71.6" width="12" height="10.8" fill="#c978b5"/>
<rect x="574.5" y="83" width="12" height="21.2" fill="#d9675a"/>
<line x1="528.6" y1="108" x2="528.6" y2="130.3" stroke="#231f20" stroke-width="0.9"/>
<line x1="528.6" y1="130.3" x2="588" y2="130.3" stroke="#231f20" stroke-width="0.9"/>
<line x1="526.6" y1="112.4" x2="528.6" y2="112.4" stroke="#231f20" stroke-width="0.8"/>
<text transform="translate(525.6 114.9) scale(0.9 1)" text-anchor="end" font-size="7.49">1,000</text>
<line x1="526.6" y1="130" x2="528.6" y2="130" stroke="#231f20" stroke-width="0.8"/>
<text transform="translate(525.6 132.5) scale(0.9 1)" text-anchor="end" font-size="7.49">0</text>
<rect x="532" y="114.6" width="12" height="15.4" fill="#bdbdbd"/>
<line x1="538" y1="130.3" x2="538" y2="132" stroke="#231f20" stroke-width="0.7"/>
<rect x="546" y="109" width="12" height="21" fill="#bdbdbd"/>
<line x1="552" y1="130.3" x2="552" y2="132" stroke="#231f20" stroke-width="0.7"/>
<rect x="560.5" y="124.6" width="12" height="5.4" fill="#bdbdbd"/>
<line x1="566.5" y1="130.3" x2="566.5" y2="132" stroke="#231f20" stroke-width="0.7"/>
<rect x="574.5" y="124" width="12" height="6" fill="#bdbdbd"/>
<line x1="580.5" y1="130.3" x2="580.5" y2="132" stroke="#231f20" stroke-width="0.7"/>
<text transform="translate(501.2 119.6) rotate(-90) translate(0 2.5) scale(0.9 1)" text-anchor="middle" font-size="7.49">No. of cells</text>
<text transform="translate(538 140) scale(0.9 1)" text-anchor="middle" font-size="7.49">MLN</text>
<text transform="translate(552 140) scale(0.9 1)" text-anchor="middle" font-size="7.49">CP</text>
<text transform="translate(566.5 140) scale(0.9 1)" text-anchor="middle" font-size="7.49">LA</text>
<text transform="translate(580.5 140) scale(0.9 1)" text-anchor="middle" font-size="7.49">LP</text>
<circle cx="595.8" cy="7.5" r="2.9" fill="#d9675a"/>
<text transform="translate(600.8 10) scale(0.9 1)" font-size="7.49">(1) CD4<tspan dy="-2.5" font-size="4.5">+</tspan><tspan dy="2.5"> memory</tspan></text>
<circle cx="595.8" cy="15.5" r="2.9" fill="#c978b5"/>
<text transform="translate(600.8 18) scale(0.9 1)" font-size="7.49">(2) ILC2</text>
<circle cx="595.8" cy="23.5" r="2.9" fill="#b3b63c"/>
<text transform="translate(600.8 26) scale(0.9 1)" font-size="7.49">(3) RORγt<tspan dy="-2.5" font-size="4.5">+</tspan><tspan dy="2.5"> ILC3</tspan></text>
<circle cx="595.8" cy="31.5" r="2.9" fill="#2bb8cc"/>
<text transform="translate(600.8 34) scale(0.9 1)" font-size="7.49">(4) RORγt<tspan dy="-2.5" font-size="4.5">+</tspan><tspan dy="2.5">MHCII</tspan><tspan dy="-2.5" font-size="4.5">hi</tspan><tspan dy="2.5"> ILC3</tspan></text>
<circle cx="595.8" cy="39.5" r="2.9" fill="#8a8a8a"/>
<text transform="translate(600.8 42) scale(0.9 1)" font-size="7.49">(5) LTi-like ILC3</text>
<circle cx="595.8" cy="47.5" r="2.9" fill="#4cb85a"/>
<text transform="translate(600.8 50) scale(0.9 1)" font-size="7.49">(6) NK/NK T/γδ T cells</text>
<circle cx="595.8" cy="55.5" r="2.9" fill="#8b5522"/>
<text transform="translate(600.8 58) scale(0.9 1)" font-size="7.49">(7) Naive CD4<tspan dy="-2.5" font-size="4.5">+</tspan><tspan dy="2.5"> CP</tspan></text>
<circle cx="595.8" cy="63.5" r="2.9" fill="#e3a6b3"/>
<text transform="translate(600.8 66) scale(0.9 1)" font-size="7.49">(8) Naive CD4<tspan dy="-2.5" font-size="4.5">+</tspan><tspan dy="2.5"> MLN</tspan></text>
<circle cx="595.8" cy="71.5" r="2.9" fill="#d8c088"/>
<text transform="translate(600.8 74) scale(0.9 1)" font-size="7.49">(9) Naive CD4<tspan dy="-2.5" font-size="4.5">+</tspan><tspan dy="2.5">CD8</tspan><tspan dy="-2.5" font-size="4.5">+</tspan></text>
<circle cx="595.8" cy="79.5" r="2.9" fill="#8d1a47"/>
<text transform="translate(600.8 82) scale(0.9 1)" font-size="7.49">(10) Naive CD8<tspan dy="-2.5" font-size="4.5">+</tspan><tspan dy="2.5"> CP</tspan></text>
<circle cx="595.8" cy="87.5" r="2.9" fill="#1f52a6"/>
<text transform="translate(600.8 90) scale(0.9 1)" font-size="7.49">(11) Naive CD8<tspan dy="-2.5" font-size="4.5">+</tspan><tspan dy="2.5"> MLN</tspan></text>
<circle cx="595.8" cy="95.5" r="2.9" fill="#f2952b"/>
<text transform="translate(600.8 98) scale(0.9 1)" font-size="7.49">(12) Proliferating T<tspan dy="2" font-size="4.5">reg</tspan></text>
<circle cx="595.8" cy="103.5" r="2.9" fill="#b8dcc0"/>
<text transform="translate(600.8 106) scale(0.9 1)" font-size="7.49">(13) T<tspan dy="2" font-size="4.5">H</tspan><tspan dy="-2">17</tspan></text>
<circle cx="595.8" cy="111.5" r="2.9" fill="#a9b0df"/>
<text transform="translate(600.8 114) scale(0.9 1)" font-size="7.49">(14) cT<tspan dy="2" font-size="4.5">reg</tspan></text>
<circle cx="595.8" cy="119.5" r="2.9" fill="#4a6bbe"/>
<text transform="translate(600.8 122) scale(0.9 1)" font-size="7.49">(14) eT<tspan dy="2" font-size="4.5">reg</tspan></text>
<circle cx="595.8" cy="127.5" r="2.9" fill="#2d6a35"/>
<text transform="translate(600.8 130) scale(0.9 1)" font-size="7.49">(15) IL-17<tspan dy="-2.5" font-size="4.5">+</tspan><tspan dy="2.5"> γδ T cells</tspan></text>
<text transform="translate(342.6 152.8) scale(1 1)" font-weight="bold" font-size="11.5">e</text>
<line x1="355.3" y1="163" x2="355.3" y2="315.3" stroke="#231f20" stroke-width="0.9"/>
<line x1="355.3" y1="315.3" x2="505.5" y2="315.3" stroke="#231f20" stroke-width="0.9"/>
<line x1="353.3" y1="163.5" x2="355.3" y2="163.5" stroke="#231f20" stroke-width="0.8"/>
<text transform="translate(352.3 166) scale(0.9 1)" text-anchor="end" font-size="7.49">100</text>
<line x1="353.3" y1="192.7" x2="355.3" y2="192.7" stroke="#231f20" stroke-width="0.8"/>
<text transform="translate(352.3 195.2) scale(0.9 1)" text-anchor="end" font-size="7.49">80</text>
<line x1="353.3" y1="221.9" x2="355.3" y2="221.9" stroke="#231f20" stroke-width="0.8"/>
<text transform="translate(352.3 224.5) scale(0.9 1)" text-anchor="end" font-size="7.49">60</text>
<line x1="353.3" y1="251.2" x2="355.3" y2="251.2" stroke="#231f20" stroke-width="0.8"/>
<text transform="translate(352.3 253.7) scale(0.9 1)" text-anchor="end" font-size="7.49">40</text>
<line x1="353.3" y1="280.4" x2="355.3" y2="280.4" stroke="#231f20" stroke-width="0.8"/>
<text transform="translate(352.3 282.9) scale(0.9 1)" text-anchor="end" font-size="7.49">20</text>
<line x1="353.3" y1="309.6" x2="355.3" y2="309.6" stroke="#231f20" stroke-width="0.8"/>
<text transform="translate(352.3 312.1) scale(0.9 1)" text-anchor="end" font-size="7.49">0</text>
<line x1="360.3" y1="315.3" x2="360.3" y2="317.3" stroke="#231f20" stroke-width="0.8"/>
<text transform="translate(360.3 323.5) scale(0.9 1)" text-anchor="middle" font-size="7.49">0</text>
<line x1="389.2" y1="315.3" x2="389.2" y2="317.3" stroke="#231f20" stroke-width="0.8"/>
<text transform="translate(389.2 323.5) scale(0.9 1)" text-anchor="middle" font-size="7.49">20</text>
<line x1="418.2" y1="315.3" x2="418.2" y2="317.3" stroke="#231f20" stroke-width="0.8"/>
<text transform="translate(418.2 323.5) scale(0.9 1)" text-anchor="middle" font-size="7.49">40</text>
<line x1="447.1" y1="315.3" x2="447.1" y2="317.3" stroke="#231f20" stroke-width="0.8"/>
<text transform="translate(447.1 323.5) scale(0.9 1)" text-anchor="middle" font-size="7.49">60</text>
<line x1="476" y1="315.3" x2="476" y2="317.3" stroke="#231f20" stroke-width="0.8"/>
<text transform="translate(476 323.5) scale(0.9 1)" text-anchor="middle" font-size="7.49">80</text>
<line x1="504.9" y1="315.3" x2="504.9" y2="317.3" stroke="#231f20" stroke-width="0.8"/>
<text transform="translate(504.9 323.5) scale(0.9 1)" text-anchor="middle" font-size="7.49">100</text>
<line x1="383.3" y1="168.7" x2="369.9" y2="174.9" stroke="#bdbdbd" stroke-width="0.4"/>
<line x1="383.3" y1="168.7" x2="398.4" y2="179" stroke="#bdbdbd" stroke-width="0.4"/>
<line x1="383.3" y1="168.7" x2="386.3" y2="180.1" stroke="#bdbdbd" stroke-width="0.4"/>
<line x1="383.3" y1="168.7" x2="375.1" y2="186.4" stroke="#bdbdbd" stroke-width="0.4"/>
<line x1="383.3" y1="168.7" x2="363.7" y2="190.5" stroke="#bdbdbd" stroke-width="0.4"/>
<line x1="383.3" y1="168.7" x2="386.3" y2="192.6" stroke="#bdbdbd" stroke-width="0.4"/>
<line x1="383.3" y1="168.7" x2="399" y2="193.3" stroke="#bdbdbd" stroke-width="0.4"/>
<line x1="383.3" y1="168.7" x2="373.6" y2="201" stroke="#bdbdbd" stroke-width="0.4"/>
<line x1="383.3" y1="168.7" x2="387.8" y2="204.7" stroke="#bdbdbd" stroke-width="0.4"/>
<line x1="369.9" y1="174.9" x2="398.4" y2="179" stroke="#bdbdbd" stroke-width="0.4"/>
<line x1="369.9" y1="174.9" x2="386.3" y2="180.1" stroke="#bdbdbd" stroke-width="0.4"/>
<line x1="369.9" y1="174.9" x2="375.1" y2="186.4" stroke="#bdbdbd" stroke-width="0.4"/>
<line x1="369.9" y1="174.9" x2="363.7" y2="190.5" stroke="#bdbdbd" stroke-width="0.4"/>
<line x1="369.9" y1="174.9" x2="386.3" y2="192.6" stroke="#bdbdbd" stroke-width="0.4"/>
<line x1="369.9" y1="174.9" x2="399" y2="193.3" stroke="#bdbdbd" stroke-width="0.4"/>
<line x1="369.9" y1="174.9" x2="373.6" y2="201" stroke="#bdbdbd" stroke-width="0.4"/>
<line x1="369.9" y1="174.9" x2="387.8" y2="204.7" stroke="#bdbdbd" stroke-width="0.4"/>
<line x1="398.4" y1="179" x2="386.3" y2="180.1" stroke="#bdbdbd" stroke-width="0.4"/>
<line x1="398.4" y1="179" x2="375.1" y2="186.4" stroke="#bdbdbd" stroke-width="0.4"/>
<line x1="398.4" y1="179" x2="363.7" y2="190.5" stroke="#bdbdbd" stroke-width="0.4"/>
<line x1="398.4" y1="179" x2="386.3" y2="192.6" stroke="#bdbdbd" stroke-width="0.4"/>
<line x1="398.4" y1="179" x2="399" y2="193.3" stroke="#bdbdbd" stroke-width="0.4"/>
<line x1="398.4" y1="179" x2="373.6" y2="201" stroke="#bdbdbd" stroke-width="0.4"/>
<line x1="398.4" y1="179" x2="387.8" y2="204.7" stroke="#bdbdbd" stroke-width="0.4"/>
<line x1="386.3" y1="180.1" x2="375.1" y2="186.4" stroke="#bdbdbd" stroke-width="0.4"/>
<line x1="386.3" y1="180.1" x2="363.7" y2="190.5" stroke="#bdbdbd" stroke-width="0.4"/>
<line x1="386.3" y1="180.1" x2="386.3" y2="192.6" stroke="#bdbdbd" stroke-width="0.4"/>
<line x1="386.3" y1="180.1" x2="399" y2="193.3" stroke="#bdbdbd" stroke-width="0.4"/>
<line x1="386.3" y1="180.1" x2="373.6" y2="201" stroke="#bdbdbd" stroke-width="0.4"/>
<line x1="386.3" y1="180.1" x2="387.8" y2="204.7" stroke="#bdbdbd" stroke-width="0.4"/>
<line x1="375.1" y1="186.4" x2="363.7" y2="190.5" stroke="#bdbdbd" stroke-width="0.4"/>
<line x1="375.1" y1="186.4" x2="386.3" y2="192.6" stroke="#bdbdbd" stroke-width="0.4"/>
<line x1="375.1" y1="186.4" x2="399" y2="193.3" stroke="#bdbdbd" stroke-width="0.4"/>
<line x1="375.1" y1="186.4" x2="373.6" y2="201" stroke="#bdbdbd" stroke-width="0.4"/>
<line x1="375.1" y1="186.4" x2="387.8" y2="204.7" stroke="#bdbdbd" stroke-width="0.4"/>
<line x1="363.7" y1="190.5" x2="386.3" y2="192.6" stroke="#bdbdbd" stroke-width="0.4"/>
<line x1="363.7" y1="190.5" x2="399" y2="193.3" stroke="#bdbdbd" stroke-width="0.4"/>
<line x1="363.7" y1="190.5" x2="373.6" y2="201" stroke="#bdbdbd" stroke-width="0.4"/>
<line x1="363.7" y1="190.5" x2="387.8" y2="204.7" stroke="#bdbdbd" stroke-width="0.4"/>
<line x1="386.3" y1="192.6" x2="399" y2="193.3" stroke="#bdbdbd" stroke-width="0.4"/>
<line x1="386.3" y1="192.6" x2="373.6" y2="201" stroke="#bdbdbd" stroke-width="0.4"/>
<line x1="386.3" y1="192.6" x2="387.8" y2="204.7" stroke="#bdbdbd" stroke-width="0.4"/>
<line x1="399" y1="193.3" x2="373.6" y2="201" stroke="#bdbdbd" stroke-width="0.4"/>
<line x1="399" y1="193.3" x2="387.8" y2="204.7" stroke="#bdbdbd" stroke-width="0.4"/>
<line x1="373.6" y1="201" x2="387.8" y2="204.7" stroke="#bdbdbd" stroke-width="0.4"/>
<line x1="427.6" y1="296.5" x2="427.6" y2="284.9" stroke="#bdbdbd" stroke-width="0.4"/>
<line x1="427.6" y1="296.5" x2="416.4" y2="290.9" stroke="#bdbdbd" stroke-width="0.4"/>
<line x1="427.6" y1="296.5" x2="438.8" y2="290.9" stroke="#bdbdbd" stroke-width="0.4"/>
<line x1="427.6" y1="296.5" x2="416.4" y2="302.6" stroke="#bdbdbd" stroke-width="0.4"/>
<line x1="427.6" y1="296.5" x2="438.8" y2="302.6" stroke="#bdbdbd" stroke-width="0.4"/>
<line x1="427.6" y1="296.5" x2="427.6" y2="308.2" stroke="#bdbdbd" stroke-width="0.4"/>
<line x1="427.6" y1="284.9" x2="416.4" y2="290.9" stroke="#bdbdbd" stroke-width="0.4"/>
<line x1="427.6" y1="284.9" x2="438.8" y2="290.9" stroke="#bdbdbd" stroke-width="0.4"/>
<line x1="427.6" y1="284.9" x2="416.4" y2="302.6" stroke="#bdbdbd" stroke-width="0.4"/>
<line x1="427.6" y1="284.9" x2="438.8" y2="302.6" stroke="#bdbdbd" stroke-width="0.4"/>
<line x1="427.6" y1="284.9" x2="427.6" y2="308.2" stroke="#bdbdbd" stroke-width="0.4"/>
<line x1="416.4" y1="290.9" x2="438.8" y2="290.9" stroke="#bdbdbd" stroke-width="0.4"/>
<line x1="416.4" y1="290.9" x2="416.4" y2="302.6" stroke="#bdbdbd" stroke-width="0.4"/>
<line x1="416.4" y1="290.9" x2="438.8" y2="302.6" stroke="#bdbdbd" stroke-width="0.4"/>
<line x1="416.4" y1="290.9" x2="427.6" y2="308.2" stroke="#bdbdbd" stroke-width="0.4"/>
<line x1="438.8" y1="290.9" x2="416.4" y2="302.6" stroke="#bdbdbd" stroke-width="0.4"/>
<line x1="438.8" y1="290.9" x2="438.8" y2="302.6" stroke="#bdbdbd" stroke-width="0.4"/>
<line x1="438.8" y1="290.9" x2="427.6" y2="308.2" stroke="#bdbdbd" stroke-width="0.4"/>
<line x1="416.4" y1="302.6" x2="438.8" y2="302.6" stroke="#bdbdbd" stroke-width="0.4"/>
<line x1="416.4" y1="302.6" x2="427.6" y2="308.2" stroke="#bdbdbd" stroke-width="0.4"/>
<line x1="438.8" y1="302.6" x2="427.6" y2="308.2" stroke="#bdbdbd" stroke-width="0.4"/>
<line x1="444.8" y1="186" x2="434.6" y2="196.3" stroke="#bdbdbd" stroke-width="0.5"/>
<line x1="454.7" y1="171.1" x2="464.4" y2="181.8" stroke="#bdbdbd" stroke-width="0.5"/>
<line x1="471.9" y1="171.5" x2="481.6" y2="181.8" stroke="#bdbdbd" stroke-width="0.5"/>
<line x1="489" y1="181.8" x2="498.7" y2="171.5" stroke="#bdbdbd" stroke-width="0.5"/>
<line x1="454.7" y1="195" x2="464.4" y2="205.1" stroke="#bdbdbd" stroke-width="0.5"/>
<line x1="471.9" y1="195" x2="481.6" y2="205.1" stroke="#bdbdbd" stroke-width="0.5"/>
<line x1="411.6" y1="202.5" x2="420.9" y2="211.8" stroke="#bdbdbd" stroke-width="0.5"/>
<line x1="444.8" y1="203.8" x2="434.7" y2="213.7" stroke="#bdbdbd" stroke-width="0.5"/>
<line x1="420.9" y1="218.7" x2="411.6" y2="228.2" stroke="#bdbdbd" stroke-width="0.5"/>
<line x1="434.7" y1="221.1" x2="444.8" y2="231.4" stroke="#bdbdbd" stroke-width="0.5"/>
<line x1="454.7" y1="218.7" x2="464.6" y2="228.6" stroke="#bdbdbd" stroke-width="0.5"/>
<line x1="472.1" y1="218.3" x2="481.8" y2="228.6" stroke="#bdbdbd" stroke-width="0.5"/>
<line x1="489.3" y1="228.6" x2="499" y2="218.3" stroke="#bdbdbd" stroke-width="0.5"/>
<line x1="408.4" y1="235.7" x2="424.8" y2="252.9" stroke="#bdbdbd" stroke-width="0.5"/>
<line x1="432.1" y1="239.8" x2="443.3" y2="251.6" stroke="#bdbdbd" stroke-width="0.5"/>
<line x1="469.1" y1="239.8" x2="480.3" y2="251.6" stroke="#bdbdbd" stroke-width="0.5"/>
<line x1="487.4" y1="251.6" x2="499" y2="239.8" stroke="#bdbdbd" stroke-width="0.5"/>
<line x1="362.7" y1="240.3" x2="401" y2="256.5" stroke="#bdbdbd" stroke-width="0.5"/>
<line x1="362.7" y1="240.3" x2="393.9" y2="280" stroke="#bdbdbd" stroke-width="0.5"/>
<line x1="393.9" y1="280" x2="401" y2="256.5" stroke="#bdbdbd" stroke-width="0.5"/>
<line x1="408.8" y1="260.6" x2="425.2" y2="269.6" stroke="#bdbdbd" stroke-width="0.5"/>
<line x1="425.2" y1="269.6" x2="408.4" y2="277.8" stroke="#bdbdbd" stroke-width="0.5"/>
<line x1="408.4" y1="277.8" x2="408.8" y2="260.6" stroke="#bdbdbd" stroke-width="0.5"/>
<line x1="432.7" y1="260.6" x2="449.5" y2="263.4" stroke="#bdbdbd" stroke-width="0.5"/>
<line x1="449.5" y1="263.4" x2="439.2" y2="277.8" stroke="#bdbdbd" stroke-width="0.5"/>
<line x1="439.2" y1="277.8" x2="432.7" y2="260.6" stroke="#bdbdbd" stroke-width="0.5"/>
<line x1="460.1" y1="260.6" x2="474.3" y2="271.4" stroke="#bdbdbd" stroke-width="0.5"/>
<line x1="474.3" y1="271.4" x2="457.5" y2="277.8" stroke="#bdbdbd" stroke-width="0.5"/>
<line x1="457.5" y1="277.8" x2="460.1" y2="260.6" stroke="#bdbdbd" stroke-width="0.5"/>
<line x1="453.8" y1="287.1" x2="472.8" y2="306.4" stroke="#bdbdbd" stroke-width="0.5"/>
<line x1="479.9" y1="305.8" x2="490" y2="296.1" stroke="#bdbdbd" stroke-width="0.5"/>
<line x1="490" y1="296.1" x2="499.3" y2="287.1" stroke="#bdbdbd" stroke-width="0.5"/>
<circle cx="383.3" cy="168.7" r="2.4" fill="#2f7ec0"/>
<circle cx="369.9" cy="174.9" r="2.4" fill="#2f7ec0"/>
<circle cx="398.4" cy="179" r="2.4" fill="#2f7ec0"/>
<circle cx="386.3" cy="180.1" r="2.4" fill="#2f7ec0"/>
<circle cx="375.1" cy="186.4" r="2.4" fill="#2f7ec0"/>
<circle cx="363.7" cy="190.5" r="2.4" fill="#2f7ec0"/>
<circle cx="386.3" cy="192.6" r="2.4" fill="#2f7ec0"/>
<circle cx="399" cy="193.3" r="2.4" fill="#2f7ec0"/>
<circle cx="373.6" cy="201" r="2.4" fill="#2f7ec0"/>
<circle cx="387.8" cy="204.7" r="2.4" fill="#2f7ec0"/>
<circle cx="427.6" cy="296.5" r="2.4" fill="#2f7ec0"/>
<circle cx="427.6" cy="284.9" r="2.4" fill="#2f7ec0"/>
<circle cx="416.4" cy="290.9" r="2.4" fill="#2f7ec0"/>
<circle cx="438.8" cy="290.9" r="2.4" fill="#2f7ec0"/>
<circle cx="416.4" cy="302.6" r="2.4" fill="#2f7ec0"/>
<circle cx="438.8" cy="302.6" r="2.4" fill="#2f7ec0"/>
<circle cx="427.6" cy="308.2" r="2.4" fill="#2f7ec0"/>
<path d="M411.5 178.5L408.3 177.9A3.3 3.3 0 0 1 414.5 177.1Z" fill="#d9303a"/>
<path d="M411.5 178.5L414.5 177.1A3.3 3.3 0 1 1 408.3 177.9Z" fill="#2f7ec0"/>
<circle cx="412" cy="194.7" r="3.3" fill="#d9303a"/>
<circle cx="434.9" cy="179.1" r="3.2" fill="#f58c32"/>
<circle cx="434.6" cy="196.3" r="2.4" fill="#d9303a"/>
<circle cx="444.8" cy="186" r="2.4" fill="#f58c32"/>
<circle cx="454.7" cy="171.1" r="2.4" fill="#2ea35d"/>
<circle cx="464.4" cy="181.8" r="2.4" fill="#2ea35d"/>
<circle cx="471.9" cy="171.5" r="2.4" fill="#2f7ec0"/>
<circle cx="481.6" cy="181.8" r="2.4" fill="#2f7ec0"/>
<circle cx="489" cy="181.8" r="2.4" fill="#2f7ec0"/>
<circle cx="498.7" cy="171.5" r="2.4" fill="#2f7ec0"/>
<circle cx="454.7" cy="195" r="2.4" fill="#d9303a"/>
<circle cx="464.4" cy="205.1" r="2.4" fill="#2ea35d"/>
<circle cx="471.9" cy="195" r="2.4" fill="#d9303a"/>
<circle cx="481.6" cy="205.1" r="2.4" fill="#d9303a"/>
<circle cx="489" cy="205.1" r="3.3" fill="#d9303a"/>
<circle cx="411.6" cy="202.5" r="2.4" fill="#2f7ec0"/>
<circle cx="420.9" cy="211.8" r="2.4" fill="#2f7ec0"/>
<circle cx="444.8" cy="203.8" r="2.4" fill="#f58c32"/>
<circle cx="434.7" cy="213.7" r="2.4" fill="#2f7ec0"/>
<circle cx="420.9" cy="218.7" r="2.4" fill="#2f7ec0"/>
<circle cx="411.6" cy="228.2" r="2.4" fill="#2f7ec0"/>
<circle cx="434.7" cy="221.1" r="2.4" fill="#d9303a"/>
<circle cx="444.8" cy="231.4" r="2.4" fill="#d9303a"/>
<circle cx="454.7" cy="218.7" r="2.4" fill="#f58c32"/>
<circle cx="464.6" cy="228.6" r="2.4" fill="#f58c32"/>
<circle cx="472.1" cy="218.3" r="2.4" fill="#f58c32"/>
<circle cx="481.8" cy="228.6" r="2.4" fill="#f58c32"/>
<circle cx="489.3" cy="228.6" r="2.4" fill="#f58c32"/>
<circle cx="499" cy="218.3" r="2.4" fill="#f58c32"/>
<circle cx="408.4" cy="235.7" r="2.4" fill="#d9303a"/>
<circle cx="424.8" cy="252.9" r="3.3" fill="#f58c32"/>
<circle cx="432.1" cy="239.8" r="2.4" fill="#2f7ec0"/>
<circle cx="443.3" cy="251.6" r="2.4" fill="#2f7ec0"/>
<circle cx="450.4" cy="251.6" r="3.3" fill="#2f7ec0"/>
<circle cx="469.1" cy="239.8" r="2.4" fill="#f58c32"/>
<circle cx="480.3" cy="251.6" r="2.4" fill="#2f7ec0"/>
<circle cx="487.4" cy="251.6" r="2.4" fill="#2f7ec0"/>
<circle cx="499" cy="239.8" r="2.4" fill="#2f7ec0"/>
<path d="M362.7 240.3L369.5 236.4A7.9 7.9 0 0 1 370.6 241.1Z" fill="#f58c32"/>
<path d="M362.7 240.3L370.6 241.1A7.9 7.9 0 0 1 369.7 244Z" fill="#2f7ec0"/>
<path d="M362.7 240.3L369.7 244A7.9 7.9 0 0 1 354.8 240.5Z" fill="#d9303a"/>
<path d="M362.7 240.3L354.8 240.5A7.9 7.9 0 0 1 369.5 236.3Z" fill="#2ea35d"/>
<circle cx="401" cy="256.5" r="2.4" fill="#2f7ec0"/>
<path d="M393.9 280L393.9 274.9A5.1 5.1 0 0 1 398.8 278.4Z" fill="#f58c32"/>
<path d="M393.9 280L398.8 278.4A5.1 5.1 0 0 1 396.9 284.1Z" fill="#2f7ec0"/>
<path d="M393.9 280L396.9 284.1A5.1 5.1 0 0 1 390.9 284.1Z" fill="#d9303a"/>
<path d="M393.9 280L390.9 284.1A5.1 5.1 0 0 1 393.9 274.9Z" fill="#2ea35d"/>
<circle cx="408.8" cy="260.6" r="2.4" fill="#d9303a"/>
<circle cx="425.2" cy="269.6" r="2.4" fill="#2f7ec0"/>
<circle cx="408.4" cy="277.8" r="2.4" fill="#2f7ec0"/>
<circle cx="432.7" cy="260.6" r="2.4" fill="#2f7ec0"/>
<circle cx="449.5" cy="263.4" r="2.4" fill="#2f7ec0"/>
<circle cx="439.2" cy="277.8" r="2.4" fill="#2f7ec0"/>
<circle cx="460.1" cy="260.6" r="2.4" fill="#2f7ec0"/>
<circle cx="474.3" cy="271.4" r="2.4" fill="#2f7ec0"/>
<circle cx="457.5" cy="277.8" r="2.4" fill="#2f7ec0"/>
<circle cx="481.8" cy="277.8" r="4.1" fill="#f58c32"/>
<path d="M453.8 287.1L454.1 283.1A4 4 0 0 1 457.8 287.4Z" fill="#2ea35d"/>
<path d="M453.8 287.1L457.8 287.4A4 4 0 1 1 454.1 283.1Z" fill="#2f7ec0"/>
<circle cx="472.8" cy="306.4" r="2.4" fill="#2f7ec0"/>
<path d="M479.9 305.8L476.5 306.4A3.5 3.5 0 0 1 483 304.2Z" fill="#2ea35d"/>
<path d="M479.9 305.8L483 304.2A3.5 3.5 0 1 1 476.5 306.4Z" fill="#d9303a"/>
<circle cx="490" cy="296.1" r="2.4" fill="#f58c32"/>
<circle cx="499.3" cy="287.1" r="2.4" fill="#f58c32"/>
<text transform="translate(384 189) scale(0.9 1)" text-anchor="middle" font-weight="bold" font-size="7.49">17</text>
<text transform="translate(413.5 172.5) scale(0.9 1)" text-anchor="middle" font-weight="bold" font-size="7.49">406</text>
<text transform="translate(414.5 188.5) scale(0.9 1)" text-anchor="middle" font-weight="bold" font-size="7.49">1773</text>
<text transform="translate(437.5 174.2) scale(0.9 1)" text-anchor="middle" font-size="7.49">817</text>
<text transform="translate(434 191.3) scale(0.9 1)" text-anchor="middle" font-size="7.49">759</text>
<text transform="translate(461.3 178.3) scale(0.9 1)" text-anchor="middle" font-size="7.49">1599</text>
<text transform="translate(481.5 176.4) scale(0.9 1)" text-anchor="middle" font-size="7.49">133</text>
<text transform="translate(499 182) scale(0.9 1)" text-anchor="middle" font-size="7.49">37</text>
<text transform="translate(464 201.6) scale(0.9 1)" text-anchor="middle" font-size="7.49">1592</text>
<text transform="translate(485.7 200.7) scale(0.9 1)" text-anchor="middle" font-weight="bold" font-size="7.49">1684</text>
<text transform="translate(493 214.3) scale(0.9 1)" text-anchor="middle" font-weight="bold" font-size="7.49">1710</text>
<text transform="translate(422.5 206.3) scale(0.9 1)" text-anchor="middle" font-size="7.49">197</text>
<text transform="translate(445 215.2) scale(0.9 1)" text-anchor="middle" font-size="7.49">598</text>
<text transform="translate(410.5 222.3) scale(0.9 1)" text-anchor="middle" font-size="7.49">145</text>
<text transform="translate(448.5 227.9) scale(0.9 1)" text-anchor="middle" font-size="7.49">1716</text>
<text transform="translate(465 224.2) scale(0.9 1)" text-anchor="middle" font-size="7.49">884</text>
<text transform="translate(485 222.3) scale(0.9 1)" text-anchor="middle" font-size="7.49">1139</text>
<text transform="translate(503 228.3) scale(0.9 1)" text-anchor="middle" font-size="7.49">1277</text>
<text transform="translate(421.5 242.3) scale(0.9 1)" text-anchor="middle" font-size="7.49">852</text>
<text transform="translate(441 245.1) scale(0.9 1)" text-anchor="middle" font-size="7.49">86</text>
<text transform="translate(449.5 247) scale(0.9 1)" text-anchor="middle" font-size="7.49">4</text>
<text transform="translate(479.5 245.1) scale(0.9 1)" text-anchor="middle" font-size="7.49">503</text>
<text transform="translate(498.8 251.5) scale(0.9 1)" text-anchor="middle" font-size="7.49">455</text>
<text transform="translate(386 261.5) scale(0.9 1)" text-anchor="middle" font-weight="bold" font-size="7.49">206</text>
<text transform="translate(414 271.7) scale(0.9 1)" text-anchor="middle" font-weight="bold" font-size="7.49">34</text>
<text transform="translate(442.5 269.5) scale(0.9 1)" text-anchor="middle" font-size="7.49">68</text>
<text transform="translate(464.5 272.1) scale(0.9 1)" text-anchor="middle" font-size="7.49">152</text>
<text transform="translate(493.5 277.1) scale(0.9 1)" text-anchor="middle" font-size="7.49">703</text>
<text transform="translate(427.7 305.9) scale(0.9 1)" text-anchor="middle" font-weight="bold" font-size="7.49">140</text>
<text transform="translate(463.3 299.9) scale(0.9 1)" text-anchor="middle" font-size="7.49">61</text>
<text transform="translate(496 308.3) scale(0.9 1)" text-anchor="middle" font-weight="bold" font-size="7.49">854</text>
<line x1="528.6" y1="163" x2="528.6" y2="316.7" stroke="#231f20" stroke-width="0.9"/>
<line x1="528.6" y1="316.7" x2="678.8" y2="316.7" stroke="#231f20" stroke-width="0.9"/>
<line x1="526.6" y1="164" x2="528.6" y2="164" stroke="#231f20" stroke-width="0.8"/>
<text transform="translate(525.6 166.5) scale(0.9 1)" text-anchor="end" font-size="7.49">100</text>
<line x1="526.6" y1="193.4" x2="528.6" y2="193.4" stroke="#231f20" stroke-width="0.8"/>
<text transform="translate(525.6 195.9) scale(0.9 1)" text-anchor="end" font-size="7.49">80</text>
<line x1="526.6" y1="222.8" x2="528.6" y2="222.8" stroke="#231f20" stroke-width="0.8"/>
<text transform="translate(525.6 225.3) scale(0.9 1)" text-anchor="end" font-size="7.49">60</text>
<line x1="526.6" y1="252.2" x2="528.6" y2="252.2" stroke="#231f20" stroke-width="0.8"/>
<text transform="translate(525.6 254.7) scale(0.9 1)" text-anchor="end" font-size="7.49">40</text>
<line x1="526.6" y1="281.6" x2="528.6" y2="281.6" stroke="#231f20" stroke-width="0.8"/>
<text transform="translate(525.6 284.1) scale(0.9 1)" text-anchor="end" font-size="7.49">20</text>
<line x1="526.6" y1="311" x2="528.6" y2="311" stroke="#231f20" stroke-width="0.8"/>
<text transform="translate(525.6 313.5) scale(0.9 1)" text-anchor="end" font-size="7.49">0</text>
<line x1="533.6" y1="316.7" x2="533.6" y2="318.7" stroke="#231f20" stroke-width="0.8"/>
<text transform="translate(533.6 325) scale(0.9 1)" text-anchor="middle" font-size="7.49">0</text>
<line x1="562.5" y1="316.7" x2="562.5" y2="318.7" stroke="#231f20" stroke-width="0.8"/>
<text transform="translate(562.5 325) scale(0.9 1)" text-anchor="middle" font-size="7.49">20</text>
<line x1="591.5" y1="316.7" x2="591.5" y2="318.7" stroke="#231f20" stroke-width="0.8"/>
<text transform="translate(591.5 325) scale(0.9 1)" text-anchor="middle" font-size="7.49">40</text>
<line x1="620.4" y1="316.7" x2="620.4" y2="318.7" stroke="#231f20" stroke-width="0.8"/>
<text transform="translate(620.4 325) scale(0.9 1)" text-anchor="middle" font-size="7.49">60</text>
<line x1="649.3" y1="316.7" x2="649.3" y2="318.7" stroke="#231f20" stroke-width="0.8"/>
<text transform="translate(649.3 325) scale(0.9 1)" text-anchor="middle" font-size="7.49">80</text>
<line x1="678.2" y1="316.7" x2="678.2" y2="318.7" stroke="#231f20" stroke-width="0.8"/>
<text transform="translate(676 325) scale(0.9 1)" text-anchor="middle" font-size="7.49">100</text>
<line x1="556.6" y1="169.2" x2="543.2" y2="175.4" stroke="#bdbdbd" stroke-width="0.4"/>
<line x1="556.6" y1="169.2" x2="571.7" y2="179.6" stroke="#bdbdbd" stroke-width="0.4"/>
<line x1="556.6" y1="169.2" x2="559.6" y2="180.7" stroke="#bdbdbd" stroke-width="0.4"/>
<line x1="556.6" y1="169.2" x2="548.4" y2="187" stroke="#bdbdbd" stroke-width="0.4"/>
<line x1="556.6" y1="169.2" x2="537" y2="191.1" stroke="#bdbdbd" stroke-width="0.4"/>
<line x1="556.6" y1="169.2" x2="559.6" y2="193.2" stroke="#bdbdbd" stroke-width="0.4"/>
<line x1="556.6" y1="169.2" x2="572.3" y2="194" stroke="#bdbdbd" stroke-width="0.4"/>
<line x1="556.6" y1="169.2" x2="546.9" y2="201.7" stroke="#bdbdbd" stroke-width="0.4"/>
<line x1="556.6" y1="169.2" x2="561.1" y2="205.4" stroke="#bdbdbd" stroke-width="0.4"/>
<line x1="543.2" y1="175.4" x2="571.7" y2="179.6" stroke="#bdbdbd" stroke-width="0.4"/>
<line x1="543.2" y1="175.4" x2="559.6" y2="180.7" stroke="#bdbdbd" stroke-width="0.4"/>
<line x1="543.2" y1="175.4" x2="548.4" y2="187" stroke="#bdbdbd" stroke-width="0.4"/>
<line x1="543.2" y1="175.4" x2="537" y2="191.1" stroke="#bdbdbd" stroke-width="0.4"/>
<line x1="543.2" y1="175.4" x2="559.6" y2="193.2" stroke="#bdbdbd" stroke-width="0.4"/>
<line x1="543.2" y1="175.4" x2="572.3" y2="194" stroke="#bdbdbd" stroke-width="0.4"/>
<line x1="543.2" y1="175.4" x2="546.9" y2="201.7" stroke="#bdbdbd" stroke-width="0.4"/>
<line x1="543.2" y1="175.4" x2="561.1" y2="205.4" stroke="#bdbdbd" stroke-width="0.4"/>
<line x1="571.7" y1="179.6" x2="559.6" y2="180.7" stroke="#bdbdbd" stroke-width="0.4"/>
<line x1="571.7" y1="179.6" x2="548.4" y2="187" stroke="#bdbdbd" stroke-width="0.4"/>
<line x1="571.7" y1="179.6" x2="537" y2="191.1" stroke="#bdbdbd" stroke-width="0.4"/>
<line x1="571.7" y1="179.6" x2="559.6" y2="193.2" stroke="#bdbdbd" stroke-width="0.4"/>
<line x1="571.7" y1="179.6" x2="572.3" y2="194" stroke="#bdbdbd" stroke-width="0.4"/>
<line x1="571.7" y1="179.6" x2="546.9" y2="201.7" stroke="#bdbdbd" stroke-width="0.4"/>
<line x1="571.7" y1="179.6" x2="561.1" y2="205.4" stroke="#bdbdbd" stroke-width="0.4"/>
<line x1="559.6" y1="180.7" x2="548.4" y2="187" stroke="#bdbdbd" stroke-width="0.4"/>
<line x1="559.6" y1="180.7" x2="537" y2="191.1" stroke="#bdbdbd" stroke-width="0.4"/>
<line x1="559.6" y1="180.7" x2="559.6" y2="193.2" stroke="#bdbdbd" stroke-width="0.4"/>
<line x1="559.6" y1="180.7" x2="572.3" y2="194" stroke="#bdbdbd" stroke-width="0.4"/>
<line x1="559.6" y1="180.7" x2="546.9" y2="201.7" stroke="#bdbdbd" stroke-width="0.4"/>
<line x1="559.6" y1="180.7" x2="561.1" y2="205.4" stroke="#bdbdbd" stroke-width="0.4"/>
<line x1="548.4" y1="187" x2="537" y2="191.1" stroke="#bdbdbd" stroke-width="0.4"/>
<line x1="548.4" y1="187" x2="559.6" y2="193.2" stroke="#bdbdbd" stroke-width="0.4"/>
<line x1="548.4" y1="187" x2="572.3" y2="194" stroke="#bdbdbd" stroke-width="0.4"/>
<line x1="548.4" y1="187" x2="546.9" y2="201.7" stroke="#bdbdbd" stroke-width="0.4"/>
<line x1="548.4" y1="187" x2="561.1" y2="205.4" stroke="#bdbdbd" stroke-width="0.4"/>
<line x1="537" y1="191.1" x2="559.6" y2="193.2" stroke="#bdbdbd" stroke-width="0.4"/>
<line x1="537" y1="191.1" x2="572.3" y2="194" stroke="#bdbdbd" stroke-width="0.4"/>
<line x1="537" y1="191.1" x2="546.9" y2="201.7" stroke="#bdbdbd" stroke-width="0.4"/>
<line x1="537" y1="191.1" x2="561.1" y2="205.4" stroke="#bdbdbd" stroke-width="0.4"/>
<line x1="559.6" y1="193.2" x2="572.3" y2="194" stroke="#bdbdbd" stroke-width="0.4"/>
<line x1="559.6" y1="193.2" x2="546.9" y2="201.7" stroke="#bdbdbd" stroke-width="0.4"/>
<line x1="559.6" y1="193.2" x2="561.1" y2="205.4" stroke="#bdbdbd" stroke-width="0.4"/>
<line x1="572.3" y1="194" x2="546.9" y2="201.7" stroke="#bdbdbd" stroke-width="0.4"/>
<line x1="572.3" y1="194" x2="561.1" y2="205.4" stroke="#bdbdbd" stroke-width="0.4"/>
<line x1="546.9" y1="201.7" x2="561.1" y2="205.4" stroke="#bdbdbd" stroke-width="0.4"/>
<line x1="600.9" y1="297.8" x2="600.9" y2="286.1" stroke="#bdbdbd" stroke-width="0.4"/>
<line x1="600.9" y1="297.8" x2="589.7" y2="292.2" stroke="#bdbdbd" stroke-width="0.4"/>
<line x1="600.9" y1="297.8" x2="612.1" y2="292.2" stroke="#bdbdbd" stroke-width="0.4"/>
<line x1="600.9" y1="297.8" x2="589.7" y2="304" stroke="#bdbdbd" stroke-width="0.4"/>
<line x1="600.9" y1="297.8" x2="612.1" y2="304" stroke="#bdbdbd" stroke-width="0.4"/>
<line x1="600.9" y1="297.8" x2="600.9" y2="309.6" stroke="#bdbdbd" stroke-width="0.4"/>
<line x1="600.9" y1="286.1" x2="589.7" y2="292.2" stroke="#bdbdbd" stroke-width="0.4"/>
<line x1="600.9" y1="286.1" x2="612.1" y2="292.2" stroke="#bdbdbd" stroke-width="0.4"/>
<line x1="600.9" y1="286.1" x2="589.7" y2="304" stroke="#bdbdbd" stroke-width="0.4"/>
<line x1="600.9" y1="286.1" x2="612.1" y2="304" stroke="#bdbdbd" stroke-width="0.4"/>
<line x1="600.9" y1="286.1" x2="600.9" y2="309.6" stroke="#bdbdbd" stroke-width="0.4"/>
<line x1="589.7" y1="292.2" x2="612.1" y2="292.2" stroke="#bdbdbd" stroke-width="0.4"/>
<line x1="589.7" y1="292.2" x2="589.7" y2="304" stroke="#bdbdbd" stroke-width="0.4"/>
<line x1="589.7" y1="292.2" x2="612.1" y2="304" stroke="#bdbdbd" stroke-width="0.4"/>
<line x1="589.7" y1="292.2" x2="600.9" y2="309.6" stroke="#bdbdbd" stroke-width="0.4"/>
<line x1="612.1" y1="292.2" x2="589.7" y2="304" stroke="#bdbdbd" stroke-width="0.4"/>
<line x1="612.1" y1="292.2" x2="612.1" y2="304" stroke="#bdbdbd" stroke-width="0.4"/>
<line x1="612.1" y1="292.2" x2="600.9" y2="309.6" stroke="#bdbdbd" stroke-width="0.4"/>
<line x1="589.7" y1="304" x2="612.1" y2="304" stroke="#bdbdbd" stroke-width="0.4"/>
<line x1="589.7" y1="304" x2="600.9" y2="309.6" stroke="#bdbdbd" stroke-width="0.4"/>
<line x1="612.1" y1="304" x2="600.9" y2="309.6" stroke="#bdbdbd" stroke-width="0.4"/>
<line x1="618.1" y1="186.6" x2="607.9" y2="197" stroke="#bdbdbd" stroke-width="0.5"/>
<line x1="628" y1="171.6" x2="637.7" y2="182.4" stroke="#bdbdbd" stroke-width="0.5"/>
<line x1="645.2" y1="172" x2="654.9" y2="182.4" stroke="#bdbdbd" stroke-width="0.5"/>
<line x1="662.3" y1="182.4" x2="672" y2="172" stroke="#bdbdbd" stroke-width="0.5"/>
<line x1="628" y1="195.7" x2="637.7" y2="205.8" stroke="#bdbdbd" stroke-width="0.5"/>
<line x1="645.2" y1="195.7" x2="654.9" y2="205.8" stroke="#bdbdbd" stroke-width="0.5"/>
<line x1="584.9" y1="203.2" x2="594.2" y2="212.6" stroke="#bdbdbd" stroke-width="0.5"/>
<line x1="618.1" y1="204.5" x2="608" y2="214.5" stroke="#bdbdbd" stroke-width="0.5"/>
<line x1="594.2" y1="219.5" x2="584.9" y2="229.1" stroke="#bdbdbd" stroke-width="0.5"/>
<line x1="608" y1="221.9" x2="618.1" y2="232.3" stroke="#bdbdbd" stroke-width="0.5"/>
<line x1="628" y1="219.5" x2="637.9" y2="229.5" stroke="#bdbdbd" stroke-width="0.5"/>
<line x1="645.4" y1="219.1" x2="655.1" y2="229.5" stroke="#bdbdbd" stroke-width="0.5"/>
<line x1="662.6" y1="229.5" x2="672.3" y2="219.1" stroke="#bdbdbd" stroke-width="0.5"/>
<line x1="581.7" y1="236.6" x2="598.1" y2="253.9" stroke="#bdbdbd" stroke-width="0.5"/>
<line x1="605.4" y1="240.8" x2="616.6" y2="252.6" stroke="#bdbdbd" stroke-width="0.5"/>
<line x1="642.4" y1="240.8" x2="653.6" y2="252.6" stroke="#bdbdbd" stroke-width="0.5"/>
<line x1="660.7" y1="252.6" x2="672.3" y2="240.8" stroke="#bdbdbd" stroke-width="0.5"/>
<line x1="536" y1="241.3" x2="574.3" y2="257.6" stroke="#bdbdbd" stroke-width="0.5"/>
<line x1="536" y1="241.3" x2="567.2" y2="281.2" stroke="#bdbdbd" stroke-width="0.5"/>
<line x1="567.2" y1="281.2" x2="574.3" y2="257.6" stroke="#bdbdbd" stroke-width="0.5"/>
<line x1="582.1" y1="261.7" x2="598.5" y2="270.7" stroke="#bdbdbd" stroke-width="0.5"/>
<line x1="598.5" y1="270.7" x2="581.7" y2="279" stroke="#bdbdbd" stroke-width="0.5"/>
<line x1="581.7" y1="279" x2="582.1" y2="261.7" stroke="#bdbdbd" stroke-width="0.5"/>
<line x1="606" y1="261.7" x2="622.8" y2="264.5" stroke="#bdbdbd" stroke-width="0.5"/>
<line x1="622.8" y1="264.5" x2="612.5" y2="279" stroke="#bdbdbd" stroke-width="0.5"/>
<line x1="612.5" y1="279" x2="606" y2="261.7" stroke="#bdbdbd" stroke-width="0.5"/>
<line x1="633.4" y1="261.7" x2="647.6" y2="272.6" stroke="#bdbdbd" stroke-width="0.5"/>
<line x1="647.6" y1="272.6" x2="630.8" y2="279" stroke="#bdbdbd" stroke-width="0.5"/>
<line x1="630.8" y1="279" x2="633.4" y2="261.7" stroke="#bdbdbd" stroke-width="0.5"/>
<line x1="627.1" y1="288.4" x2="646.1" y2="307.8" stroke="#bdbdbd" stroke-width="0.5"/>
<line x1="653.2" y1="307.2" x2="663.3" y2="297.4" stroke="#bdbdbd" stroke-width="0.5"/>
<line x1="663.3" y1="297.4" x2="672.6" y2="288.4" stroke="#bdbdbd" stroke-width="0.5"/>
<circle cx="556.6" cy="169.2" r="2.4" fill="#b8dcc0"/>
<circle cx="543.2" cy="175.4" r="2.4" fill="#b8dcc0"/>
<circle cx="571.7" cy="179.6" r="2.4" fill="#4cb85a"/>
<circle cx="559.6" cy="180.7" r="2.4" fill="#b8dcc0"/>
<circle cx="548.4" cy="187" r="2.4" fill="#b8dcc0"/>
<circle cx="537" cy="191.1" r="2.4" fill="#b8dcc0"/>
<circle cx="559.6" cy="193.2" r="2.4" fill="#b8dcc0"/>
<circle cx="572.3" cy="194" r="2.4" fill="#b8dcc0"/>
<circle cx="546.9" cy="201.7" r="2.4" fill="#4cb85a"/>
<circle cx="561.1" cy="205.4" r="2.4" fill="#b8dcc0"/>
<circle cx="600.9" cy="297.8" r="2.4" fill="#d8c088"/>
<circle cx="600.9" cy="286.1" r="2.4" fill="#b8dcc0"/>
<circle cx="589.7" cy="292.2" r="2.4" fill="#b8dcc0"/>
<circle cx="612.1" cy="292.2" r="2.4" fill="#b8dcc0"/>
<circle cx="589.7" cy="304" r="2.4" fill="#b8dcc0"/>
<circle cx="612.1" cy="304" r="2.4" fill="#b8dcc0"/>
<circle cx="600.9" cy="309.6" r="2.4" fill="#b8dcc0"/>
<path d="M584.8 179.1L581.6 178.5A3.3 3.3 0 0 1 587.2 176.8Z" fill="#a9b0df"/>
<path d="M584.8 179.1L587.2 176.8A3.3 3.3 0 1 1 581.6 178.5Z" fill="#4a6bbe"/>
<circle cx="585.3" cy="195.4" r="3.3" fill="#f2952b"/>
<circle cx="608.2" cy="179.7" r="3.2" fill="#8b5522"/>
<circle cx="607.9" cy="197" r="2.4" fill="#4a6bbe"/>
<circle cx="618.1" cy="186.6" r="2.4" fill="#4a6bbe"/>
<circle cx="628" cy="171.6" r="2.4" fill="#f2952b"/>
<circle cx="637.7" cy="182.4" r="2.4" fill="#f2952b"/>
<circle cx="645.2" cy="172" r="2.4" fill="#b8dcc0"/>
<circle cx="654.9" cy="182.4" r="2.4" fill="#b8dcc0"/>
<circle cx="662.3" cy="182.4" r="2.4" fill="#b8dcc0"/>
<circle cx="672" cy="172" r="2.4" fill="#b8dcc0"/>
<circle cx="628" cy="195.7" r="2.4" fill="#4a6bbe"/>
<circle cx="637.7" cy="205.8" r="2.4" fill="#4a6bbe"/>
<circle cx="645.2" cy="195.7" r="2.4" fill="#4a6bbe"/>
<circle cx="654.9" cy="205.8" r="2.4" fill="#f2952b"/>
<circle cx="662.3" cy="205.8" r="3.3" fill="#4a6bbe"/>
<circle cx="584.9" cy="203.2" r="2.4" fill="#e3a6b3"/>
<circle cx="594.2" cy="212.6" r="2.4" fill="#a9b0df"/>
<circle cx="618.1" cy="204.5" r="2.4" fill="#8d1a47"/>
<circle cx="608" cy="214.5" r="2.4" fill="#e3a6b3"/>
<circle cx="594.2" cy="219.5" r="2.4" fill="#e3a6b3"/>
<circle cx="584.9" cy="229.1" r="2.4" fill="#a9b0df"/>
<circle cx="608" cy="221.9" r="2.4" fill="#d9675a"/>
<circle cx="618.1" cy="232.3" r="2.4" fill="#d9675a"/>
<circle cx="628" cy="219.5" r="2.4" fill="#4a6bbe"/>
<circle cx="637.9" cy="229.5" r="2.4" fill="#8b5522"/>
<circle cx="645.4" cy="219.1" r="2.4" fill="#a9b0df"/>
<circle cx="655.1" cy="229.5" r="2.4" fill="#8b5522"/>
<circle cx="662.6" cy="229.5" r="2.4" fill="#8b5522"/>
<circle cx="672.3" cy="219.1" r="2.4" fill="#8b5522"/>
<circle cx="581.7" cy="236.6" r="2.4" fill="#d9675a"/>
<path d="M598.1 253.9L594.8 253.9A3.3 3.3 0 0 1 601.2 252.9Z" fill="#8b5522"/>
<path d="M598.1 253.9L601.2 252.9A3.3 3.3 0 1 1 594.8 253.9Z" fill="#e3a6b3"/>
<circle cx="605.4" cy="240.8" r="2.4" fill="#e3a6b3"/>
<circle cx="616.6" cy="252.6" r="2.4" fill="#8b5522"/>
<circle cx="623.7" cy="252.6" r="3.3" fill="#e3a6b3"/>
<circle cx="642.4" cy="240.8" r="2.4" fill="#8b5522"/>
<circle cx="653.6" cy="252.6" r="2.4" fill="#e3a6b3"/>
<circle cx="660.7" cy="252.6" r="2.4" fill="#1f52a6"/>
<circle cx="672.3" cy="240.8" r="2.4" fill="#a9b0df"/>
<path d="M536 241.3L543.4 238.6A7.9 7.9 0 0 1 543.8 240Z" fill="#f2952b"/>
<path d="M536 241.3L543.8 240A7.9 7.9 0 1 1 535.7 233.4Z" fill="#4a6bbe"/>
<path d="M536 241.3L535.7 233.4A7.9 7.9 0 0 1 543.4 238.6Z" fill="#a9b0df"/>
<circle cx="574.3" cy="257.6" r="2.4" fill="#4a6bbe"/>
<path d="M567.2 281.2L569.8 276.8A5.1 5.1 0 0 1 572.1 279.7Z" fill="#f2952b"/>
<path d="M567.2 281.2L572.1 279.7A5.1 5.1 0 1 1 562.1 281.1Z" fill="#4a6bbe"/>
<path d="M567.2 281.2L562.1 281.1A5.1 5.1 0 0 1 569.8 276.8Z" fill="#a9b0df"/>
<circle cx="582.1" cy="261.7" r="2.4" fill="#4a6bbe"/>
<circle cx="598.5" cy="270.7" r="2.4" fill="#4a6bbe"/>
<circle cx="581.7" cy="279" r="2.4" fill="#a9b0df"/>
<circle cx="606" cy="261.7" r="2.4" fill="#b8dcc0"/>
<circle cx="622.8" cy="264.5" r="2.4" fill="#b8dcc0"/>
<circle cx="612.5" cy="279" r="2.4" fill="#1f52a6"/>
<circle cx="633.4" cy="261.7" r="2.4" fill="#a9b0df"/>
<circle cx="647.6" cy="272.6" r="2.4" fill="#d9675a"/>
<circle cx="630.8" cy="279" r="2.4" fill="#b8dcc0"/>
<circle cx="655.1" cy="279" r="4.1" fill="#2d6a35"/>
<path d="M627.1 288.4L623.3 289.7A4 4 0 0 1 630.9 287Z" fill="#d9675a"/>
<path d="M627.1 288.4L630.9 287A4 4 0 0 1 623.3 289.7Z" fill="#a9b0df"/>
<circle cx="646.1" cy="307.8" r="2.4" fill="#a9b0df"/>
<circle cx="653.2" cy="307.2" r="3.5" fill="#4a6bbe"/>
<circle cx="663.3" cy="297.4" r="2.4" fill="#4a6bbe"/>
<circle cx="672.6" cy="288.4" r="2.4" fill="#a9b0df"/>
<text transform="translate(557.3 189.6) scale(0.9 1)" text-anchor="middle" font-weight="bold" font-size="7.49">17</text>
<text transform="translate(586.8 173) scale(0.9 1)" text-anchor="middle" font-weight="bold" font-size="7.49">406</text>
<text transform="translate(587.8 189.1) scale(0.9 1)" text-anchor="middle" font-weight="bold" font-size="7.49">1773</text>
<text transform="translate(610.8 174.7) scale(0.9 1)" text-anchor="middle" font-size="7.49">817</text>
<text transform="translate(607.3 191.9) scale(0.9 1)" text-anchor="middle" font-size="7.49">759</text>
<text transform="translate(634.6 178.9) scale(0.9 1)" text-anchor="middle" font-size="7.49">1599</text>
<text transform="translate(654.8 176.9) scale(0.9 1)" text-anchor="middle" font-size="7.49">133</text>
<text transform="translate(672.3 182.6) scale(0.9 1)" text-anchor="middle" font-size="7.49">37</text>
<text transform="translate(637.3 202.3) scale(0.9 1)" text-anchor="middle" font-size="7.49">1592</text>
<text transform="translate(659 201.4) scale(0.9 1)" text-anchor="middle" font-weight="bold" font-size="7.49">1684</text>
<text transform="translate(666.3 215.1) scale(0.9 1)" text-anchor="middle" font-weight="bold" font-size="7.49">1710</text>
<text transform="translate(595.8 207) scale(0.9 1)" text-anchor="middle" font-size="7.49">197</text>
<text transform="translate(618.3 216) scale(0.9 1)" text-anchor="middle" font-size="7.49">598</text>
<text transform="translate(583.8 223.1) scale(0.9 1)" text-anchor="middle" font-size="7.49">145</text>
<text transform="translate(621.8 228.8) scale(0.9 1)" text-anchor="middle" font-size="7.49">1716</text>
<text transform="translate(638.3 225.1) scale(0.9 1)" text-anchor="middle" font-size="7.49">884</text>
<text transform="translate(658.3 223.1) scale(0.9 1)" text-anchor="middle" font-size="7.49">1139</text>
<text transform="translate(676.3 229.2) scale(0.9 1)" text-anchor="middle" font-size="7.49">1277</text>
<text transform="translate(594.8 243.3) scale(0.9 1)" text-anchor="middle" font-size="7.49">852</text>
<text transform="translate(614.3 246.1) scale(0.9 1)" text-anchor="middle" font-size="7.49">86</text>
<text transform="translate(622.8 248) scale(0.9 1)" text-anchor="middle" font-size="7.49">4</text>
<text transform="translate(652.8 246.1) scale(0.9 1)" text-anchor="middle" font-size="7.49">503</text>
<text transform="translate(672.1 252.5) scale(0.9 1)" text-anchor="middle" font-size="7.49">455</text>
<text transform="translate(559.3 262.6) scale(0.9 1)" text-anchor="middle" font-weight="bold" font-size="7.49">206</text>
<text transform="translate(587.3 272.9) scale(0.9 1)" text-anchor="middle" font-weight="bold" font-size="7.49">34</text>
<text transform="translate(615.8 270.7) scale(0.9 1)" text-anchor="middle" font-size="7.49">68</text>
<text transform="translate(637.8 273.3) scale(0.9 1)" text-anchor="middle" font-size="7.49">152</text>
<text transform="translate(666.8 278.3) scale(0.9 1)" text-anchor="middle" font-size="7.49">703</text>
<text transform="translate(601 307.3) scale(0.9 1)" text-anchor="middle" font-weight="bold" font-size="7.49">140</text>
<text transform="translate(636.6 301.2) scale(0.9 1)" text-anchor="middle" font-size="7.49">61</text>
<text transform="translate(669.3 309.7) scale(0.9 1)" text-anchor="middle" font-weight="bold" font-size="7.49">854</text>
<text transform="translate(369 269.8) scale(0.9 1)" text-anchor="middle" font-weight="bold" font-size="7.49">TCR<tspan dy="-2.5" font-size="4.5">Hh</tspan></text>
<text transform="translate(542.5 270.8) scale(0.9 1)" text-anchor="middle" font-weight="bold" font-size="7.49">TCR<tspan dy="-2.5" font-size="4.5">Mb</tspan></text>
<circle cx="371.6" cy="338.2" r="2.5" fill="#2f7ec0"/>
<text transform="translate(376 340.7) scale(0.9 1)" font-size="7.49">MLN</text>
<circle cx="371.6" cy="345.8" r="2.5" fill="#f58c32"/>
<text transform="translate(376 348.3) scale(0.9 1)" font-size="7.49">CP</text>
<circle cx="371.6" cy="353.4" r="2.5" fill="#2ea35d"/>
<text transform="translate(376 355.9) scale(0.9 1)" font-size="7.49">LA</text>
<circle cx="371.6" cy="361" r="2.5" fill="#d9303a"/>
<text transform="translate(376 363.5) scale(0.9 1)" font-size="7.49">LP</text>
<text transform="translate(466 340.2) scale(0.9 1)" text-anchor="middle" font-size="7.49">No. of cells</text>
<circle cx="451.4" cy="348.4" r="2" fill="#7a7a7a" stroke="#555" stroke-width="0.4"/>
<line x1="451.4" y1="353.5" x2="451.4" y2="355" stroke="#231f20" stroke-width="0.6"/>
<text transform="translate(451.4 363) scale(0.9 1)" text-anchor="middle" font-size="7.49">1</text>
<circle cx="460.5" cy="348.4" r="3.3" fill="#7a7a7a" stroke="#555" stroke-width="0.4"/>
<line x1="460.5" y1="353.5" x2="460.5" y2="355" stroke="#231f20" stroke-width="0.6"/>
<text transform="translate(460.5 363) scale(0.9 1)" text-anchor="middle" font-size="7.49">3</text>
<circle cx="470.5" cy="348.4" r="4.1" fill="#7a7a7a" stroke="#555" stroke-width="0.4"/>
<line x1="470.5" y1="353.5" x2="470.5" y2="355" stroke="#231f20" stroke-width="0.6"/>
<text transform="translate(470.5 363) scale(0.9 1)" text-anchor="middle" font-size="7.49">5</text>
<circle cx="481.5" cy="348.4" r="4.7" fill="#7a7a7a" stroke="#555" stroke-width="0.4"/>
<line x1="481.5" y1="353.5" x2="481.5" y2="355" stroke="#231f20" stroke-width="0.6"/>
<text transform="translate(481.5 363) scale(0.9 1)" text-anchor="middle" font-size="7.49">6</text>
<circle cx="522.4" cy="337.4" r="2.3" fill="#f2952b"/>
<text transform="translate(526.4 339.9) scale(0.9 1)" font-size="7.49">Prolif. T<tspan dy="2" font-size="4.5">reg</tspan></text>
<circle cx="522.4" cy="344.8" r="2.3" fill="#a9b0df"/>
<text transform="translate(526.4 347.3) scale(0.9 1)" font-size="7.49">cT<tspan dy="2" font-size="4.5">reg</tspan></text>
<circle cx="522.4" cy="352.3" r="2.3" fill="#4a6bbe"/>
<text transform="translate(526.4 354.8) scale(0.9 1)" font-size="7.49">eT<tspan dy="2" font-size="4.5">reg</tspan></text>
<circle cx="563.4" cy="336.9" r="2.3" fill="#d9675a"/>
<text transform="translate(567.4 339.4) scale(0.9 1)" font-size="7.49">CD4<tspan dy="-2.5" font-size="4.5">+</tspan><tspan dy="2.5"> memory</tspan></text>
<circle cx="563.4" cy="344.8" r="2.3" fill="#4cb85a"/>
<text transform="translate(567.4 347.3) scale(0.9 1)" font-size="7.49">NK/NK T/γδ T cells</text>
<circle cx="563.4" cy="353.3" r="2.3" fill="#b8dcc0"/>
<text transform="translate(567.4 355.8) scale(0.9 1)" font-size="7.49">T<tspan dy="2" font-size="4.5">H</tspan><tspan dy="-2">17</tspan></text>
<circle cx="563.4" cy="361.7" r="2.3" fill="#2d6a35"/>
<text transform="translate(567.4 364.2) scale(0.9 1)" font-size="7.49">γδ T/T<tspan dy="2" font-size="4.5">H</tspan><tspan dy="-2">17</tspan></text>
<circle cx="629.6" cy="336.3" r="2.3" fill="#d8c088"/>
<text transform="translate(633.6 338.8) scale(0.9 1)" font-size="7.49">Naive CD4<tspan dy="-2.5" font-size="4.5">+</tspan><tspan dy="2.5">CD8</tspan><tspan dy="-2.5" font-size="4.5">+</tspan></text>
<circle cx="629.6" cy="344.6" r="2.3" fill="#8b5522"/>
<text transform="translate(633.6 347.1) scale(0.9 1)" font-size="7.49">Naive CD4<tspan dy="-2.5" font-size="4.5">+</tspan><tspan dy="2.5"> CP</tspan></text>
<circle cx="629.6" cy="353.4" r="2.3" fill="#e3a6b3"/>
<text transform="translate(633.6 355.9) scale(0.9 1)" font-size="7.49">Naive CD4<tspan dy="-2.5" font-size="4.5">+</tspan><tspan dy="2.5"> MLN</tspan></text>
<circle cx="629.6" cy="362.3" r="2.3" fill="#8d1a47"/>
<text transform="translate(633.6 364.8) scale(0.9 1)" font-size="7.49">Naive CD8<tspan dy="-2.5" font-size="4.5">+</tspan><tspan dy="2.5"> CP</tspan></text>
<circle cx="629.6" cy="371.1" r="2.3" fill="#1f52a6"/>
<text transform="translate(633.6 373.6) scale(0.9 1)" font-size="7.49">Naive CD8<tspan dy="-2.5" font-size="4.5">+</tspan><tspan dy="2.5"> MLN</tspan></text>
<text transform="translate(-0.6 118.3) scale(1 1)" font-weight="bold" font-size="11.5">c</text>
<path d="M52.8 129.5h0.8v0.8h-0.8zM53.7 126.3h0.8v0.8h-0.8zM40.6 153.1h0.8v0.8h-0.8zM45.5 142.8h0.8v0.8h-0.8zM46.3 141.7h0.8v0.8h-0.8zM39.6 134.5h0.8v0.8h-0.8zM42.1 129.6h0.8v0.8h-0.8zM37.7 138.8h0.8v0.8h-0.8zM40.9 135.7h0.8v0.8h-0.8zM38.4 143.9h0.8v0.8h-0.8zM45.2 133.3h0.8v0.8h-0.8zM44.6 142.8h0.8v0.8h-0.8zM52.1 135.6h0.8v0.8h-0.8zM39.9 145.7h0.8v0.8h-0.8zM41.4 134.7h0.8v0.8h-0.8zM39.5 131.8h0.8v0.8h-0.8zM62.4 135.3h0.8v0.8h-0.8zM61.2 134.8h0.8v0.8h-0.8zM44.3 152.9h0.8v0.8h-0.8zM43.5 149.6h0.8v0.8h-0.8zM50.8 131.4h0.8v0.8h-0.8zM43.9 147.3h0.8v0.8h-0.8zM51 125.6h0.8v0.8h-0.8zM39 145.4h0.8v0.8h-0.8zM59.8 133.7h0.8v0.8h-0.8zM48.3 144.3h0.8v0.8h-0.8zM42.3 139.7h0.8v0.8h-0.8zM43.5 142.8h0.8v0.8h-0.8zM43.3 127h0.8v0.8h-0.8zM42 135.4h0.8v0.8h-0.8zM52.6 130.6h0.8v0.8h-0.8zM43.3 150.9h0.8v0.8h-0.8zM43.5 131.1h0.8v0.8h-0.8zM45.2 140h0.8v0.8h-0.8zM45.6 142.2h0.8v0.8h-0.8zM52.1 128.7h0.8v0.8h-0.8zM57.4 130.7h0.8v0.8h-0.8zM42.4 129.7h0.8v0.8h-0.8zM48.6 131.1h0.8v0.8h-0.8zM52.6 131.2h0.8v0.8h-0.8zM37.6 134h0.8v0.8h-0.8zM43.4 127h0.8v0.8h-0.8zM46 147.9h0.8v0.8h-0.8zM46.2 138.3h0.8v0.8h-0.8zM47.5 128.8h0.8v0.8h-0.8zM57.7 132h0.8v0.8h-0.8zM38.3 141.3h0.8v0.8h-0.8zM50.2 136h0.8v0.8h-0.8zM48.6 130.2h0.8v0.8h-0.8zM51.4 127.3h0.8v0.8h-0.8zM51.1 130.9h0.8v0.8h-0.8zM60.4 136.5h0.8v0.8h-0.8zM52.1 136.5h0.8v0.8h-0.8zM38.6 145.7h0.8v0.8h-0.8zM53.5 137.3h0.8v0.8h-0.8zM57.8 135.8h0.8v0.8h-0.8zM55 135.3h0.8v0.8h-0.8zM42.9 146.4h0.8v0.8h-0.8zM41.5 140.2h0.8v0.8h-0.8zM48.5 129.2h0.8v0.8h-0.8zM38.4 137.8h0.8v0.8h-0.8zM40.7 140.1h0.8v0.8h-0.8zM51.3 137.5h0.8v0.8h-0.8zM52.2 133.9h0.8v0.8h-0.8zM43.3 142.1h0.8v0.8h-0.8zM45.2 141.3h0.8v0.8h-0.8zM47.9 140.5h0.8v0.8h-0.8zM42.7 140.2h0.8v0.8h-0.8zM39.1 132.6h0.8v0.8h-0.8zM52.2 132.9h0.8v0.8h-0.8zM48.8 137.4h0.8v0.8h-0.8zM48.5 140h0.8v0.8h-0.8zM40.2 138.1h0.8v0.8h-0.8zM52.8 128.3h0.8v0.8h-0.8zM58.3 137.5h0.8v0.8h-0.8zM43.3 144h0.8v0.8h-0.8zM39.9 135.7h0.8v0.8h-0.8zM49.8 138.8h0.8v0.8h-0.8zM55.8 130.1h0.8v0.8h-0.8zM46.3 130.9h0.8v0.8h-0.8zM45.8 147.8h0.8v0.8h-0.8zM58 136.7h0.8v0.8h-0.8zM50.8 138.4h0.8v0.8h-0.8zM43.9 135.1h0.8v0.8h-0.8zM42.7 150.3h0.8v0.8h-0.8zM54.8 132.2h0.8v0.8h-0.8zM40.1 129.9h0.8v0.8h-0.8zM43.3 131.3h0.8v0.8h-0.8zM41.4 150.5h0.8v0.8h-0.8zM46.3 135.5h0.8v0.8h-0.8zM39.4 147.1h0.8v0.8h-0.8zM47.8 139.9h0.8v0.8h-0.8zM44.3 130.8h0.8v0.8h-0.8zM49.1 136.3h0.8v0.8h-0.8zM48.9 138.4h0.8v0.8h-0.8zM48.9 141.8h0.8v0.8h-0.8zM38.1 150.1h0.8v0.8h-0.8zM44.6 143.6h0.8v0.8h-0.8zM50.4 132.9h0.8v0.8h-0.8zM45.1 143.4h0.8v0.8h-0.8zM37.5 146.6h0.8v0.8h-0.8zM41.6 138.7h0.8v0.8h-0.8zM56.7 137.4h0.8v0.8h-0.8zM44.3 139.6h0.8v0.8h-0.8zM44 136.5h0.8v0.8h-0.8zM42.9 148.7h0.8v0.8h-0.8zM58.5 135.2h0.8v0.8h-0.8zM47.9 133.1h0.8v0.8h-0.8zM46 143.6h0.8v0.8h-0.8zM42 138.7h0.8v0.8h-0.8zM44.8 128.3h0.8v0.8h-0.8zM44 128.1h0.8v0.8h-0.8zM42.4 140.4h0.8v0.8h-0.8zM55.3 127.6h0.8v0.8h-0.8zM53.5 130.4h0.8v0.8h-0.8zM41.9 154.7h0.8v0.8h-0.8zM43.1 136.8h0.8v0.8h-0.8zM39.7 129.6h0.8v0.8h-0.8zM44.9 137.4h0.8v0.8h-0.8zM39.3 147.5h0.8v0.8h-0.8zM48.1 128.2h0.8v0.8h-0.8zM45.4 130.5h0.8v0.8h-0.8zM51.6 133.4h0.8v0.8h-0.8zM42.6 144.5h0.8v0.8h-0.8zM47.3 133.1h0.8v0.8h-0.8zM47.4 126.3h0.8v0.8h-0.8zM44.3 155.7h0.8v0.8h-0.8zM59.8 134.1h0.8v0.8h-0.8zM52.2 134.7h0.8v0.8h-0.8zM43.4 128.1h0.8v0.8h-0.8zM43.4 138.8h0.8v0.8h-0.8zM53.9 134.8h0.8v0.8h-0.8zM57.2 131.5h0.8v0.8h-0.8zM52.9 127.9h0.8v0.8h-0.8zM46.2 137.6h0.8v0.8h-0.8zM56.1 136.3h0.8v0.8h-0.8zM41.8 145.4h0.8v0.8h-0.8zM38.1 140.6h0.8v0.8h-0.8zM42.6 151.1h0.8v0.8h-0.8zM39.7 141.9h0.8v0.8h-0.8zM45.5 133.1h0.8v0.8h-0.8zM47.9 136.1h0.8v0.8h-0.8zM42.7 152.5h0.8v0.8h-0.8zM55.9 134.6h0.8v0.8h-0.8zM39.4 138.9h0.8v0.8h-0.8zM45.8 135.8h0.8v0.8h-0.8zM41.9 152.8h0.8v0.8h-0.8zM52.5 130.2h0.8v0.8h-0.8zM43.9 137.5h0.8v0.8h-0.8zM41.7 145h0.8v0.8h-0.8zM39.2 140.9h0.8v0.8h-0.8zM54.9 126.9h0.8v0.8h-0.8zM44.8 146.3h0.8v0.8h-0.8zM45.2 127.3h0.8v0.8h-0.8zM41.8 145.4h0.8v0.8h-0.8zM47.1 142.3h0.8v0.8h-0.8zM45.4 128.8h0.8v0.8h-0.8zM42.5 143.6h0.8v0.8h-0.8zM56.1 130.2h0.8v0.8h-0.8zM41.5 143.1h0.8v0.8h-0.8zM51.5 127h0.8v0.8h-0.8zM50.7 132.2h0.8v0.8h-0.8zM43.5 141.3h0.8v0.8h-0.8zM48.9 128.4h0.8v0.8h-0.8zM48 134.7h0.8v0.8h-0.8zM45.5 134.9h0.8v0.8h-0.8zM50 133.2h0.8v0.8h-0.8zM41.7 130.2h0.8v0.8h-0.8zM48.2 130.4h0.8v0.8h-0.8zM51.6 139.7h0.8v0.8h-0.8zM59.4 133.3h0.8v0.8h-0.8zM44.5 131.9h0.8v0.8h-0.8zM46.6 143.9h0.8v0.8h-0.8zM57.1 135h0.8v0.8h-0.8zM41.7 148.1h0.8v0.8h-0.8zM42.8 127.9h0.8v0.8h-0.8zM39.9 135.5h0.8v0.8h-0.8zM41.3 131.1h0.8v0.8h-0.8zM41.1 135.5h0.8v0.8h-0.8zM44.6 126.6h0.8v0.8h-0.8zM54.4 136.9h0.8v0.8h-0.8zM37.4 140.5h0.8v0.8h-0.8zM44 137.3h0.8v0.8h-0.8zM43.3 135.9h0.8v0.8h-0.8zM40.8 136.3h0.8v0.8h-0.8zM42.1 135.9h0.8v0.8h-0.8zM38.5 139.1h0.8v0.8h-0.8zM56.7 134.2h0.8v0.8h-0.8zM58.7 131.1h0.8v0.8h-0.8zM40.8 149.5h0.8v0.8h-0.8z" fill="#8a9ade"/>
<path d="M33.8 171.3h0.8v0.8h-0.8zM34.4 144.3h0.8v0.8h-0.8zM35.6 150.5h0.8v0.8h-0.8zM40.6 168.6h0.8v0.8h-0.8zM29.1 158.1h0.8v0.8h-0.8zM27.6 160.1h0.8v0.8h-0.8zM41.8 157.3h0.8v0.8h-0.8zM31.3 146.7h0.8v0.8h-0.8zM36.1 145.9h0.8v0.8h-0.8zM40 151h0.8v0.8h-0.8zM34.6 158.4h0.8v0.8h-0.8zM25.1 171.3h0.8v0.8h-0.8zM26 150h0.8v0.8h-0.8zM30.1 154h0.8v0.8h-0.8zM30.2 144.7h0.8v0.8h-0.8zM42 154.8h0.8v0.8h-0.8zM38.5 164.3h0.8v0.8h-0.8zM32.5 157.1h0.8v0.8h-0.8zM41.6 153.8h0.8v0.8h-0.8zM28.8 165.2h0.8v0.8h-0.8zM39.8 158h0.8v0.8h-0.8zM43 165.1h0.8v0.8h-0.8zM28.5 145.2h0.8v0.8h-0.8zM41 155.3h0.8v0.8h-0.8zM30.4 170.5h0.8v0.8h-0.8zM35.1 166h0.8v0.8h-0.8zM44.8 166.2h0.8v0.8h-0.8zM34 170.8h0.8v0.8h-0.8zM43.3 151.5h0.8v0.8h-0.8zM33 144.6h0.8v0.8h-0.8zM31.6 162.5h0.8v0.8h-0.8zM44 154h0.8v0.8h-0.8zM29.2 168h0.8v0.8h-0.8zM37.7 154.3h0.8v0.8h-0.8zM25.5 174.2h0.8v0.8h-0.8zM26.1 172.2h0.8v0.8h-0.8zM34.8 149.9h0.8v0.8h-0.8zM42.6 162.4h0.8v0.8h-0.8zM44.4 158h0.8v0.8h-0.8zM26.7 149.6h0.8v0.8h-0.8zM33 159.8h0.8v0.8h-0.8zM36.5 166.2h0.8v0.8h-0.8zM27.9 157.8h0.8v0.8h-0.8zM39.4 152.5h0.8v0.8h-0.8zM27.3 169.2h0.8v0.8h-0.8zM34.4 160.8h0.8v0.8h-0.8zM34.9 157.8h0.8v0.8h-0.8zM43.6 152.3h0.8v0.8h-0.8zM36.6 166.2h0.8v0.8h-0.8zM40.9 148.5h0.8v0.8h-0.8zM46.1 162.1h0.8v0.8h-0.8zM40.6 166h0.8v0.8h-0.8zM37.5 168h0.8v0.8h-0.8zM24.2 159h0.8v0.8h-0.8zM39.1 162h0.8v0.8h-0.8zM29.4 157.2h0.8v0.8h-0.8zM28.6 158.3h0.8v0.8h-0.8zM46.6 162.8h0.8v0.8h-0.8zM27.1 163.4h0.8v0.8h-0.8zM29.6 163.7h0.8v0.8h-0.8zM43 168.6h0.8v0.8h-0.8zM36.1 156h0.8v0.8h-0.8zM41.4 147h0.8v0.8h-0.8zM40.2 168.7h0.8v0.8h-0.8zM38.5 159.6h0.8v0.8h-0.8zM30.7 158.5h0.8v0.8h-0.8zM31.5 148.6h0.8v0.8h-0.8zM36.7 152.7h0.8v0.8h-0.8zM32.4 148.6h0.8v0.8h-0.8zM42.5 166.5h0.8v0.8h-0.8zM26.4 157h0.8v0.8h-0.8zM34.2 158.3h0.8v0.8h-0.8zM30.7 153.7h0.8v0.8h-0.8zM26.8 160.2h0.8v0.8h-0.8zM28 166.1h0.8v0.8h-0.8zM31.4 156h0.8v0.8h-0.8zM34.5 162.9h0.8v0.8h-0.8zM31.7 164.1h0.8v0.8h-0.8zM28.8 157.3h0.8v0.8h-0.8zM37.1 166.9h0.8v0.8h-0.8zM44.4 163.6h0.8v0.8h-0.8zM33.4 151.7h0.8v0.8h-0.8zM26.8 173.5h0.8v0.8h-0.8zM36.2 157.1h0.8v0.8h-0.8zM43.7 165.9h0.8v0.8h-0.8zM28.1 148.8h0.8v0.8h-0.8zM41.7 159.5h0.8v0.8h-0.8zM43.2 168.4h0.8v0.8h-0.8zM30.9 172.9h0.8v0.8h-0.8zM41.2 151.7h0.8v0.8h-0.8zM33.4 169.2h0.8v0.8h-0.8zM30.8 155.2h0.8v0.8h-0.8zM23.4 163.3h0.8v0.8h-0.8zM30.7 170h0.8v0.8h-0.8zM31 169.9h0.8v0.8h-0.8zM35.7 145.7h0.8v0.8h-0.8zM25.2 149.4h0.8v0.8h-0.8zM32.5 157.1h0.8v0.8h-0.8zM27.7 150.9h0.8v0.8h-0.8zM42 159.5h0.8v0.8h-0.8zM25.4 165.3h0.8v0.8h-0.8zM26.5 173.6h0.8v0.8h-0.8zM32.1 154.8h0.8v0.8h-0.8zM33.3 144.2h0.8v0.8h-0.8zM36.2 167h0.8v0.8h-0.8zM41.7 165.3h0.8v0.8h-0.8zM24.2 167.1h0.8v0.8h-0.8zM35.9 160.1h0.8v0.8h-0.8zM32.4 160.4h0.8v0.8h-0.8zM29.6 167.8h0.8v0.8h-0.8zM35.1 160.9h0.8v0.8h-0.8zM35.9 155h0.8v0.8h-0.8zM28.5 150.1h0.8v0.8h-0.8zM38.4 153.9h0.8v0.8h-0.8zM33.8 147.4h0.8v0.8h-0.8zM29.6 164.3h0.8v0.8h-0.8zM35.9 164.2h0.8v0.8h-0.8zM28.4 151.3h0.8v0.8h-0.8zM34.3 171.9h0.8v0.8h-0.8zM29.6 159.5h0.8v0.8h-0.8zM27.2 157.4h0.8v0.8h-0.8zM28.4 150.8h0.8v0.8h-0.8zM36.1 162.7h0.8v0.8h-0.8zM42.6 154.3h0.8v0.8h-0.8zM34 172.4h0.8v0.8h-0.8zM27.2 170.8h0.8v0.8h-0.8zM31.7 146.9h0.8v0.8h-0.8zM29.4 159.2h0.8v0.8h-0.8zM42 154.1h0.8v0.8h-0.8zM25.8 169.6h0.8v0.8h-0.8zM46.4 161.2h0.8v0.8h-0.8zM41.1 164.9h0.8v0.8h-0.8zM34.6 149.5h0.8v0.8h-0.8zM31.3 174.3h0.8v0.8h-0.8zM29.1 164.4h0.8v0.8h-0.8zM40.6 164.1h0.8v0.8h-0.8zM26.8 167h0.8v0.8h-0.8zM38.8 147h0.8v0.8h-0.8zM25.7 156.8h0.8v0.8h-0.8zM26 172.5h0.8v0.8h-0.8zM34.4 173.9h0.8v0.8h-0.8zM39.6 168.3h0.8v0.8h-0.8zM30 147.3h0.8v0.8h-0.8zM29.7 171.4h0.8v0.8h-0.8zM39 168h0.8v0.8h-0.8zM32.5 165.3h0.8v0.8h-0.8zM29.3 168.7h0.8v0.8h-0.8zM32 166.4h0.8v0.8h-0.8zM31.9 166.4h0.8v0.8h-0.8zM30.7 159.6h0.8v0.8h-0.8zM38.6 149.3h0.8v0.8h-0.8zM30.2 150.2h0.8v0.8h-0.8zM28.2 152.8h0.8v0.8h-0.8zM38.4 157.4h0.8v0.8h-0.8zM43.8 153.5h0.8v0.8h-0.8zM40.4 168.8h0.8v0.8h-0.8zM43.5 153.7h0.8v0.8h-0.8zM28.3 167.6h0.8v0.8h-0.8zM34.6 150.8h0.8v0.8h-0.8zM40 168.9h0.8v0.8h-0.8zM24 171.1h0.8v0.8h-0.8zM35.6 144.5h0.8v0.8h-0.8zM34 169.1h0.8v0.8h-0.8zM42.3 166h0.8v0.8h-0.8zM36.9 169h0.8v0.8h-0.8zM33.4 162.1h0.8v0.8h-0.8zM42.7 161.3h0.8v0.8h-0.8zM31.3 160.4h0.8v0.8h-0.8zM30.9 155.8h0.8v0.8h-0.8zM43.3 150.9h0.8v0.8h-0.8zM30.8 152.5h0.8v0.8h-0.8zM35.9 163.9h0.8v0.8h-0.8zM32.4 164.6h0.8v0.8h-0.8zM41.9 151.4h0.8v0.8h-0.8zM30.7 160.8h0.8v0.8h-0.8zM41.6 163.5h0.8v0.8h-0.8zM35.1 147h0.8v0.8h-0.8zM43.9 157.2h0.8v0.8h-0.8zM30.5 171.6h0.8v0.8h-0.8zM30.6 162.8h0.8v0.8h-0.8zM31.5 160.7h0.8v0.8h-0.8zM40.1 156.7h0.8v0.8h-0.8zM30 158.7h0.8v0.8h-0.8zM41.4 154.8h0.8v0.8h-0.8zM24.8 168h0.8v0.8h-0.8zM35.8 171.1h0.8v0.8h-0.8zM24.6 160.5h0.8v0.8h-0.8zM37.8 151h0.8v0.8h-0.8zM40 156.8h0.8v0.8h-0.8zM33.7 163.4h0.8v0.8h-0.8zM31.5 159h0.8v0.8h-0.8zM29.2 163.6h0.8v0.8h-0.8zM30.1 159.7h0.8v0.8h-0.8zM27.6 153.6h0.8v0.8h-0.8zM23.8 169.6h0.8v0.8h-0.8zM29.5 165.8h0.8v0.8h-0.8zM41.6 150.9h0.8v0.8h-0.8zM44.6 161.6h0.8v0.8h-0.8zM37.9 156.7h0.8v0.8h-0.8zM38 169.3h0.8v0.8h-0.8zM32.8 151.1h0.8v0.8h-0.8zM31.8 167.7h0.8v0.8h-0.8zM34.8 148.1h0.8v0.8h-0.8zM25.4 170.5h0.8v0.8h-0.8zM32.7 153.3h0.8v0.8h-0.8zM26.7 150.5h0.8v0.8h-0.8zM26.6 161.5h0.8v0.8h-0.8zM30.8 159.2h0.8v0.8h-0.8zM30.1 154.6h0.8v0.8h-0.8zM30.3 148.8h0.8v0.8h-0.8zM35.8 158.1h0.8v0.8h-0.8zM29.1 172.5h0.8v0.8h-0.8zM35.7 159.6h0.8v0.8h-0.8zM33.6 166.5h0.8v0.8h-0.8zM29.3 164.7h0.8v0.8h-0.8zM44.1 156.3h0.8v0.8h-0.8zM31.8 166h0.8v0.8h-0.8zM34.3 162.6h0.8v0.8h-0.8zM24.1 158.3h0.8v0.8h-0.8zM35.1 171.9h0.8v0.8h-0.8zM26.8 155.6h0.8v0.8h-0.8zM38.5 161.5h0.8v0.8h-0.8zM43.3 152.7h0.8v0.8h-0.8zM38.6 159.6h0.8v0.8h-0.8zM30.3 165.5h0.8v0.8h-0.8zM45.4 157.1h0.8v0.8h-0.8zM44 166.5h0.8v0.8h-0.8zM41.2 169.3h0.8v0.8h-0.8zM27.7 168.6h0.8v0.8h-0.8zM38.4 167.9h0.8v0.8h-0.8zM39 150.3h0.8v0.8h-0.8zM39.8 163.3h0.8v0.8h-0.8zM27.9 167.6h0.8v0.8h-0.8zM36.3 161.5h0.8v0.8h-0.8zM29.8 157h0.8v0.8h-0.8zM25.4 173.3h0.8v0.8h-0.8zM38.9 153h0.8v0.8h-0.8zM34.4 158.7h0.8v0.8h-0.8zM40.9 161.4h0.8v0.8h-0.8zM23.1 160.4h0.8v0.8h-0.8zM27.5 149.3h0.8v0.8h-0.8zM31.6 161.5h0.8v0.8h-0.8zM23.4 172.8h0.8v0.8h-0.8zM25.6 150.9h0.8v0.8h-0.8zM34.6 165.7h0.8v0.8h-0.8zM41.5 160.8h0.8v0.8h-0.8zM30.7 147.4h0.8v0.8h-0.8zM34.4 154.2h0.8v0.8h-0.8zM44.2 151.5h0.8v0.8h-0.8zM29 172.2h0.8v0.8h-0.8zM33 150.4h0.8v0.8h-0.8zM33.4 167.3h0.8v0.8h-0.8zM31 146.7h0.8v0.8h-0.8zM35.5 151h0.8v0.8h-0.8zM31.4 160.3h0.8v0.8h-0.8zM31.6 151.7h0.8v0.8h-0.8zM28.1 173.3h0.8v0.8h-0.8zM29.4 171.3h0.8v0.8h-0.8zM43.9 159.9h0.8v0.8h-0.8zM33.3 170.2h0.8v0.8h-0.8zM40.1 166.8h0.8v0.8h-0.8zM28.6 160.4h0.8v0.8h-0.8zM30 149.4h0.8v0.8h-0.8zM30.1 170.1h0.8v0.8h-0.8zM31.1 162.5h0.8v0.8h-0.8zM29.9 151h0.8v0.8h-0.8zM29.5 155h0.8v0.8h-0.8zM32.7 144.1h0.8v0.8h-0.8zM42.3 167.2h0.8v0.8h-0.8zM40.8 164.8h0.8v0.8h-0.8zM25.6 154.5h0.8v0.8h-0.8zM42 164.4h0.8v0.8h-0.8zM38.2 145.9h0.8v0.8h-0.8zM33 170.8h0.8v0.8h-0.8zM28.9 163.2h0.8v0.8h-0.8zM31.8 162.9h0.8v0.8h-0.8zM25 166.2h0.8v0.8h-0.8zM28.6 168.5h0.8v0.8h-0.8zM25.6 155.8h0.8v0.8h-0.8zM26.2 157.2h0.8v0.8h-0.8zM27.1 146.5h0.8v0.8h-0.8zM42.5 168.2h0.8v0.8h-0.8zM36.4 164.2h0.8v0.8h-0.8zM33 154.3h0.8v0.8h-0.8zM26.1 166.5h0.8v0.8h-0.8zM41.9 149.4h0.8v0.8h-0.8zM27.1 150h0.8v0.8h-0.8zM27.6 160.4h0.8v0.8h-0.8zM30.6 148.1h0.8v0.8h-0.8zM40.2 170.6h0.8v0.8h-0.8zM41.3 160.1h0.8v0.8h-0.8zM34.2 165.7h0.8v0.8h-0.8zM24.3 160.7h0.8v0.8h-0.8zM40 152h0.8v0.8h-0.8zM28.5 163.5h0.8v0.8h-0.8zM41.6 156.7h0.8v0.8h-0.8zM24.1 163h0.8v0.8h-0.8zM31.9 164h0.8v0.8h-0.8zM32.5 172.4h0.8v0.8h-0.8zM35.4 150.3h0.8v0.8h-0.8zM39.7 162.8h0.8v0.8h-0.8zM34 155.4h0.8v0.8h-0.8zM36.1 171.8h0.8v0.8h-0.8zM27.7 170.2h0.8v0.8h-0.8zM32.7 145.5h0.8v0.8h-0.8zM31.9 158.5h0.8v0.8h-0.8zM32.2 153.8h0.8v0.8h-0.8zM30.1 158.4h0.8v0.8h-0.8zM30.2 152.4h0.8v0.8h-0.8zM29.1 154.4h0.8v0.8h-0.8zM29.3 165.2h0.8v0.8h-0.8zM28.4 166.6h0.8v0.8h-0.8zM36.7 150.2h0.8v0.8h-0.8zM37.2 170.9h0.8v0.8h-0.8zM34.8 154.7h0.8v0.8h-0.8zM28.3 162.7h0.8v0.8h-0.8zM25.5 165.3h0.8v0.8h-0.8zM41.9 159.8h0.8v0.8h-0.8zM34.6 167.7h0.8v0.8h-0.8zM25.2 165.3h0.8v0.8h-0.8zM27.5 165.9h0.8v0.8h-0.8zM39.7 154.6h0.8v0.8h-0.8zM33.7 146.4h0.8v0.8h-0.8zM31.7 148.3h0.8v0.8h-0.8zM23.6 159.1h0.8v0.8h-0.8zM29 167.8h0.8v0.8h-0.8zM28.6 149h0.8v0.8h-0.8zM24.8 163.8h0.8v0.8h-0.8zM42.1 153.6h0.8v0.8h-0.8zM33 169.5h0.8v0.8h-0.8zM37.4 155.6h0.8v0.8h-0.8zM33.6 166.6h0.8v0.8h-0.8zM33.6 170.9h0.8v0.8h-0.8zM39.9 148.2h0.8v0.8h-0.8zM35.9 162h0.8v0.8h-0.8zM35.8 146.1h0.8v0.8h-0.8zM32.4 165.4h0.8v0.8h-0.8zM34.5 148.7h0.8v0.8h-0.8zM24.2 164.4h0.8v0.8h-0.8zM28.7 167.8h0.8v0.8h-0.8z" fill="#3a5ec0"/>
<path d="M33.8 154.1h0.8v0.8h-0.8zM37.2 154.2h0.8v0.8h-0.8zM35 159.3h0.8v0.8h-0.8zM26.4 161.2h0.8v0.8h-0.8zM28.9 160.6h0.8v0.8h-0.8zM37.9 161.9h0.8v0.8h-0.8zM39.1 168.8h0.8v0.8h-0.8zM37.6 159.5h0.8v0.8h-0.8zM34.3 163.7h0.8v0.8h-0.8zM30 155.2h0.8v0.8h-0.8zM34.7 169.4h0.8v0.8h-0.8zM30.5 161.7h0.8v0.8h-0.8zM32.1 164.1h0.8v0.8h-0.8zM36.1 160.3h0.8v0.8h-0.8zM38.2 159.2h0.8v0.8h-0.8zM34.4 162h0.8v0.8h-0.8zM37.8 156.3h0.8v0.8h-0.8zM33 156.6h0.8v0.8h-0.8zM37 162.5h0.8v0.8h-0.8zM35.5 153.8h0.8v0.8h-0.8zM31.6 153.1h0.8v0.8h-0.8zM29.6 156.7h0.8v0.8h-0.8zM35.9 163h0.8v0.8h-0.8zM27.9 163.7h0.8v0.8h-0.8zM36.1 168.6h0.8v0.8h-0.8zM38 152.8h0.8v0.8h-0.8zM36.6 161.7h0.8v0.8h-0.8zM36 156.7h0.8v0.8h-0.8zM40.2 161h0.8v0.8h-0.8zM32.6 151.2h0.8v0.8h-0.8zM33.8 153.4h0.8v0.8h-0.8zM34.5 165.5h0.8v0.8h-0.8zM39 164.2h0.8v0.8h-0.8zM33.1 154.4h0.8v0.8h-0.8zM34.1 161.1h0.8v0.8h-0.8zM34.2 158.9h0.8v0.8h-0.8zM35.3 153.1h0.8v0.8h-0.8zM38.8 154.4h0.8v0.8h-0.8zM35.2 155.9h0.8v0.8h-0.8zM39.9 157.6h0.8v0.8h-0.8zM31.2 158.5h0.8v0.8h-0.8zM38.1 154.1h0.8v0.8h-0.8zM29.8 157.7h0.8v0.8h-0.8zM34.1 165.2h0.8v0.8h-0.8zM34.3 150.9h0.8v0.8h-0.8zM33.1 163.6h0.8v0.8h-0.8zM30.5 158.9h0.8v0.8h-0.8zM32.2 162.4h0.8v0.8h-0.8zM33.7 158.3h0.8v0.8h-0.8zM36.7 164.4h0.8v0.8h-0.8zM35.6 162.2h0.8v0.8h-0.8zM35.5 154.2h0.8v0.8h-0.8zM37.8 164.9h0.8v0.8h-0.8zM31.8 151.4h0.8v0.8h-0.8zM32.5 161.4h0.8v0.8h-0.8zM40.2 161.6h0.8v0.8h-0.8zM35 161.7h0.8v0.8h-0.8zM28.9 158.6h0.8v0.8h-0.8zM35.3 164h0.8v0.8h-0.8zM37.9 168.9h0.8v0.8h-0.8zM32.1 158.2h0.8v0.8h-0.8zM33.1 163h0.8v0.8h-0.8zM42.5 161.4h0.8v0.8h-0.8zM35.4 155.7h0.8v0.8h-0.8zM34.5 167.7h0.8v0.8h-0.8zM37.9 157.9h0.8v0.8h-0.8zM35.7 155.7h0.8v0.8h-0.8zM37.2 159.6h0.8v0.8h-0.8zM37.8 166.9h0.8v0.8h-0.8zM32.5 164.6h0.8v0.8h-0.8zM36.5 157.7h0.8v0.8h-0.8zM35.8 166.8h0.8v0.8h-0.8zM35.4 165.5h0.8v0.8h-0.8zM36.1 167h0.8v0.8h-0.8zM34.3 158.7h0.8v0.8h-0.8zM32.8 168.4h0.8v0.8h-0.8zM31.9 170h0.8v0.8h-0.8zM41 157.8h0.8v0.8h-0.8zM31.9 162.5h0.8v0.8h-0.8zM38.3 169.5h0.8v0.8h-0.8zM40.7 156.7h0.8v0.8h-0.8zM38.1 157.8h0.8v0.8h-0.8zM39 162.8h0.8v0.8h-0.8zM40.4 160h0.8v0.8h-0.8zM38 153.8h0.8v0.8h-0.8zM31.1 163h0.8v0.8h-0.8zM35.2 165h0.8v0.8h-0.8zM30.2 154.9h0.8v0.8h-0.8zM32.4 166.4h0.8v0.8h-0.8zM36.3 158.8h0.8v0.8h-0.8zM37.4 159.5h0.8v0.8h-0.8zM35.8 160.3h0.8v0.8h-0.8zM29.6 164.6h0.8v0.8h-0.8zM35.2 157.3h0.8v0.8h-0.8zM35.5 156.6h0.8v0.8h-0.8zM34.7 158.4h0.8v0.8h-0.8zM36.1 155.6h0.8v0.8h-0.8zM34.4 158.2h0.8v0.8h-0.8zM31 160h0.8v0.8h-0.8zM37.5 164.2h0.8v0.8h-0.8zM36.1 159.8h0.8v0.8h-0.8zM38.5 158.9h0.8v0.8h-0.8zM37.5 151.4h0.8v0.8h-0.8zM30.2 156.6h0.8v0.8h-0.8zM39.3 159h0.8v0.8h-0.8zM36.6 154.6h0.8v0.8h-0.8zM34.9 156.9h0.8v0.8h-0.8zM35.9 159.1h0.8v0.8h-0.8zM32.9 152.4h0.8v0.8h-0.8zM33.3 162.3h0.8v0.8h-0.8zM33.6 161.6h0.8v0.8h-0.8zM38.5 157h0.8v0.8h-0.8zM36.9 159.7h0.8v0.8h-0.8zM29.8 161.8h0.8v0.8h-0.8zM30.7 165.7h0.8v0.8h-0.8zM34.9 161.2h0.8v0.8h-0.8zM38.8 156h0.8v0.8h-0.8zM31.8 167.8h0.8v0.8h-0.8zM37.7 162.6h0.8v0.8h-0.8zM27.1 160.4h0.8v0.8h-0.8zM31.2 157.1h0.8v0.8h-0.8zM33.2 162.3h0.8v0.8h-0.8zM32.9 159.4h0.8v0.8h-0.8zM35.2 167.3h0.8v0.8h-0.8zM32.6 161h0.8v0.8h-0.8zM38.1 154.1h0.8v0.8h-0.8zM30.7 157.9h0.8v0.8h-0.8zM40.5 157.7h0.8v0.8h-0.8zM35.6 165.8h0.8v0.8h-0.8zM31.8 158.2h0.8v0.8h-0.8zM30.5 156.5h0.8v0.8h-0.8zM39 157.4h0.8v0.8h-0.8zM30.8 163.5h0.8v0.8h-0.8zM36 160h0.8v0.8h-0.8zM43.1 161.8h0.8v0.8h-0.8zM39.5 153.8h0.8v0.8h-0.8zM34.7 166.9h0.8v0.8h-0.8zM37.9 165h0.8v0.8h-0.8zM29.1 158.8h0.8v0.8h-0.8zM40.4 164.4h0.8v0.8h-0.8zM35.3 164.4h0.8v0.8h-0.8zM39.8 155.2h0.8v0.8h-0.8zM39.2 164.4h0.8v0.8h-0.8zM32.9 168.6h0.8v0.8h-0.8zM40.1 164.9h0.8v0.8h-0.8zM33.1 161.7h0.8v0.8h-0.8zM34.8 169h0.8v0.8h-0.8zM43 162.5h0.8v0.8h-0.8zM32.2 156.4h0.8v0.8h-0.8zM41.2 161.9h0.8v0.8h-0.8zM32.3 159.2h0.8v0.8h-0.8zM33.4 159.6h0.8v0.8h-0.8zM42.3 156.6h0.8v0.8h-0.8zM37 165.2h0.8v0.8h-0.8zM43.3 157h0.8v0.8h-0.8zM33.8 158.1h0.8v0.8h-0.8zM29.9 160.2h0.8v0.8h-0.8zM31.8 159h0.8v0.8h-0.8zM35.6 164.2h0.8v0.8h-0.8zM36.3 163h0.8v0.8h-0.8z" fill="#2f52b0"/>
<path d="M10.3 147.6h0.8v0.8h-0.8zM25.6 154.2h0.8v0.8h-0.8zM14.5 150.1h0.8v0.8h-0.8zM18.1 154.9h0.8v0.8h-0.8zM23.6 148.6h0.8v0.8h-0.8zM18.9 150.7h0.8v0.8h-0.8zM18.2 151.4h0.8v0.8h-0.8zM19 152.2h0.8v0.8h-0.8zM21 154.1h0.8v0.8h-0.8zM14.4 149.3h0.8v0.8h-0.8zM20.7 154.3h0.8v0.8h-0.8zM19.4 145.6h0.8v0.8h-0.8zM20.7 149.8h0.8v0.8h-0.8zM13.9 147.8h0.8v0.8h-0.8zM16.9 147.3h0.8v0.8h-0.8zM18.8 147.4h0.8v0.8h-0.8zM11.7 151.8h0.8v0.8h-0.8zM19.6 145.6h0.8v0.8h-0.8zM16.5 143.7h0.8v0.8h-0.8zM21 144.8h0.8v0.8h-0.8zM16.3 153.4h0.8v0.8h-0.8zM13.3 154.1h0.8v0.8h-0.8zM15.4 147.9h0.8v0.8h-0.8zM15.3 148.7h0.8v0.8h-0.8zM22.2 146.5h0.8v0.8h-0.8zM22.2 147h0.8v0.8h-0.8zM21.5 153.2h0.8v0.8h-0.8zM21.5 145.1h0.8v0.8h-0.8zM24.9 150.5h0.8v0.8h-0.8zM19.4 152.7h0.8v0.8h-0.8zM17 151.3h0.8v0.8h-0.8zM23.1 151.4h0.8v0.8h-0.8zM16.4 144.9h0.8v0.8h-0.8zM18.7 149h0.8v0.8h-0.8zM16 143.4h0.8v0.8h-0.8zM16.1 150.2h0.8v0.8h-0.8zM12.1 147.5h0.8v0.8h-0.8zM14.5 153.5h0.8v0.8h-0.8zM14.9 151.8h0.8v0.8h-0.8zM19.7 152.9h0.8v0.8h-0.8zM21.4 152.9h0.8v0.8h-0.8zM19.2 146.5h0.8v0.8h-0.8zM16.3 147.1h0.8v0.8h-0.8zM23.7 148.5h0.8v0.8h-0.8zM21.6 150.4h0.8v0.8h-0.8zM20.3 154.7h0.8v0.8h-0.8zM23.9 151h0.8v0.8h-0.8zM24.8 147.8h0.8v0.8h-0.8zM18.8 145.7h0.8v0.8h-0.8zM20.8 149.9h0.8v0.8h-0.8zM23.4 155.1h0.8v0.8h-0.8zM22.7 151h0.8v0.8h-0.8zM18.3 149.1h0.8v0.8h-0.8zM13.5 148.9h0.8v0.8h-0.8zM24.8 152.4h0.8v0.8h-0.8zM22.3 148.4h0.8v0.8h-0.8zM20.8 148.1h0.8v0.8h-0.8zM14.3 150.8h0.8v0.8h-0.8zM23.8 151.6h0.8v0.8h-0.8zM22.7 148h0.8v0.8h-0.8zM19.9 154.2h0.8v0.8h-0.8zM13.8 149.2h0.8v0.8h-0.8zM13.5 152.1h0.8v0.8h-0.8zM13.9 146.5h0.8v0.8h-0.8zM20.1 145.5h0.8v0.8h-0.8zM13.7 146.7h0.8v0.8h-0.8zM15.8 148.9h0.8v0.8h-0.8zM15.1 149h0.8v0.8h-0.8zM19.7 145.9h0.8v0.8h-0.8zM21.5 152.7h0.8v0.8h-0.8zM19.4 146.2h0.8v0.8h-0.8zM18.3 145.4h0.8v0.8h-0.8zM17.1 150.1h0.8v0.8h-0.8zM15.1 154.4h0.8v0.8h-0.8zM22.6 149.5h0.8v0.8h-0.8zM17.4 148.6h0.8v0.8h-0.8zM16.8 152.6h0.8v0.8h-0.8zM16.4 155.2h0.8v0.8h-0.8zM20.6 152h0.8v0.8h-0.8zM25 153.6h0.8v0.8h-0.8z" fill="#f0962e"/>
<text transform="translate(45 127.5) scale(0.9 1)" font-size="7.49">cT<tspan dy="2" font-size="5">reg</tspan></text>
<text transform="translate(12.5 142.5) scale(0.9 1)" font-size="7.49">Prolif. T<tspan dy="2" font-size="5">reg</tspan></text>
<text transform="translate(45.1 171.8) scale(0.9 1)" font-size="7.49">eT<tspan dy="2" font-size="5">reg</tspan></text>
<line x1="5.5" y1="181" x2="5.5" y2="171" stroke="#231f20" stroke-width="0.8"/>
<path d="M3.8 172L5.5 168.5L7.2 172Z" fill="#231f20"/>
<line x1="5.5" y1="181" x2="16" y2="181" stroke="#231f20" stroke-width="0.8"/>
<path d="M15 179.3L18.5 181L15 182.7Z" fill="#231f20"/>
<text transform="translate(5.5 154) rotate(-90) translate(0 2.5) scale(0.9 1)" text-anchor="middle" font-size="7.49">UMAP2</text>
<text transform="translate(21 183) scale(0.9 1)" font-size="7.49">UMAP1</text>
<path d="M71.5 130.2L76 128.2L81.5 129.2L82 133.2L76.5 135.2L72 133.7Z" fill="#fef4ec" stroke="#fef4ec" stroke-width="0.6" stroke-linejoin="round"/>
<path d="M82.5 138.2L84.5 133.2L95.5 136.2L102.5 135.2L106.5 136.2L105.5 142.2L101.5 147.2L93.5 149.7L84.5 148.2L81.5 143.2Z" fill="#fef4ec" stroke="#fef4ec" stroke-width="0.6" stroke-linejoin="round"/>
<path d="M84.5 133.2L91.5 124.2L97.5 116.2L101.5 114.7L109.5 115.7L116.5 118.2L119 121.7L114.5 126.2L108.5 130.2L102.5 135.2L95.5 136.2Z" fill="#fef4ec" stroke="#fef4ec" stroke-width="0.6" stroke-linejoin="round"/>
<path d="M76.5 128.8h1.4v1.4h-1.4zM73.7 128.8h1.4v1.4h-1.4zM79.7 128.8h1.4v1.4h-1.4z" fill="#fbc19e"/>
<path d="M75.6 131.8h1.4v1.4h-1.4zM76.8 133.9h1.4v1.4h-1.4zM76.7 130.3h1.4v1.4h-1.4zM76.7 131.1h1.4v1.4h-1.4zM73.4 129.3h1.4v1.4h-1.4zM79.3 133.2h1.4v1.4h-1.4z" fill="#f9a97d"/>
<path d="M73.8 131.5h1.4v1.4h-1.4zM72.2 130.9h1.4v1.4h-1.4zM80.8 132h1.4v1.4h-1.4zM77.2 132.5h1.4v1.4h-1.4z" fill="#f58b5c"/>
<path d="M75.9 132.1h1.4v1.4h-1.4zM80.6 129.3h1.4v1.4h-1.4zM72.6 133.1h1.4v1.4h-1.4z" fill="#f06a3c"/>
<path d="M75.2 128.1h1.4v1.4h-1.4zM78.3 133h1.4v1.4h-1.4z" fill="#e1452a"/>
<path d="M77.3 132.3h1.4v1.4h-1.4zM72.4 129.6h1.4v1.4h-1.4z" fill="#c8261e"/>
<path d="M90.8 146.5h1.4v1.4h-1.4z" fill="#f9a97d"/>
<path d="M89.9 140.3h1.4v1.4h-1.4zM91.1 147.6h1.4v1.4h-1.4zM99.1 137.1h1.4v1.4h-1.4z" fill="#f58b5c"/>
<path d="M100 144.9h1.4v1.4h-1.4zM96.1 140.8h1.4v1.4h-1.4zM85.4 141.1h1.4v1.4h-1.4zM96.1 147.3h1.4v1.4h-1.4zM103.2 137.3h1.4v1.4h-1.4z" fill="#f06a3c"/>
<path d="M91.4 146.9h1.4v1.4h-1.4zM102.5 135.4h1.4v1.4h-1.4zM95.5 145.5h1.4v1.4h-1.4z" fill="#e1452a"/>
<path d="M104.4 116.1h1.4v1.4h-1.4zM103.9 117.5h1.4v1.4h-1.4z" fill="#fbc19e"/>
<path d="M101.1 131.5h1.4v1.4h-1.4zM95.9 117.1h1.4v1.4h-1.4zM99.4 117.5h1.4v1.4h-1.4zM94 130.5h1.4v1.4h-1.4zM102.8 116.6h1.4v1.4h-1.4zM100.7 125.2h1.4v1.4h-1.4zM94.9 119.2h1.4v1.4h-1.4zM105.5 126.8h1.4v1.4h-1.4zM105.4 116.3h1.4v1.4h-1.4zM96.4 118.7h1.4v1.4h-1.4zM86.3 131.6h1.4v1.4h-1.4zM114 122.3h1.4v1.4h-1.4zM103.8 122.1h1.4v1.4h-1.4zM86.4 131.4h1.4v1.4h-1.4zM100 116.5h1.4v1.4h-1.4zM107.9 115.8h1.4v1.4h-1.4z" fill="#f9a97d"/>
<path d="M110.4 115.8h1.4v1.4h-1.4zM93.8 126.8h1.4v1.4h-1.4zM104.9 116.7h1.4v1.4h-1.4zM109.4 127.6h1.4v1.4h-1.4zM108.7 124.5h1.4v1.4h-1.4zM110.2 119.5h1.4v1.4h-1.4zM95.2 128.6h1.4v1.4h-1.4zM99.3 123.5h1.4v1.4h-1.4zM110.2 122.1h1.4v1.4h-1.4zM105.2 131.6h1.4v1.4h-1.4zM112.6 121.1h1.4v1.4h-1.4zM109.5 115.6h1.4v1.4h-1.4zM94.7 130.8h1.4v1.4h-1.4zM115 118h1.4v1.4h-1.4zM92.9 129.2h1.4v1.4h-1.4zM112 121h1.4v1.4h-1.4zM113.6 119.4h1.4v1.4h-1.4zM112.9 125.5h1.4v1.4h-1.4zM86.9 130.4h1.4v1.4h-1.4zM98 130.7h1.4v1.4h-1.4zM97.7 121.3h1.4v1.4h-1.4zM103.2 120.1h1.4v1.4h-1.4zM112.9 118.2h1.4v1.4h-1.4zM107.8 125.7h1.4v1.4h-1.4zM100.3 130.6h1.4v1.4h-1.4zM101.6 132.8h1.4v1.4h-1.4zM112.9 122.8h1.4v1.4h-1.4zM109.8 127.1h1.4v1.4h-1.4zM113.6 121h1.4v1.4h-1.4zM99.3 120.8h1.4v1.4h-1.4z" fill="#f58b5c"/>
<path d="M110.4 122.9h1.4v1.4h-1.4zM114.8 122.1h1.4v1.4h-1.4zM97 124h1.4v1.4h-1.4zM92.6 122.7h1.4v1.4h-1.4zM108 129h1.4v1.4h-1.4zM93.5 124.8h1.4v1.4h-1.4zM102 118.3h1.4v1.4h-1.4zM108 127h1.4v1.4h-1.4zM94.1 126.9h1.4v1.4h-1.4zM108.8 119.7h1.4v1.4h-1.4zM101.5 122.5h1.4v1.4h-1.4zM89.8 126h1.4v1.4h-1.4zM100.5 130.4h1.4v1.4h-1.4zM109.5 117.7h1.4v1.4h-1.4zM106.5 130.2h1.4v1.4h-1.4zM113.1 121.5h1.4v1.4h-1.4zM95.8 123.3h1.4v1.4h-1.4zM111.2 123.9h1.4v1.4h-1.4zM102.3 131.6h1.4v1.4h-1.4zM96.9 115.9h1.4v1.4h-1.4zM104.7 119.3h1.4v1.4h-1.4zM108.9 116h1.4v1.4h-1.4zM101.2 116.5h1.4v1.4h-1.4zM104.7 128.3h1.4v1.4h-1.4zM106.2 115.8h1.4v1.4h-1.4zM106.6 118.8h1.4v1.4h-1.4zM91.8 124.5h1.4v1.4h-1.4zM93.8 120.7h1.4v1.4h-1.4zM105.4 130h1.4v1.4h-1.4zM97.9 131.8h1.4v1.4h-1.4zM93.2 124.6h1.4v1.4h-1.4zM113.9 123.5h1.4v1.4h-1.4zM95.6 129.7h1.4v1.4h-1.4zM108.7 125.9h1.4v1.4h-1.4zM99.9 126h1.4v1.4h-1.4zM95.7 130.4h1.4v1.4h-1.4zM97.6 132.3h1.4v1.4h-1.4zM105.4 126.2h1.4v1.4h-1.4zM108.7 125.2h1.4v1.4h-1.4zM114.6 123.6h1.4v1.4h-1.4zM116.4 120.1h1.4v1.4h-1.4zM95.5 121.6h1.4v1.4h-1.4zM96 125.6h1.4v1.4h-1.4zM106.9 122h1.4v1.4h-1.4zM90.7 124.2h1.4v1.4h-1.4z" fill="#f06a3c"/>
<path d="M99.3 133h1.4v1.4h-1.4zM104.4 118h1.4v1.4h-1.4zM98.7 118.4h1.4v1.4h-1.4zM102.9 115.5h1.4v1.4h-1.4zM103.2 124.7h1.4v1.4h-1.4zM97.7 132.3h1.4v1.4h-1.4zM94.2 126.3h1.4v1.4h-1.4zM103.9 126.8h1.4v1.4h-1.4zM103.5 124.2h1.4v1.4h-1.4zM99.3 116.4h1.4v1.4h-1.4zM97.6 132.2h1.4v1.4h-1.4zM96.5 121.6h1.4v1.4h-1.4zM100 126.7h1.4v1.4h-1.4zM105.6 126.3h1.4v1.4h-1.4zM105.1 116.9h1.4v1.4h-1.4zM94.5 122.9h1.4v1.4h-1.4zM110 121.4h1.4v1.4h-1.4zM107.6 127.9h1.4v1.4h-1.4zM88.6 128.8h1.4v1.4h-1.4zM96 117.4h1.4v1.4h-1.4zM102.8 116.3h1.4v1.4h-1.4zM88 127.6h1.4v1.4h-1.4zM86.4 129.3h1.4v1.4h-1.4zM108.2 116.5h1.4v1.4h-1.4zM101.7 126.4h1.4v1.4h-1.4zM99 120.6h1.4v1.4h-1.4zM98.7 115.8h1.4v1.4h-1.4zM107.4 128.7h1.4v1.4h-1.4zM99.3 115.5h1.4v1.4h-1.4zM85 131h1.4v1.4h-1.4zM113.9 117.1h1.4v1.4h-1.4zM89.8 129.5h1.4v1.4h-1.4zM94 122.3h1.4v1.4h-1.4zM92.8 125.1h1.4v1.4h-1.4zM94.6 135.1h1.4v1.4h-1.4zM99.3 131.2h1.4v1.4h-1.4zM102.1 119.7h1.4v1.4h-1.4zM112.8 121.2h1.4v1.4h-1.4zM87 129h1.4v1.4h-1.4zM96.3 119.1h1.4v1.4h-1.4zM97.2 122.8h1.4v1.4h-1.4zM107.3 114.8h1.4v1.4h-1.4zM105.5 119.4h1.4v1.4h-1.4zM99.6 117.7h1.4v1.4h-1.4zM106.8 127.3h1.4v1.4h-1.4zM110.3 120.1h1.4v1.4h-1.4zM105.5 124.3h1.4v1.4h-1.4zM114.5 124.5h1.4v1.4h-1.4zM109.8 121.3h1.4v1.4h-1.4zM98.3 134.8h1.4v1.4h-1.4zM95.6 117.2h1.4v1.4h-1.4zM104.2 121.9h1.4v1.4h-1.4zM103.1 120.4h1.4v1.4h-1.4zM97.1 124.3h1.4v1.4h-1.4zM104.8 120.9h1.4v1.4h-1.4zM95.1 133.4h1.4v1.4h-1.4zM116.4 119.9h1.4v1.4h-1.4z" fill="#e1452a"/>
<path d="M103.7 126.9h1.4v1.4h-1.4zM99.7 129.6h1.4v1.4h-1.4zM115.7 121.1h1.4v1.4h-1.4zM99.4 127.2h1.4v1.4h-1.4zM99.7 132.8h1.4v1.4h-1.4zM111.5 125.2h1.4v1.4h-1.4zM108.8 123.5h1.4v1.4h-1.4zM94.8 120.2h1.4v1.4h-1.4zM116.3 119.7h1.4v1.4h-1.4zM95.4 132h1.4v1.4h-1.4zM100.8 134.5h1.4v1.4h-1.4zM99 131.3h1.4v1.4h-1.4zM102.6 120.1h1.4v1.4h-1.4zM94.1 121.1h1.4v1.4h-1.4zM110.8 115.7h1.4v1.4h-1.4zM110.2 118.1h1.4v1.4h-1.4zM94.6 127.8h1.4v1.4h-1.4zM99.6 129.8h1.4v1.4h-1.4zM97.4 134.5h1.4v1.4h-1.4zM92.3 129.1h1.4v1.4h-1.4zM112.8 116.7h1.4v1.4h-1.4zM114.1 117.7h1.4v1.4h-1.4zM94 128.7h1.4v1.4h-1.4zM95.6 131h1.4v1.4h-1.4zM107 128.6h1.4v1.4h-1.4z" fill="#c8261e"/>
<path d="M104.5 118.5h1.4v1.4h-1.4zM107.5 124.2h1.4v1.4h-1.4zM107.9 121.2h1.4v1.4h-1.4zM102.1 115.5h1.4v1.4h-1.4zM88.6 131.9h1.4v1.4h-1.4zM109.5 121.7h1.4v1.4h-1.4zM93.4 133.2h1.4v1.4h-1.4zM104.8 122.5h1.4v1.4h-1.4zM100.8 128.7h1.4v1.4h-1.4zM111.6 119.3h1.4v1.4h-1.4zM96.3 124.3h1.4v1.4h-1.4zM100.4 120.2h1.4v1.4h-1.4zM99.1 118.5h1.4v1.4h-1.4zM107.1 116.5h1.4v1.4h-1.4zM90.1 131.8h1.4v1.4h-1.4z" fill="#9b1218"/>
<path d="M101.7 132.8h1.4v1.4h-1.4zM93.2 133.6h1.4v1.4h-1.4zM94.1 125.4h1.4v1.4h-1.4zM106.1 115.1h1.4v1.4h-1.4zM97.6 131.4h1.4v1.4h-1.4zM104.9 127.9h1.4v1.4h-1.4zM111.1 124.3h1.4v1.4h-1.4zM113.8 124.6h1.4v1.4h-1.4zM96.4 122.2h1.4v1.4h-1.4zM113.4 125.5h1.4v1.4h-1.4z" fill="#5a0a10"/>
<text transform="translate(76 122.5) scale(0.9 1)" font-style="italic" font-size="7.49">Tcf7</text>
<rect x="121.8" y="114.2" width="2" height="34.8" fill="url(#cbg)"/>
<line x1="123.8" y1="117.7" x2="124.8" y2="117.7" stroke="#666" stroke-width="0.5"/>
<text transform="translate(125.4 120.1) scale(0.9 1)" style="fill:#8c8c8c;stroke:#8c8c8c" font-size="7.06">3</text>
<line x1="123.8" y1="128.1" x2="124.8" y2="128.1" stroke="#666" stroke-width="0.5"/>
<text transform="translate(125.4 130.5) scale(0.9 1)" style="fill:#8c8c8c;stroke:#8c8c8c" font-size="7.06">2</text>
<line x1="123.8" y1="138.6" x2="124.8" y2="138.6" stroke="#666" stroke-width="0.5"/>
<text transform="translate(125.4 140.9) scale(0.9 1)" style="fill:#8c8c8c;stroke:#8c8c8c" font-size="7.06">1</text>
<line x1="123.8" y1="149" x2="124.8" y2="149" stroke="#666" stroke-width="0.5"/>
<text transform="translate(125.4 151.4) scale(0.9 1)" style="fill:#8c8c8c;stroke:#8c8c8c" font-size="7.06">0</text>
<path d="M130 130.2L134.5 128.2L140 129.2L140.5 133.2L135 135.2L130.5 133.7Z" fill="#fef4ec" stroke="#fef4ec" stroke-width="0.6" stroke-linejoin="round"/>
<path d="M141 138.2L143 133.2L154 136.2L161 135.2L165 136.2L164 142.2L160 147.2L152 149.7L143 148.2L140 143.2Z" fill="#fef4ec" stroke="#fef4ec" stroke-width="0.6" stroke-linejoin="round"/>
<path d="M143 133.2L150 124.2L156 116.2L160 114.7L168 115.7L175 118.2L177.5 121.7L173 126.2L167 130.2L161 135.2L154 136.2Z" fill="#fef4ec" stroke="#fef4ec" stroke-width="0.6" stroke-linejoin="round"/>
<path d="M135.8 128.6h1.4v1.4h-1.4zM136 132.3h1.4v1.4h-1.4z" fill="#f9a97d"/>
<path d="M135 133h1.4v1.4h-1.4zM135.1 128.4h1.4v1.4h-1.4zM133.7 133.1h1.4v1.4h-1.4z" fill="#f58b5c"/>
<path d="M130.4 131.6h1.4v1.4h-1.4zM134.2 134h1.4v1.4h-1.4zM129.7 130h1.4v1.4h-1.4zM137.4 130.8h1.4v1.4h-1.4zM134.6 128.8h1.4v1.4h-1.4zM135.5 130.5h1.4v1.4h-1.4zM131.8 130.3h1.4v1.4h-1.4zM136 131.5h1.4v1.4h-1.4zM131.6 130h1.4v1.4h-1.4z" fill="#f06a3c"/>
<path d="M135.7 131.2h1.4v1.4h-1.4zM131.2 128.8h1.4v1.4h-1.4zM137.1 129.5h1.4v1.4h-1.4zM136.9 129.8h1.4v1.4h-1.4zM137.6 129.3h1.4v1.4h-1.4zM139.1 131.6h1.4v1.4h-1.4zM136.7 133h1.4v1.4h-1.4zM132.5 131.9h1.4v1.4h-1.4z" fill="#e1452a"/>
<path d="M139.3 129.6h1.4v1.4h-1.4zM133.9 129.9h1.4v1.4h-1.4zM131.6 131.3h1.4v1.4h-1.4zM131.2 131.6h1.4v1.4h-1.4zM134.7 132.7h1.4v1.4h-1.4zM134.3 129.9h1.4v1.4h-1.4zM131.2 133.2h1.4v1.4h-1.4zM137.5 129.8h1.4v1.4h-1.4z" fill="#c8261e"/>
<path d="M133.2 129.7h1.4v1.4h-1.4zM137.2 129.6h1.4v1.4h-1.4zM130.6 129.3h1.4v1.4h-1.4zM134.6 133.2h1.4v1.4h-1.4zM137.4 132.3h1.4v1.4h-1.4z" fill="#9b1218"/>
<path d="M143.4 146.1h1.4v1.4h-1.4zM151.5 143h1.4v1.4h-1.4zM147.4 144.5h1.4v1.4h-1.4z" fill="#f58b5c"/>
<path d="M152.7 145.7h1.4v1.4h-1.4zM145.1 147.2h1.4v1.4h-1.4zM150.5 148.4h1.4v1.4h-1.4z" fill="#f06a3c"/>
<path d="M140.2 139.4h1.4v1.4h-1.4z" fill="#c8261e"/>
<path d="M156.1 139.4h1.4v1.4h-1.4z" fill="#9b1218"/>
<path d="M162 116.4h1.4v1.4h-1.4z" fill="#fbc19e"/>
<path d="M162 114.5h1.4v1.4h-1.4zM152.5 122.6h1.4v1.4h-1.4z" fill="#f58b5c"/>
<path d="M161.8 126h1.4v1.4h-1.4z" fill="#f06a3c"/>
<path d="M160.9 133.3h1.4v1.4h-1.4zM166.7 121.3h1.4v1.4h-1.4z" fill="#e1452a"/>
<text transform="translate(133 122.5) scale(0.9 1)" font-style="italic" font-size="7.49">Mki67</text>
<rect x="179.3" y="114.2" width="2" height="34.8" fill="url(#cbg)"/>
<line x1="181.3" y1="117.7" x2="182.3" y2="117.7" stroke="#666" stroke-width="0.5"/>
<text transform="translate(182.9 120.1) scale(0.9 1)" style="fill:#8c8c8c;stroke:#8c8c8c" font-size="7.06">3</text>
<line x1="181.3" y1="128.1" x2="182.3" y2="128.1" stroke="#666" stroke-width="0.5"/>
<text transform="translate(182.9 130.5) scale(0.9 1)" style="fill:#8c8c8c;stroke:#8c8c8c" font-size="7.06">2</text>
<line x1="181.3" y1="138.6" x2="182.3" y2="138.6" stroke="#666" stroke-width="0.5"/>
<text transform="translate(182.9 140.9) scale(0.9 1)" style="fill:#8c8c8c;stroke:#8c8c8c" font-size="7.06">1</text>
<line x1="181.3" y1="149" x2="182.3" y2="149" stroke="#666" stroke-width="0.5"/>
<text transform="translate(182.9 151.4) scale(0.9 1)" style="fill:#8c8c8c;stroke:#8c8c8c" font-size="7.06">0</text>
<path d="M188 130.2L192.5 128.2L198 129.2L198.5 133.2L193 135.2L188.5 133.7Z" fill="#fef4ec" stroke="#fef4ec" stroke-width="0.6" stroke-linejoin="round"/>
<path d="M199 138.2L201 133.2L212 136.2L219 135.2L223 136.2L222 142.2L218 147.2L210 149.7L201 148.2L198 143.2Z" fill="#fef4ec" stroke="#fef4ec" stroke-width="0.6" stroke-linejoin="round"/>
<path d="M201 133.2L208 124.2L214 116.2L218 114.7L226 115.7L233 118.2L235.5 121.7L231 126.2L225 130.2L219 135.2L212 136.2Z" fill="#fef4ec" stroke="#fef4ec" stroke-width="0.6" stroke-linejoin="round"/>
<path d="M188 131.8h1.4v1.4h-1.4z" fill="#fbc19e"/>
<path d="M189.7 131.6h1.4v1.4h-1.4zM188.8 132h1.4v1.4h-1.4z" fill="#f58b5c"/>
<path d="M197 131.1h1.4v1.4h-1.4zM189.1 131.3h1.4v1.4h-1.4z" fill="#f06a3c"/>
<path d="M196.2 128.4h1.4v1.4h-1.4z" fill="#c8261e"/>
<path d="M220.4 141.5h1.4v1.4h-1.4zM217.9 142.2h1.4v1.4h-1.4z" fill="#fbc19e"/>
<path d="M207.4 136.3h1.4v1.4h-1.4zM216.8 141.9h1.4v1.4h-1.4zM198.3 141.8h1.4v1.4h-1.4zM213.2 147.5h1.4v1.4h-1.4z" fill="#f9a97d"/>
<path d="M211.4 145.8h1.4v1.4h-1.4zM221.8 136.6h1.4v1.4h-1.4zM207.7 134.8h1.4v1.4h-1.4zM206.9 137.8h1.4v1.4h-1.4zM209.1 135.5h1.4v1.4h-1.4zM206.6 140.5h1.4v1.4h-1.4zM199.8 134.6h1.4v1.4h-1.4z" fill="#f58b5c"/>
<path d="M206.6 146.9h1.4v1.4h-1.4zM207.9 143.6h1.4v1.4h-1.4zM209.9 147.7h1.4v1.4h-1.4zM215.6 141.6h1.4v1.4h-1.4zM210.5 140.7h1.4v1.4h-1.4zM202.4 135.5h1.4v1.4h-1.4zM210.1 140.6h1.4v1.4h-1.4zM217 135.6h1.4v1.4h-1.4zM210.3 139.4h1.4v1.4h-1.4zM207.9 138.7h1.4v1.4h-1.4zM207.5 146.7h1.4v1.4h-1.4zM209.8 136.5h1.4v1.4h-1.4zM213.6 138.9h1.4v1.4h-1.4zM209.4 137.4h1.4v1.4h-1.4z" fill="#f06a3c"/>
<path d="M201.6 133.1h1.4v1.4h-1.4zM218.9 134.8h1.4v1.4h-1.4zM216.4 141.3h1.4v1.4h-1.4zM217.4 145.5h1.4v1.4h-1.4zM213.8 144.7h1.4v1.4h-1.4zM219.4 139.1h1.4v1.4h-1.4zM209.3 136.2h1.4v1.4h-1.4zM213.7 146.2h1.4v1.4h-1.4zM217.7 137.8h1.4v1.4h-1.4zM219.9 139.4h1.4v1.4h-1.4zM214.7 135h1.4v1.4h-1.4zM208.7 135.5h1.4v1.4h-1.4zM205.1 137.2h1.4v1.4h-1.4zM197.9 140.9h1.4v1.4h-1.4zM221.7 138.6h1.4v1.4h-1.4zM213.1 140.4h1.4v1.4h-1.4zM199.2 138.6h1.4v1.4h-1.4z" fill="#e1452a"/>
<path d="M200.7 143.5h1.4v1.4h-1.4zM207.9 137.4h1.4v1.4h-1.4zM204.7 135.5h1.4v1.4h-1.4zM216.7 139.7h1.4v1.4h-1.4z" fill="#c8261e"/>
<path d="M200.6 141.2h1.4v1.4h-1.4zM209.2 143.7h1.4v1.4h-1.4z" fill="#9b1218"/>
<path d="M217.2 133.2h1.4v1.4h-1.4z" fill="#fbc19e"/>
<path d="M218 116.8h1.4v1.4h-1.4zM208.5 124h1.4v1.4h-1.4zM206.3 128.5h1.4v1.4h-1.4zM209.7 127.6h1.4v1.4h-1.4zM224.2 117.4h1.4v1.4h-1.4zM217.2 118.9h1.4v1.4h-1.4zM215.8 129.9h1.4v1.4h-1.4z" fill="#f9a97d"/>
<path d="M215.2 133.7h1.4v1.4h-1.4zM212.7 117.8h1.4v1.4h-1.4zM214.8 132.6h1.4v1.4h-1.4zM217.8 131h1.4v1.4h-1.4zM219.7 127.8h1.4v1.4h-1.4zM211.8 128.8h1.4v1.4h-1.4zM227.5 125h1.4v1.4h-1.4zM211.1 121.9h1.4v1.4h-1.4zM230.5 119.5h1.4v1.4h-1.4zM214.8 132.9h1.4v1.4h-1.4zM225.4 122.4h1.4v1.4h-1.4z" fill="#f58b5c"/>
<path d="M213.4 119.2h1.4v1.4h-1.4zM212.2 131.2h1.4v1.4h-1.4zM211.2 133.4h1.4v1.4h-1.4zM208.8 129.6h1.4v1.4h-1.4zM211.6 121h1.4v1.4h-1.4zM215.2 134.9h1.4v1.4h-1.4zM227.3 127.4h1.4v1.4h-1.4zM231.2 122.5h1.4v1.4h-1.4zM216.7 133.7h1.4v1.4h-1.4zM211.5 122.7h1.4v1.4h-1.4zM217 126.3h1.4v1.4h-1.4zM231 121.8h1.4v1.4h-1.4zM209 125.6h1.4v1.4h-1.4zM216.4 116.3h1.4v1.4h-1.4zM207.8 129h1.4v1.4h-1.4zM224.8 124.6h1.4v1.4h-1.4zM205.6 133.4h1.4v1.4h-1.4zM226.6 117.1h1.4v1.4h-1.4zM226.5 120.8h1.4v1.4h-1.4zM225.8 115.8h1.4v1.4h-1.4zM232.3 117.9h1.4v1.4h-1.4zM217.3 123.5h1.4v1.4h-1.4zM212 134.3h1.4v1.4h-1.4zM221.5 119.7h1.4v1.4h-1.4zM208.4 129.7h1.4v1.4h-1.4z" fill="#f06a3c"/>
<path d="M221.9 125.8h1.4v1.4h-1.4zM219.7 123h1.4v1.4h-1.4zM220.8 124.4h1.4v1.4h-1.4zM220.6 121.2h1.4v1.4h-1.4zM210 130.4h1.4v1.4h-1.4zM209.6 134.2h1.4v1.4h-1.4zM202 131.7h1.4v1.4h-1.4zM220.6 129.5h1.4v1.4h-1.4zM212.2 126.2h1.4v1.4h-1.4zM217.8 131.7h1.4v1.4h-1.4zM204 128h1.4v1.4h-1.4zM207.3 126.2h1.4v1.4h-1.4zM221.3 118.2h1.4v1.4h-1.4z" fill="#e1452a"/>
<path d="M232.2 119.3h1.4v1.4h-1.4zM217.5 128.7h1.4v1.4h-1.4zM211.4 129.1h1.4v1.4h-1.4zM218.9 117h1.4v1.4h-1.4zM216.7 130.8h1.4v1.4h-1.4zM218.9 115.7h1.4v1.4h-1.4zM207.5 125.3h1.4v1.4h-1.4zM224.5 115.8h1.4v1.4h-1.4z" fill="#c8261e"/>
<path d="M210.4 134.6h1.4v1.4h-1.4zM219.1 116.2h1.4v1.4h-1.4zM220.8 131.6h1.4v1.4h-1.4zM219.7 127.1h1.4v1.4h-1.4z" fill="#9b1218"/>
<path d="M210.4 119.5h1.4v1.4h-1.4z" fill="#5a0a10"/>
<text transform="translate(192 122.5) scale(0.9 1)" font-style="italic" font-size="7.49">Ikzf2</text>
<rect x="237.8" y="114.2" width="2" height="34.8" fill="url(#cbg)"/>
<line x1="239.8" y1="117.7" x2="240.8" y2="117.7" stroke="#666" stroke-width="0.5"/>
<text transform="translate(241.4 120.1) scale(0.9 1)" style="fill:#8c8c8c;stroke:#8c8c8c" font-size="7.06">3</text>
<line x1="239.8" y1="128.1" x2="240.8" y2="128.1" stroke="#666" stroke-width="0.5"/>
<text transform="translate(241.4 130.5) scale(0.9 1)" style="fill:#8c8c8c;stroke:#8c8c8c" font-size="7.06">2</text>
<line x1="239.8" y1="138.6" x2="240.8" y2="138.6" stroke="#666" stroke-width="0.5"/>
<text transform="translate(241.4 140.9) scale(0.9 1)" style="fill:#8c8c8c;stroke:#8c8c8c" font-size="7.06">1</text>
<line x1="239.8" y1="149" x2="240.8" y2="149" stroke="#666" stroke-width="0.5"/>
<text transform="translate(241.4 151.4) scale(0.9 1)" style="fill:#8c8c8c;stroke:#8c8c8c" font-size="7.06">0</text>
<path d="M71.5 172.6L76 170.6L81.5 171.6L82 175.6L76.5 177.6L72 176.1Z" fill="#fef4ec" stroke="#fef4ec" stroke-width="0.6" stroke-linejoin="round"/>
<path d="M82.5 180.6L84.5 175.6L95.5 178.6L102.5 177.6L106.5 178.6L105.5 184.6L101.5 189.6L93.5 192.1L84.5 190.6L81.5 185.6Z" fill="#fef4ec" stroke="#fef4ec" stroke-width="0.6" stroke-linejoin="round"/>
<path d="M84.5 175.6L91.5 166.6L97.5 158.6L101.5 157.1L109.5 158.1L116.5 160.6L119 164.1L114.5 168.6L108.5 172.6L102.5 177.6L95.5 178.6Z" fill="#fef4ec" stroke="#fef4ec" stroke-width="0.6" stroke-linejoin="round"/>
<path d="M73.9 173.3h1.4v1.4h-1.4z" fill="#fdd9c0"/>
<path d="M75.2 176.1h1.4v1.4h-1.4zM74.8 174.8h1.4v1.4h-1.4zM76 175.9h1.4v1.4h-1.4z" fill="#fbc19e"/>
<path d="M78.5 171.9h1.4v1.4h-1.4zM77.9 172h1.4v1.4h-1.4zM76.8 175.1h1.4v1.4h-1.4zM76.1 172.4h1.4v1.4h-1.4zM74.1 172.6h1.4v1.4h-1.4zM75.5 172h1.4v1.4h-1.4z" fill="#f9a97d"/>
<path d="M75.7 173.1h1.4v1.4h-1.4zM76.1 176.2h1.4v1.4h-1.4zM79.2 174.7h1.4v1.4h-1.4zM74.7 170.2h1.4v1.4h-1.4zM71.7 174h1.4v1.4h-1.4zM80.8 172.6h1.4v1.4h-1.4zM77.8 172.3h1.4v1.4h-1.4zM73.9 170.6h1.4v1.4h-1.4zM76.2 171.8h1.4v1.4h-1.4zM79 173.5h1.4v1.4h-1.4zM77.9 171.9h1.4v1.4h-1.4zM71.4 174.4h1.4v1.4h-1.4z" fill="#f58b5c"/>
<path d="M75.4 170.9h1.4v1.4h-1.4zM77.4 176h1.4v1.4h-1.4zM77.2 171.1h1.4v1.4h-1.4zM76.1 175.5h1.4v1.4h-1.4zM76.8 172.2h1.4v1.4h-1.4zM80.4 173.4h1.4v1.4h-1.4zM72 174h1.4v1.4h-1.4zM75.8 176h1.4v1.4h-1.4zM79.7 172.5h1.4v1.4h-1.4zM73.2 172.3h1.4v1.4h-1.4zM79.9 173.2h1.4v1.4h-1.4zM74.2 174.2h1.4v1.4h-1.4z" fill="#f06a3c"/>
<path d="M76.4 172.3h1.4v1.4h-1.4zM75.5 173.5h1.4v1.4h-1.4zM78.2 173.1h1.4v1.4h-1.4zM76.3 172.9h1.4v1.4h-1.4z" fill="#e1452a"/>
<path d="M79.5 172h1.4v1.4h-1.4zM79.7 174.6h1.4v1.4h-1.4z" fill="#c8261e"/>
<path d="M101.2 178.2h1.4v1.4h-1.4zM83.7 185.9h1.4v1.4h-1.4zM93.2 185.5h1.4v1.4h-1.4zM91.9 178h1.4v1.4h-1.4zM83.3 180.6h1.4v1.4h-1.4zM92.4 181.8h1.4v1.4h-1.4zM91.3 184.5h1.4v1.4h-1.4z" fill="#fbc19e"/>
<path d="M84.4 177.9h1.4v1.4h-1.4zM104 182.3h1.4v1.4h-1.4zM100.3 186.9h1.4v1.4h-1.4zM93.9 186.8h1.4v1.4h-1.4zM84.2 183.2h1.4v1.4h-1.4zM100.2 187.1h1.4v1.4h-1.4zM100.2 182.8h1.4v1.4h-1.4zM98.1 179.5h1.4v1.4h-1.4zM88.4 181.2h1.4v1.4h-1.4zM99 180.7h1.4v1.4h-1.4zM90.5 181.8h1.4v1.4h-1.4zM101.7 177.8h1.4v1.4h-1.4zM83.3 180.9h1.4v1.4h-1.4zM86.6 177.7h1.4v1.4h-1.4zM92.6 188.8h1.4v1.4h-1.4zM89.7 176.9h1.4v1.4h-1.4zM95.6 178.4h1.4v1.4h-1.4zM88.8 177.3h1.4v1.4h-1.4zM82.3 179.3h1.4v1.4h-1.4z" fill="#f9a97d"/>
<path d="M89.1 188h1.4v1.4h-1.4zM101.5 186.7h1.4v1.4h-1.4zM83 180.2h1.4v1.4h-1.4zM96.2 177.7h1.4v1.4h-1.4zM100 184.6h1.4v1.4h-1.4zM87.9 183.3h1.4v1.4h-1.4zM96.8 181.1h1.4v1.4h-1.4zM87.2 179h1.4v1.4h-1.4zM89.1 178.1h1.4v1.4h-1.4zM92.6 183.2h1.4v1.4h-1.4zM100.3 185.2h1.4v1.4h-1.4zM87.2 178.3h1.4v1.4h-1.4zM84.8 182h1.4v1.4h-1.4zM86.2 187.3h1.4v1.4h-1.4zM92.5 183.5h1.4v1.4h-1.4zM88.8 186.9h1.4v1.4h-1.4zM93.2 187.2h1.4v1.4h-1.4zM89.7 177.3h1.4v1.4h-1.4zM91 187h1.4v1.4h-1.4zM99.5 185.4h1.4v1.4h-1.4zM82.7 185.3h1.4v1.4h-1.4zM96.2 179.5h1.4v1.4h-1.4zM86.7 177.5h1.4v1.4h-1.4zM101.9 185h1.4v1.4h-1.4zM88.1 181.7h1.4v1.4h-1.4zM86.9 182.8h1.4v1.4h-1.4zM92.8 182.2h1.4v1.4h-1.4zM91.2 177.5h1.4v1.4h-1.4zM85.7 179.3h1.4v1.4h-1.4zM84.3 182.2h1.4v1.4h-1.4zM88.6 184.6h1.4v1.4h-1.4zM103.3 178.1h1.4v1.4h-1.4zM104.2 180.2h1.4v1.4h-1.4zM87 189h1.4v1.4h-1.4zM87.3 178.6h1.4v1.4h-1.4zM84 185h1.4v1.4h-1.4zM102 183.1h1.4v1.4h-1.4zM100.4 186.8h1.4v1.4h-1.4zM93 180.6h1.4v1.4h-1.4zM88.3 181.7h1.4v1.4h-1.4zM92 177.5h1.4v1.4h-1.4zM95.9 187.9h1.4v1.4h-1.4zM88.1 189.8h1.4v1.4h-1.4zM84.7 187.4h1.4v1.4h-1.4zM90.4 186.1h1.4v1.4h-1.4zM96 185.9h1.4v1.4h-1.4zM95.2 184.7h1.4v1.4h-1.4zM88.6 177.5h1.4v1.4h-1.4zM86.3 188.6h1.4v1.4h-1.4z" fill="#f58b5c"/>
<path d="M88.3 183.6h1.4v1.4h-1.4zM91.5 190.8h1.4v1.4h-1.4zM88.7 177.9h1.4v1.4h-1.4zM84.4 187.5h1.4v1.4h-1.4zM91.7 184.2h1.4v1.4h-1.4zM95.8 188.5h1.4v1.4h-1.4zM99.2 188.3h1.4v1.4h-1.4zM91.7 187.9h1.4v1.4h-1.4zM90.7 177.3h1.4v1.4h-1.4zM100 188.1h1.4v1.4h-1.4zM99.7 185.8h1.4v1.4h-1.4zM101.2 184.8h1.4v1.4h-1.4zM97.1 184.8h1.4v1.4h-1.4zM103.3 182.9h1.4v1.4h-1.4zM88 188.8h1.4v1.4h-1.4zM95.4 184.8h1.4v1.4h-1.4zM92.6 185.1h1.4v1.4h-1.4zM89.3 185.1h1.4v1.4h-1.4zM102.5 178.5h1.4v1.4h-1.4zM99.3 183.4h1.4v1.4h-1.4zM91.1 179.1h1.4v1.4h-1.4zM86.6 181.8h1.4v1.4h-1.4zM84.3 184.2h1.4v1.4h-1.4zM93.9 188.2h1.4v1.4h-1.4zM89.6 185.8h1.4v1.4h-1.4zM103.8 181.8h1.4v1.4h-1.4zM84.2 180.7h1.4v1.4h-1.4zM94.5 185.3h1.4v1.4h-1.4zM91.1 185.1h1.4v1.4h-1.4zM86 182.7h1.4v1.4h-1.4zM82.1 180.4h1.4v1.4h-1.4zM85.8 178.3h1.4v1.4h-1.4zM83.1 187.5h1.4v1.4h-1.4zM93.1 181.6h1.4v1.4h-1.4zM91.9 187.7h1.4v1.4h-1.4zM86.4 186.9h1.4v1.4h-1.4zM103.4 179.6h1.4v1.4h-1.4zM101.3 178.1h1.4v1.4h-1.4zM82.3 179.8h1.4v1.4h-1.4zM85.6 185.7h1.4v1.4h-1.4zM100.1 188.1h1.4v1.4h-1.4zM83.4 178.2h1.4v1.4h-1.4zM90.8 186.4h1.4v1.4h-1.4zM88 185.7h1.4v1.4h-1.4zM84.2 178.5h1.4v1.4h-1.4zM86.2 182.2h1.4v1.4h-1.4zM83.1 184.2h1.4v1.4h-1.4zM93.5 190.2h1.4v1.4h-1.4zM94.2 184.9h1.4v1.4h-1.4zM99.5 187.3h1.4v1.4h-1.4zM85 180h1.4v1.4h-1.4zM100.5 183.9h1.4v1.4h-1.4zM97.4 179.6h1.4v1.4h-1.4zM90.3 183h1.4v1.4h-1.4zM87.5 188.6h1.4v1.4h-1.4zM99.4 189.1h1.4v1.4h-1.4zM97.5 180h1.4v1.4h-1.4zM88.5 183.3h1.4v1.4h-1.4zM83.3 187.7h1.4v1.4h-1.4zM102.8 177.4h1.4v1.4h-1.4zM93.6 185h1.4v1.4h-1.4zM105.4 179.8h1.4v1.4h-1.4zM86.6 183.9h1.4v1.4h-1.4zM95.1 184.7h1.4v1.4h-1.4zM91.3 178.6h1.4v1.4h-1.4zM101.1 180.2h1.4v1.4h-1.4zM100.5 187.1h1.4v1.4h-1.4zM81.7 182.8h1.4v1.4h-1.4zM84.4 180.2h1.4v1.4h-1.4zM89.6 179.6h1.4v1.4h-1.4zM87.9 184.3h1.4v1.4h-1.4zM101.5 181.5h1.4v1.4h-1.4zM91.3 190h1.4v1.4h-1.4zM88.8 185h1.4v1.4h-1.4z" fill="#f06a3c"/>
<path d="M94.9 188.9h1.4v1.4h-1.4zM97.6 187.7h1.4v1.4h-1.4zM100.9 183.3h1.4v1.4h-1.4zM98.1 183.7h1.4v1.4h-1.4zM88.8 187.5h1.4v1.4h-1.4zM89.9 190.2h1.4v1.4h-1.4zM86.4 176.2h1.4v1.4h-1.4zM92.4 177.5h1.4v1.4h-1.4zM91.1 181.9h1.4v1.4h-1.4zM92.4 181.4h1.4v1.4h-1.4zM99.6 186.6h1.4v1.4h-1.4zM92 179.1h1.4v1.4h-1.4zM82 182.1h1.4v1.4h-1.4zM95 185.5h1.4v1.4h-1.4zM94.6 185.1h1.4v1.4h-1.4zM82.7 182.2h1.4v1.4h-1.4zM99.1 181.8h1.4v1.4h-1.4zM97.8 183.3h1.4v1.4h-1.4zM86.8 177.4h1.4v1.4h-1.4zM86.3 182.3h1.4v1.4h-1.4zM93.6 185h1.4v1.4h-1.4zM87.5 187.2h1.4v1.4h-1.4zM101.5 179.1h1.4v1.4h-1.4zM98.4 178.5h1.4v1.4h-1.4zM90.6 183.2h1.4v1.4h-1.4zM86.9 179.7h1.4v1.4h-1.4zM83.8 184.8h1.4v1.4h-1.4zM92.5 179.7h1.4v1.4h-1.4zM101.3 181.5h1.4v1.4h-1.4zM91.5 181.1h1.4v1.4h-1.4zM88.9 190.5h1.4v1.4h-1.4zM86.9 178.4h1.4v1.4h-1.4zM95.9 189.5h1.4v1.4h-1.4zM99.4 180.6h1.4v1.4h-1.4zM99.8 180h1.4v1.4h-1.4zM82.4 181h1.4v1.4h-1.4zM95.7 179.8h1.4v1.4h-1.4zM97.4 183.2h1.4v1.4h-1.4zM102.7 177.3h1.4v1.4h-1.4zM95.8 183.6h1.4v1.4h-1.4zM81.2 183.5h1.4v1.4h-1.4zM105 182.5h1.4v1.4h-1.4zM87.9 189.4h1.4v1.4h-1.4zM88.9 187.3h1.4v1.4h-1.4zM95 183.7h1.4v1.4h-1.4zM94.7 180.5h1.4v1.4h-1.4zM94.8 187.3h1.4v1.4h-1.4zM90.6 178.3h1.4v1.4h-1.4zM87.8 176.5h1.4v1.4h-1.4zM83.4 177.9h1.4v1.4h-1.4zM85.9 180.4h1.4v1.4h-1.4zM91.3 184.1h1.4v1.4h-1.4zM83.4 178.7h1.4v1.4h-1.4zM83.1 179.7h1.4v1.4h-1.4zM91.8 182.7h1.4v1.4h-1.4zM91 181.1h1.4v1.4h-1.4zM87.6 187.9h1.4v1.4h-1.4zM93.6 182.9h1.4v1.4h-1.4zM100.9 183.5h1.4v1.4h-1.4zM95.8 181.6h1.4v1.4h-1.4zM91.1 183.3h1.4v1.4h-1.4zM89.2 183.4h1.4v1.4h-1.4zM103.7 178h1.4v1.4h-1.4zM100.6 185.3h1.4v1.4h-1.4zM95.3 188.6h1.4v1.4h-1.4zM85.6 181.7h1.4v1.4h-1.4zM83.7 183.6h1.4v1.4h-1.4zM93.3 179.2h1.4v1.4h-1.4zM94.6 180h1.4v1.4h-1.4zM90.6 183.4h1.4v1.4h-1.4zM84.5 183.5h1.4v1.4h-1.4z" fill="#e1452a"/>
<path d="M87.1 181.9h1.4v1.4h-1.4zM93.4 185.9h1.4v1.4h-1.4zM86.4 188.6h1.4v1.4h-1.4zM93.2 185h1.4v1.4h-1.4zM82 180.2h1.4v1.4h-1.4zM97.2 189.6h1.4v1.4h-1.4zM101.5 178.5h1.4v1.4h-1.4zM90.5 183h1.4v1.4h-1.4zM97.7 182.5h1.4v1.4h-1.4zM96.3 188.2h1.4v1.4h-1.4zM88.1 186.5h1.4v1.4h-1.4zM82.3 180.8h1.4v1.4h-1.4zM89.8 187.4h1.4v1.4h-1.4zM96 188.6h1.4v1.4h-1.4zM98.4 184h1.4v1.4h-1.4zM82.2 186h1.4v1.4h-1.4zM91.2 186.2h1.4v1.4h-1.4zM83.7 177.7h1.4v1.4h-1.4zM82.4 185.7h1.4v1.4h-1.4zM87.7 187.4h1.4v1.4h-1.4zM89.4 186.3h1.4v1.4h-1.4zM99.1 181.6h1.4v1.4h-1.4zM84.5 183.7h1.4v1.4h-1.4zM92.4 178.5h1.4v1.4h-1.4zM84.6 185.8h1.4v1.4h-1.4zM82.9 178.2h1.4v1.4h-1.4zM103.4 185.2h1.4v1.4h-1.4zM102.8 177.6h1.4v1.4h-1.4zM94.5 189.3h1.4v1.4h-1.4zM89.8 186h1.4v1.4h-1.4zM100.3 187.3h1.4v1.4h-1.4zM98.4 184.5h1.4v1.4h-1.4zM99.4 183.6h1.4v1.4h-1.4zM83.9 184.4h1.4v1.4h-1.4zM93.6 190.4h1.4v1.4h-1.4zM87.6 183.5h1.4v1.4h-1.4zM104.3 182.2h1.4v1.4h-1.4zM86.1 186.6h1.4v1.4h-1.4z" fill="#c8261e"/>
<path d="M100.9 181.3h1.4v1.4h-1.4zM87.1 187.7h1.4v1.4h-1.4zM92.4 185.3h1.4v1.4h-1.4zM82.1 181.1h1.4v1.4h-1.4zM86.6 185.1h1.4v1.4h-1.4zM94.7 179.5h1.4v1.4h-1.4zM91.5 186.1h1.4v1.4h-1.4zM89.5 177.1h1.4v1.4h-1.4zM83.6 185.7h1.4v1.4h-1.4zM96.1 186.2h1.4v1.4h-1.4zM96.2 184.8h1.4v1.4h-1.4zM94.2 184.8h1.4v1.4h-1.4z" fill="#9b1218"/>
<path d="M102.3 168.4h1.4v1.4h-1.4zM110.6 164.1h1.4v1.4h-1.4zM95.1 164.7h1.4v1.4h-1.4zM85.3 173.4h1.4v1.4h-1.4zM97.9 168.2h1.4v1.4h-1.4zM99.2 158.5h1.4v1.4h-1.4zM87.5 174.2h1.4v1.4h-1.4zM88.9 176.2h1.4v1.4h-1.4zM107.5 163.8h1.4v1.4h-1.4z" fill="#fdd9c0"/>
<path d="M85.8 174.3h1.4v1.4h-1.4zM106.2 163.6h1.4v1.4h-1.4zM94 164.7h1.4v1.4h-1.4zM93.7 172h1.4v1.4h-1.4zM98.6 169.8h1.4v1.4h-1.4zM85.6 174.1h1.4v1.4h-1.4zM100.4 161.7h1.4v1.4h-1.4zM100 169.2h1.4v1.4h-1.4zM100.2 168h1.4v1.4h-1.4zM108 171.3h1.4v1.4h-1.4zM93.6 167.8h1.4v1.4h-1.4zM93.6 167.5h1.4v1.4h-1.4zM100.7 174.4h1.4v1.4h-1.4zM97.6 166.5h1.4v1.4h-1.4zM109.3 169h1.4v1.4h-1.4z" fill="#fbc19e"/>
<path d="M92.5 164.5h1.4v1.4h-1.4zM101.2 172.6h1.4v1.4h-1.4zM89.9 172.8h1.4v1.4h-1.4zM97.2 165.4h1.4v1.4h-1.4zM95 168.1h1.4v1.4h-1.4zM99.9 171.3h1.4v1.4h-1.4zM106.2 170.1h1.4v1.4h-1.4zM112.8 160.8h1.4v1.4h-1.4zM98.9 164.4h1.4v1.4h-1.4zM104.9 173.8h1.4v1.4h-1.4zM99.8 164.8h1.4v1.4h-1.4zM99.4 176.2h1.4v1.4h-1.4zM101.4 163h1.4v1.4h-1.4zM86.9 171.9h1.4v1.4h-1.4zM92.7 171.5h1.4v1.4h-1.4zM105.8 163h1.4v1.4h-1.4zM102.3 170.6h1.4v1.4h-1.4zM93.4 162.9h1.4v1.4h-1.4zM108 161.8h1.4v1.4h-1.4zM88 173h1.4v1.4h-1.4zM91.1 168h1.4v1.4h-1.4zM100.4 172.4h1.4v1.4h-1.4zM108.5 166.3h1.4v1.4h-1.4zM108.8 170.6h1.4v1.4h-1.4zM90.5 166.4h1.4v1.4h-1.4zM116.6 161.7h1.4v1.4h-1.4zM90.6 171.8h1.4v1.4h-1.4zM103.2 156.8h1.4v1.4h-1.4zM91 168.1h1.4v1.4h-1.4zM100.6 162.3h1.4v1.4h-1.4zM112.3 166.7h1.4v1.4h-1.4z" fill="#f9a97d"/>
<path d="M114.1 161.4h1.4v1.4h-1.4zM94.8 171.8h1.4v1.4h-1.4zM94.8 173.1h1.4v1.4h-1.4zM96.2 167.7h1.4v1.4h-1.4zM95.3 176h1.4v1.4h-1.4zM104.7 157.2h1.4v1.4h-1.4zM94.3 177.1h1.4v1.4h-1.4zM96.4 174.2h1.4v1.4h-1.4zM107.2 158.7h1.4v1.4h-1.4zM102.4 175.2h1.4v1.4h-1.4zM96.8 176.5h1.4v1.4h-1.4zM98 175.3h1.4v1.4h-1.4zM89.1 173.5h1.4v1.4h-1.4zM97 158.7h1.4v1.4h-1.4zM104.8 163.7h1.4v1.4h-1.4zM100.2 168.1h1.4v1.4h-1.4zM112 162.4h1.4v1.4h-1.4zM109 165.1h1.4v1.4h-1.4zM105.1 172h1.4v1.4h-1.4zM91.3 172.8h1.4v1.4h-1.4zM101.6 165.3h1.4v1.4h-1.4zM97.1 169.6h1.4v1.4h-1.4zM94.7 162.2h1.4v1.4h-1.4zM115.9 163.9h1.4v1.4h-1.4zM93.4 167.4h1.4v1.4h-1.4zM103.4 168.8h1.4v1.4h-1.4zM111.6 160.4h1.4v1.4h-1.4zM88 172.2h1.4v1.4h-1.4zM97.2 163.4h1.4v1.4h-1.4z" fill="#f58b5c"/>
<path d="M101.6 174.5h1.4v1.4h-1.4zM104.5 160.7h1.4v1.4h-1.4zM111.5 165.1h1.4v1.4h-1.4zM108.8 163.8h1.4v1.4h-1.4zM104.5 168.4h1.4v1.4h-1.4zM108 169h1.4v1.4h-1.4zM111.8 168.7h1.4v1.4h-1.4zM98.8 158.1h1.4v1.4h-1.4zM104.8 165.5h1.4v1.4h-1.4zM105 157.9h1.4v1.4h-1.4zM93.2 163.9h1.4v1.4h-1.4zM103.7 158.1h1.4v1.4h-1.4zM116.6 163.6h1.4v1.4h-1.4zM106.4 168.6h1.4v1.4h-1.4zM100.5 173.5h1.4v1.4h-1.4zM98.5 163.3h1.4v1.4h-1.4zM114.2 165.4h1.4v1.4h-1.4zM99.8 169.4h1.4v1.4h-1.4zM106.6 161.1h1.4v1.4h-1.4zM95.6 172.1h1.4v1.4h-1.4zM89.7 167.4h1.4v1.4h-1.4zM102.2 165.1h1.4v1.4h-1.4zM91.5 175.9h1.4v1.4h-1.4zM86.5 171.5h1.4v1.4h-1.4zM89.1 174.9h1.4v1.4h-1.4zM102.7 161.9h1.4v1.4h-1.4zM109 162.5h1.4v1.4h-1.4zM92.5 175.2h1.4v1.4h-1.4zM99.2 162h1.4v1.4h-1.4zM104.6 173.8h1.4v1.4h-1.4z" fill="#f06a3c"/>
<path d="M102.7 164.8h1.4v1.4h-1.4zM92.3 168h1.4v1.4h-1.4zM96 165.5h1.4v1.4h-1.4zM95.9 175.8h1.4v1.4h-1.4zM114 165.7h1.4v1.4h-1.4zM110.9 166.6h1.4v1.4h-1.4zM89.9 176.4h1.4v1.4h-1.4zM95.4 166.5h1.4v1.4h-1.4zM91.5 173.1h1.4v1.4h-1.4z" fill="#e1452a"/>
<path d="M103.1 165.5h1.4v1.4h-1.4zM94.7 169h1.4v1.4h-1.4zM86.7 175h1.4v1.4h-1.4zM100.2 167.1h1.4v1.4h-1.4zM93 170.3h1.4v1.4h-1.4zM110.8 161.4h1.4v1.4h-1.4z" fill="#c8261e"/>
<path d="M104.4 171.7h1.4v1.4h-1.4z" fill="#9b1218"/>
<text transform="translate(75 164.9) scale(0.9 1)" font-style="italic" font-size="7.49">Ctla4</text>
<rect x="121.8" y="156.6" width="2" height="34.8" fill="url(#cbg)"/>
<line x1="123.8" y1="160.1" x2="124.8" y2="160.1" stroke="#666" stroke-width="0.5"/>
<text transform="translate(125.4 162.5) scale(0.9 1)" style="fill:#8c8c8c;stroke:#8c8c8c" font-size="7.06">4</text>
<line x1="123.8" y1="167" x2="124.8" y2="167" stroke="#666" stroke-width="0.5"/>
<text transform="translate(125.4 169.4) scale(0.9 1)" style="fill:#8c8c8c;stroke:#8c8c8c" font-size="7.06">3</text>
<line x1="123.8" y1="174" x2="124.8" y2="174" stroke="#666" stroke-width="0.5"/>
<text transform="translate(125.4 176.4) scale(0.9 1)" style="fill:#8c8c8c;stroke:#8c8c8c" font-size="7.06">2</text>
<line x1="123.8" y1="182.7" x2="124.8" y2="182.7" stroke="#666" stroke-width="0.5"/>
<text transform="translate(125.4 185.1) scale(0.9 1)" style="fill:#8c8c8c;stroke:#8c8c8c" font-size="7.06">1</text>
<line x1="123.8" y1="191.4" x2="124.8" y2="191.4" stroke="#666" stroke-width="0.5"/>
<text transform="translate(125.4 193.8) scale(0.9 1)" style="fill:#8c8c8c;stroke:#8c8c8c" font-size="7.06">0</text>
<path d="M130 172.6L134.5 170.6L140 171.6L140.5 175.6L135 177.6L130.5 176.1Z" fill="#fef4ec" stroke="#fef4ec" stroke-width="0.6" stroke-linejoin="round"/>
<path d="M141 180.6L143 175.6L154 178.6L161 177.6L165 178.6L164 184.6L160 189.6L152 192.1L143 190.6L140 185.6Z" fill="#fef4ec" stroke="#fef4ec" stroke-width="0.6" stroke-linejoin="round"/>
<path d="M143 175.6L150 166.6L156 158.6L160 157.1L168 158.1L175 160.6L177.5 164.1L173 168.6L167 172.6L161 177.6L154 178.6Z" fill="#fef4ec" stroke="#fef4ec" stroke-width="0.6" stroke-linejoin="round"/>
<path d="M134.9 175.8h1.4v1.4h-1.4z" fill="#fdd9c0"/>
<path d="M132.2 173.6h1.4v1.4h-1.4z" fill="#fbc19e"/>
<path d="M135.3 173.8h1.4v1.4h-1.4zM133.8 169.9h1.4v1.4h-1.4zM129.8 173.4h1.4v1.4h-1.4zM131.8 175h1.4v1.4h-1.4zM131.1 173.4h1.4v1.4h-1.4zM133.2 176h1.4v1.4h-1.4zM132.8 172.5h1.4v1.4h-1.4z" fill="#f9a97d"/>
<path d="M129.9 174.6h1.4v1.4h-1.4z" fill="#f58b5c"/>
<path d="M135.1 171.5h1.4v1.4h-1.4z" fill="#f06a3c"/>
<path d="M134.6 176.5h1.4v1.4h-1.4z" fill="#e1452a"/>
<path d="M145.8 181.2h1.4v1.4h-1.4z" fill="#fbc19e"/>
<path d="M156.6 182.6h1.4v1.4h-1.4zM147.9 190.5h1.4v1.4h-1.4zM156.7 183.1h1.4v1.4h-1.4zM147.6 182.8h1.4v1.4h-1.4zM147.6 186.2h1.4v1.4h-1.4zM153 187.4h1.4v1.4h-1.4zM163.2 180.7h1.4v1.4h-1.4zM147 179.4h1.4v1.4h-1.4z" fill="#f9a97d"/>
<path d="M145.6 184.8h1.4v1.4h-1.4zM158.5 187.6h1.4v1.4h-1.4zM155.3 179.5h1.4v1.4h-1.4zM159.8 181.1h1.4v1.4h-1.4zM161.4 179.6h1.4v1.4h-1.4zM151.2 188.6h1.4v1.4h-1.4zM150 188.8h1.4v1.4h-1.4zM141.3 186.1h1.4v1.4h-1.4zM149.7 189.6h1.4v1.4h-1.4zM144.1 179.8h1.4v1.4h-1.4zM152.4 191h1.4v1.4h-1.4z" fill="#f58b5c"/>
<path d="M151.7 189.3h1.4v1.4h-1.4zM144.3 178.4h1.4v1.4h-1.4zM155.2 188.4h1.4v1.4h-1.4zM163.3 181.2h1.4v1.4h-1.4zM143.5 186.3h1.4v1.4h-1.4zM141.3 181.7h1.4v1.4h-1.4zM161.2 183.9h1.4v1.4h-1.4zM164 179.4h1.4v1.4h-1.4zM145.1 189.2h1.4v1.4h-1.4zM162 179.1h1.4v1.4h-1.4zM148.4 183.4h1.4v1.4h-1.4zM148.5 190.7h1.4v1.4h-1.4zM157.6 180.8h1.4v1.4h-1.4zM143.1 180.5h1.4v1.4h-1.4zM145.3 183.2h1.4v1.4h-1.4zM143.1 184.1h1.4v1.4h-1.4zM154.4 177.7h1.4v1.4h-1.4zM142.6 177h1.4v1.4h-1.4zM158.6 184.2h1.4v1.4h-1.4zM152.9 180h1.4v1.4h-1.4zM140.9 182.9h1.4v1.4h-1.4zM162.1 182.3h1.4v1.4h-1.4z" fill="#f06a3c"/>
<path d="M144.7 185.6h1.4v1.4h-1.4zM149.6 180.7h1.4v1.4h-1.4zM154.1 178.9h1.4v1.4h-1.4zM153.3 181.1h1.4v1.4h-1.4zM154.2 189.4h1.4v1.4h-1.4zM148.1 177.6h1.4v1.4h-1.4zM150 184.4h1.4v1.4h-1.4zM145 182.4h1.4v1.4h-1.4zM147.5 185.3h1.4v1.4h-1.4zM142.5 177.4h1.4v1.4h-1.4z" fill="#e1452a"/>
<path d="M143.4 181.4h1.4v1.4h-1.4zM155.2 178.2h1.4v1.4h-1.4zM150.2 181.4h1.4v1.4h-1.4zM146.1 177.6h1.4v1.4h-1.4zM144.6 187.5h1.4v1.4h-1.4zM160.8 185.4h1.4v1.4h-1.4z" fill="#c8261e"/>
<path d="M149.6 188.9h1.4v1.4h-1.4z" fill="#9b1218"/>
<path d="M156.4 189.4h1.4v1.4h-1.4z" fill="#5a0a10"/>
<path d="M150.9 166.7h1.4v1.4h-1.4zM161.1 166.1h1.4v1.4h-1.4zM168.7 159.2h1.4v1.4h-1.4zM170.5 164.5h1.4v1.4h-1.4zM149.3 167.1h1.4v1.4h-1.4zM170.2 163.8h1.4v1.4h-1.4zM165.2 162.4h1.4v1.4h-1.4z" fill="#f9a97d"/>
<path d="M162.1 166h1.4v1.4h-1.4zM165 168h1.4v1.4h-1.4zM151 176h1.4v1.4h-1.4zM166.6 160.7h1.4v1.4h-1.4zM155.6 177.1h1.4v1.4h-1.4zM170.1 164.3h1.4v1.4h-1.4zM147.6 172.2h1.4v1.4h-1.4zM158 169.5h1.4v1.4h-1.4zM161.6 157.3h1.4v1.4h-1.4zM146.1 174.6h1.4v1.4h-1.4zM170.9 159.1h1.4v1.4h-1.4zM153.1 164.7h1.4v1.4h-1.4zM164 157.5h1.4v1.4h-1.4zM160.7 160.8h1.4v1.4h-1.4zM146.7 170.9h1.4v1.4h-1.4zM152 165.8h1.4v1.4h-1.4zM151.9 176.4h1.4v1.4h-1.4z" fill="#f58b5c"/>
<path d="M148.1 172.8h1.4v1.4h-1.4zM154 174.1h1.4v1.4h-1.4zM162.5 169.2h1.4v1.4h-1.4zM148.3 170.5h1.4v1.4h-1.4zM146.7 173.1h1.4v1.4h-1.4zM159.5 159.7h1.4v1.4h-1.4zM153.5 173.1h1.4v1.4h-1.4zM153.3 167h1.4v1.4h-1.4zM158.9 162.1h1.4v1.4h-1.4zM157.4 162.3h1.4v1.4h-1.4zM161.2 169.2h1.4v1.4h-1.4zM175.6 163.1h1.4v1.4h-1.4zM157.4 166.1h1.4v1.4h-1.4z" fill="#f06a3c"/>
<path d="M148.7 175.4h1.4v1.4h-1.4zM162.5 161.8h1.4v1.4h-1.4zM153.3 164.5h1.4v1.4h-1.4zM149.8 167.9h1.4v1.4h-1.4zM164 158.3h1.4v1.4h-1.4zM151.9 173.6h1.4v1.4h-1.4zM168.1 164.9h1.4v1.4h-1.4zM167.9 170.8h1.4v1.4h-1.4zM158.4 160.5h1.4v1.4h-1.4zM164.7 167.8h1.4v1.4h-1.4z" fill="#e1452a"/>
<path d="M153.5 167.2h1.4v1.4h-1.4zM150.9 176.1h1.4v1.4h-1.4zM174.5 162.4h1.4v1.4h-1.4zM148 170.6h1.4v1.4h-1.4zM164.7 164.3h1.4v1.4h-1.4zM153.3 167.6h1.4v1.4h-1.4z" fill="#c8261e"/>
<path d="M158.3 161.2h1.4v1.4h-1.4z" fill="#9b1218"/>
<path d="M165.2 163.6h1.4v1.4h-1.4z" fill="#5a0a10"/>
<text transform="translate(133 164.9) scale(0.9 1)" font-style="italic" font-size="7.49">Il2ra</text>
<rect x="179.3" y="156.6" width="2" height="34.8" fill="url(#cbg)"/>
<line x1="181.3" y1="160.1" x2="182.3" y2="160.1" stroke="#666" stroke-width="0.5"/>
<text transform="translate(182.9 162.5) scale(0.9 1)" style="fill:#8c8c8c;stroke:#8c8c8c" font-size="7.06">3</text>
<line x1="181.3" y1="170.5" x2="182.3" y2="170.5" stroke="#666" stroke-width="0.5"/>
<text transform="translate(182.9 172.9) scale(0.9 1)" style="fill:#8c8c8c;stroke:#8c8c8c" font-size="7.06">2</text>
<line x1="181.3" y1="181" x2="182.3" y2="181" stroke="#666" stroke-width="0.5"/>
<text transform="translate(182.9 183.3) scale(0.9 1)" style="fill:#8c8c8c;stroke:#8c8c8c" font-size="7.06">1</text>
<line x1="181.3" y1="191.4" x2="182.3" y2="191.4" stroke="#666" stroke-width="0.5"/>
<text transform="translate(182.9 193.8) scale(0.9 1)" style="fill:#8c8c8c;stroke:#8c8c8c" font-size="7.06">0</text>
<path d="M188 172.6L192.5 170.6L198 171.6L198.5 175.6L193 177.6L188.5 176.1Z" fill="#fef4ec" stroke="#fef4ec" stroke-width="0.6" stroke-linejoin="round"/>
<path d="M199 180.6L201 175.6L212 178.6L219 177.6L223 178.6L222 184.6L218 189.6L210 192.1L201 190.6L198 185.6Z" fill="#fef4ec" stroke="#fef4ec" stroke-width="0.6" stroke-linejoin="round"/>
<path d="M201 175.6L208 166.6L214 158.6L218 157.1L226 158.1L233 160.6L235.5 164.1L231 168.6L225 172.6L219 177.6L212 178.6Z" fill="#fef4ec" stroke="#fef4ec" stroke-width="0.6" stroke-linejoin="round"/>
<path d="M194 174.6h1.4v1.4h-1.4zM192.7 171.5h1.4v1.4h-1.4z" fill="#fdd9c0"/>
<path d="M194.1 173.8h1.4v1.4h-1.4z" fill="#f06a3c"/>
<path d="M206.1 177.9h1.4v1.4h-1.4zM211 187.4h1.4v1.4h-1.4z" fill="#f9a97d"/>
<path d="M201.3 180.9h1.4v1.4h-1.4z" fill="#f58b5c"/>
<path d="M216.8 164.8h1.4v1.4h-1.4zM232.1 162.8h1.4v1.4h-1.4z" fill="#f9a97d"/>
<path d="M216 168.6h1.4v1.4h-1.4zM215.8 169.5h1.4v1.4h-1.4zM209 175.5h1.4v1.4h-1.4z" fill="#f58b5c"/>
<path d="M213.2 164.6h1.4v1.4h-1.4zM225 171.3h1.4v1.4h-1.4zM230.6 165h1.4v1.4h-1.4zM217.5 162.7h1.4v1.4h-1.4z" fill="#f06a3c"/>
<path d="M216.5 164.5h1.4v1.4h-1.4zM208.1 167.1h1.4v1.4h-1.4zM216 164.9h1.4v1.4h-1.4z" fill="#e1452a"/>
<path d="M212.1 176.4h1.4v1.4h-1.4zM222.5 162h1.4v1.4h-1.4zM219.2 169h1.4v1.4h-1.4zM222.6 172h1.4v1.4h-1.4zM211.4 174.5h1.4v1.4h-1.4zM216.6 174.6h1.4v1.4h-1.4z" fill="#c8261e"/>
<text transform="translate(192 164.9) scale(0.9 1)" font-style="italic" font-size="7.49">Nrp1</text>
<rect x="237.8" y="156.6" width="2" height="34.8" fill="url(#cbg)"/>
<line x1="239.8" y1="160.1" x2="240.8" y2="160.1" stroke="#666" stroke-width="0.5"/>
<text transform="translate(241.4 162.5) scale(0.9 1)" style="fill:#8c8c8c;stroke:#8c8c8c" font-size="7.06">2.0</text>
<line x1="239.8" y1="167.7" x2="240.8" y2="167.7" stroke="#666" stroke-width="0.5"/>
<text transform="translate(241.4 170.1) scale(0.9 1)" style="fill:#8c8c8c;stroke:#8c8c8c" font-size="7.06">1.5</text>
<line x1="239.8" y1="175.7" x2="240.8" y2="175.7" stroke="#666" stroke-width="0.5"/>
<text transform="translate(241.4 178.1) scale(0.9 1)" style="fill:#8c8c8c;stroke:#8c8c8c" font-size="7.06">1.0</text>
<line x1="239.8" y1="183.7" x2="240.8" y2="183.7" stroke="#666" stroke-width="0.5"/>
<text transform="translate(241.4 186.1) scale(0.9 1)" style="fill:#8c8c8c;stroke:#8c8c8c" font-size="7.06">0.5</text>
<line x1="239.8" y1="191.4" x2="240.8" y2="191.4" stroke="#666" stroke-width="0.5"/>
<text transform="translate(241.4 193.8) scale(0.9 1)" style="fill:#8c8c8c;stroke:#8c8c8c" font-size="7.06">0</text>
<path d="M6 213L10.5 211L16 212L16.5 216L11 218L6.5 216.5Z" fill="#fef4ec" stroke="#fef4ec" stroke-width="0.6" stroke-linejoin="round"/>
<path d="M17 221L19 216L30 219L37 218L41 219L40 225L36 230L28 232.5L19 231L16 226Z" fill="#fef4ec" stroke="#fef4ec" stroke-width="0.6" stroke-linejoin="round"/>
<path d="M19 216L26 207L32 199L36 197.5L44 198.5L51 201L53.5 204.5L49 209L43 213L37 218L30 219Z" fill="#fef4ec" stroke="#fef4ec" stroke-width="0.6" stroke-linejoin="round"/>
<path d="M8.3 215.1h1.4v1.4h-1.4z" fill="#fbc19e"/>
<path d="M13.1 213.2h1.4v1.4h-1.4z" fill="#f9a97d"/>
<path d="M13.3 216.2h1.4v1.4h-1.4zM15.3 213.3h1.4v1.4h-1.4z" fill="#f58b5c"/>
<path d="M8.4 216.2h1.4v1.4h-1.4zM8.8 212.1h1.4v1.4h-1.4zM13.1 215.3h1.4v1.4h-1.4zM9.9 211.4h1.4v1.4h-1.4zM12.9 212h1.4v1.4h-1.4zM8.4 215.7h1.4v1.4h-1.4z" fill="#f06a3c"/>
<path d="M13.1 212.7h1.4v1.4h-1.4zM15.2 213.9h1.4v1.4h-1.4zM7 215.9h1.4v1.4h-1.4zM10.6 213.2h1.4v1.4h-1.4zM11.1 213.9h1.4v1.4h-1.4z" fill="#e1452a"/>
<path d="M20 226.4h1.4v1.4h-1.4z" fill="#fbc19e"/>
<path d="M27.2 224h1.4v1.4h-1.4zM28.9 230.3h1.4v1.4h-1.4zM31.7 221.3h1.4v1.4h-1.4zM17.1 223.7h1.4v1.4h-1.4zM22.5 221.4h1.4v1.4h-1.4zM24.9 230.4h1.4v1.4h-1.4z" fill="#f9a97d"/>
<path d="M18 228.4h1.4v1.4h-1.4zM23.5 223.9h1.4v1.4h-1.4zM27.4 227.8h1.4v1.4h-1.4zM21.9 220.1h1.4v1.4h-1.4zM25.4 219.7h1.4v1.4h-1.4zM23.1 226.3h1.4v1.4h-1.4zM20.7 223.5h1.4v1.4h-1.4zM36.9 221.5h1.4v1.4h-1.4zM24.8 217.1h1.4v1.4h-1.4zM34.3 220.9h1.4v1.4h-1.4zM23.3 223.9h1.4v1.4h-1.4zM18.5 218.5h1.4v1.4h-1.4zM36.3 219.2h1.4v1.4h-1.4zM31.1 223.2h1.4v1.4h-1.4zM27.9 224.5h1.4v1.4h-1.4zM23.7 218.4h1.4v1.4h-1.4zM19.1 217.5h1.4v1.4h-1.4zM20.7 228.5h1.4v1.4h-1.4zM27.4 229.6h1.4v1.4h-1.4z" fill="#f58b5c"/>
<path d="M30.6 225.8h1.4v1.4h-1.4zM26.3 227.1h1.4v1.4h-1.4zM18.1 224.3h1.4v1.4h-1.4zM19.6 229.9h1.4v1.4h-1.4zM25 225.8h1.4v1.4h-1.4zM19.5 222.6h1.4v1.4h-1.4zM24.7 225.5h1.4v1.4h-1.4zM23 218.4h1.4v1.4h-1.4zM29.9 225.5h1.4v1.4h-1.4zM35.7 219.5h1.4v1.4h-1.4zM28.2 230.6h1.4v1.4h-1.4zM34.8 218h1.4v1.4h-1.4zM30.2 223.1h1.4v1.4h-1.4zM20.7 222.1h1.4v1.4h-1.4zM23.9 224.6h1.4v1.4h-1.4zM24.8 228.8h1.4v1.4h-1.4zM29 220.4h1.4v1.4h-1.4zM20 227.7h1.4v1.4h-1.4zM34.4 223h1.4v1.4h-1.4zM23.1 228.7h1.4v1.4h-1.4zM31.3 226.9h1.4v1.4h-1.4zM21.5 218.8h1.4v1.4h-1.4zM31.8 224.5h1.4v1.4h-1.4zM25.7 219.8h1.4v1.4h-1.4z" fill="#f06a3c"/>
<path d="M34.7 221.9h1.4v1.4h-1.4zM37.1 218.4h1.4v1.4h-1.4zM34.9 217.6h1.4v1.4h-1.4zM35.3 228.4h1.4v1.4h-1.4zM24.2 224.2h1.4v1.4h-1.4zM24.2 225.7h1.4v1.4h-1.4zM20.2 226.2h1.4v1.4h-1.4zM35.7 225.3h1.4v1.4h-1.4zM35.9 226.6h1.4v1.4h-1.4zM23.2 229.6h1.4v1.4h-1.4zM31.4 222.7h1.4v1.4h-1.4zM23.8 217.6h1.4v1.4h-1.4zM25.4 228.9h1.4v1.4h-1.4zM20.8 222.3h1.4v1.4h-1.4zM28.4 226.3h1.4v1.4h-1.4zM24.4 220.5h1.4v1.4h-1.4zM34.4 225.8h1.4v1.4h-1.4zM30.4 229.2h1.4v1.4h-1.4zM21.2 220.4h1.4v1.4h-1.4zM24.2 218.8h1.4v1.4h-1.4zM27.6 221h1.4v1.4h-1.4zM37 227.2h1.4v1.4h-1.4zM24.1 221.3h1.4v1.4h-1.4zM21.1 217.2h1.4v1.4h-1.4zM23.4 220.4h1.4v1.4h-1.4z" fill="#e1452a"/>
<path d="M35.3 219.7h1.4v1.4h-1.4zM21.2 218.9h1.4v1.4h-1.4zM31.7 224.4h1.4v1.4h-1.4zM30 220.7h1.4v1.4h-1.4zM17.6 225h1.4v1.4h-1.4zM28.9 222.1h1.4v1.4h-1.4zM21.3 221.8h1.4v1.4h-1.4zM36.1 226.7h1.4v1.4h-1.4zM35.4 220.8h1.4v1.4h-1.4zM37 221.7h1.4v1.4h-1.4zM16.9 218.9h1.4v1.4h-1.4z" fill="#c8261e"/>
<path d="M23.6 222.8h1.4v1.4h-1.4zM33.3 226.3h1.4v1.4h-1.4z" fill="#9b1218"/>
<path d="M17.4 217.9h1.4v1.4h-1.4zM34 224.3h1.4v1.4h-1.4z" fill="#5a0a10"/>
<text transform="translate(10 205.3) scale(0.9 1)" font-style="italic" font-size="7.49">Il10</text>
<rect x="56" y="197" width="2" height="34.8" fill="url(#cbg)"/>
<line x1="58" y1="202.2" x2="59" y2="202.2" stroke="#666" stroke-width="0.5"/>
<text transform="translate(59.6 204.6) scale(0.9 1)" style="fill:#8c8c8c;stroke:#8c8c8c" font-size="7.06">3</text>
<line x1="58" y1="212" x2="59" y2="212" stroke="#666" stroke-width="0.5"/>
<text transform="translate(59.6 214.3) scale(0.9 1)" style="fill:#8c8c8c;stroke:#8c8c8c" font-size="7.06">2</text>
<line x1="58" y1="222.1" x2="59" y2="222.1" stroke="#666" stroke-width="0.5"/>
<text transform="translate(59.6 224.4) scale(0.9 1)" style="fill:#8c8c8c;stroke:#8c8c8c" font-size="7.06">1</text>
<line x1="58" y1="231.8" x2="59" y2="231.8" stroke="#666" stroke-width="0.5"/>
<text transform="translate(59.6 234.2) scale(0.9 1)" style="fill:#8c8c8c;stroke:#8c8c8c" font-size="7.06">0</text>
<path d="M72.5 213L77 211L82.5 212L83 216L77.5 218L73 216.5Z" fill="#fef4ec" stroke="#fef4ec" stroke-width="0.6" stroke-linejoin="round"/>
<path d="M83.5 221L85.5 216L96.5 219L103.5 218L107.5 219L106.5 225L102.5 230L94.5 232.5L85.5 231L82.5 226Z" fill="#fef4ec" stroke="#fef4ec" stroke-width="0.6" stroke-linejoin="round"/>
<path d="M85.5 216L92.5 207L98.5 199L102.5 197.5L110.5 198.5L117.5 201L120 204.5L115.5 209L109.5 213L103.5 218L96.5 219Z" fill="#fef4ec" stroke="#fef4ec" stroke-width="0.6" stroke-linejoin="round"/>
<path d="M72.5 212.5h1.4v1.4h-1.4zM76.6 215.9h1.4v1.4h-1.4zM80.5 215.9h1.4v1.4h-1.4z" fill="#fdd9c0"/>
<path d="M79.2 214.6h1.4v1.4h-1.4zM78.6 212.1h1.4v1.4h-1.4zM74.7 211.8h1.4v1.4h-1.4z" fill="#fbc19e"/>
<path d="M74 214.2h1.4v1.4h-1.4zM79.7 215h1.4v1.4h-1.4zM78 216.1h1.4v1.4h-1.4zM79.4 215.9h1.4v1.4h-1.4zM76.2 212.3h1.4v1.4h-1.4zM77.2 216.6h1.4v1.4h-1.4zM78.9 212.7h1.4v1.4h-1.4z" fill="#f9a97d"/>
<path d="M80.7 212.1h1.4v1.4h-1.4zM80.1 211.6h1.4v1.4h-1.4zM77.8 214.4h1.4v1.4h-1.4zM79.3 214.7h1.4v1.4h-1.4zM73.4 215.9h1.4v1.4h-1.4zM79 214.5h1.4v1.4h-1.4zM81.3 214h1.4v1.4h-1.4zM77.2 211.8h1.4v1.4h-1.4zM79.4 213.8h1.4v1.4h-1.4z" fill="#f58b5c"/>
<path d="M75.9 215.9h1.4v1.4h-1.4zM79.6 214.1h1.4v1.4h-1.4zM73.7 211.8h1.4v1.4h-1.4zM75.4 211.7h1.4v1.4h-1.4zM82.1 214.4h1.4v1.4h-1.4zM77.4 213.2h1.4v1.4h-1.4zM80.1 214.5h1.4v1.4h-1.4zM72.9 213.3h1.4v1.4h-1.4z" fill="#f06a3c"/>
<path d="M76.8 216.3h1.4v1.4h-1.4zM73.8 214.3h1.4v1.4h-1.4zM81.5 213.2h1.4v1.4h-1.4zM73.5 214.3h1.4v1.4h-1.4zM74.7 215.2h1.4v1.4h-1.4zM75.5 213h1.4v1.4h-1.4zM76.4 211.7h1.4v1.4h-1.4zM74.4 214.9h1.4v1.4h-1.4z" fill="#e1452a"/>
<path d="M81.1 214.9h1.4v1.4h-1.4z" fill="#c8261e"/>
<path d="M72.4 215h1.4v1.4h-1.4z" fill="#9b1218"/>
<path d="M88.5 223.5h1.4v1.4h-1.4zM101.9 217.7h1.4v1.4h-1.4zM85.5 222.6h1.4v1.4h-1.4zM95.8 220.6h1.4v1.4h-1.4z" fill="#fbc19e"/>
<path d="M95.8 228.8h1.4v1.4h-1.4zM92.7 228h1.4v1.4h-1.4zM90.6 230.9h1.4v1.4h-1.4zM90.3 222.7h1.4v1.4h-1.4zM89.6 229.5h1.4v1.4h-1.4zM90.9 230.8h1.4v1.4h-1.4zM96.7 227.7h1.4v1.4h-1.4zM100.5 220.7h1.4v1.4h-1.4zM91.8 221.5h1.4v1.4h-1.4zM90.7 220.9h1.4v1.4h-1.4zM100.8 224.3h1.4v1.4h-1.4zM97.5 230.4h1.4v1.4h-1.4zM97.3 227.1h1.4v1.4h-1.4zM102.5 226.6h1.4v1.4h-1.4zM95.6 220.9h1.4v1.4h-1.4zM87 228.5h1.4v1.4h-1.4zM83.5 219.9h1.4v1.4h-1.4zM96.4 221.4h1.4v1.4h-1.4zM103.9 218.9h1.4v1.4h-1.4zM92.2 221.8h1.4v1.4h-1.4z" fill="#f9a97d"/>
<path d="M105.6 221.6h1.4v1.4h-1.4zM89.1 223.6h1.4v1.4h-1.4zM89.9 221.9h1.4v1.4h-1.4zM96.5 219.9h1.4v1.4h-1.4zM85.2 221.5h1.4v1.4h-1.4zM88.6 227.3h1.4v1.4h-1.4zM92.1 227.5h1.4v1.4h-1.4zM104.9 218.7h1.4v1.4h-1.4zM88.5 223.6h1.4v1.4h-1.4zM82.4 224.2h1.4v1.4h-1.4zM83.8 225.9h1.4v1.4h-1.4zM92 228.9h1.4v1.4h-1.4zM105.3 219.1h1.4v1.4h-1.4zM100.5 224.4h1.4v1.4h-1.4zM98.4 220h1.4v1.4h-1.4zM89.3 222.9h1.4v1.4h-1.4zM84.9 225h1.4v1.4h-1.4zM102.6 217.9h1.4v1.4h-1.4zM99.8 227.1h1.4v1.4h-1.4zM84.3 224h1.4v1.4h-1.4zM85.8 223.8h1.4v1.4h-1.4zM94.3 221.2h1.4v1.4h-1.4zM85.8 222.3h1.4v1.4h-1.4zM103.3 221.5h1.4v1.4h-1.4zM96.4 219.7h1.4v1.4h-1.4zM84.4 225.6h1.4v1.4h-1.4zM96.4 223.1h1.4v1.4h-1.4zM88.3 226.1h1.4v1.4h-1.4zM100.2 227h1.4v1.4h-1.4zM93.7 226.5h1.4v1.4h-1.4zM96 229.9h1.4v1.4h-1.4zM88.4 229.7h1.4v1.4h-1.4zM84.1 224.8h1.4v1.4h-1.4zM85.1 224.9h1.4v1.4h-1.4zM86.2 221h1.4v1.4h-1.4zM92 227.7h1.4v1.4h-1.4zM100.7 219.9h1.4v1.4h-1.4zM105 221.7h1.4v1.4h-1.4zM87.3 228.5h1.4v1.4h-1.4zM86.1 229.9h1.4v1.4h-1.4zM97 223.2h1.4v1.4h-1.4zM92.8 222.5h1.4v1.4h-1.4zM100.9 219.3h1.4v1.4h-1.4zM98.6 218.6h1.4v1.4h-1.4zM97.2 228.4h1.4v1.4h-1.4zM87.8 230.7h1.4v1.4h-1.4zM101 219.6h1.4v1.4h-1.4zM104.7 224.7h1.4v1.4h-1.4z" fill="#f58b5c"/>
<path d="M88.7 230.3h1.4v1.4h-1.4zM89.7 220.2h1.4v1.4h-1.4zM105.9 220.6h1.4v1.4h-1.4zM98.7 228.9h1.4v1.4h-1.4zM84.7 222.5h1.4v1.4h-1.4zM84.7 221.5h1.4v1.4h-1.4zM83.6 221.1h1.4v1.4h-1.4zM93.1 228.7h1.4v1.4h-1.4zM104.2 226h1.4v1.4h-1.4zM91.8 221.1h1.4v1.4h-1.4zM99.4 224.8h1.4v1.4h-1.4zM84.3 218.3h1.4v1.4h-1.4zM104.9 224.9h1.4v1.4h-1.4zM105.7 220.4h1.4v1.4h-1.4zM97.8 225.5h1.4v1.4h-1.4zM94.1 223.2h1.4v1.4h-1.4zM87.2 219.1h1.4v1.4h-1.4zM98.9 230.1h1.4v1.4h-1.4zM98.8 225.5h1.4v1.4h-1.4zM83.2 220.3h1.4v1.4h-1.4zM101.1 220.2h1.4v1.4h-1.4zM89.1 218h1.4v1.4h-1.4zM92.5 225.8h1.4v1.4h-1.4zM85.2 215.9h1.4v1.4h-1.4zM83 222.5h1.4v1.4h-1.4zM103.9 219.6h1.4v1.4h-1.4zM91 219.1h1.4v1.4h-1.4zM86.5 219.7h1.4v1.4h-1.4zM86 229h1.4v1.4h-1.4zM87.1 221h1.4v1.4h-1.4zM102.2 228.7h1.4v1.4h-1.4zM103.2 223.1h1.4v1.4h-1.4zM93.8 226.8h1.4v1.4h-1.4zM86.1 219.1h1.4v1.4h-1.4zM87.3 222h1.4v1.4h-1.4zM98.7 219.1h1.4v1.4h-1.4zM89.3 224.8h1.4v1.4h-1.4zM101.8 225.4h1.4v1.4h-1.4zM95.7 226.7h1.4v1.4h-1.4zM91.3 221.5h1.4v1.4h-1.4zM91.9 225.2h1.4v1.4h-1.4zM91.9 224.6h1.4v1.4h-1.4zM97.2 228.9h1.4v1.4h-1.4zM103.7 222.9h1.4v1.4h-1.4zM100.8 219.6h1.4v1.4h-1.4zM90.5 220.6h1.4v1.4h-1.4zM85.4 224h1.4v1.4h-1.4zM91.3 226.6h1.4v1.4h-1.4zM84.4 217h1.4v1.4h-1.4zM105.1 219.2h1.4v1.4h-1.4zM93.4 217.9h1.4v1.4h-1.4zM90.2 217.7h1.4v1.4h-1.4zM90.7 226.6h1.4v1.4h-1.4zM99.3 220.7h1.4v1.4h-1.4zM101.2 225.2h1.4v1.4h-1.4zM91.4 223h1.4v1.4h-1.4zM94.5 227.9h1.4v1.4h-1.4zM94 229.3h1.4v1.4h-1.4zM98 219.5h1.4v1.4h-1.4zM90.9 224.4h1.4v1.4h-1.4zM95.5 225.2h1.4v1.4h-1.4zM92.2 224.7h1.4v1.4h-1.4zM101 229h1.4v1.4h-1.4zM90.4 226h1.4v1.4h-1.4zM100 229.7h1.4v1.4h-1.4zM105.5 220.1h1.4v1.4h-1.4zM105.3 218.6h1.4v1.4h-1.4zM106.3 218.9h1.4v1.4h-1.4zM98.8 227.8h1.4v1.4h-1.4zM91.3 220.5h1.4v1.4h-1.4zM101.4 223.5h1.4v1.4h-1.4zM93.8 222.9h1.4v1.4h-1.4zM93.9 225.1h1.4v1.4h-1.4zM85.1 221.6h1.4v1.4h-1.4zM101.1 218.7h1.4v1.4h-1.4z" fill="#f06a3c"/>
<path d="M104.9 225.2h1.4v1.4h-1.4zM84.5 219h1.4v1.4h-1.4zM87.2 218.1h1.4v1.4h-1.4zM105.1 218.8h1.4v1.4h-1.4zM83.9 225h1.4v1.4h-1.4zM99.2 220.7h1.4v1.4h-1.4zM87.2 218.6h1.4v1.4h-1.4zM86.4 224.4h1.4v1.4h-1.4zM95.4 230.3h1.4v1.4h-1.4zM87.5 226.3h1.4v1.4h-1.4zM100.3 221.4h1.4v1.4h-1.4zM101.8 218.4h1.4v1.4h-1.4zM89.3 220.7h1.4v1.4h-1.4zM85.9 228.2h1.4v1.4h-1.4zM96.4 222.8h1.4v1.4h-1.4zM99.7 218.3h1.4v1.4h-1.4zM98.8 221.5h1.4v1.4h-1.4zM99.9 220.7h1.4v1.4h-1.4zM105.6 222.8h1.4v1.4h-1.4zM88.3 218.2h1.4v1.4h-1.4zM86.1 229.7h1.4v1.4h-1.4zM99.7 220.7h1.4v1.4h-1.4zM87.4 225.7h1.4v1.4h-1.4zM87.7 224.6h1.4v1.4h-1.4zM95.1 223.1h1.4v1.4h-1.4zM93.6 224.1h1.4v1.4h-1.4zM93.3 221h1.4v1.4h-1.4zM92.8 225h1.4v1.4h-1.4zM82.5 226.2h1.4v1.4h-1.4zM96.2 222.9h1.4v1.4h-1.4zM91.9 218.6h1.4v1.4h-1.4zM88.1 221.2h1.4v1.4h-1.4zM89.5 222.8h1.4v1.4h-1.4zM95.7 231.2h1.4v1.4h-1.4zM102.5 225.4h1.4v1.4h-1.4zM94.2 231.6h1.4v1.4h-1.4zM92 229.4h1.4v1.4h-1.4zM82 225.6h1.4v1.4h-1.4zM91.2 222.3h1.4v1.4h-1.4zM88.7 228.1h1.4v1.4h-1.4zM94.6 220.9h1.4v1.4h-1.4zM89.2 221.2h1.4v1.4h-1.4zM85.6 217.8h1.4v1.4h-1.4zM92.8 224.1h1.4v1.4h-1.4zM99 227.3h1.4v1.4h-1.4zM83.3 224.2h1.4v1.4h-1.4zM90.6 217.2h1.4v1.4h-1.4zM92.1 229.6h1.4v1.4h-1.4zM88.6 221.4h1.4v1.4h-1.4zM95.4 222.7h1.4v1.4h-1.4zM100.1 228.6h1.4v1.4h-1.4zM105.2 222.5h1.4v1.4h-1.4zM83.1 223.1h1.4v1.4h-1.4zM100.3 218.7h1.4v1.4h-1.4zM96.7 230.1h1.4v1.4h-1.4zM91 223.1h1.4v1.4h-1.4zM89.1 225.9h1.4v1.4h-1.4zM83.8 226h1.4v1.4h-1.4zM101.7 225.5h1.4v1.4h-1.4zM88.5 224.4h1.4v1.4h-1.4zM93.1 229.9h1.4v1.4h-1.4zM87.2 216.1h1.4v1.4h-1.4zM93.6 223h1.4v1.4h-1.4zM98 222.8h1.4v1.4h-1.4zM85 227.7h1.4v1.4h-1.4zM93.4 220h1.4v1.4h-1.4zM101.6 225.5h1.4v1.4h-1.4zM84.1 223.7h1.4v1.4h-1.4z" fill="#e1452a"/>
<path d="M102.8 218.1h1.4v1.4h-1.4zM91.1 225.3h1.4v1.4h-1.4zM90.1 216.8h1.4v1.4h-1.4zM97 218.9h1.4v1.4h-1.4zM93.1 224.5h1.4v1.4h-1.4zM103.6 226.1h1.4v1.4h-1.4zM99.2 223.2h1.4v1.4h-1.4zM93.6 224h1.4v1.4h-1.4zM106.6 218.3h1.4v1.4h-1.4zM91.3 228.5h1.4v1.4h-1.4zM92.9 230h1.4v1.4h-1.4zM87.3 217.4h1.4v1.4h-1.4zM87.8 228.9h1.4v1.4h-1.4zM103.9 225.8h1.4v1.4h-1.4zM99.4 224.7h1.4v1.4h-1.4zM92.4 225.2h1.4v1.4h-1.4zM83.2 224.1h1.4v1.4h-1.4zM85.4 224.2h1.4v1.4h-1.4zM99.4 222.2h1.4v1.4h-1.4zM94.6 228.5h1.4v1.4h-1.4zM91 231.1h1.4v1.4h-1.4zM91.8 229.9h1.4v1.4h-1.4zM105.1 219.9h1.4v1.4h-1.4zM102.9 218.7h1.4v1.4h-1.4zM99.6 218.7h1.4v1.4h-1.4zM87.5 228.7h1.4v1.4h-1.4zM88.4 228h1.4v1.4h-1.4zM94.8 222.6h1.4v1.4h-1.4zM85.2 225.8h1.4v1.4h-1.4zM97.4 219.5h1.4v1.4h-1.4zM96.3 222.6h1.4v1.4h-1.4zM93.1 230.7h1.4v1.4h-1.4zM89.1 218.5h1.4v1.4h-1.4z" fill="#c8261e"/>
<path d="M88.5 222.7h1.4v1.4h-1.4zM89.8 218.6h1.4v1.4h-1.4zM102.9 225.8h1.4v1.4h-1.4zM95.8 222h1.4v1.4h-1.4zM95.9 221.6h1.4v1.4h-1.4zM99.1 225.9h1.4v1.4h-1.4zM90.5 223.6h1.4v1.4h-1.4zM95.1 226.6h1.4v1.4h-1.4zM101 221h1.4v1.4h-1.4zM101.2 226.3h1.4v1.4h-1.4zM86.5 227.2h1.4v1.4h-1.4z" fill="#9b1218"/>
<path d="M94.4 228.9h1.4v1.4h-1.4z" fill="#5a0a10"/>
<path d="M97.7 211.8h1.4v1.4h-1.4zM100.9 209.4h1.4v1.4h-1.4z" fill="#fdd9c0"/>
<path d="M104.7 198.8h1.4v1.4h-1.4zM100.3 201h1.4v1.4h-1.4zM101.9 204.5h1.4v1.4h-1.4zM114.9 199.7h1.4v1.4h-1.4zM103.9 197.4h1.4v1.4h-1.4zM109.5 206.8h1.4v1.4h-1.4zM103.4 204h1.4v1.4h-1.4zM103.4 204.1h1.4v1.4h-1.4zM115.8 202.2h1.4v1.4h-1.4z" fill="#fbc19e"/>
<path d="M105.4 197.8h1.4v1.4h-1.4zM93.9 214.8h1.4v1.4h-1.4zM112.3 208.7h1.4v1.4h-1.4zM108.8 211.7h1.4v1.4h-1.4zM97.5 208h1.4v1.4h-1.4zM112.1 203h1.4v1.4h-1.4zM108.6 204.2h1.4v1.4h-1.4zM99.7 205.3h1.4v1.4h-1.4zM92.7 205.2h1.4v1.4h-1.4zM93.5 212.7h1.4v1.4h-1.4zM104.8 215.2h1.4v1.4h-1.4zM85.5 214.6h1.4v1.4h-1.4zM94.5 206.2h1.4v1.4h-1.4zM101.4 215.9h1.4v1.4h-1.4zM104.8 197.3h1.4v1.4h-1.4zM109 210.5h1.4v1.4h-1.4zM99.9 207.7h1.4v1.4h-1.4zM98.2 212.1h1.4v1.4h-1.4zM106.4 204.6h1.4v1.4h-1.4zM113.5 201.6h1.4v1.4h-1.4zM104 207h1.4v1.4h-1.4zM97.3 209.1h1.4v1.4h-1.4zM110.8 204.3h1.4v1.4h-1.4zM93.2 215.3h1.4v1.4h-1.4zM109.8 198.8h1.4v1.4h-1.4z" fill="#f9a97d"/>
<path d="M91.1 211h1.4v1.4h-1.4zM101.9 201.2h1.4v1.4h-1.4zM99.1 203.3h1.4v1.4h-1.4zM105.2 199.9h1.4v1.4h-1.4zM109.9 202.5h1.4v1.4h-1.4zM116.2 200.1h1.4v1.4h-1.4zM94 212.1h1.4v1.4h-1.4zM112.4 200.3h1.4v1.4h-1.4zM114.5 206.9h1.4v1.4h-1.4zM103.2 215h1.4v1.4h-1.4zM111.2 204.9h1.4v1.4h-1.4zM112.4 206.2h1.4v1.4h-1.4zM94.8 209h1.4v1.4h-1.4zM99.4 214.8h1.4v1.4h-1.4zM102.6 202.4h1.4v1.4h-1.4zM102.7 211.5h1.4v1.4h-1.4zM99 199.3h1.4v1.4h-1.4zM92.1 209.7h1.4v1.4h-1.4zM104.3 213.7h1.4v1.4h-1.4zM105.2 211.4h1.4v1.4h-1.4zM101.5 197.5h1.4v1.4h-1.4zM100.7 200.7h1.4v1.4h-1.4zM100.6 201.7h1.4v1.4h-1.4zM114.9 205.4h1.4v1.4h-1.4zM116 203.4h1.4v1.4h-1.4zM104.4 204.4h1.4v1.4h-1.4z" fill="#f58b5c"/>
<path d="M97.5 217.4h1.4v1.4h-1.4zM105 205.6h1.4v1.4h-1.4zM93.3 208.8h1.4v1.4h-1.4zM113.3 201.1h1.4v1.4h-1.4zM93.5 208.6h1.4v1.4h-1.4zM103.9 212.6h1.4v1.4h-1.4zM110.5 207h1.4v1.4h-1.4zM108.7 207.7h1.4v1.4h-1.4zM99.3 199.9h1.4v1.4h-1.4zM102.4 205.7h1.4v1.4h-1.4zM106.2 210.8h1.4v1.4h-1.4zM96.1 203.5h1.4v1.4h-1.4zM110.5 203.1h1.4v1.4h-1.4zM105.7 210.2h1.4v1.4h-1.4zM98 210h1.4v1.4h-1.4zM106.2 199.2h1.4v1.4h-1.4z" fill="#f06a3c"/>
<path d="M113.4 199.5h1.4v1.4h-1.4zM107 197.6h1.4v1.4h-1.4zM100.9 207.3h1.4v1.4h-1.4zM94.2 211.3h1.4v1.4h-1.4zM104.8 212.2h1.4v1.4h-1.4zM95.9 211.9h1.4v1.4h-1.4zM104.3 199.1h1.4v1.4h-1.4zM93.4 212.3h1.4v1.4h-1.4zM98.6 207.3h1.4v1.4h-1.4z" fill="#e1452a"/>
<path d="M112.1 205.9h1.4v1.4h-1.4zM96.3 200.7h1.4v1.4h-1.4zM96.3 212.1h1.4v1.4h-1.4z" fill="#c8261e"/>
<text transform="translate(78 205.3) scale(0.9 1)" font-style="italic" font-size="7.49">Maf</text>
<rect x="123.1" y="197" width="2" height="34.8" fill="url(#cbg)"/>
<line x1="125.1" y1="200.5" x2="126.1" y2="200.5" stroke="#666" stroke-width="0.5"/>
<text transform="translate(126.7 202.9) scale(0.9 1)" style="fill:#8c8c8c;stroke:#8c8c8c" font-size="7.06">4</text>
<line x1="125.1" y1="207.4" x2="126.1" y2="207.4" stroke="#666" stroke-width="0.5"/>
<text transform="translate(126.7 209.8) scale(0.9 1)" style="fill:#8c8c8c;stroke:#8c8c8c" font-size="7.06">3</text>
<line x1="125.1" y1="214.4" x2="126.1" y2="214.4" stroke="#666" stroke-width="0.5"/>
<text transform="translate(126.7 216.8) scale(0.9 1)" style="fill:#8c8c8c;stroke:#8c8c8c" font-size="7.06">2</text>
<line x1="125.1" y1="223.1" x2="126.1" y2="223.1" stroke="#666" stroke-width="0.5"/>
<text transform="translate(126.7 225.5) scale(0.9 1)" style="fill:#8c8c8c;stroke:#8c8c8c" font-size="7.06">1</text>
<line x1="125.1" y1="231.8" x2="126.1" y2="231.8" stroke="#666" stroke-width="0.5"/>
<text transform="translate(126.7 234.2) scale(0.9 1)" style="fill:#8c8c8c;stroke:#8c8c8c" font-size="7.06">0</text>
<path d="M130.4 213L134.9 211L140.4 212L140.9 216L135.4 218L130.9 216.5Z" fill="#fef4ec" stroke="#fef4ec" stroke-width="0.6" stroke-linejoin="round"/>
<path d="M141.4 221L143.4 216L154.4 219L161.4 218L165.4 219L164.4 225L160.4 230L152.4 232.5L143.4 231L140.4 226Z" fill="#fef4ec" stroke="#fef4ec" stroke-width="0.6" stroke-linejoin="round"/>
<path d="M143.4 216L150.4 207L156.4 199L160.4 197.5L168.4 198.5L175.4 201L177.9 204.5L173.4 209L167.4 213L161.4 218L154.4 219Z" fill="#fef4ec" stroke="#fef4ec" stroke-width="0.6" stroke-linejoin="round"/>
<path d="M131.7 214.8h1.4v1.4h-1.4zM135.1 212.8h1.4v1.4h-1.4z" fill="#f9a97d"/>
<path d="M135.2 216.3h1.4v1.4h-1.4z" fill="#f58b5c"/>
<path d="M135.1 210.7h1.4v1.4h-1.4zM137.6 216h1.4v1.4h-1.4z" fill="#f06a3c"/>
<path d="M134.5 216.6h1.4v1.4h-1.4zM139.4 212.3h1.4v1.4h-1.4z" fill="#e1452a"/>
<path d="M130 214.5h1.4v1.4h-1.4z" fill="#c8261e"/>
<path d="M158.2 221.2h1.4v1.4h-1.4zM157.7 221.8h1.4v1.4h-1.4zM156.8 219.9h1.4v1.4h-1.4z" fill="#f9a97d"/>
<path d="M153.3 220.1h1.4v1.4h-1.4zM154.3 229.9h1.4v1.4h-1.4zM162.7 222.8h1.4v1.4h-1.4zM147 230.9h1.4v1.4h-1.4zM156.3 228.6h1.4v1.4h-1.4zM143.6 218.8h1.4v1.4h-1.4zM147.4 218.6h1.4v1.4h-1.4z" fill="#f58b5c"/>
<path d="M151.7 228.7h1.4v1.4h-1.4zM159.5 224h1.4v1.4h-1.4zM144 224.1h1.4v1.4h-1.4zM145.6 217.6h1.4v1.4h-1.4zM144.9 228.4h1.4v1.4h-1.4zM141.2 225.2h1.4v1.4h-1.4zM153.1 228h1.4v1.4h-1.4zM148.4 223.6h1.4v1.4h-1.4zM154.3 222.5h1.4v1.4h-1.4z" fill="#f06a3c"/>
<path d="M159.4 217.8h1.4v1.4h-1.4zM152.6 226h1.4v1.4h-1.4zM144.5 217.5h1.4v1.4h-1.4zM144.9 229.5h1.4v1.4h-1.4zM154 225.4h1.4v1.4h-1.4zM159.7 224h1.4v1.4h-1.4zM161.3 226.5h1.4v1.4h-1.4zM155.3 223.5h1.4v1.4h-1.4zM151.8 226.8h1.4v1.4h-1.4zM163.6 221.3h1.4v1.4h-1.4zM158.7 220.5h1.4v1.4h-1.4z" fill="#e1452a"/>
<path d="M157.2 218.2h1.4v1.4h-1.4zM143.1 220.3h1.4v1.4h-1.4zM150.1 218.2h1.4v1.4h-1.4zM160.8 224.7h1.4v1.4h-1.4zM158.2 228.1h1.4v1.4h-1.4zM146 228.4h1.4v1.4h-1.4z" fill="#c8261e"/>
<path d="M153 218.5h1.4v1.4h-1.4zM143.1 220.4h1.4v1.4h-1.4zM152 223.1h1.4v1.4h-1.4zM151.8 231.5h1.4v1.4h-1.4z" fill="#9b1218"/>
<path d="M169.8 204.7h1.4v1.4h-1.4z" fill="#fbc19e"/>
<path d="M169.2 207.4h1.4v1.4h-1.4z" fill="#f9a97d"/>
<path d="M168.6 201.5h1.4v1.4h-1.4z" fill="#f58b5c"/>
<path d="M158.1 202.2h1.4v1.4h-1.4z" fill="#f06a3c"/>
<path d="M150.2 209.6h1.4v1.4h-1.4z" fill="#c8261e"/>
<text transform="translate(135 205.3) scale(0.9 1)" font-style="italic" font-size="7.49">Rorc</text>
<rect x="180.1" y="197" width="2" height="34.8" fill="url(#cbg)"/>
<line x1="182.1" y1="210.9" x2="183.1" y2="210.9" stroke="#666" stroke-width="0.5"/>
<text transform="translate(183.7 213.3) scale(0.9 1)" style="fill:#8c8c8c;stroke:#8c8c8c" font-size="7.06">2</text>
<line x1="182.1" y1="221.4" x2="183.1" y2="221.4" stroke="#666" stroke-width="0.5"/>
<text transform="translate(183.7 223.7) scale(0.9 1)" style="fill:#8c8c8c;stroke:#8c8c8c" font-size="7.06">1</text>
<line x1="182.1" y1="231.8" x2="183.1" y2="231.8" stroke="#666" stroke-width="0.5"/>
<text transform="translate(183.7 234.2) scale(0.9 1)" style="fill:#8c8c8c;stroke:#8c8c8c" font-size="7.06">0</text>
<path d="M188 213L192.5 211L198 212L198.5 216L193 218L188.5 216.5Z" fill="#fef4ec" stroke="#fef4ec" stroke-width="0.6" stroke-linejoin="round"/>
<path d="M199 221L201 216L212 219L219 218L223 219L222 225L218 230L210 232.5L201 231L198 226Z" fill="#fef4ec" stroke="#fef4ec" stroke-width="0.6" stroke-linejoin="round"/>
<path d="M201 216L208 207L214 199L218 197.5L226 198.5L233 201L235.5 204.5L231 209L225 213L219 218L212 219Z" fill="#fef4ec" stroke="#fef4ec" stroke-width="0.6" stroke-linejoin="round"/>
<path d="M196.6 212.3h1.4v1.4h-1.4z" fill="#f9a97d"/>
<path d="M196.6 214.8h1.4v1.4h-1.4zM192.9 215.1h1.4v1.4h-1.4zM195.3 212.9h1.4v1.4h-1.4z" fill="#f58b5c"/>
<path d="M191.1 213.6h1.4v1.4h-1.4z" fill="#f06a3c"/>
<path d="M192 210.7h1.4v1.4h-1.4z" fill="#c8261e"/>
<path d="M203.1 223.5h1.4v1.4h-1.4z" fill="#fbc19e"/>
<path d="M202.6 226.9h1.4v1.4h-1.4zM215.7 222.1h1.4v1.4h-1.4zM202.9 225.9h1.4v1.4h-1.4zM206 219.4h1.4v1.4h-1.4zM200.4 226.1h1.4v1.4h-1.4zM221.5 219.4h1.4v1.4h-1.4z" fill="#f9a97d"/>
<path d="M200.6 230h1.4v1.4h-1.4zM209.3 222.5h1.4v1.4h-1.4zM210.9 220.9h1.4v1.4h-1.4zM208.9 220.7h1.4v1.4h-1.4zM213.7 225h1.4v1.4h-1.4zM211.7 219.1h1.4v1.4h-1.4zM208.1 227.6h1.4v1.4h-1.4zM211.1 226.9h1.4v1.4h-1.4zM218.6 221.2h1.4v1.4h-1.4z" fill="#f58b5c"/>
<path d="M212.2 228.9h1.4v1.4h-1.4zM217.4 222.5h1.4v1.4h-1.4zM216.4 225h1.4v1.4h-1.4zM208.2 219.5h1.4v1.4h-1.4zM203.8 218.1h1.4v1.4h-1.4zM220 221.5h1.4v1.4h-1.4zM213.7 224.1h1.4v1.4h-1.4zM218.2 222.5h1.4v1.4h-1.4zM211.6 222h1.4v1.4h-1.4zM219.7 218.6h1.4v1.4h-1.4zM205.8 219.5h1.4v1.4h-1.4zM210.7 225h1.4v1.4h-1.4z" fill="#f06a3c"/>
<path d="M215.7 223h1.4v1.4h-1.4zM206 230.9h1.4v1.4h-1.4zM216.2 226.5h1.4v1.4h-1.4zM198.7 223.2h1.4v1.4h-1.4zM200.8 226.1h1.4v1.4h-1.4zM214.1 224.7h1.4v1.4h-1.4zM199.1 218.7h1.4v1.4h-1.4zM216.9 221.8h1.4v1.4h-1.4z" fill="#e1452a"/>
<path d="M202.4 221.1h1.4v1.4h-1.4zM200.4 225.8h1.4v1.4h-1.4z" fill="#c8261e"/>
<path d="M219.7 221.7h1.4v1.4h-1.4z" fill="#9b1218"/>
<path d="M212.3 224.7h1.4v1.4h-1.4z" fill="#5a0a10"/>
<path d="M225.6 206.7h1.4v1.4h-1.4zM209.6 205.6h1.4v1.4h-1.4zM226.8 206.6h1.4v1.4h-1.4z" fill="#f9a97d"/>
<path d="M216.9 208.8h1.4v1.4h-1.4zM225.4 201.7h1.4v1.4h-1.4zM217.3 208.3h1.4v1.4h-1.4zM214.4 209.7h1.4v1.4h-1.4zM212.9 217.1h1.4v1.4h-1.4zM225.9 203.3h1.4v1.4h-1.4zM229.8 204.9h1.4v1.4h-1.4zM215.6 201.3h1.4v1.4h-1.4zM207.6 208.4h1.4v1.4h-1.4zM212.5 210.3h1.4v1.4h-1.4zM221.7 209.3h1.4v1.4h-1.4z" fill="#f58b5c"/>
<path d="M208.6 205.4h1.4v1.4h-1.4zM204.8 212.9h1.4v1.4h-1.4zM213.7 208.5h1.4v1.4h-1.4zM212.7 203.1h1.4v1.4h-1.4zM214.2 213.5h1.4v1.4h-1.4zM229.4 206.6h1.4v1.4h-1.4zM223.1 212.8h1.4v1.4h-1.4zM209.1 209.8h1.4v1.4h-1.4zM226.7 209.1h1.4v1.4h-1.4zM221.6 208.2h1.4v1.4h-1.4zM229.1 202h1.4v1.4h-1.4zM210 213.8h1.4v1.4h-1.4z" fill="#f06a3c"/>
<path d="M218.2 211.2h1.4v1.4h-1.4zM224.9 209h1.4v1.4h-1.4zM227.6 208.6h1.4v1.4h-1.4zM207.5 210.2h1.4v1.4h-1.4zM223 204.5h1.4v1.4h-1.4zM221.2 212.4h1.4v1.4h-1.4zM215.5 207.1h1.4v1.4h-1.4zM232.7 202.7h1.4v1.4h-1.4zM224.8 200.3h1.4v1.4h-1.4zM204.5 215.5h1.4v1.4h-1.4zM223.3 202.5h1.4v1.4h-1.4z" fill="#e1452a"/>
<path d="M215.1 197.6h1.4v1.4h-1.4zM209.3 205.6h1.4v1.4h-1.4zM207.4 214h1.4v1.4h-1.4z" fill="#c8261e"/>
<text transform="translate(191.7 205.3) scale(0.9 1)" font-style="italic" font-size="7.49">Gata3</text>
<rect x="238.4" y="197" width="2" height="34.8" fill="url(#cbg)"/>
<line x1="240.4" y1="200.5" x2="241.4" y2="200.5" stroke="#666" stroke-width="0.5"/>
<text transform="translate(242 202.9) scale(0.9 1)" style="fill:#8c8c8c;stroke:#8c8c8c" font-size="7.06">3</text>
<line x1="240.4" y1="210.9" x2="241.4" y2="210.9" stroke="#666" stroke-width="0.5"/>
<text transform="translate(242 213.3) scale(0.9 1)" style="fill:#8c8c8c;stroke:#8c8c8c" font-size="7.06">2</text>
<line x1="240.4" y1="221.4" x2="241.4" y2="221.4" stroke="#666" stroke-width="0.5"/>
<text transform="translate(242 223.7) scale(0.9 1)" style="fill:#8c8c8c;stroke:#8c8c8c" font-size="7.06">1</text>
<line x1="240.4" y1="231.8" x2="241.4" y2="231.8" stroke="#666" stroke-width="0.5"/>
<text transform="translate(242 234.2) scale(0.9 1)" style="fill:#8c8c8c;stroke:#8c8c8c" font-size="7.06">0</text>
<line x1="277.6" y1="121" x2="277.6" y2="203.4" stroke="#231f20" stroke-width="0.9"/>
<line x1="277.6" y1="203.4" x2="328" y2="203.4" stroke="#231f20" stroke-width="0.9"/>
<line x1="275.6" y1="123.7" x2="277.6" y2="123.7" stroke="#231f20" stroke-width="0.8"/>
<text transform="translate(274.6 126.2) scale(0.9 1)" text-anchor="end" font-size="7.49">100</text>
<line x1="275.6" y1="139.6" x2="277.6" y2="139.6" stroke="#231f20" stroke-width="0.8"/>
<text transform="translate(274.6 142.2) scale(0.9 1)" text-anchor="end" font-size="7.49">80</text>
<line x1="275.6" y1="155.6" x2="277.6" y2="155.6" stroke="#231f20" stroke-width="0.8"/>
<text transform="translate(274.6 158.1) scale(0.9 1)" text-anchor="end" font-size="7.49">60</text>
<line x1="275.6" y1="171.5" x2="277.6" y2="171.5" stroke="#231f20" stroke-width="0.8"/>
<text transform="translate(274.6 174) scale(0.9 1)" text-anchor="end" font-size="7.49">40</text>
<line x1="275.6" y1="187.5" x2="277.6" y2="187.5" stroke="#231f20" stroke-width="0.8"/>
<text transform="translate(274.6 190) scale(0.9 1)" text-anchor="end" font-size="7.49">20</text>
<text transform="translate(258.4 158) rotate(-90) translate(0 2.5) scale(0.9 1)" text-anchor="middle" font-size="7.49">Composition (%)</text>
<rect x="281.7" y="123.7" width="9.5" height="4" fill="#f0962e"/>
<rect x="281.7" y="127.7" width="9.5" height="74.1" fill="#a6aedd"/>
<rect x="281.7" y="201.8" width="9.5" height="1.6" fill="#4566b8"/>
<rect x="293.5" y="123.7" width="9.5" height="2.4" fill="#f0962e"/>
<rect x="293.5" y="126.1" width="9.5" height="71.7" fill="#a6aedd"/>
<rect x="293.5" y="197.8" width="9.5" height="5.6" fill="#4566b8"/>
<rect x="305.3" y="123.7" width="9.5" height="11.2" fill="#f0962e"/>
<rect x="305.3" y="134.9" width="9.5" height="4" fill="#a6aedd"/>
<rect x="305.3" y="138.8" width="9.5" height="64.6" fill="#4566b8"/>
<rect x="317.2" y="123.7" width="9.5" height="8" fill="#f0962e"/>
<rect x="317.2" y="131.7" width="9.5" height="1.6" fill="#a6aedd"/>
<rect x="317.2" y="133.3" width="9.5" height="70.1" fill="#4566b8"/>
<line x1="277.6" y1="206.3" x2="277.6" y2="223.5" stroke="#231f20" stroke-width="0.9"/>
<line x1="277.6" y1="223.5" x2="328" y2="223.5" stroke="#231f20" stroke-width="0.9"/>
<line x1="275.6" y1="207.3" x2="277.6" y2="207.3" stroke="#231f20" stroke-width="0.8"/>
<text transform="translate(274.6 209.8) scale(0.9 1)" text-anchor="end" font-size="7.49">200</text>
<line x1="275.6" y1="223" x2="277.6" y2="223" stroke="#231f20" stroke-width="0.8"/>
<text transform="translate(274.6 225.5) scale(0.9 1)" text-anchor="end" font-size="7.49">0</text>
<rect x="281.7" y="207.8" width="9.5" height="15.7" fill="#bdbdbd"/>
<line x1="286.4" y1="223.5" x2="286.4" y2="225" stroke="#231f20" stroke-width="0.6"/>
<line x1="286.4" y1="203.4" x2="286.4" y2="205" stroke="#231f20" stroke-width="0.6"/>
<rect x="293.5" y="215.8" width="9.5" height="7.7" fill="#bdbdbd"/>
<line x1="298.2" y1="223.5" x2="298.2" y2="225" stroke="#231f20" stroke-width="0.6"/>
<line x1="298.2" y1="203.4" x2="298.2" y2="205" stroke="#231f20" stroke-width="0.6"/>
<rect x="305.3" y="213.6" width="9.5" height="9.9" fill="#bdbdbd"/>
<line x1="310.1" y1="223.5" x2="310.1" y2="225" stroke="#231f20" stroke-width="0.6"/>
<line x1="310.1" y1="203.4" x2="310.1" y2="205" stroke="#231f20" stroke-width="0.6"/>
<rect x="317.2" y="207.8" width="9.5" height="15.7" fill="#bdbdbd"/>
<line x1="321.9" y1="223.5" x2="321.9" y2="225" stroke="#231f20" stroke-width="0.6"/>
<line x1="321.9" y1="203.4" x2="321.9" y2="205" stroke="#231f20" stroke-width="0.6"/>
<text transform="translate(257.3 215.4) rotate(-90) translate(0 2.5) scale(0.9 1)" text-anchor="middle" font-size="7.49">No. of cells</text>
<text transform="translate(285.7 231.5) scale(0.9 1)" text-anchor="middle" font-size="7.49">MLN</text>
<text transform="translate(298.5 231.5) scale(0.9 1)" text-anchor="middle" font-size="7.49">CP</text>
<text transform="translate(312 231.5) scale(0.9 1)" text-anchor="middle" font-size="7.49">LA</text>
<text transform="translate(323.3 231.5) scale(0.9 1)" text-anchor="middle" font-size="7.49">LP</text>
<text transform="translate(-0.6 261) scale(1 1)" font-weight="bold" font-size="10.5">d</text>
<text transform="translate(47 264.5) scale(0.9 1)" text-anchor="middle" font-size="7.49">Tissue</text>
<text transform="translate(78 260) scale(0.9 1)" text-anchor="middle" font-style="italic" font-size="7.49">Hh</text>
<text transform="translate(113 267.5) scale(0.9 1)" text-anchor="middle" font-size="7.49">MLN</text>
<rect x="15.5" y="268.5" width="63" height="63" fill="none" stroke="#888" stroke-width="0.6"/>
<path d="M36.8 314.2h0.7v0.7h-0.7zM37.6 298.4h0.7v0.7h-0.7zM36.8 295.4h0.7v0.7h-0.7zM38 297.3h0.7v0.7h-0.7zM34.2 293.6h0.7v0.7h-0.7zM34.6 302.5h0.7v0.7h-0.7zM39.7 303.8h0.7v0.7h-0.7zM36.3 303.1h0.7v0.7h-0.7zM37.3 304h0.7v0.7h-0.7zM33.3 305h0.7v0.7h-0.7zM38.9 295h0.7v0.7h-0.7zM31.1 312.6h0.7v0.7h-0.7zM36.6 300.7h0.7v0.7h-0.7zM32.3 304.8h0.7v0.7h-0.7zM40.3 302.3h0.7v0.7h-0.7zM37.6 323.2h0.7v0.7h-0.7zM39.2 305.9h0.7v0.7h-0.7zM33.5 315.7h0.7v0.7h-0.7zM40.1 304.5h0.7v0.7h-0.7zM39.5 311h0.7v0.7h-0.7zM42.1 313.5h0.7v0.7h-0.7zM37.4 312.5h0.7v0.7h-0.7zM36.4 299.4h0.7v0.7h-0.7zM36 303.7h0.7v0.7h-0.7zM40.8 307.5h0.7v0.7h-0.7zM38.7 301.2h0.7v0.7h-0.7zM39.4 302.8h0.7v0.7h-0.7zM32.4 311.4h0.7v0.7h-0.7zM37.8 317.1h0.7v0.7h-0.7zM42.3 306.8h0.7v0.7h-0.7zM37.2 297.2h0.7v0.7h-0.7zM41.2 310.6h0.7v0.7h-0.7zM41.7 314.8h0.7v0.7h-0.7zM40.2 317.9h0.7v0.7h-0.7zM38.7 301.7h0.7v0.7h-0.7zM37.7 307.2h0.7v0.7h-0.7zM35.2 306h0.7v0.7h-0.7zM37.6 302.1h0.7v0.7h-0.7zM39.9 305.4h0.7v0.7h-0.7zM35.9 313.9h0.7v0.7h-0.7zM30.5 305.5h0.7v0.7h-0.7zM40.8 311.1h0.7v0.7h-0.7zM33.9 305.7h0.7v0.7h-0.7zM38.2 314.6h0.7v0.7h-0.7zM35.6 305h0.7v0.7h-0.7zM36.5 298.5h0.7v0.7h-0.7zM35.1 312h0.7v0.7h-0.7zM35.7 302.9h0.7v0.7h-0.7zM34.7 300.8h0.7v0.7h-0.7zM39.3 309h0.7v0.7h-0.7zM38.3 308.2h0.7v0.7h-0.7zM37.2 311.6h0.7v0.7h-0.7zM34.8 304.3h0.7v0.7h-0.7zM33.5 315.9h0.7v0.7h-0.7zM39.4 307.4h0.7v0.7h-0.7zM38.4 311.9h0.7v0.7h-0.7zM39.3 311.3h0.7v0.7h-0.7zM37.1 306.1h0.7v0.7h-0.7zM40.1 312.1h0.7v0.7h-0.7zM38.3 315.1h0.7v0.7h-0.7zM34.7 307.1h0.7v0.7h-0.7zM33.6 315h0.7v0.7h-0.7zM39.2 307.2h0.7v0.7h-0.7zM35.7 305.9h0.7v0.7h-0.7zM39 310.9h0.7v0.7h-0.7zM34.5 304.1h0.7v0.7h-0.7zM35.5 306.3h0.7v0.7h-0.7zM35 300.4h0.7v0.7h-0.7zM42.8 302.1h0.7v0.7h-0.7zM37.7 309.8h0.7v0.7h-0.7zM41 316h0.7v0.7h-0.7zM36 311.5h0.7v0.7h-0.7zM39.8 309.5h0.7v0.7h-0.7zM34.7 319.4h0.7v0.7h-0.7zM40.2 305.8h0.7v0.7h-0.7zM37.4 308.7h0.7v0.7h-0.7zM37 312.2h0.7v0.7h-0.7zM34.6 303.5h0.7v0.7h-0.7zM36.3 297.4h0.7v0.7h-0.7zM33.1 300.8h0.7v0.7h-0.7zM33.1 313h0.7v0.7h-0.7zM40.2 310.3h0.7v0.7h-0.7zM33.6 309.2h0.7v0.7h-0.7zM37.3 296.7h0.7v0.7h-0.7zM40.5 310h0.7v0.7h-0.7zM34.2 319h0.7v0.7h-0.7zM38.4 302.6h0.7v0.7h-0.7zM34.5 300.3h0.7v0.7h-0.7zM37.6 307.2h0.7v0.7h-0.7zM35.1 305.7h0.7v0.7h-0.7zM35.3 315h0.7v0.7h-0.7zM34.5 305.7h0.7v0.7h-0.7zM41.6 317.3h0.7v0.7h-0.7zM34.9 293.8h0.7v0.7h-0.7zM42.7 300.6h0.7v0.7h-0.7zM35.9 307h0.7v0.7h-0.7zM39.4 303.2h0.7v0.7h-0.7zM35.8 303.7h0.7v0.7h-0.7zM33.3 314.1h0.7v0.7h-0.7zM35.5 308h0.7v0.7h-0.7zM34.8 313h0.7v0.7h-0.7zM43 301.9h0.7v0.7h-0.7zM37.1 306.5h0.7v0.7h-0.7zM41.6 302.9h0.7v0.7h-0.7zM40.5 309h0.7v0.7h-0.7zM39.8 303.1h0.7v0.7h-0.7zM34.6 304.6h0.7v0.7h-0.7zM39.8 305.9h0.7v0.7h-0.7zM39.4 318.3h0.7v0.7h-0.7zM32.1 299h0.7v0.7h-0.7zM35.1 301.9h0.7v0.7h-0.7zM38.6 298.6h0.7v0.7h-0.7zM34.2 305.8h0.7v0.7h-0.7zM36.8 307.5h0.7v0.7h-0.7zM36.9 295.2h0.7v0.7h-0.7zM35.3 310.2h0.7v0.7h-0.7zM37.9 309.8h0.7v0.7h-0.7zM33.5 301.8h0.7v0.7h-0.7zM31.4 304.8h0.7v0.7h-0.7zM33.9 311.5h0.7v0.7h-0.7zM36 315.2h0.7v0.7h-0.7zM43.6 308.8h0.7v0.7h-0.7zM38.3 297.8h0.7v0.7h-0.7zM38.9 316.3h0.7v0.7h-0.7zM36.2 304.7h0.7v0.7h-0.7zM37.4 303.4h0.7v0.7h-0.7zM38.5 311.5h0.7v0.7h-0.7zM36.2 305.2h0.7v0.7h-0.7zM32.4 311.9h0.7v0.7h-0.7zM41.2 310.7h0.7v0.7h-0.7zM32.5 308.2h0.7v0.7h-0.7zM33.9 314h0.7v0.7h-0.7zM37.9 309.4h0.7v0.7h-0.7zM39.6 311.3h0.7v0.7h-0.7zM37.4 313h0.7v0.7h-0.7zM40.3 303.2h0.7v0.7h-0.7zM33.7 319.6h0.7v0.7h-0.7zM36.4 312.4h0.7v0.7h-0.7zM38.7 311.2h0.7v0.7h-0.7zM40.3 309.3h0.7v0.7h-0.7zM40.9 306.9h0.7v0.7h-0.7zM34.1 317.3h0.7v0.7h-0.7zM37.1 312.4h0.7v0.7h-0.7zM37.3 308.8h0.7v0.7h-0.7zM41.7 297.5h0.7v0.7h-0.7zM34.2 308.7h0.7v0.7h-0.7zM40.7 308.9h0.7v0.7h-0.7zM38.6 312.9h0.7v0.7h-0.7zM36.1 295.1h0.7v0.7h-0.7zM31.5 304.6h0.7v0.7h-0.7zM34.1 307.6h0.7v0.7h-0.7zM40 311.4h0.7v0.7h-0.7zM34.2 297.1h0.7v0.7h-0.7zM41.5 308.7h0.7v0.7h-0.7zM36.1 299.6h0.7v0.7h-0.7zM34.8 318.3h0.7v0.7h-0.7zM34.6 306.7h0.7v0.7h-0.7zM35.7 305.6h0.7v0.7h-0.7zM33.1 316h0.7v0.7h-0.7zM37.2 312.7h0.7v0.7h-0.7zM33.8 305.4h0.7v0.7h-0.7zM43.2 306.4h0.7v0.7h-0.7zM35.5 296.4h0.7v0.7h-0.7zM34.8 310.8h0.7v0.7h-0.7zM35.5 302h0.7v0.7h-0.7zM40.4 318.7h0.7v0.7h-0.7zM35.7 303.8h0.7v0.7h-0.7zM31.9 299.5h0.7v0.7h-0.7zM33.3 306.2h0.7v0.7h-0.7zM37.4 310.3h0.7v0.7h-0.7zM33.1 305.9h0.7v0.7h-0.7zM30.8 303.6h0.7v0.7h-0.7zM36 298.2h0.7v0.7h-0.7zM37.3 309.6h0.7v0.7h-0.7zM39.4 298h0.7v0.7h-0.7zM32.7 306.8h0.7v0.7h-0.7zM37.1 302.3h0.7v0.7h-0.7zM31.7 306.6h0.7v0.7h-0.7zM40.3 299.8h0.7v0.7h-0.7zM38.6 297.5h0.7v0.7h-0.7zM39 296.6h0.7v0.7h-0.7zM40.2 306.2h0.7v0.7h-0.7zM40.4 303.6h0.7v0.7h-0.7zM32.5 299.5h0.7v0.7h-0.7zM33.7 308.6h0.7v0.7h-0.7zM34.8 310.9h0.7v0.7h-0.7zM36.5 303.1h0.7v0.7h-0.7zM35.2 304.7h0.7v0.7h-0.7zM38.4 316.4h0.7v0.7h-0.7zM35.3 307h0.7v0.7h-0.7zM40.1 317h0.7v0.7h-0.7zM34.1 297.9h0.7v0.7h-0.7zM35.1 315.9h0.7v0.7h-0.7zM35.5 313.8h0.7v0.7h-0.7zM36.4 311.2h0.7v0.7h-0.7zM38.2 305.9h0.7v0.7h-0.7zM34.8 307.3h0.7v0.7h-0.7zM39.3 305h0.7v0.7h-0.7zM32.7 306h0.7v0.7h-0.7zM39.6 297.6h0.7v0.7h-0.7zM33.4 312.3h0.7v0.7h-0.7zM32.6 315.5h0.7v0.7h-0.7zM40.4 301.8h0.7v0.7h-0.7zM37.4 315.5h0.7v0.7h-0.7zM32.2 307.5h0.7v0.7h-0.7zM40.4 318.4h0.7v0.7h-0.7zM38.1 306h0.7v0.7h-0.7zM34.2 312.1h0.7v0.7h-0.7zM37 321.4h0.7v0.7h-0.7zM43 312.8h0.7v0.7h-0.7zM34.4 306.3h0.7v0.7h-0.7zM40.4 309h0.7v0.7h-0.7zM38.6 302.5h0.7v0.7h-0.7zM42.7 303.9h0.7v0.7h-0.7zM37.6 293.3h0.7v0.7h-0.7zM41.3 299.3h0.7v0.7h-0.7zM37.4 308.1h0.7v0.7h-0.7zM38.1 302.6h0.7v0.7h-0.7zM38.4 308.2h0.7v0.7h-0.7zM33.3 299.6h0.7v0.7h-0.7zM42.2 308.8h0.7v0.7h-0.7zM38.4 322.2h0.7v0.7h-0.7zM34.9 316.1h0.7v0.7h-0.7zM40.6 301.7h0.7v0.7h-0.7zM36.4 309.5h0.7v0.7h-0.7zM35 316.7h0.7v0.7h-0.7zM36.2 318.7h0.7v0.7h-0.7zM31.6 304.6h0.7v0.7h-0.7zM38.1 315.3h0.7v0.7h-0.7zM39.4 314.9h0.7v0.7h-0.7zM39.2 308.3h0.7v0.7h-0.7zM41.9 313.1h0.7v0.7h-0.7zM35 313.5h0.7v0.7h-0.7zM38.9 308.5h0.7v0.7h-0.7zM38.9 305.1h0.7v0.7h-0.7zM35.8 295.2h0.7v0.7h-0.7zM35.7 317.4h0.7v0.7h-0.7zM38.9 311.8h0.7v0.7h-0.7zM32 306.7h0.7v0.7h-0.7zM37.7 315h0.7v0.7h-0.7zM37.3 302.2h0.7v0.7h-0.7zM38.8 307.9h0.7v0.7h-0.7zM33.5 307.2h0.7v0.7h-0.7zM37.9 306.5h0.7v0.7h-0.7zM35.6 306.8h0.7v0.7h-0.7zM37.2 312.3h0.7v0.7h-0.7zM33.5 303.4h0.7v0.7h-0.7zM38.9 303.8h0.7v0.7h-0.7zM34.1 297.7h0.7v0.7h-0.7zM32.5 299.9h0.7v0.7h-0.7zM36.7 311.7h0.7v0.7h-0.7zM37.4 308.2h0.7v0.7h-0.7zM38.9 306.5h0.7v0.7h-0.7zM32.9 307.7h0.7v0.7h-0.7zM37.4 322.4h0.7v0.7h-0.7zM37 322.6h0.7v0.7h-0.7zM36.5 297.1h0.7v0.7h-0.7zM36.1 305.1h0.7v0.7h-0.7zM36.6 304.6h0.7v0.7h-0.7zM36.4 306.8h0.7v0.7h-0.7zM36.9 315h0.7v0.7h-0.7zM36.9 314h0.7v0.7h-0.7zM33.9 308.8h0.7v0.7h-0.7zM36.7 308.4h0.7v0.7h-0.7zM33.2 302.4h0.7v0.7h-0.7zM32.1 310.2h0.7v0.7h-0.7zM40.9 306.8h0.7v0.7h-0.7zM32.5 304.5h0.7v0.7h-0.7zM40.4 295.1h0.7v0.7h-0.7zM35.9 307.8h0.7v0.7h-0.7zM35.4 309h0.7v0.7h-0.7zM38.3 309.7h0.7v0.7h-0.7zM39.8 314.7h0.7v0.7h-0.7zM32 299.3h0.7v0.7h-0.7zM36.2 307.7h0.7v0.7h-0.7zM37.6 298.7h0.7v0.7h-0.7zM33 319.9h0.7v0.7h-0.7zM37.4 309.6h0.7v0.7h-0.7zM37.7 305.4h0.7v0.7h-0.7zM36.6 317.2h0.7v0.7h-0.7zM36.6 296.5h0.7v0.7h-0.7zM33.3 297.5h0.7v0.7h-0.7zM40.5 302.6h0.7v0.7h-0.7zM33.3 305.6h0.7v0.7h-0.7zM32.6 310.3h0.7v0.7h-0.7zM37.3 308.7h0.7v0.7h-0.7zM40.5 304.2h0.7v0.7h-0.7zM39.8 294.8h0.7v0.7h-0.7zM39.9 320.3h0.7v0.7h-0.7zM34.3 312.8h0.7v0.7h-0.7zM33.8 307.9h0.7v0.7h-0.7zM38.6 303.2h0.7v0.7h-0.7zM33.5 306.3h0.7v0.7h-0.7zM36.7 309.9h0.7v0.7h-0.7zM37.2 294.5h0.7v0.7h-0.7zM40.4 310.6h0.7v0.7h-0.7zM32.2 306h0.7v0.7h-0.7zM36.5 303.1h0.7v0.7h-0.7zM40.9 306.7h0.7v0.7h-0.7zM36.9 295.5h0.7v0.7h-0.7zM33.7 310h0.7v0.7h-0.7zM42.8 309.9h0.7v0.7h-0.7zM36.4 304.4h0.7v0.7h-0.7zM33.3 298.4h0.7v0.7h-0.7zM39.3 320.6h0.7v0.7h-0.7zM35.9 300.8h0.7v0.7h-0.7zM32 303.8h0.7v0.7h-0.7zM40.2 295.1h0.7v0.7h-0.7zM36 316h0.7v0.7h-0.7zM41.9 302h0.7v0.7h-0.7zM37.8 310.6h0.7v0.7h-0.7zM37.5 306.5h0.7v0.7h-0.7zM37.6 308.4h0.7v0.7h-0.7zM36.4 305.7h0.7v0.7h-0.7zM37 315.1h0.7v0.7h-0.7zM34.1 317.9h0.7v0.7h-0.7zM40.3 308.2h0.7v0.7h-0.7zM42.8 300.7h0.7v0.7h-0.7zM37.1 302.4h0.7v0.7h-0.7zM33.7 311.1h0.7v0.7h-0.7zM39.6 315.3h0.7v0.7h-0.7zM36.8 304h0.7v0.7h-0.7zM32.6 300h0.7v0.7h-0.7zM41.3 297.4h0.7v0.7h-0.7zM36.6 303.6h0.7v0.7h-0.7zM34.8 297.7h0.7v0.7h-0.7zM35.7 310.6h0.7v0.7h-0.7zM36.1 309.5h0.7v0.7h-0.7zM34.8 299.5h0.7v0.7h-0.7zM39.5 306.2h0.7v0.7h-0.7zM36.1 311h0.7v0.7h-0.7zM40 303h0.7v0.7h-0.7zM37.2 305.4h0.7v0.7h-0.7zM41.2 297.3h0.7v0.7h-0.7zM34.6 306.6h0.7v0.7h-0.7zM38.5 315.2h0.7v0.7h-0.7zM42.1 304.9h0.7v0.7h-0.7zM38.6 307.4h0.7v0.7h-0.7zM34.5 308.8h0.7v0.7h-0.7zM36.8 316.5h0.7v0.7h-0.7zM36.1 296.7h0.7v0.7h-0.7zM37.7 302.7h0.7v0.7h-0.7zM37.3 309.9h0.7v0.7h-0.7zM38 313.1h0.7v0.7h-0.7zM35 306.7h0.7v0.7h-0.7zM38.5 302.8h0.7v0.7h-0.7zM36.6 303.3h0.7v0.7h-0.7zM40.2 306.9h0.7v0.7h-0.7zM33.9 308.8h0.7v0.7h-0.7zM34.6 304.7h0.7v0.7h-0.7zM33 305.4h0.7v0.7h-0.7zM39.4 312.1h0.7v0.7h-0.7zM38.8 300.8h0.7v0.7h-0.7zM36.8 306.7h0.7v0.7h-0.7zM36.1 304.9h0.7v0.7h-0.7zM34.6 308h0.7v0.7h-0.7zM37.5 299h0.7v0.7h-0.7zM35 309.7h0.7v0.7h-0.7zM36.8 310.9h0.7v0.7h-0.7zM33.7 306.4h0.7v0.7h-0.7zM33.9 307.2h0.7v0.7h-0.7zM34.8 303.3h0.7v0.7h-0.7zM38.8 315.1h0.7v0.7h-0.7zM36.7 308.8h0.7v0.7h-0.7zM33.9 303.4h0.7v0.7h-0.7zM35.6 310h0.7v0.7h-0.7zM40.6 317.2h0.7v0.7h-0.7zM38.8 304.6h0.7v0.7h-0.7z" fill="#3a64c8"/>
<path d="M38.6 299.7h0.7v0.7h-0.7zM34 307.8h0.7v0.7h-0.7zM35.6 310.7h0.7v0.7h-0.7zM35 297.7h0.7v0.7h-0.7zM36.6 310h0.7v0.7h-0.7zM33.7 307.4h0.7v0.7h-0.7zM37.2 309.1h0.7v0.7h-0.7zM38.7 308.4h0.7v0.7h-0.7zM35.4 300.4h0.7v0.7h-0.7zM38.3 305.7h0.7v0.7h-0.7zM39 313.2h0.7v0.7h-0.7zM35.6 304.2h0.7v0.7h-0.7zM39.7 308.1h0.7v0.7h-0.7zM34.5 306.1h0.7v0.7h-0.7zM36.1 313.3h0.7v0.7h-0.7zM34.2 303.7h0.7v0.7h-0.7zM38.7 311.3h0.7v0.7h-0.7zM37.4 304.4h0.7v0.7h-0.7zM38.4 308.5h0.7v0.7h-0.7zM37.1 300.5h0.7v0.7h-0.7zM33 304.9h0.7v0.7h-0.7zM36 313.2h0.7v0.7h-0.7zM35.3 311.2h0.7v0.7h-0.7zM39.1 311.1h0.7v0.7h-0.7zM36.6 304.5h0.7v0.7h-0.7zM36 300.1h0.7v0.7h-0.7zM35.4 303.1h0.7v0.7h-0.7zM39.5 314.2h0.7v0.7h-0.7zM37.6 299.1h0.7v0.7h-0.7zM36.6 304.4h0.7v0.7h-0.7zM39.6 302h0.7v0.7h-0.7zM37.8 306.7h0.7v0.7h-0.7zM38.8 304.1h0.7v0.7h-0.7zM40.6 308.7h0.7v0.7h-0.7zM36.6 305.9h0.7v0.7h-0.7zM35.9 312.6h0.7v0.7h-0.7zM38.7 305.8h0.7v0.7h-0.7zM39 315.1h0.7v0.7h-0.7zM39.4 309.4h0.7v0.7h-0.7zM34.8 302.4h0.7v0.7h-0.7zM38.7 306.6h0.7v0.7h-0.7zM36.3 313.4h0.7v0.7h-0.7zM38.5 314.4h0.7v0.7h-0.7zM36.3 302.1h0.7v0.7h-0.7zM36.7 311.5h0.7v0.7h-0.7zM34.6 306.9h0.7v0.7h-0.7zM38.3 308.2h0.7v0.7h-0.7zM38.1 312h0.7v0.7h-0.7zM35 308.7h0.7v0.7h-0.7zM36.9 306.9h0.7v0.7h-0.7zM34.2 303.1h0.7v0.7h-0.7zM35.5 307.3h0.7v0.7h-0.7zM37.9 304.6h0.7v0.7h-0.7zM37 305.2h0.7v0.7h-0.7zM37.5 302.6h0.7v0.7h-0.7zM36.5 304.3h0.7v0.7h-0.7zM38.7 303h0.7v0.7h-0.7zM34.4 304.9h0.7v0.7h-0.7zM39.4 309h0.7v0.7h-0.7zM36 306.5h0.7v0.7h-0.7zM35.2 302.9h0.7v0.7h-0.7zM37.6 303.6h0.7v0.7h-0.7zM35.1 305.2h0.7v0.7h-0.7zM37.1 309.8h0.7v0.7h-0.7zM35.9 308.1h0.7v0.7h-0.7zM37.9 315.9h0.7v0.7h-0.7zM37.3 295.8h0.7v0.7h-0.7zM37.6 301.7h0.7v0.7h-0.7zM37.8 307.7h0.7v0.7h-0.7zM38.1 302.9h0.7v0.7h-0.7zM39.3 299.8h0.7v0.7h-0.7zM34.1 299.4h0.7v0.7h-0.7zM37.5 314.5h0.7v0.7h-0.7zM37.4 300.8h0.7v0.7h-0.7zM38.2 299.6h0.7v0.7h-0.7zM37.1 314.6h0.7v0.7h-0.7zM36.8 299.6h0.7v0.7h-0.7zM36.9 308.8h0.7v0.7h-0.7zM33.5 309.4h0.7v0.7h-0.7zM38.1 301.5h0.7v0.7h-0.7zM35.9 312.8h0.7v0.7h-0.7zM38.4 304.1h0.7v0.7h-0.7zM38.6 317.3h0.7v0.7h-0.7zM40.3 304.2h0.7v0.7h-0.7zM41 305.6h0.7v0.7h-0.7zM34.5 302h0.7v0.7h-0.7zM32.7 303.9h0.7v0.7h-0.7zM36.6 316h0.7v0.7h-0.7zM36.3 301.9h0.7v0.7h-0.7zM37.9 307.3h0.7v0.7h-0.7zM39.5 301.4h0.7v0.7h-0.7zM38.6 301.7h0.7v0.7h-0.7zM35.9 311.8h0.7v0.7h-0.7zM35.7 309.5h0.7v0.7h-0.7zM36 311.8h0.7v0.7h-0.7zM37.7 309.4h0.7v0.7h-0.7zM40.6 301h0.7v0.7h-0.7zM38.6 308h0.7v0.7h-0.7zM34.7 306.7h0.7v0.7h-0.7zM37.7 301.1h0.7v0.7h-0.7zM35.9 313.5h0.7v0.7h-0.7zM36.2 299.9h0.7v0.7h-0.7zM35.9 309.1h0.7v0.7h-0.7zM36.3 309h0.7v0.7h-0.7zM37.5 303.3h0.7v0.7h-0.7zM37.7 305.9h0.7v0.7h-0.7zM35.4 316.4h0.7v0.7h-0.7zM33.9 304.8h0.7v0.7h-0.7zM40.7 303.2h0.7v0.7h-0.7zM37.2 314.8h0.7v0.7h-0.7zM34.8 312h0.7v0.7h-0.7zM37.5 303.1h0.7v0.7h-0.7zM37.1 309.9h0.7v0.7h-0.7zM37.7 304.5h0.7v0.7h-0.7zM37.8 308.4h0.7v0.7h-0.7zM34.6 300.2h0.7v0.7h-0.7zM35.3 306.6h0.7v0.7h-0.7zM36.8 310.8h0.7v0.7h-0.7zM36.4 306.6h0.7v0.7h-0.7zM39.6 300.6h0.7v0.7h-0.7zM39.2 302.8h0.7v0.7h-0.7zM39.7 308.7h0.7v0.7h-0.7zM35.5 315.5h0.7v0.7h-0.7zM33.5 303h0.7v0.7h-0.7zM37.2 310.9h0.7v0.7h-0.7zM37.2 311.9h0.7v0.7h-0.7zM34.6 305.8h0.7v0.7h-0.7zM40.1 305.4h0.7v0.7h-0.7zM35.7 304h0.7v0.7h-0.7zM37 305.8h0.7v0.7h-0.7zM40.4 313.7h0.7v0.7h-0.7zM36.7 311.7h0.7v0.7h-0.7zM35.4 310.2h0.7v0.7h-0.7zM39.2 304.6h0.7v0.7h-0.7zM36.4 308.6h0.7v0.7h-0.7zM39.4 304.5h0.7v0.7h-0.7zM38.6 306.8h0.7v0.7h-0.7zM35.7 312.8h0.7v0.7h-0.7zM40.2 300.7h0.7v0.7h-0.7zM37.4 305.3h0.7v0.7h-0.7z" fill="#3f8fd6"/>
<path d="M35.2 307.4h0.7v0.7h-0.7zM36.9 304.8h0.7v0.7h-0.7zM35 309.7h0.7v0.7h-0.7zM38.7 307.2h0.7v0.7h-0.7zM39.5 306.7h0.7v0.7h-0.7zM34.5 302.6h0.7v0.7h-0.7zM36.8 305.6h0.7v0.7h-0.7zM36.5 306.9h0.7v0.7h-0.7zM38.1 312.5h0.7v0.7h-0.7zM37.7 306.2h0.7v0.7h-0.7zM36.2 301.4h0.7v0.7h-0.7zM39.2 305.8h0.7v0.7h-0.7zM36.8 302.1h0.7v0.7h-0.7zM37.6 306.7h0.7v0.7h-0.7zM35.8 308.6h0.7v0.7h-0.7zM36.7 309.1h0.7v0.7h-0.7zM35.9 305.9h0.7v0.7h-0.7zM39.3 306.1h0.7v0.7h-0.7zM37.3 303.8h0.7v0.7h-0.7zM35.1 305.9h0.7v0.7h-0.7zM36.8 302.8h0.7v0.7h-0.7zM36.2 308.2h0.7v0.7h-0.7zM37.3 313h0.7v0.7h-0.7zM35.8 302.8h0.7v0.7h-0.7zM37.6 305.7h0.7v0.7h-0.7zM37.9 304.4h0.7v0.7h-0.7zM36.3 309.2h0.7v0.7h-0.7zM39.4 305.4h0.7v0.7h-0.7zM34.8 307.9h0.7v0.7h-0.7zM38 308.8h0.7v0.7h-0.7zM34.4 305.9h0.7v0.7h-0.7zM38.9 301.7h0.7v0.7h-0.7zM36 302.6h0.7v0.7h-0.7zM38.7 310.5h0.7v0.7h-0.7zM37.8 304h0.7v0.7h-0.7zM37.7 308.6h0.7v0.7h-0.7zM39.4 302.5h0.7v0.7h-0.7zM36.8 309.1h0.7v0.7h-0.7zM36.7 303.4h0.7v0.7h-0.7zM36.4 314.6h0.7v0.7h-0.7zM38.3 311h0.7v0.7h-0.7zM37.7 306.6h0.7v0.7h-0.7zM36.5 306.2h0.7v0.7h-0.7zM36.5 306.1h0.7v0.7h-0.7zM35.1 305.4h0.7v0.7h-0.7zM37.2 303.5h0.7v0.7h-0.7zM39.2 312.6h0.7v0.7h-0.7zM35.6 302.8h0.7v0.7h-0.7zM35.9 306.3h0.7v0.7h-0.7zM34.6 307.9h0.7v0.7h-0.7zM35.4 307.7h0.7v0.7h-0.7zM36.5 309.6h0.7v0.7h-0.7zM36.1 309.5h0.7v0.7h-0.7zM36.3 302.5h0.7v0.7h-0.7zM38.4 307.1h0.7v0.7h-0.7zM39.4 307h0.7v0.7h-0.7zM36.7 313.9h0.7v0.7h-0.7zM35.7 302.7h0.7v0.7h-0.7zM37.5 302.4h0.7v0.7h-0.7zM36.8 300.8h0.7v0.7h-0.7zM39.1 309.3h0.7v0.7h-0.7zM37.6 304.7h0.7v0.7h-0.7zM34.8 311.9h0.7v0.7h-0.7zM38 305.9h0.7v0.7h-0.7zM35.2 307.1h0.7v0.7h-0.7zM36.1 305.8h0.7v0.7h-0.7zM34.8 311.7h0.7v0.7h-0.7zM37.2 314.1h0.7v0.7h-0.7zM37.6 306.7h0.7v0.7h-0.7zM38 305.5h0.7v0.7h-0.7z" fill="#58b0a0"/>
<path d="M37.9 308.9h0.7v0.7h-0.7zM38.4 307h0.7v0.7h-0.7zM36.8 310.2h0.7v0.7h-0.7zM36.8 305.5h0.7v0.7h-0.7zM38.1 306h0.7v0.7h-0.7zM37.9 309.8h0.7v0.7h-0.7zM36.1 306.9h0.7v0.7h-0.7zM37.1 306.7h0.7v0.7h-0.7zM36.7 310.3h0.7v0.7h-0.7zM37.1 307.4h0.7v0.7h-0.7zM37 305.6h0.7v0.7h-0.7zM37.4 309.3h0.7v0.7h-0.7zM35.9 308.2h0.7v0.7h-0.7zM38.6 309h0.7v0.7h-0.7zM38.5 307.3h0.7v0.7h-0.7zM36.5 305.8h0.7v0.7h-0.7zM36.9 305h0.7v0.7h-0.7zM38.4 309.7h0.7v0.7h-0.7zM37.5 308.1h0.7v0.7h-0.7zM36.5 304h0.7v0.7h-0.7zM36.9 305.9h0.7v0.7h-0.7zM36.7 304.8h0.7v0.7h-0.7zM36.8 308h0.7v0.7h-0.7zM37.1 310.4h0.7v0.7h-0.7zM36.9 310.8h0.7v0.7h-0.7zM37 307.2h0.7v0.7h-0.7zM37.2 307.2h0.7v0.7h-0.7zM36.1 302.9h0.7v0.7h-0.7zM35.3 305.6h0.7v0.7h-0.7zM36.4 306.5h0.7v0.7h-0.7zM37.1 309.4h0.7v0.7h-0.7zM35.2 305.2h0.7v0.7h-0.7zM37.5 304.9h0.7v0.7h-0.7zM37.4 305.1h0.7v0.7h-0.7zM35.6 305.1h0.7v0.7h-0.7zM36.5 303.2h0.7v0.7h-0.7zM36.8 305.2h0.7v0.7h-0.7zM38 303.8h0.7v0.7h-0.7zM37.4 305.3h0.7v0.7h-0.7zM36.3 308.4h0.7v0.7h-0.7zM37.7 304.5h0.7v0.7h-0.7zM35.6 303.3h0.7v0.7h-0.7z" fill="#8cc850"/>
<path d="M36.5 308.4h0.7v0.7h-0.7zM36.4 307.1h0.7v0.7h-0.7zM36.1 306.9h0.7v0.7h-0.7zM37.8 308h0.7v0.7h-0.7zM36.7 307.8h0.7v0.7h-0.7zM36.4 304.4h0.7v0.7h-0.7zM36.5 304.3h0.7v0.7h-0.7zM37.3 308.4h0.7v0.7h-0.7zM37 307.6h0.7v0.7h-0.7zM36.8 306.3h0.7v0.7h-0.7zM37.4 305.4h0.7v0.7h-0.7zM35.8 308.1h0.7v0.7h-0.7zM36.5 309.9h0.7v0.7h-0.7zM36.8 304.8h0.7v0.7h-0.7zM37.3 305.3h0.7v0.7h-0.7zM36.3 308.7h0.7v0.7h-0.7zM37.5 309.2h0.7v0.7h-0.7zM37.5 306.5h0.7v0.7h-0.7zM36.5 309h0.7v0.7h-0.7zM37.7 306.5h0.7v0.7h-0.7zM36.3 307.6h0.7v0.7h-0.7zM38 308.9h0.7v0.7h-0.7zM36.4 305h0.7v0.7h-0.7z" fill="#d8d040"/>
<path d="M37.1 306.6h0.7v0.7h-0.7zM36.9 308.2h0.7v0.7h-0.7zM37.2 307.9h0.7v0.7h-0.7zM36.7 306.9h0.7v0.7h-0.7zM37.4 307.5h0.7v0.7h-0.7zM37.4 307.8h0.7v0.7h-0.7zM37.1 306.7h0.7v0.7h-0.7zM36.7 306.1h0.7v0.7h-0.7zM36.8 306.6h0.7v0.7h-0.7z" fill="#f09030"/>
<rect x="15.7" y="268.7" width="62.6" height="36" fill="none" stroke="#707070" stroke-width="1.4"/>
<line x1="40.5" y1="268.5" x2="40.5" y2="331.5" stroke="#231f20" stroke-width="1"/>
<line x1="15.5" y1="304.5" x2="78.5" y2="304.5" stroke="#231f20" stroke-width="1"/>
<line x1="18.5" y1="331.5" x2="18.5" y2="333.5" stroke="#555" stroke-width="0.4"/>
<line x1="25.6" y1="331.5" x2="25.6" y2="332.7" stroke="#555" stroke-width="0.4"/>
<line x1="32.8" y1="331.5" x2="32.8" y2="333.5" stroke="#555" stroke-width="0.4"/>
<line x1="39.9" y1="331.5" x2="39.9" y2="332.7" stroke="#555" stroke-width="0.4"/>
<line x1="47" y1="331.5" x2="47" y2="333.5" stroke="#555" stroke-width="0.4"/>
<line x1="54.1" y1="331.5" x2="54.1" y2="332.7" stroke="#555" stroke-width="0.4"/>
<line x1="61.2" y1="331.5" x2="61.2" y2="333.5" stroke="#555" stroke-width="0.4"/>
<line x1="68.4" y1="331.5" x2="68.4" y2="332.7" stroke="#555" stroke-width="0.4"/>
<line x1="75.5" y1="331.5" x2="75.5" y2="333.5" stroke="#555" stroke-width="0.4"/>
<line x1="13.3" y1="271.5" x2="15.5" y2="271.5" stroke="#555" stroke-width="0.4"/>
<line x1="14" y1="281" x2="15.5" y2="281" stroke="#555" stroke-width="0.4"/>
<line x1="13.3" y1="290.5" x2="15.5" y2="290.5" stroke="#555" stroke-width="0.4"/>
<line x1="14" y1="300" x2="15.5" y2="300" stroke="#555" stroke-width="0.4"/>
<line x1="13.3" y1="309.5" x2="15.5" y2="309.5" stroke="#555" stroke-width="0.4"/>
<line x1="14" y1="319" x2="15.5" y2="319" stroke="#555" stroke-width="0.4"/>
<line x1="13.3" y1="328.5" x2="15.5" y2="328.5" stroke="#555" stroke-width="0.4"/>
<rect x="13.5" y="316.5" width="1.5" height="1.8" fill="#231f20"/>
<rect x="29.5" y="332.3" width="2.5" height="1.3" fill="#231f20"/>
<text transform="translate(19 278.5) scale(0.9 1)" font-size="7.49">29.4</text>
<text transform="translate(77 278.5) scale(0.9 1)" text-anchor="end" font-size="7.49">3.72</text>
<text transform="translate(19.5 324.5) scale(0.9 1)" font-size="7.49">61.3</text>
<text transform="translate(77 324.5) scale(0.9 1)" text-anchor="end" font-size="7.49">5.61</text>
<rect x="80.5" y="268.5" width="65" height="63" fill="none" stroke="#888" stroke-width="0.6"/>
<path d="M108.8 306.7h0.7v0.7h-0.7zM109.9 318h0.7v0.7h-0.7zM105.8 312.1h0.7v0.7h-0.7zM115.6 302.8h0.7v0.7h-0.7zM106.4 317.9h0.7v0.7h-0.7zM110.6 315.7h0.7v0.7h-0.7zM108.6 327.2h0.7v0.7h-0.7zM106.3 309.7h0.7v0.7h-0.7zM112.5 306.2h0.7v0.7h-0.7zM117.8 313.6h0.7v0.7h-0.7zM108.3 296.1h0.7v0.7h-0.7zM117.7 321.9h0.7v0.7h-0.7zM112.5 320.4h0.7v0.7h-0.7zM117.5 309.6h0.7v0.7h-0.7zM102.1 318h0.7v0.7h-0.7zM100.3 309h0.7v0.7h-0.7zM108.6 302.5h0.7v0.7h-0.7zM108.6 298.3h0.7v0.7h-0.7zM108.2 322.8h0.7v0.7h-0.7zM105.3 308.4h0.7v0.7h-0.7zM101.9 306.6h0.7v0.7h-0.7zM97.9 308.8h0.7v0.7h-0.7zM104.7 294.2h0.7v0.7h-0.7zM114.2 324.4h0.7v0.7h-0.7zM109 309.7h0.7v0.7h-0.7zM97.9 317.8h0.7v0.7h-0.7zM118.4 316.1h0.7v0.7h-0.7zM116.4 309.4h0.7v0.7h-0.7zM101.4 310.1h0.7v0.7h-0.7zM104.6 314.9h0.7v0.7h-0.7zM107.7 302.4h0.7v0.7h-0.7zM107 308.9h0.7v0.7h-0.7zM107 323.7h0.7v0.7h-0.7zM99.1 306.6h0.7v0.7h-0.7zM112 324.8h0.7v0.7h-0.7zM100.7 312.5h0.7v0.7h-0.7zM107.5 308.7h0.7v0.7h-0.7zM99.3 309.4h0.7v0.7h-0.7zM112 317.6h0.7v0.7h-0.7zM104.7 309.4h0.7v0.7h-0.7zM109.3 304.4h0.7v0.7h-0.7zM101.3 312.4h0.7v0.7h-0.7zM113.8 322.8h0.7v0.7h-0.7zM111.9 310.5h0.7v0.7h-0.7zM109.8 298.9h0.7v0.7h-0.7zM105.8 294h0.7v0.7h-0.7zM105.3 296.9h0.7v0.7h-0.7zM107.1 303h0.7v0.7h-0.7zM109.7 304.7h0.7v0.7h-0.7zM112.1 299.1h0.7v0.7h-0.7zM115.9 323.2h0.7v0.7h-0.7zM107.5 301.7h0.7v0.7h-0.7zM110.4 301.7h0.7v0.7h-0.7zM109.8 309.1h0.7v0.7h-0.7zM116.2 316.3h0.7v0.7h-0.7zM101.6 310.6h0.7v0.7h-0.7zM105 321.5h0.7v0.7h-0.7zM114.9 309.9h0.7v0.7h-0.7zM109.5 302.4h0.7v0.7h-0.7zM101.7 312.5h0.7v0.7h-0.7zM111.2 304.2h0.7v0.7h-0.7zM118 314.3h0.7v0.7h-0.7zM106.3 314.4h0.7v0.7h-0.7zM112.4 313.3h0.7v0.7h-0.7zM103.8 308.1h0.7v0.7h-0.7zM100.5 315.7h0.7v0.7h-0.7zM103.2 312h0.7v0.7h-0.7zM114.2 323.7h0.7v0.7h-0.7zM115.4 312h0.7v0.7h-0.7zM102.4 318.6h0.7v0.7h-0.7zM98.2 309.3h0.7v0.7h-0.7zM105.7 309.2h0.7v0.7h-0.7zM110.8 309.1h0.7v0.7h-0.7zM113.8 312.8h0.7v0.7h-0.7zM104 301.2h0.7v0.7h-0.7zM115.3 316.4h0.7v0.7h-0.7zM105.8 298.6h0.7v0.7h-0.7zM104.1 306.6h0.7v0.7h-0.7zM111.1 312.2h0.7v0.7h-0.7zM112.9 317.3h0.7v0.7h-0.7zM104.1 302.6h0.7v0.7h-0.7zM106 303.9h0.7v0.7h-0.7zM111.5 320.4h0.7v0.7h-0.7zM111.1 303.6h0.7v0.7h-0.7zM115 318h0.7v0.7h-0.7zM103.6 315.8h0.7v0.7h-0.7zM111.6 307h0.7v0.7h-0.7zM109 307.3h0.7v0.7h-0.7zM107.4 313.7h0.7v0.7h-0.7zM107 319.3h0.7v0.7h-0.7zM98.1 319.9h0.7v0.7h-0.7zM117.1 306.8h0.7v0.7h-0.7zM97 308.3h0.7v0.7h-0.7zM110 311.6h0.7v0.7h-0.7zM113.9 304h0.7v0.7h-0.7zM114 301.1h0.7v0.7h-0.7zM103.1 308.2h0.7v0.7h-0.7zM104.3 309.4h0.7v0.7h-0.7zM104.5 314.3h0.7v0.7h-0.7zM111.1 304.2h0.7v0.7h-0.7zM103 308h0.7v0.7h-0.7zM103.8 299.3h0.7v0.7h-0.7zM102.8 312.1h0.7v0.7h-0.7zM116.8 314.3h0.7v0.7h-0.7zM103.7 301.1h0.7v0.7h-0.7zM112.8 316.8h0.7v0.7h-0.7zM107.2 311h0.7v0.7h-0.7zM115.4 312.3h0.7v0.7h-0.7zM115.2 318.2h0.7v0.7h-0.7zM110.2 324.7h0.7v0.7h-0.7zM106.1 317.4h0.7v0.7h-0.7zM102.8 320.8h0.7v0.7h-0.7zM98.9 301h0.7v0.7h-0.7zM103.6 326.5h0.7v0.7h-0.7zM110.5 325.8h0.7v0.7h-0.7zM112.7 299.4h0.7v0.7h-0.7zM108.7 313.9h0.7v0.7h-0.7zM105.5 318.3h0.7v0.7h-0.7zM112.7 309.4h0.7v0.7h-0.7zM105.9 302.7h0.7v0.7h-0.7zM108.8 314.4h0.7v0.7h-0.7zM109.6 312.3h0.7v0.7h-0.7zM107.8 309.7h0.7v0.7h-0.7zM108.2 305h0.7v0.7h-0.7zM105.2 325.3h0.7v0.7h-0.7zM114.8 321.4h0.7v0.7h-0.7zM119.2 308.6h0.7v0.7h-0.7zM107.7 315.3h0.7v0.7h-0.7zM109.7 307.8h0.7v0.7h-0.7zM103 318.6h0.7v0.7h-0.7zM111.8 300.8h0.7v0.7h-0.7zM103.5 310.8h0.7v0.7h-0.7zM105.8 298.1h0.7v0.7h-0.7zM110.9 302.5h0.7v0.7h-0.7zM109 302.5h0.7v0.7h-0.7zM112.9 319.6h0.7v0.7h-0.7zM111.6 311.9h0.7v0.7h-0.7zM113.9 310.3h0.7v0.7h-0.7zM102.6 325.1h0.7v0.7h-0.7zM117.9 304h0.7v0.7h-0.7zM106.8 319.1h0.7v0.7h-0.7zM104.6 299.1h0.7v0.7h-0.7zM113.9 306h0.7v0.7h-0.7zM108.2 307.8h0.7v0.7h-0.7zM111.5 305.2h0.7v0.7h-0.7zM108.3 309.1h0.7v0.7h-0.7zM103.1 315.7h0.7v0.7h-0.7zM101.6 311.4h0.7v0.7h-0.7zM119.6 309.4h0.7v0.7h-0.7zM107.1 312.5h0.7v0.7h-0.7zM111.5 324.7h0.7v0.7h-0.7zM106.9 300.9h0.7v0.7h-0.7zM108.2 305h0.7v0.7h-0.7zM102.1 311.8h0.7v0.7h-0.7zM105.2 318.4h0.7v0.7h-0.7zM113.8 317.8h0.7v0.7h-0.7zM104.1 302.5h0.7v0.7h-0.7zM111 295.3h0.7v0.7h-0.7zM104.5 303.6h0.7v0.7h-0.7zM105 316h0.7v0.7h-0.7zM110.4 309.2h0.7v0.7h-0.7zM112 316.6h0.7v0.7h-0.7zM111.8 321.3h0.7v0.7h-0.7zM117 307.8h0.7v0.7h-0.7zM101.9 307.6h0.7v0.7h-0.7zM103.4 316.8h0.7v0.7h-0.7zM107.3 303.5h0.7v0.7h-0.7zM109.5 315.6h0.7v0.7h-0.7zM115.8 312.3h0.7v0.7h-0.7zM107 305.8h0.7v0.7h-0.7zM102.7 306.3h0.7v0.7h-0.7zM110.5 313.8h0.7v0.7h-0.7zM106.4 320.9h0.7v0.7h-0.7zM102.1 314.5h0.7v0.7h-0.7zM105.4 319.3h0.7v0.7h-0.7zM111 315.6h0.7v0.7h-0.7zM112 318.9h0.7v0.7h-0.7zM102.9 303.5h0.7v0.7h-0.7zM105.4 321.1h0.7v0.7h-0.7zM106.6 314h0.7v0.7h-0.7zM104 313.3h0.7v0.7h-0.7zM112.8 298.8h0.7v0.7h-0.7zM114.8 307.8h0.7v0.7h-0.7zM109.3 298.9h0.7v0.7h-0.7zM110.6 312.3h0.7v0.7h-0.7zM107 312.5h0.7v0.7h-0.7zM111.2 325.1h0.7v0.7h-0.7zM102.2 320.2h0.7v0.7h-0.7zM107.1 304.1h0.7v0.7h-0.7zM111.7 313.1h0.7v0.7h-0.7zM108.2 316.5h0.7v0.7h-0.7zM99.7 311h0.7v0.7h-0.7zM104 309.9h0.7v0.7h-0.7zM109.5 309.5h0.7v0.7h-0.7zM110.5 302.5h0.7v0.7h-0.7zM108.5 309.8h0.7v0.7h-0.7zM101.8 311.9h0.7v0.7h-0.7zM119.8 315.4h0.7v0.7h-0.7zM112.8 315.2h0.7v0.7h-0.7zM110 308.6h0.7v0.7h-0.7zM110.3 295.2h0.7v0.7h-0.7zM114.9 301.3h0.7v0.7h-0.7zM111.4 319.1h0.7v0.7h-0.7zM109.3 312h0.7v0.7h-0.7zM101.3 305.2h0.7v0.7h-0.7zM110.1 308.3h0.7v0.7h-0.7zM112.2 302.6h0.7v0.7h-0.7zM108.3 303.9h0.7v0.7h-0.7zM99.3 311.7h0.7v0.7h-0.7zM107.7 312.4h0.7v0.7h-0.7zM105.6 322h0.7v0.7h-0.7zM101.4 309.5h0.7v0.7h-0.7zM116.8 317.8h0.7v0.7h-0.7zM103.2 307.2h0.7v0.7h-0.7zM108.8 306.2h0.7v0.7h-0.7zM109.7 327h0.7v0.7h-0.7zM111.5 300.2h0.7v0.7h-0.7zM111.1 324.5h0.7v0.7h-0.7zM108.4 307.6h0.7v0.7h-0.7zM113.6 299.8h0.7v0.7h-0.7zM106.8 309.5h0.7v0.7h-0.7zM108.9 313.4h0.7v0.7h-0.7zM114.7 311.9h0.7v0.7h-0.7zM117.3 312.7h0.7v0.7h-0.7zM109.3 302.2h0.7v0.7h-0.7zM106.5 306.8h0.7v0.7h-0.7zM116 308.2h0.7v0.7h-0.7zM108.2 314.1h0.7v0.7h-0.7zM108.1 316.6h0.7v0.7h-0.7zM105.1 304.6h0.7v0.7h-0.7zM106.9 318.5h0.7v0.7h-0.7zM108.9 306.2h0.7v0.7h-0.7zM110.6 308.7h0.7v0.7h-0.7zM117.3 313.2h0.7v0.7h-0.7zM105.7 308.5h0.7v0.7h-0.7zM117.7 305.5h0.7v0.7h-0.7zM110.3 323.9h0.7v0.7h-0.7zM112.7 318.3h0.7v0.7h-0.7zM102.5 312.1h0.7v0.7h-0.7zM116.7 316.4h0.7v0.7h-0.7zM98.1 320.2h0.7v0.7h-0.7zM113.3 311.9h0.7v0.7h-0.7zM112.6 302.8h0.7v0.7h-0.7zM117.2 321.6h0.7v0.7h-0.7zM113.1 318.3h0.7v0.7h-0.7zM101.5 309.3h0.7v0.7h-0.7zM108.5 316.4h0.7v0.7h-0.7zM101.2 311.5h0.7v0.7h-0.7zM115.5 303.4h0.7v0.7h-0.7zM117.9 314.9h0.7v0.7h-0.7zM105.5 303.6h0.7v0.7h-0.7zM117.6 306.6h0.7v0.7h-0.7zM104.2 309.7h0.7v0.7h-0.7zM114.8 320.6h0.7v0.7h-0.7zM106.5 294.6h0.7v0.7h-0.7zM116.8 311.3h0.7v0.7h-0.7zM106.7 311.2h0.7v0.7h-0.7zM111.1 327.2h0.7v0.7h-0.7zM100.5 303.4h0.7v0.7h-0.7zM99.7 321.1h0.7v0.7h-0.7zM104.8 312.1h0.7v0.7h-0.7zM103.9 301.1h0.7v0.7h-0.7zM104.5 312.9h0.7v0.7h-0.7zM105.7 306.9h0.7v0.7h-0.7zM108.9 306h0.7v0.7h-0.7zM108.1 301.4h0.7v0.7h-0.7zM99.7 299.9h0.7v0.7h-0.7zM102.2 316.4h0.7v0.7h-0.7zM99.5 300.1h0.7v0.7h-0.7zM114.9 303h0.7v0.7h-0.7zM106.2 308.5h0.7v0.7h-0.7zM105.8 314.4h0.7v0.7h-0.7zM109 319.4h0.7v0.7h-0.7zM106.8 312.8h0.7v0.7h-0.7zM103.5 319.7h0.7v0.7h-0.7zM101.1 299.2h0.7v0.7h-0.7zM104.2 305.2h0.7v0.7h-0.7zM102.6 311.5h0.7v0.7h-0.7zM117.5 304.7h0.7v0.7h-0.7zM103 311.2h0.7v0.7h-0.7zM113.1 321.2h0.7v0.7h-0.7zM112.6 305h0.7v0.7h-0.7zM110 323.7h0.7v0.7h-0.7zM105.7 311.5h0.7v0.7h-0.7zM107.6 317.1h0.7v0.7h-0.7zM115 310.1h0.7v0.7h-0.7zM112.1 313.7h0.7v0.7h-0.7zM109.5 299.6h0.7v0.7h-0.7zM109.7 317.5h0.7v0.7h-0.7zM105.2 297.6h0.7v0.7h-0.7zM114.1 323.6h0.7v0.7h-0.7zM107.1 318.9h0.7v0.7h-0.7zM100.6 320.8h0.7v0.7h-0.7zM106.8 320h0.7v0.7h-0.7zM101.8 312.9h0.7v0.7h-0.7zM104.6 295.3h0.7v0.7h-0.7zM99.2 314.9h0.7v0.7h-0.7zM105.1 316.7h0.7v0.7h-0.7zM110.7 316.8h0.7v0.7h-0.7zM106.4 305.4h0.7v0.7h-0.7zM107 313.8h0.7v0.7h-0.7zM103.8 314.8h0.7v0.7h-0.7zM108.5 310.7h0.7v0.7h-0.7zM116.2 318.1h0.7v0.7h-0.7zM98.1 301.4h0.7v0.7h-0.7zM109.7 303.2h0.7v0.7h-0.7zM103.5 313h0.7v0.7h-0.7zM115.5 306.4h0.7v0.7h-0.7zM112.2 314.7h0.7v0.7h-0.7zM104.4 318h0.7v0.7h-0.7zM97.5 309h0.7v0.7h-0.7zM105.3 324h0.7v0.7h-0.7zM105.8 300.1h0.7v0.7h-0.7zM104.5 295.4h0.7v0.7h-0.7zM110.9 300h0.7v0.7h-0.7zM110.9 311.9h0.7v0.7h-0.7zM109.8 311.4h0.7v0.7h-0.7zM111 317.8h0.7v0.7h-0.7zM102 314.6h0.7v0.7h-0.7zM100 308h0.7v0.7h-0.7zM101.7 320.6h0.7v0.7h-0.7zM110.6 306.8h0.7v0.7h-0.7zM106.8 302.2h0.7v0.7h-0.7zM112.2 303.5h0.7v0.7h-0.7zM111.7 320.8h0.7v0.7h-0.7zM113.5 321.2h0.7v0.7h-0.7zM103.3 297.2h0.7v0.7h-0.7zM106.4 307.8h0.7v0.7h-0.7zM109.1 300.8h0.7v0.7h-0.7zM110.9 312.3h0.7v0.7h-0.7zM97.3 316.5h0.7v0.7h-0.7zM104.9 297.1h0.7v0.7h-0.7zM102.7 308.1h0.7v0.7h-0.7zM116.4 323.1h0.7v0.7h-0.7zM102.9 317.7h0.7v0.7h-0.7zM108.6 316.6h0.7v0.7h-0.7zM108.4 305.9h0.7v0.7h-0.7zM100.7 314.5h0.7v0.7h-0.7zM103.5 304.1h0.7v0.7h-0.7zM117.9 305.9h0.7v0.7h-0.7zM112.4 312.4h0.7v0.7h-0.7zM107 313h0.7v0.7h-0.7zM101.5 303.3h0.7v0.7h-0.7zM99.1 301.2h0.7v0.7h-0.7zM101.3 305.3h0.7v0.7h-0.7zM108.8 296.7h0.7v0.7h-0.7zM110.1 309.8h0.7v0.7h-0.7zM105.3 307.5h0.7v0.7h-0.7zM112.7 296.9h0.7v0.7h-0.7zM108.7 308.1h0.7v0.7h-0.7zM110.6 314.5h0.7v0.7h-0.7zM119.8 309h0.7v0.7h-0.7zM113.2 299.6h0.7v0.7h-0.7zM100.4 303.3h0.7v0.7h-0.7zM106.5 302.9h0.7v0.7h-0.7zM108.8 321.4h0.7v0.7h-0.7zM103.9 311.2h0.7v0.7h-0.7zM116.2 323.8h0.7v0.7h-0.7zM113.3 308.1h0.7v0.7h-0.7zM110.9 310.6h0.7v0.7h-0.7zM103.7 301.6h0.7v0.7h-0.7zM109.5 297.4h0.7v0.7h-0.7zM102.2 302.3h0.7v0.7h-0.7zM113.3 303h0.7v0.7h-0.7zM105.5 302.9h0.7v0.7h-0.7zM108.9 317h0.7v0.7h-0.7zM109.7 301.5h0.7v0.7h-0.7zM117.7 310.5h0.7v0.7h-0.7zM103.3 315.9h0.7v0.7h-0.7zM111.6 314.6h0.7v0.7h-0.7zM106.4 296.5h0.7v0.7h-0.7zM114.5 313.4h0.7v0.7h-0.7zM104.4 311.6h0.7v0.7h-0.7zM117.3 311.3h0.7v0.7h-0.7zM97.5 305.9h0.7v0.7h-0.7zM114.5 318.7h0.7v0.7h-0.7zM104.9 312.3h0.7v0.7h-0.7zM104.7 314.2h0.7v0.7h-0.7zM109.4 316.4h0.7v0.7h-0.7zM108.9 309.4h0.7v0.7h-0.7zM108.6 314.3h0.7v0.7h-0.7zM113.1 294.1h0.7v0.7h-0.7zM106.3 318h0.7v0.7h-0.7zM103.7 314.1h0.7v0.7h-0.7zM110.9 315.2h0.7v0.7h-0.7zM111.3 307h0.7v0.7h-0.7zM115.7 300.6h0.7v0.7h-0.7zM114.4 304.1h0.7v0.7h-0.7zM107.2 318.1h0.7v0.7h-0.7zM106.4 310.7h0.7v0.7h-0.7zM109.5 303.1h0.7v0.7h-0.7zM108.7 293.1h0.7v0.7h-0.7zM104.5 308h0.7v0.7h-0.7zM112.3 308.1h0.7v0.7h-0.7zM100.7 308.5h0.7v0.7h-0.7zM117.9 311h0.7v0.7h-0.7zM110.8 310.3h0.7v0.7h-0.7zM107.7 303.6h0.7v0.7h-0.7zM108.3 311.2h0.7v0.7h-0.7zM102.8 317.8h0.7v0.7h-0.7zM109.4 322.3h0.7v0.7h-0.7zM108.8 317.3h0.7v0.7h-0.7zM101.1 314.4h0.7v0.7h-0.7zM107.5 307.9h0.7v0.7h-0.7zM102 319h0.7v0.7h-0.7zM109.7 318.5h0.7v0.7h-0.7zM114.7 303.2h0.7v0.7h-0.7zM97.8 310.7h0.7v0.7h-0.7zM106.7 300.8h0.7v0.7h-0.7zM107.1 306.9h0.7v0.7h-0.7zM103.6 310.4h0.7v0.7h-0.7zM105.1 310.4h0.7v0.7h-0.7zM115.3 316.4h0.7v0.7h-0.7zM110.6 321h0.7v0.7h-0.7zM108.9 311.5h0.7v0.7h-0.7zM108.5 297.2h0.7v0.7h-0.7zM108.6 300.3h0.7v0.7h-0.7zM117.4 312.8h0.7v0.7h-0.7zM104 318h0.7v0.7h-0.7zM108.8 303.4h0.7v0.7h-0.7zM114.7 316h0.7v0.7h-0.7zM112.1 320.7h0.7v0.7h-0.7zM100.3 302.2h0.7v0.7h-0.7zM106.6 311.3h0.7v0.7h-0.7zM102.9 306h0.7v0.7h-0.7zM112.3 299.1h0.7v0.7h-0.7zM114.5 313.7h0.7v0.7h-0.7zM110.3 305.7h0.7v0.7h-0.7zM102.7 302.7h0.7v0.7h-0.7zM119.3 318h0.7v0.7h-0.7zM102.5 310.1h0.7v0.7h-0.7zM101.4 305.3h0.7v0.7h-0.7zM109.7 325.3h0.7v0.7h-0.7zM99.6 323h0.7v0.7h-0.7zM113.7 299.9h0.7v0.7h-0.7zM103.3 320.6h0.7v0.7h-0.7zM120.1 317.1h0.7v0.7h-0.7zM110 315.1h0.7v0.7h-0.7zM104.6 305.6h0.7v0.7h-0.7zM103.1 308.6h0.7v0.7h-0.7zM105.8 311.5h0.7v0.7h-0.7zM105.7 319.8h0.7v0.7h-0.7zM101.5 317.6h0.7v0.7h-0.7zM109.7 320h0.7v0.7h-0.7zM108 324.5h0.7v0.7h-0.7zM106.1 324.6h0.7v0.7h-0.7zM103 315.6h0.7v0.7h-0.7zM110.3 308.8h0.7v0.7h-0.7zM110.1 309.7h0.7v0.7h-0.7zM110.5 313.3h0.7v0.7h-0.7zM100.7 310.5h0.7v0.7h-0.7zM112.4 302.5h0.7v0.7h-0.7zM111.2 314.9h0.7v0.7h-0.7zM114 310.8h0.7v0.7h-0.7zM103.3 305.9h0.7v0.7h-0.7zM105.3 318.7h0.7v0.7h-0.7zM115.1 314.2h0.7v0.7h-0.7zM105.3 319.3h0.7v0.7h-0.7zM101.5 320.4h0.7v0.7h-0.7zM106.4 311.6h0.7v0.7h-0.7zM102.5 318.1h0.7v0.7h-0.7zM111.7 321h0.7v0.7h-0.7zM110.9 316.5h0.7v0.7h-0.7zM104.6 312.3h0.7v0.7h-0.7zM105.2 315.5h0.7v0.7h-0.7zM109.5 303.9h0.7v0.7h-0.7zM113.6 297.4h0.7v0.7h-0.7zM106.3 315.3h0.7v0.7h-0.7zM118.4 318.8h0.7v0.7h-0.7zM102.2 310.3h0.7v0.7h-0.7zM109.2 316.1h0.7v0.7h-0.7zM110 306.5h0.7v0.7h-0.7zM108.1 309.5h0.7v0.7h-0.7zM106.9 310.4h0.7v0.7h-0.7zM104.4 303.1h0.7v0.7h-0.7zM109.5 315.8h0.7v0.7h-0.7zM106.8 310.4h0.7v0.7h-0.7zM110.4 315.1h0.7v0.7h-0.7zM105.7 306.8h0.7v0.7h-0.7zM99.1 305.7h0.7v0.7h-0.7zM111.3 310.7h0.7v0.7h-0.7zM102.8 304.9h0.7v0.7h-0.7zM114.9 311.8h0.7v0.7h-0.7zM116.1 312.5h0.7v0.7h-0.7zM113.8 308.8h0.7v0.7h-0.7zM106.6 319.5h0.7v0.7h-0.7zM102.5 297.2h0.7v0.7h-0.7zM111.8 312.5h0.7v0.7h-0.7zM105.5 314h0.7v0.7h-0.7zM108.5 302.8h0.7v0.7h-0.7zM106.9 317.2h0.7v0.7h-0.7zM107.3 301.6h0.7v0.7h-0.7zM115.8 311.7h0.7v0.7h-0.7zM110.5 324.7h0.7v0.7h-0.7zM108.6 310h0.7v0.7h-0.7zM119.7 311.5h0.7v0.7h-0.7zM105 309.4h0.7v0.7h-0.7zM112.1 321.1h0.7v0.7h-0.7zM105 305.3h0.7v0.7h-0.7zM110.4 315h0.7v0.7h-0.7zM107.2 307.1h0.7v0.7h-0.7zM100 316.9h0.7v0.7h-0.7zM107.6 298.1h0.7v0.7h-0.7zM113.7 311h0.7v0.7h-0.7zM101.9 317h0.7v0.7h-0.7zM115.1 315.9h0.7v0.7h-0.7zM102.9 313.7h0.7v0.7h-0.7zM110.4 319.2h0.7v0.7h-0.7zM107.9 302.6h0.7v0.7h-0.7zM103.4 320.7h0.7v0.7h-0.7zM108.5 310.1h0.7v0.7h-0.7zM114.2 304.2h0.7v0.7h-0.7zM112.3 298.3h0.7v0.7h-0.7zM108.7 306.5h0.7v0.7h-0.7zM113.3 317.4h0.7v0.7h-0.7zM108.6 311.2h0.7v0.7h-0.7zM98.8 306.3h0.7v0.7h-0.7zM108.1 303.6h0.7v0.7h-0.7zM101.7 308.3h0.7v0.7h-0.7zM101.5 320.2h0.7v0.7h-0.7zM106.1 297.2h0.7v0.7h-0.7zM102.3 324.2h0.7v0.7h-0.7zM113.1 313.7h0.7v0.7h-0.7zM103.6 304.3h0.7v0.7h-0.7zM116.7 318h0.7v0.7h-0.7zM111.4 300.2h0.7v0.7h-0.7zM112.3 324.2h0.7v0.7h-0.7zM104.9 296h0.7v0.7h-0.7zM101.8 309.3h0.7v0.7h-0.7zM100.2 313.1h0.7v0.7h-0.7zM106.9 314.8h0.7v0.7h-0.7zM105.8 311.3h0.7v0.7h-0.7zM112.1 324.1h0.7v0.7h-0.7zM119.2 312.6h0.7v0.7h-0.7zM103.5 295h0.7v0.7h-0.7zM105.6 300.8h0.7v0.7h-0.7zM109.8 314.6h0.7v0.7h-0.7zM115.2 298.7h0.7v0.7h-0.7zM103.2 298.5h0.7v0.7h-0.7zM109 303.3h0.7v0.7h-0.7zM104.9 314.2h0.7v0.7h-0.7zM112.5 319.4h0.7v0.7h-0.7zM101.1 321.3h0.7v0.7h-0.7zM107.4 314h0.7v0.7h-0.7zM115 312.8h0.7v0.7h-0.7zM120.3 308.2h0.7v0.7h-0.7zM103.1 299.1h0.7v0.7h-0.7zM118.3 312.8h0.7v0.7h-0.7zM105.1 307.3h0.7v0.7h-0.7zM117 313h0.7v0.7h-0.7zM114.7 314.5h0.7v0.7h-0.7zM116.5 312.5h0.7v0.7h-0.7zM108.7 307.9h0.7v0.7h-0.7zM113.2 298.1h0.7v0.7h-0.7zM98.1 312.5h0.7v0.7h-0.7zM107.7 295.5h0.7v0.7h-0.7zM108 313.8h0.7v0.7h-0.7zM100.9 312.4h0.7v0.7h-0.7zM114.5 305.1h0.7v0.7h-0.7zM108.7 312.4h0.7v0.7h-0.7zM116.9 310.8h0.7v0.7h-0.7zM114.6 306.8h0.7v0.7h-0.7zM113.8 302.2h0.7v0.7h-0.7zM103.8 314.9h0.7v0.7h-0.7zM112.2 312.5h0.7v0.7h-0.7zM116.5 315.4h0.7v0.7h-0.7zM108.4 310.3h0.7v0.7h-0.7zM107 311.5h0.7v0.7h-0.7zM104.5 306.2h0.7v0.7h-0.7zM105.8 307.8h0.7v0.7h-0.7zM115.8 304.5h0.7v0.7h-0.7zM108.2 295.2h0.7v0.7h-0.7zM106.8 311.5h0.7v0.7h-0.7zM101.6 305.6h0.7v0.7h-0.7zM108.6 300.2h0.7v0.7h-0.7zM104.7 309.7h0.7v0.7h-0.7zM109.6 313.9h0.7v0.7h-0.7zM103.3 321.3h0.7v0.7h-0.7zM114.2 313.9h0.7v0.7h-0.7zM106.5 308.4h0.7v0.7h-0.7zM108.9 306.2h0.7v0.7h-0.7zM114.7 309.7h0.7v0.7h-0.7zM112.1 326.1h0.7v0.7h-0.7zM105.2 314.3h0.7v0.7h-0.7zM108.6 321.4h0.7v0.7h-0.7zM107.3 310.1h0.7v0.7h-0.7zM112.4 314.6h0.7v0.7h-0.7zM108.9 298h0.7v0.7h-0.7zM115.1 316.9h0.7v0.7h-0.7zM109.7 305.9h0.7v0.7h-0.7zM101 309.9h0.7v0.7h-0.7zM105.2 307.4h0.7v0.7h-0.7zM105.8 300.9h0.7v0.7h-0.7zM112.4 309.4h0.7v0.7h-0.7zM109.2 314.7h0.7v0.7h-0.7zM105.5 303.3h0.7v0.7h-0.7zM100.1 307.3h0.7v0.7h-0.7zM112.9 320.2h0.7v0.7h-0.7z" fill="#3a64c8"/>
<path d="M113.2 316h0.7v0.7h-0.7zM110 307.9h0.7v0.7h-0.7zM106.6 308.9h0.7v0.7h-0.7zM107.8 304.7h0.7v0.7h-0.7zM109.9 315.2h0.7v0.7h-0.7zM106.5 300.6h0.7v0.7h-0.7zM107 318.7h0.7v0.7h-0.7zM104.3 315.9h0.7v0.7h-0.7zM105.8 310.2h0.7v0.7h-0.7zM108.8 311.2h0.7v0.7h-0.7zM111.4 308.8h0.7v0.7h-0.7zM104.7 300.5h0.7v0.7h-0.7zM103.2 316.7h0.7v0.7h-0.7zM109.1 318.7h0.7v0.7h-0.7zM104.6 306.4h0.7v0.7h-0.7zM109.2 308.2h0.7v0.7h-0.7zM103.6 316.1h0.7v0.7h-0.7zM107.7 308h0.7v0.7h-0.7zM107.8 311.5h0.7v0.7h-0.7zM107.4 310.5h0.7v0.7h-0.7zM113.3 306.4h0.7v0.7h-0.7zM109.5 308.6h0.7v0.7h-0.7zM106.5 312.2h0.7v0.7h-0.7zM104.3 315h0.7v0.7h-0.7zM104.5 318.8h0.7v0.7h-0.7zM108.6 320.2h0.7v0.7h-0.7zM113.4 313.4h0.7v0.7h-0.7zM111.1 308.3h0.7v0.7h-0.7zM105.3 316.6h0.7v0.7h-0.7zM105.2 317.3h0.7v0.7h-0.7zM109.8 312.1h0.7v0.7h-0.7zM110.9 311.9h0.7v0.7h-0.7zM105.7 309.4h0.7v0.7h-0.7zM103.5 320h0.7v0.7h-0.7zM111.5 308.2h0.7v0.7h-0.7zM111 316.9h0.7v0.7h-0.7zM109.2 307.2h0.7v0.7h-0.7zM107.3 312.1h0.7v0.7h-0.7zM110 306.3h0.7v0.7h-0.7zM102.6 313.4h0.7v0.7h-0.7zM112.6 312.4h0.7v0.7h-0.7zM104.3 320.5h0.7v0.7h-0.7zM113.8 314.1h0.7v0.7h-0.7zM105.7 309.2h0.7v0.7h-0.7zM102.9 306.8h0.7v0.7h-0.7zM106.1 312.6h0.7v0.7h-0.7zM114.2 312.5h0.7v0.7h-0.7zM104.2 312.2h0.7v0.7h-0.7zM101 313h0.7v0.7h-0.7zM111.5 320.5h0.7v0.7h-0.7zM104.7 310.5h0.7v0.7h-0.7zM103 316.7h0.7v0.7h-0.7zM104.6 309h0.7v0.7h-0.7zM108.7 316.7h0.7v0.7h-0.7zM105.1 307.6h0.7v0.7h-0.7zM104.6 314.5h0.7v0.7h-0.7zM102.3 311.4h0.7v0.7h-0.7zM107.7 315.7h0.7v0.7h-0.7zM108.4 312.7h0.7v0.7h-0.7zM109.3 305.3h0.7v0.7h-0.7zM115.2 317.9h0.7v0.7h-0.7zM108.5 313.5h0.7v0.7h-0.7zM106.6 311.2h0.7v0.7h-0.7zM108.2 305.3h0.7v0.7h-0.7zM109.1 300.5h0.7v0.7h-0.7zM112.3 310.6h0.7v0.7h-0.7zM111.2 301.1h0.7v0.7h-0.7zM108.1 321.5h0.7v0.7h-0.7zM106.2 316.8h0.7v0.7h-0.7zM105.5 310.3h0.7v0.7h-0.7zM105.6 310.1h0.7v0.7h-0.7zM103.6 316.3h0.7v0.7h-0.7zM106.7 316.6h0.7v0.7h-0.7zM107 309.6h0.7v0.7h-0.7zM106 305.1h0.7v0.7h-0.7zM108.2 308.1h0.7v0.7h-0.7zM108.4 313.9h0.7v0.7h-0.7zM105.7 321.2h0.7v0.7h-0.7zM109.4 306.5h0.7v0.7h-0.7zM107.3 314.5h0.7v0.7h-0.7zM109.2 309.6h0.7v0.7h-0.7zM105.2 319.2h0.7v0.7h-0.7zM106.5 314.7h0.7v0.7h-0.7zM107.3 313.6h0.7v0.7h-0.7zM107.9 310.8h0.7v0.7h-0.7zM112.9 302.6h0.7v0.7h-0.7zM111.3 307.5h0.7v0.7h-0.7zM107.3 310.2h0.7v0.7h-0.7zM108.2 319.7h0.7v0.7h-0.7zM110.4 306.9h0.7v0.7h-0.7zM111.3 302.5h0.7v0.7h-0.7zM110.1 307.6h0.7v0.7h-0.7zM111.3 307.8h0.7v0.7h-0.7zM109.4 310.7h0.7v0.7h-0.7zM108.9 316.2h0.7v0.7h-0.7zM107.4 298.4h0.7v0.7h-0.7zM106.9 317.8h0.7v0.7h-0.7zM100.1 312.8h0.7v0.7h-0.7zM108.8 318.4h0.7v0.7h-0.7zM104.2 302.4h0.7v0.7h-0.7zM109.8 300.7h0.7v0.7h-0.7zM112.2 315.4h0.7v0.7h-0.7zM109.1 316.7h0.7v0.7h-0.7zM114.8 316.4h0.7v0.7h-0.7zM106.8 317.7h0.7v0.7h-0.7zM106.1 301.6h0.7v0.7h-0.7zM106.6 309.2h0.7v0.7h-0.7zM106.3 321.8h0.7v0.7h-0.7zM103.4 313.8h0.7v0.7h-0.7zM115.1 315.2h0.7v0.7h-0.7zM113.9 305.7h0.7v0.7h-0.7zM110.7 311.8h0.7v0.7h-0.7zM109.6 315.1h0.7v0.7h-0.7zM109.2 303.8h0.7v0.7h-0.7zM111.7 309.9h0.7v0.7h-0.7zM106.3 299.7h0.7v0.7h-0.7zM101.6 314.5h0.7v0.7h-0.7zM108.2 313.2h0.7v0.7h-0.7zM102.2 313.3h0.7v0.7h-0.7zM111.6 299.5h0.7v0.7h-0.7zM111.5 301.4h0.7v0.7h-0.7zM112.1 307.2h0.7v0.7h-0.7zM109.8 301.7h0.7v0.7h-0.7zM111.4 314.1h0.7v0.7h-0.7zM112.8 319.1h0.7v0.7h-0.7zM111.2 310h0.7v0.7h-0.7zM108.1 310h0.7v0.7h-0.7zM104.9 310.3h0.7v0.7h-0.7zM105.9 305.9h0.7v0.7h-0.7zM110.2 314.5h0.7v0.7h-0.7zM110.9 307h0.7v0.7h-0.7zM111 308h0.7v0.7h-0.7zM109.8 309.6h0.7v0.7h-0.7zM109.7 321.1h0.7v0.7h-0.7zM113.9 310.9h0.7v0.7h-0.7zM108.2 308.7h0.7v0.7h-0.7zM114.7 302h0.7v0.7h-0.7zM106.1 305.1h0.7v0.7h-0.7zM107.3 304.8h0.7v0.7h-0.7zM107.9 311.4h0.7v0.7h-0.7zM104.3 315.6h0.7v0.7h-0.7zM107.3 309.7h0.7v0.7h-0.7zM105.1 316.2h0.7v0.7h-0.7zM115.3 310.2h0.7v0.7h-0.7zM109.2 300.8h0.7v0.7h-0.7zM116.2 309.9h0.7v0.7h-0.7zM110.6 310.2h0.7v0.7h-0.7zM105.1 308.1h0.7v0.7h-0.7zM108 304.8h0.7v0.7h-0.7zM111.6 306.4h0.7v0.7h-0.7zM102.4 311.7h0.7v0.7h-0.7zM110.2 310.6h0.7v0.7h-0.7zM104.9 310.9h0.7v0.7h-0.7zM109.9 298.7h0.7v0.7h-0.7zM114.4 312.3h0.7v0.7h-0.7zM110.7 307.2h0.7v0.7h-0.7zM103.1 311.7h0.7v0.7h-0.7zM114.1 309.5h0.7v0.7h-0.7zM102.5 312.8h0.7v0.7h-0.7zM110.9 311.4h0.7v0.7h-0.7zM108.1 315.6h0.7v0.7h-0.7zM108 320h0.7v0.7h-0.7zM106.7 299.3h0.7v0.7h-0.7zM109.2 313.4h0.7v0.7h-0.7zM107.7 313.2h0.7v0.7h-0.7zM103.6 308.5h0.7v0.7h-0.7zM104 304.5h0.7v0.7h-0.7zM107.9 304.8h0.7v0.7h-0.7zM109.6 312h0.7v0.7h-0.7zM112.6 312.9h0.7v0.7h-0.7zM108.9 310.3h0.7v0.7h-0.7zM103.6 308.2h0.7v0.7h-0.7zM103.4 310.7h0.7v0.7h-0.7zM112.1 314.8h0.7v0.7h-0.7zM114.6 310.8h0.7v0.7h-0.7zM107.3 317.1h0.7v0.7h-0.7zM102.7 314h0.7v0.7h-0.7zM106.2 308.7h0.7v0.7h-0.7zM111.3 316.8h0.7v0.7h-0.7zM103.4 307.4h0.7v0.7h-0.7zM110.8 300.4h0.7v0.7h-0.7zM105.7 311.1h0.7v0.7h-0.7zM116.1 315.1h0.7v0.7h-0.7zM104.2 310.5h0.7v0.7h-0.7zM104.4 310.1h0.7v0.7h-0.7zM105.6 307.1h0.7v0.7h-0.7zM108.5 314.1h0.7v0.7h-0.7zM105.1 319h0.7v0.7h-0.7zM106.7 310.9h0.7v0.7h-0.7zM105.7 301.3h0.7v0.7h-0.7zM111.6 315.3h0.7v0.7h-0.7zM108.2 309.6h0.7v0.7h-0.7zM109.8 306.7h0.7v0.7h-0.7zM110.9 314.3h0.7v0.7h-0.7zM111 309.4h0.7v0.7h-0.7zM102.3 309.2h0.7v0.7h-0.7zM109.7 306.5h0.7v0.7h-0.7zM112.5 314.1h0.7v0.7h-0.7zM110.9 313.3h0.7v0.7h-0.7zM106.2 310h0.7v0.7h-0.7zM110 298.5h0.7v0.7h-0.7zM111.3 319.1h0.7v0.7h-0.7zM109.7 305.9h0.7v0.7h-0.7zM108 318.2h0.7v0.7h-0.7zM111.2 310.9h0.7v0.7h-0.7zM106.9 319h0.7v0.7h-0.7zM107.3 313h0.7v0.7h-0.7zM105.2 305.8h0.7v0.7h-0.7zM112.2 311.1h0.7v0.7h-0.7zM108.9 304.3h0.7v0.7h-0.7zM106.5 308.7h0.7v0.7h-0.7zM111.1 302.3h0.7v0.7h-0.7zM107.1 315.2h0.7v0.7h-0.7zM110.1 307h0.7v0.7h-0.7zM110.7 310.4h0.7v0.7h-0.7zM107.3 318.2h0.7v0.7h-0.7zM102.1 305.7h0.7v0.7h-0.7zM113.1 316.3h0.7v0.7h-0.7zM110.3 306.7h0.7v0.7h-0.7zM109.4 313.7h0.7v0.7h-0.7zM111 319h0.7v0.7h-0.7zM101.8 310.8h0.7v0.7h-0.7zM113.8 311h0.7v0.7h-0.7zM112.4 314.1h0.7v0.7h-0.7zM114.9 315.8h0.7v0.7h-0.7zM112.9 302.3h0.7v0.7h-0.7zM103 312.2h0.7v0.7h-0.7zM106.7 314.6h0.7v0.7h-0.7z" fill="#3f8fd6"/>
<path d="M108.8 307.6h0.7v0.7h-0.7zM108.9 308.1h0.7v0.7h-0.7zM106.5 311.7h0.7v0.7h-0.7zM109.8 315.2h0.7v0.7h-0.7zM109.7 311.5h0.7v0.7h-0.7zM109.1 309h0.7v0.7h-0.7zM110 302.5h0.7v0.7h-0.7zM111.9 306.5h0.7v0.7h-0.7zM110.7 311.8h0.7v0.7h-0.7zM113 310h0.7v0.7h-0.7zM105.8 305.2h0.7v0.7h-0.7zM110.9 316.8h0.7v0.7h-0.7zM105.7 310.7h0.7v0.7h-0.7zM109.1 314.9h0.7v0.7h-0.7zM105 310.5h0.7v0.7h-0.7zM105.5 309.3h0.7v0.7h-0.7zM109.8 305.5h0.7v0.7h-0.7zM109.4 314.9h0.7v0.7h-0.7zM108.8 310.5h0.7v0.7h-0.7zM106.1 309.8h0.7v0.7h-0.7zM111.6 312.3h0.7v0.7h-0.7zM113.4 306.3h0.7v0.7h-0.7zM106.7 311.2h0.7v0.7h-0.7zM109.7 308.1h0.7v0.7h-0.7zM107.4 308.3h0.7v0.7h-0.7zM110.1 308.4h0.7v0.7h-0.7zM106.4 315.3h0.7v0.7h-0.7zM110.1 307.6h0.7v0.7h-0.7zM106.2 307h0.7v0.7h-0.7zM110.4 307.1h0.7v0.7h-0.7zM109.8 307.3h0.7v0.7h-0.7zM110.4 308.1h0.7v0.7h-0.7zM113.6 308.9h0.7v0.7h-0.7zM108 312.9h0.7v0.7h-0.7zM108.9 308.7h0.7v0.7h-0.7zM106.9 309.4h0.7v0.7h-0.7zM104.3 309.7h0.7v0.7h-0.7zM111 311.4h0.7v0.7h-0.7zM108.3 317.6h0.7v0.7h-0.7zM108 307.6h0.7v0.7h-0.7zM107.8 309.4h0.7v0.7h-0.7zM112.4 312.5h0.7v0.7h-0.7zM105.9 310.7h0.7v0.7h-0.7zM108.5 315.6h0.7v0.7h-0.7zM110.4 309.1h0.7v0.7h-0.7zM111.5 313.8h0.7v0.7h-0.7zM110.2 311.8h0.7v0.7h-0.7zM109.5 311.1h0.7v0.7h-0.7zM108.5 308h0.7v0.7h-0.7zM110.5 308.9h0.7v0.7h-0.7zM106 315.6h0.7v0.7h-0.7zM108.4 308.5h0.7v0.7h-0.7zM107 310.4h0.7v0.7h-0.7zM108.6 308.2h0.7v0.7h-0.7zM112.6 308.4h0.7v0.7h-0.7zM106.3 316.7h0.7v0.7h-0.7zM110.8 312.1h0.7v0.7h-0.7zM109.3 310.4h0.7v0.7h-0.7zM107.9 307.3h0.7v0.7h-0.7zM104.4 314.4h0.7v0.7h-0.7zM106.5 304.5h0.7v0.7h-0.7zM106.5 314h0.7v0.7h-0.7zM107.3 308.2h0.7v0.7h-0.7zM110.7 310.1h0.7v0.7h-0.7zM108.5 317.5h0.7v0.7h-0.7zM109.8 311.8h0.7v0.7h-0.7zM108.9 314h0.7v0.7h-0.7zM110.1 310.9h0.7v0.7h-0.7zM106.8 308.4h0.7v0.7h-0.7zM110 311.7h0.7v0.7h-0.7zM110.4 307h0.7v0.7h-0.7zM107.2 309.1h0.7v0.7h-0.7zM105 312.6h0.7v0.7h-0.7zM108.3 307h0.7v0.7h-0.7zM111.1 310.7h0.7v0.7h-0.7zM107.7 309.7h0.7v0.7h-0.7zM107.8 313h0.7v0.7h-0.7zM110.6 311.6h0.7v0.7h-0.7zM110 312.9h0.7v0.7h-0.7zM110.8 305.1h0.7v0.7h-0.7zM104.5 306.6h0.7v0.7h-0.7zM112.2 312.2h0.7v0.7h-0.7zM112.4 313.8h0.7v0.7h-0.7zM104.6 311.2h0.7v0.7h-0.7zM110.8 315h0.7v0.7h-0.7zM106.4 316.6h0.7v0.7h-0.7zM111.3 309.7h0.7v0.7h-0.7zM106.9 309.5h0.7v0.7h-0.7zM108.9 305.5h0.7v0.7h-0.7zM110 313.7h0.7v0.7h-0.7zM110.5 312h0.7v0.7h-0.7zM107.9 314.7h0.7v0.7h-0.7zM109 311.1h0.7v0.7h-0.7zM106.1 315.7h0.7v0.7h-0.7zM107.3 316.9h0.7v0.7h-0.7zM106.7 308.6h0.7v0.7h-0.7zM108.4 312.4h0.7v0.7h-0.7zM108.6 316.3h0.7v0.7h-0.7zM111.8 307.9h0.7v0.7h-0.7zM110.3 309.2h0.7v0.7h-0.7zM105.7 307h0.7v0.7h-0.7zM108.2 313.4h0.7v0.7h-0.7zM108.4 311.2h0.7v0.7h-0.7zM105.5 306.7h0.7v0.7h-0.7zM111.1 313.2h0.7v0.7h-0.7zM111.4 314.7h0.7v0.7h-0.7zM105.2 309.4h0.7v0.7h-0.7zM108.1 315h0.7v0.7h-0.7zM107.1 302.9h0.7v0.7h-0.7zM112.3 308.1h0.7v0.7h-0.7zM107.3 308h0.7v0.7h-0.7zM105.9 313.5h0.7v0.7h-0.7zM109 311h0.7v0.7h-0.7zM109.9 307.4h0.7v0.7h-0.7z" fill="#58b0a0"/>
<path d="M106.6 314.3h0.7v0.7h-0.7zM108.1 308.7h0.7v0.7h-0.7zM106.2 309h0.7v0.7h-0.7zM107.8 314.2h0.7v0.7h-0.7zM109.4 310h0.7v0.7h-0.7zM106.6 310h0.7v0.7h-0.7zM108 309h0.7v0.7h-0.7zM112.2 308.8h0.7v0.7h-0.7zM111.5 312.9h0.7v0.7h-0.7zM108 310.6h0.7v0.7h-0.7zM110.3 308.6h0.7v0.7h-0.7zM110.7 311.3h0.7v0.7h-0.7zM106 309.9h0.7v0.7h-0.7zM105.5 309.2h0.7v0.7h-0.7zM109.9 315.2h0.7v0.7h-0.7zM107.8 312.7h0.7v0.7h-0.7zM105.8 310.1h0.7v0.7h-0.7zM108.4 312.8h0.7v0.7h-0.7zM106.1 314.3h0.7v0.7h-0.7zM110.1 311.9h0.7v0.7h-0.7zM107.8 311h0.7v0.7h-0.7zM108.8 314.4h0.7v0.7h-0.7zM106.8 309.7h0.7v0.7h-0.7zM106 311.9h0.7v0.7h-0.7zM108.9 308.4h0.7v0.7h-0.7zM111.3 313.9h0.7v0.7h-0.7zM110 312.4h0.7v0.7h-0.7zM109.5 308.8h0.7v0.7h-0.7zM107.2 308.4h0.7v0.7h-0.7zM109.4 311.4h0.7v0.7h-0.7zM108.2 308.8h0.7v0.7h-0.7zM108.1 313.4h0.7v0.7h-0.7zM106.4 310.5h0.7v0.7h-0.7zM109.5 308.8h0.7v0.7h-0.7zM107.8 311.6h0.7v0.7h-0.7zM109.5 313.9h0.7v0.7h-0.7zM107.9 312.9h0.7v0.7h-0.7zM109.7 311.2h0.7v0.7h-0.7zM107.2 308.4h0.7v0.7h-0.7zM109.8 309h0.7v0.7h-0.7zM108.9 309.9h0.7v0.7h-0.7zM106.9 312.7h0.7v0.7h-0.7zM107.8 311.3h0.7v0.7h-0.7zM106.6 310.5h0.7v0.7h-0.7zM108.9 308.9h0.7v0.7h-0.7zM106.3 309.2h0.7v0.7h-0.7zM109.5 313.1h0.7v0.7h-0.7zM108.3 310.2h0.7v0.7h-0.7zM108.5 306.9h0.7v0.7h-0.7zM109.6 307.9h0.7v0.7h-0.7zM111.2 307.8h0.7v0.7h-0.7zM106.6 315h0.7v0.7h-0.7zM107.9 313.1h0.7v0.7h-0.7zM108.9 313.4h0.7v0.7h-0.7zM110.9 311h0.7v0.7h-0.7zM108.8 311.4h0.7v0.7h-0.7zM107.7 307.3h0.7v0.7h-0.7zM107.3 310.2h0.7v0.7h-0.7zM108.8 310.1h0.7v0.7h-0.7zM110.1 312h0.7v0.7h-0.7zM108.6 313.2h0.7v0.7h-0.7zM108.7 312.3h0.7v0.7h-0.7zM107.6 312.4h0.7v0.7h-0.7zM110.9 312.8h0.7v0.7h-0.7zM110.1 312.1h0.7v0.7h-0.7zM111.3 313.7h0.7v0.7h-0.7zM108 311.7h0.7v0.7h-0.7zM108.2 308.7h0.7v0.7h-0.7zM108.1 313h0.7v0.7h-0.7z" fill="#8cc850"/>
<path d="M108.3 312.4h0.7v0.7h-0.7zM109.1 311.6h0.7v0.7h-0.7zM107.4 309.5h0.7v0.7h-0.7zM109.8 311.9h0.7v0.7h-0.7zM107.6 308.5h0.7v0.7h-0.7zM107.2 311.5h0.7v0.7h-0.7zM107.3 313.7h0.7v0.7h-0.7zM106.7 311.2h0.7v0.7h-0.7zM108 308.8h0.7v0.7h-0.7zM109.2 311.9h0.7v0.7h-0.7zM108.3 308.9h0.7v0.7h-0.7zM109.3 311.9h0.7v0.7h-0.7zM108.6 309.5h0.7v0.7h-0.7zM108.6 313h0.7v0.7h-0.7zM108.3 312h0.7v0.7h-0.7zM109.8 308.3h0.7v0.7h-0.7zM107.7 310.2h0.7v0.7h-0.7zM107.9 311.5h0.7v0.7h-0.7zM107.8 310h0.7v0.7h-0.7zM109.4 309.5h0.7v0.7h-0.7zM107.7 308.1h0.7v0.7h-0.7zM108.2 310.6h0.7v0.7h-0.7zM107.3 311.9h0.7v0.7h-0.7zM108.7 308.5h0.7v0.7h-0.7zM108.6 311.6h0.7v0.7h-0.7zM107.6 313.2h0.7v0.7h-0.7zM109.8 308.9h0.7v0.7h-0.7zM106.3 310.7h0.7v0.7h-0.7zM110.1 309.5h0.7v0.7h-0.7zM107.9 307.5h0.7v0.7h-0.7zM109.6 310.9h0.7v0.7h-0.7zM108.6 308.6h0.7v0.7h-0.7zM107.6 310.5h0.7v0.7h-0.7zM109.2 307.9h0.7v0.7h-0.7zM109.4 311h0.7v0.7h-0.7zM107.4 311.4h0.7v0.7h-0.7zM108.9 307.6h0.7v0.7h-0.7z" fill="#d8d040"/>
<path d="M108.6 310.1h0.7v0.7h-0.7zM108.7 311.2h0.7v0.7h-0.7zM108.6 310.1h0.7v0.7h-0.7zM108.7 310.3h0.7v0.7h-0.7zM108.7 311.2h0.7v0.7h-0.7zM109 310.3h0.7v0.7h-0.7zM108.6 311h0.7v0.7h-0.7zM108.4 310.3h0.7v0.7h-0.7zM108.1 309.8h0.7v0.7h-0.7zM108.3 308.7h0.7v0.7h-0.7zM109.5 311.1h0.7v0.7h-0.7zM109.1 310.5h0.7v0.7h-0.7zM108.8 310.9h0.7v0.7h-0.7zM108 309.2h0.7v0.7h-0.7zM108.8 310.5h0.7v0.7h-0.7z" fill="#f09030"/>
<line x1="103.5" y1="268.5" x2="103.5" y2="331.5" stroke="#231f20" stroke-width="1"/>
<line x1="80.5" y1="304.5" x2="145.5" y2="304.5" stroke="#231f20" stroke-width="1"/>
<line x1="83.5" y1="331.5" x2="83.5" y2="333.5" stroke="#555" stroke-width="0.4"/>
<line x1="90.9" y1="331.5" x2="90.9" y2="332.7" stroke="#555" stroke-width="0.4"/>
<line x1="98.2" y1="331.5" x2="98.2" y2="333.5" stroke="#555" stroke-width="0.4"/>
<line x1="105.6" y1="331.5" x2="105.6" y2="332.7" stroke="#555" stroke-width="0.4"/>
<line x1="113" y1="331.5" x2="113" y2="333.5" stroke="#555" stroke-width="0.4"/>
<line x1="120.4" y1="331.5" x2="120.4" y2="332.7" stroke="#555" stroke-width="0.4"/>
<line x1="127.8" y1="331.5" x2="127.8" y2="333.5" stroke="#555" stroke-width="0.4"/>
<line x1="135.1" y1="331.5" x2="135.1" y2="332.7" stroke="#555" stroke-width="0.4"/>
<line x1="142.5" y1="331.5" x2="142.5" y2="333.5" stroke="#555" stroke-width="0.4"/>
<line x1="78.3" y1="271.5" x2="80.5" y2="271.5" stroke="#555" stroke-width="0.4"/>
<line x1="79" y1="281" x2="80.5" y2="281" stroke="#555" stroke-width="0.4"/>
<line x1="78.3" y1="290.5" x2="80.5" y2="290.5" stroke="#555" stroke-width="0.4"/>
<line x1="79" y1="300" x2="80.5" y2="300" stroke="#555" stroke-width="0.4"/>
<line x1="78.3" y1="309.5" x2="80.5" y2="309.5" stroke="#555" stroke-width="0.4"/>
<line x1="79" y1="319" x2="80.5" y2="319" stroke="#555" stroke-width="0.4"/>
<line x1="78.3" y1="328.5" x2="80.5" y2="328.5" stroke="#555" stroke-width="0.4"/>
<rect x="78.5" y="316.5" width="1.5" height="1.8" fill="#231f20"/>
<rect x="94.5" y="332.3" width="2.5" height="1.3" fill="#231f20"/>
<text transform="translate(85.5 278.5) scale(0.9 1)" font-size="7.49">3.3</text>
<text transform="translate(141 278.5) scale(0.9 1)" text-anchor="end" font-size="7.49">13.6</text>
<text transform="translate(85.5 324.5) scale(0.9 1)" font-size="7.49">4.81</text>
<text transform="translate(141.5 324.5) scale(0.9 1)" text-anchor="end" font-size="7.49">78.3</text>
<text transform="translate(7 300) rotate(-90) translate(0 2.5) scale(0.9 1)" text-anchor="middle" font-size="7.49">c-MAF–PE</text>
<text transform="translate(46.2 341.7) scale(0.9 1)" text-anchor="middle" font-size="7.49">TCF1–BV421</text>
<text transform="translate(115 341.7) scale(0.9 1)" text-anchor="middle" font-size="7.49">TCF1–BV421</text>
<line x1="175.5" y1="272.3" x2="175.5" y2="334.3" stroke="#231f20" stroke-width="0.8"/>
<line x1="175.5" y1="334.3" x2="238.8" y2="334.3" stroke="#231f20" stroke-width="0.8"/>
<line x1="173.5" y1="334.3" x2="175.5" y2="334.3" stroke="#231f20" stroke-width="0.7"/>
<text transform="translate(172.5 336.8) scale(0.9 1)" text-anchor="end" font-size="7.49">0</text>
<line x1="173.5" y1="322.1" x2="175.5" y2="322.1" stroke="#231f20" stroke-width="0.7"/>
<text transform="translate(172.5 324.6) scale(0.9 1)" text-anchor="end" font-size="7.49">10</text>
<line x1="173.5" y1="309.9" x2="175.5" y2="309.9" stroke="#231f20" stroke-width="0.7"/>
<text transform="translate(172.5 312.4) scale(0.9 1)" text-anchor="end" font-size="7.49">20</text>
<line x1="173.5" y1="297.7" x2="175.5" y2="297.7" stroke="#231f20" stroke-width="0.7"/>
<text transform="translate(172.5 300.2) scale(0.9 1)" text-anchor="end" font-size="7.49">30</text>
<line x1="173.5" y1="285.5" x2="175.5" y2="285.5" stroke="#231f20" stroke-width="0.7"/>
<text transform="translate(172.5 288) scale(0.9 1)" text-anchor="end" font-size="7.49">40</text>
<line x1="173.5" y1="273.3" x2="175.5" y2="273.3" stroke="#231f20" stroke-width="0.7"/>
<text transform="translate(172.5 275.8) scale(0.9 1)" text-anchor="end" font-size="7.49">50</text>
<line x1="182.1" y1="319.7" x2="191.1" y2="319.7" stroke="#231f20" stroke-width="0.8"/>
<line x1="186.6" y1="323.3" x2="186.6" y2="316.6" stroke="#231f20" stroke-width="0.8"/>
<line x1="184.1" y1="323.3" x2="189.1" y2="323.3" stroke="#231f20" stroke-width="0.8"/>
<line x1="184.1" y1="316.6" x2="189.1" y2="316.6" stroke="#231f20" stroke-width="0.8"/>
<circle cx="183.3" cy="317.2" r="1.4" fill="#231f20"/>
<circle cx="189.9" cy="317.2" r="1.4" fill="#231f20"/>
<circle cx="184.9" cy="319.7" r="1.4" fill="#231f20"/>
<circle cx="188.8" cy="320.9" r="1.4" fill="#231f20"/>
<circle cx="183.3" cy="318.4" r="1.4" fill="#231f20"/>
<circle cx="186.6" cy="328.2" r="1.4" fill="#231f20"/>
<line x1="186.6" y1="334.3" x2="186.6" y2="336.1" stroke="#231f20" stroke-width="0.6"/>
<line x1="196.4" y1="298.9" x2="205.4" y2="298.9" stroke="#231f20" stroke-width="0.8"/>
<line x1="200.9" y1="306.2" x2="200.9" y2="291.6" stroke="#231f20" stroke-width="0.8"/>
<line x1="198.4" y1="306.2" x2="203.4" y2="306.2" stroke="#231f20" stroke-width="0.8"/>
<line x1="198.4" y1="291.6" x2="203.4" y2="291.6" stroke="#231f20" stroke-width="0.8"/>
<circle cx="200.9" cy="287.9" r="1.4" fill="#231f20"/>
<circle cx="198.2" cy="306.2" r="1.4" fill="#231f20"/>
<circle cx="203.7" cy="305" r="1.4" fill="#231f20"/>
<circle cx="200.9" cy="297.7" r="1.4" fill="#231f20"/>
<circle cx="199.8" cy="301.4" r="1.4" fill="#231f20"/>
<circle cx="203.1" cy="303.8" r="1.4" fill="#231f20"/>
<line x1="200.9" y1="334.3" x2="200.9" y2="336.1" stroke="#231f20" stroke-width="0.6"/>
<line x1="209.8" y1="316" x2="218.8" y2="316" stroke="#231f20" stroke-width="0.8"/>
<line x1="214.3" y1="319.1" x2="214.3" y2="313.6" stroke="#231f20" stroke-width="0.8"/>
<line x1="211.8" y1="319.1" x2="216.8" y2="319.1" stroke="#231f20" stroke-width="0.8"/>
<line x1="211.8" y1="313.6" x2="216.8" y2="313.6" stroke="#231f20" stroke-width="0.8"/>
<circle cx="211" cy="314.8" r="1.4" fill="#231f20"/>
<circle cx="217.6" cy="314.8" r="1.4" fill="#231f20"/>
<circle cx="214.3" cy="316" r="1.4" fill="#231f20"/>
<circle cx="212.1" cy="318.4" r="1.4" fill="#231f20"/>
<circle cx="216.5" cy="317.2" r="1.4" fill="#231f20"/>
<circle cx="214.3" cy="320.9" r="1.4" fill="#231f20"/>
<line x1="214.3" y1="334.3" x2="214.3" y2="336.1" stroke="#231f20" stroke-width="0.6"/>
<line x1="224.7" y1="291.6" x2="233.7" y2="291.6" stroke="#231f20" stroke-width="0.8"/>
<line x1="229.2" y1="297.7" x2="229.2" y2="284.9" stroke="#231f20" stroke-width="0.8"/>
<line x1="226.7" y1="297.7" x2="231.7" y2="297.7" stroke="#231f20" stroke-width="0.8"/>
<line x1="226.7" y1="284.9" x2="231.7" y2="284.9" stroke="#231f20" stroke-width="0.8"/>
<circle cx="229.2" cy="279.4" r="1.4" fill="#231f20"/>
<circle cx="225.9" cy="290.4" r="1.4" fill="#231f20"/>
<circle cx="232.5" cy="294" r="1.4" fill="#231f20"/>
<circle cx="229.2" cy="297.7" r="1.4" fill="#231f20"/>
<circle cx="227" cy="291.6" r="1.4" fill="#231f20"/>
<circle cx="232.5" cy="289.2" r="1.4" fill="#231f20"/>
<line x1="229.2" y1="334.3" x2="229.2" y2="336.1" stroke="#231f20" stroke-width="0.6"/>
<line x1="186.4" y1="248.8" x2="229" y2="248.8" stroke="#555" stroke-width="0.8"/>
<text transform="translate(207.7 250.1) scale(0.95 1)" text-anchor="middle" font-size="9">****</text>
<line x1="201" y1="257.2" x2="229" y2="257.2" stroke="#555" stroke-width="0.8"/>
<text transform="translate(215 255.7) scale(0.9 1)" text-anchor="middle" font-size="7.49">NS</text>
<line x1="186.4" y1="263.3" x2="215" y2="263.3" stroke="#555" stroke-width="0.8"/>
<text transform="translate(193.7 262) scale(0.9 1)" text-anchor="middle" font-size="7.49">NS</text>
<line x1="201" y1="269.5" x2="215" y2="269.5" stroke="#555" stroke-width="0.8"/>
<text transform="translate(208 270.8) scale(0.95 1)" text-anchor="middle" font-size="9">***</text>
<line x1="186.4" y1="275.4" x2="200.8" y2="275.4" stroke="#555" stroke-width="0.8"/>
<text transform="translate(193.6 276.7) scale(0.95 1)" text-anchor="middle" font-size="9">****</text>
<line x1="215" y1="275.4" x2="229" y2="275.4" stroke="#555" stroke-width="0.8"/>
<text transform="translate(222 276.7) scale(0.95 1)" text-anchor="middle" font-size="9">****</text>
<text transform="translate(156 300) rotate(-90) translate(0 2.5) scale(0.9 1)" text-anchor="middle" font-size="7.49">c-MAF<tspan dy="-2.5" font-size="4.5">+</tspan><tspan dy="2.5"> of T</tspan><tspan dy="2" font-size="4.5">reg</tspan><tspan dy="-2"> cells (%)</tspan></text>
<text transform="translate(186.3 341) rotate(-45) translate(0 2.5) scale(0.9 1)" text-anchor="end" font-size="7.49">SPF MLN</text>
<text transform="translate(200.6 341) rotate(-45) translate(0 2.5) scale(0.9 1)" text-anchor="end" font-size="7.49">SPF tissue</text>
<text transform="translate(214 341) rotate(-45) translate(0 2.5) scale(0.9 1)" text-anchor="end" font-size="7.49"><tspan font-style="italic">Hh</tspan> MLN</text>
<text transform="translate(228.9 341) rotate(-45) translate(0 2.5) scale(0.9 1)" text-anchor="end" font-size="7.49"><tspan font-style="italic">Hh</tspan> tissue</text>
<line x1="265.6" y1="271.8" x2="265.6" y2="334.3" stroke="#231f20" stroke-width="0.8"/>
<line x1="265.6" y1="334.3" x2="327.4" y2="334.3" stroke="#231f20" stroke-width="0.8"/>
<line x1="263.6" y1="334.3" x2="265.6" y2="334.3" stroke="#231f20" stroke-width="0.7"/>
<text transform="translate(262.6 336.8) scale(0.9 1)" text-anchor="end" font-size="7.49">0</text>
<line x1="263.6" y1="313.8" x2="265.6" y2="313.8" stroke="#231f20" stroke-width="0.7"/>
<text transform="translate(262.6 316.3) scale(0.9 1)" text-anchor="end" font-size="7.49">50</text>
<line x1="263.6" y1="293.3" x2="265.6" y2="293.3" stroke="#231f20" stroke-width="0.7"/>
<text transform="translate(262.6 295.8) scale(0.9 1)" text-anchor="end" font-size="7.49">100</text>
<line x1="263.6" y1="272.8" x2="265.6" y2="272.8" stroke="#231f20" stroke-width="0.7"/>
<text transform="translate(262.6 275.3) scale(0.9 1)" text-anchor="end" font-size="7.49">150</text>
<line x1="271.3" y1="294.1" x2="280.3" y2="294.1" stroke="#231f20" stroke-width="0.8"/>
<line x1="275.8" y1="294.5" x2="275.8" y2="293.7" stroke="#231f20" stroke-width="0.8"/>
<line x1="273.3" y1="294.5" x2="278.3" y2="294.5" stroke="#231f20" stroke-width="0.8"/>
<line x1="273.3" y1="293.7" x2="278.3" y2="293.7" stroke="#231f20" stroke-width="0.8"/>
<circle cx="272.5" cy="294.1" r="1.4" fill="#231f20"/>
<circle cx="274.2" cy="293.7" r="1.4" fill="#231f20"/>
<circle cx="275.8" cy="294.5" r="1.4" fill="#231f20"/>
<circle cx="277.4" cy="294.1" r="1.4" fill="#231f20"/>
<circle cx="279.1" cy="294.5" r="1.4" fill="#231f20"/>
<circle cx="278" cy="293.7" r="1.4" fill="#231f20"/>
<line x1="275.8" y1="334.3" x2="275.8" y2="336.1" stroke="#231f20" stroke-width="0.6"/>
<line x1="286" y1="319.9" x2="295" y2="319.9" stroke="#231f20" stroke-width="0.8"/>
<line x1="290.5" y1="324.1" x2="290.5" y2="316.3" stroke="#231f20" stroke-width="0.8"/>
<line x1="288" y1="324.1" x2="293" y2="324.1" stroke="#231f20" stroke-width="0.8"/>
<line x1="288" y1="316.3" x2="293" y2="316.3" stroke="#231f20" stroke-width="0.8"/>
<circle cx="287.8" cy="316.7" r="1.4" fill="#231f20"/>
<circle cx="293.2" cy="317.1" r="1.4" fill="#231f20"/>
<circle cx="288.3" cy="319.1" r="1.4" fill="#231f20"/>
<circle cx="293.8" cy="320.8" r="1.4" fill="#231f20"/>
<circle cx="290.5" cy="322.8" r="1.4" fill="#231f20"/>
<circle cx="289.4" cy="326.1" r="1.4" fill="#231f20"/>
<line x1="290.5" y1="334.3" x2="290.5" y2="336.1" stroke="#231f20" stroke-width="0.6"/>
<line x1="299.5" y1="295.4" x2="308.5" y2="295.4" stroke="#231f20" stroke-width="0.8"/>
<line x1="304" y1="295.8" x2="304" y2="294.9" stroke="#231f20" stroke-width="0.8"/>
<line x1="301.5" y1="295.8" x2="306.5" y2="295.8" stroke="#231f20" stroke-width="0.8"/>
<line x1="301.5" y1="294.9" x2="306.5" y2="294.9" stroke="#231f20" stroke-width="0.8"/>
<circle cx="300.7" cy="295.4" r="1.4" fill="#231f20"/>
<circle cx="302.4" cy="294.9" r="1.4" fill="#231f20"/>
<circle cx="304" cy="295.8" r="1.4" fill="#231f20"/>
<circle cx="305.6" cy="295.4" r="1.4" fill="#231f20"/>
<circle cx="307.3" cy="295.8" r="1.4" fill="#231f20"/>
<circle cx="306.2" cy="294.9" r="1.4" fill="#231f20"/>
<line x1="304" y1="334.3" x2="304" y2="336.1" stroke="#231f20" stroke-width="0.6"/>
<line x1="313.3" y1="328.2" x2="322.3" y2="328.2" stroke="#231f20" stroke-width="0.8"/>
<line x1="317.8" y1="331" x2="317.8" y2="325.3" stroke="#231f20" stroke-width="0.8"/>
<line x1="315.3" y1="331" x2="320.3" y2="331" stroke="#231f20" stroke-width="0.8"/>
<line x1="315.3" y1="325.3" x2="320.3" y2="325.3" stroke="#231f20" stroke-width="0.8"/>
<circle cx="314.5" cy="324.9" r="1.4" fill="#231f20"/>
<circle cx="321.1" cy="325.7" r="1.4" fill="#231f20"/>
<circle cx="317.8" cy="328.2" r="1.4" fill="#231f20"/>
<circle cx="314.5" cy="329.4" r="1.4" fill="#231f20"/>
<circle cx="321.1" cy="329.8" r="1.4" fill="#231f20"/>
<circle cx="316.7" cy="331.8" r="1.4" fill="#231f20"/>
<line x1="317.8" y1="334.3" x2="317.8" y2="336.1" stroke="#231f20" stroke-width="0.6"/>
<line x1="275.4" y1="258.1" x2="318.4" y2="258.1" stroke="#555" stroke-width="0.8"/>
<text transform="translate(296.9 259.4) scale(0.95 1)" text-anchor="middle" font-size="9">****</text>
<line x1="290" y1="264.3" x2="318.4" y2="264.3" stroke="#555" stroke-width="0.8"/>
<text transform="translate(304.2 265.6) scale(0.95 1)" text-anchor="middle" font-size="9">***</text>
<line x1="275.4" y1="273.6" x2="304" y2="273.6" stroke="#555" stroke-width="0.8"/>
<text transform="translate(289.7 272) scale(0.9 1)" text-anchor="middle" font-size="7.49">NS</text>
<line x1="290" y1="279.6" x2="304" y2="279.6" stroke="#555" stroke-width="0.8"/>
<text transform="translate(297 280.9) scale(0.95 1)" text-anchor="middle" font-size="9">****</text>
<line x1="275.4" y1="285" x2="290" y2="285" stroke="#555" stroke-width="0.8"/>
<text transform="translate(282.7 286.3) scale(0.95 1)" text-anchor="middle" font-size="9">****</text>
<line x1="304" y1="285" x2="318.4" y2="285" stroke="#555" stroke-width="0.8"/>
<text transform="translate(311.2 286.3) scale(0.95 1)" text-anchor="middle" font-size="9">****</text>
<text transform="translate(245 300) rotate(-90) translate(0 2.5) scale(0.9 1)" text-anchor="middle" font-size="7.49">TCF-1<tspan dy="-2.5" font-size="4.5">+</tspan><tspan dy="2.5"> of T</tspan><tspan dy="2" font-size="4.5">reg</tspan><tspan dy="-2"> cells (%)</tspan></text>
<text transform="translate(275.5 341) rotate(-45) translate(0 2.5) scale(0.9 1)" text-anchor="end" font-size="7.49">SPF MLN</text>
<text transform="translate(290.2 341) rotate(-45) translate(0 2.5) scale(0.9 1)" text-anchor="end" font-size="7.49">SPF tissue</text>
<text transform="translate(303.7 341) rotate(-45) translate(0 2.5) scale(0.9 1)" text-anchor="end" font-size="7.49"><tspan font-style="italic">Hh</tspan> MLN</text>
<text transform="translate(317.5 341) rotate(-45) translate(0 2.5) scale(0.9 1)" text-anchor="end" font-size="7.49"><tspan font-style="italic">Hh</tspan> tissue</text>
<text transform="translate(-0.8 11.2) scale(1 1)" font-weight="bold" font-size="11.5">a</text>
<path d="M23.8 15.9 C21 16.6 19.5 18.5 21.5 19.2 C24 19.9 28 18.6 31 18.3 " fill="none" stroke="#c98274" stroke-width="0.6"/>
<path d="M23 15.5 C22.5 12.5 25 10 28.5 9.8 C30.5 9.7 31.5 9.5 32.3 8.8 C33 8 34.5 8.3 35 9 L37.8 10.8 C36.5 12 35.5 12.5 34.5 13.2 C33 14.5 30 15.3 27 15.8 C25 16 23.8 16 23 15.5 Z" fill="#464141"/>
<circle cx="32.4" cy="10.2" r="0.8" fill="#b07a74"/>
<line x1="34.5" y1="14.4" x2="36.2" y2="15.2" stroke="#c98274" stroke-width="0.5"/>
<line x1="26" y1="16" x2="28" y2="16.8" stroke="#c98274" stroke-width="0.5"/>
<path d="M23.8 25.3 C21 26 19.5 27.9 21.5 28.6 C24 29.3 28 28 31 27.7 " fill="none" stroke="#c98274" stroke-width="0.6"/>
<path d="M23 24.9 C22.5 21.9 25 19.4 28.5 19.2 C30.5 19.1 31.5 18.9 32.3 18.2 C33 17.4 34.5 17.7 35 18.4 L37.8 20.2 C36.5 21.4 35.5 21.9 34.5 22.6 C33 23.9 30 24.7 27 25.2 C25 25.4 23.8 25.4 23 24.9 Z" fill="#464141"/>
<circle cx="32.4" cy="19.6" r="0.8" fill="#b07a74"/>
<line x1="34.5" y1="23.8" x2="36.2" y2="24.6" stroke="#c98274" stroke-width="0.5"/>
<line x1="26" y1="25.4" x2="28" y2="26.2" stroke="#c98274" stroke-width="0.5"/>
<path d="M23.8 34.7 C21 35.4 19.5 37.3 21.5 38 C24 38.7 28 37.4 31 37.1 " fill="none" stroke="#c98274" stroke-width="0.6"/>
<path d="M23 34.3 C22.5 31.3 25 28.8 28.5 28.6 C30.5 28.5 31.5 28.3 32.3 27.6 C33 26.8 34.5 27.1 35 27.8 L37.8 29.6 C36.5 30.8 35.5 31.3 34.5 32 C33 33.3 30 34.1 27 34.6 C25 34.8 23.8 34.8 23 34.3 Z" fill="#464141"/>
<circle cx="32.4" cy="29" r="0.8" fill="#b07a74"/>
<line x1="34.5" y1="33.2" x2="36.2" y2="34" stroke="#c98274" stroke-width="0.5"/>
<line x1="26" y1="34.8" x2="28" y2="35.6" stroke="#c98274" stroke-width="0.5"/>
<path d="M49.3 15.9 C46.5 16.6 45 18.5 47 19.2 C49.5 19.9 53.5 18.6 56.5 18.3 " fill="none" stroke="#c98274" stroke-width="0.6"/>
<path d="M48.5 15.5 C48 12.5 50.5 10 54 9.8 C56 9.7 57 9.5 57.8 8.8 C58.5 8 60 8.3 60.5 9 L63.3 10.8 C62 12 61 12.5 60 13.2 C58.5 14.5 55.5 15.3 52.5 15.8 C50.5 16 49.3 16 48.5 15.5 Z" fill="#464141"/>
<circle cx="57.9" cy="10.2" r="0.8" fill="#b07a74"/>
<line x1="60" y1="14.4" x2="61.7" y2="15.2" stroke="#c98274" stroke-width="0.5"/>
<line x1="51.5" y1="16" x2="53.5" y2="16.8" stroke="#c98274" stroke-width="0.5"/>
<path d="M49.3 25.3 C46.5 26 45 27.9 47 28.6 C49.5 29.3 53.5 28 56.5 27.7 " fill="none" stroke="#c98274" stroke-width="0.6"/>
<path d="M48.5 24.9 C48 21.9 50.5 19.4 54 19.2 C56 19.1 57 18.9 57.8 18.2 C58.5 17.4 60 17.7 60.5 18.4 L63.3 20.2 C62 21.4 61 21.9 60 22.6 C58.5 23.9 55.5 24.7 52.5 25.2 C50.5 25.4 49.3 25.4 48.5 24.9 Z" fill="#464141"/>
<circle cx="57.9" cy="19.6" r="0.8" fill="#b07a74"/>
<line x1="60" y1="23.8" x2="61.7" y2="24.6" stroke="#c98274" stroke-width="0.5"/>
<line x1="51.5" y1="25.4" x2="53.5" y2="26.2" stroke="#c98274" stroke-width="0.5"/>
<path d="M49.3 34.7 C46.5 35.4 45 37.3 47 38 C49.5 38.7 53.5 37.4 56.5 37.1 " fill="none" stroke="#c98274" stroke-width="0.6"/>
<path d="M48.5 34.3 C48 31.3 50.5 28.8 54 28.6 C56 28.5 57 28.3 57.8 27.6 C58.5 26.8 60 27.1 60.5 27.8 L63.3 29.6 C62 30.8 61 31.3 60 32 C58.5 33.3 55.5 34.1 52.5 34.6 C50.5 34.8 49.3 34.8 48.5 34.3 Z" fill="#464141"/>
<circle cx="57.9" cy="29" r="0.8" fill="#b07a74"/>
<line x1="60" y1="33.2" x2="61.7" y2="34" stroke="#c98274" stroke-width="0.5"/>
<line x1="51.5" y1="34.8" x2="53.5" y2="35.6" stroke="#c98274" stroke-width="0.5"/>
<text transform="translate(28 46.5) scale(0.9 1)" text-anchor="middle" font-size="7.49">T cell</text>
<text transform="translate(28 54.5) scale(0.9 1)" text-anchor="middle" font-size="7.49">DsRed</text>
<text transform="translate(42.5 46.5) scale(0.9 1)" font-size="7.49">Ub<tspan dy="-2.5" font-size="4.8">PA-GFP</tspan></text>
<line x1="92.3" y1="43.4" x2="231" y2="43.4" stroke="#231f20" stroke-width="1"/>
<path d="M230 41.3L234.5 43.4L230 45.5Z" fill="#231f20"/>
<text transform="translate(90 50.3) scale(0.9 1)" text-anchor="middle" font-size="7.49">Day 0 1</text>
<text transform="translate(137 50.3) scale(0.9 1)" text-anchor="middle" font-size="7.49">7</text>
<text transform="translate(219.5 50.3) scale(0.9 1)" text-anchor="middle" font-size="7.49">21</text>
<text transform="translate(95.5 20) scale(0.9 1)" text-anchor="middle" font-style="italic" font-size="7.49">Hh</text>
<text transform="translate(141 11.5) scale(0.9 1)" text-anchor="middle" font-size="7.49">Naive TCR<tspan dy="-2.5" font-size="4.8">Hh</tspan></text>
<text transform="translate(142 19.5) scale(0.9 1)" text-anchor="middle" font-size="7.49">(Ub<tspan dy="-2.5" font-size="4.8">PA-GFP</tspan><tspan dy="2.5">)</tspan></text>
<path d="M90 24C92 25 93.5 26.5 94 29" fill="none" stroke="#78bd66" stroke-width="1.2" stroke-linecap="round"/>
<path d="M99.3 26.1C101.5 26.5 103.5 27 104 29C104.5 31 103.5 34 102.2 35.5C101 36.5 99 36.8 97.5 36.6" fill="none" stroke="#78bd66" stroke-width="1.2" stroke-linecap="round"/>
<path d="M86.4 33.7C88.5 33 90 32.6 91.7 32.5C93 32.4 94 32.3 95.2 32C96.8 31.5 98 31 99.3 30.2" fill="none" stroke="#78bd66" stroke-width="1.2" stroke-linecap="round"/>
<path d="M94 34.3C93.6 36 93.4 37.5 93.4 39" fill="none" stroke="#78bd66" stroke-width="1.2" stroke-linecap="round"/>
<circle cx="89.2" cy="23.2" r="0.9" fill="none" stroke="#c8d4c0" stroke-width="0.5"/>
<circle cx="85.6" cy="34" r="0.9" fill="none" stroke="#c8d4c0" stroke-width="0.5"/>
<circle cx="93.4" cy="40" r="0.9" fill="none" stroke="#c8d4c0" stroke-width="0.5"/>
<circle cx="98.5" cy="25.8" r="0.9" fill="none" stroke="#c8d4c0" stroke-width="0.5"/>
<circle cx="105" cy="32" r="0.9" fill="none" stroke="#c8d4c0" stroke-width="0.5"/>
<circle cx="96.6" cy="37" r="0.9" fill="none" stroke="#c8d4c0" stroke-width="0.5"/>
<circle cx="138.1" cy="29.6" r="3.6" fill="#b1262f" stroke="#f4d0d0" stroke-width="0.35"/>
<circle cx="146" cy="33.1" r="3.6" fill="#b1262f" stroke="#f4d0d0" stroke-width="0.35"/>
<circle cx="134.7" cy="36.4" r="3.6" fill="#b1262f" stroke="#f4d0d0" stroke-width="0.35"/>
<circle cx="141.3" cy="35.8" r="3.6" fill="#b1262f" stroke="#f4d0d0" stroke-width="0.35"/>
<path d="M197 34.5C190.5 31 190.5 19 194 12.5C197.5 6 205 4 211.5 4.8C219.5 5.8 223.5 10 226.5 15C228.5 19 231 21 234 21.2L234 31C228 31 222.5 29 219.5 24.5C217 20.5 214.5 18.5 210.5 18.5C206.5 18.5 204.5 22 203.5 27.5C202.8 32 201 35.5 197 34.5Z" fill="#e9a092"/>
<path d="M219.5 24.5C222.5 29 228 31 234 31L234 29C229 29 224.5 27.5 221.5 24Z" fill="#f2c0b5"/>
<circle cx="208" cy="7.5" r="1.4" fill="#f4c290"/>
<circle cx="207.5" cy="15.5" r="1.4" fill="#f4c290"/>
<circle cx="197" cy="21" r="1.3" fill="#f4c290"/>
<circle cx="196.5" cy="27" r="1.6" fill="#f4c290"/>
<circle cx="203" cy="26" r="1.1" fill="#f4c290"/>
<circle cx="205" cy="11.5" r="2.6" fill="none" stroke="#4f9a4a" stroke-width="0.7"/>
<circle cx="214" cy="12.5" r="2.6" fill="none" stroke="#4f9a4a" stroke-width="0.7"/>
<circle cx="199" cy="31.8" r="2.6" fill="none" stroke="#4f9a4a" stroke-width="0.7"/>
<circle cx="214.5" cy="38" r="2.6" fill="none" stroke="#4f9a4a" stroke-width="0.7"/>
<ellipse cx="220" cy="38.5" rx="3.2" ry="1.9" fill="#fbe3e6" stroke="#e3a5ae" stroke-width="0.5"/>
<ellipse cx="226.5" cy="38.5" rx="3.2" ry="1.9" fill="#fbe3e6" stroke="#e3a5ae" stroke-width="0.5"/>
<ellipse cx="232" cy="38.5" rx="3.2" ry="1.9" fill="#fbe3e6" stroke="#e3a5ae" stroke-width="0.5"/>
<text transform="translate(201 8) scale(0.9 1)" text-anchor="middle" style="fill:#6ab04c;stroke:#6ab04c" font-size="7.49">1</text>
<text transform="translate(219.8 12.5) scale(0.9 1)" text-anchor="middle" style="fill:#d9303a;stroke:#d9303a" font-size="7.49">2</text>
<text transform="translate(193 39) scale(0.9 1)" text-anchor="middle" style="fill:#f39a3a;stroke:#f39a3a" font-size="7.49">3</text>
<text transform="translate(208.3 40.5) scale(0.9 1)" text-anchor="middle" style="fill:#3f86c8;stroke:#3f86c8" font-size="7.49">4</text>
<text transform="translate(240.5 13.5) scale(0.9 1)" text-anchor="middle" style="fill:#7cc27a;stroke:#7cc27a" font-size="7.49">1</text>
<text transform="translate(244 13.5) scale(0.9 1)" font-size="7.49">LA</text>
<text transform="translate(240.5 20.5) scale(0.9 1)" text-anchor="middle" style="fill:#d95a5a;stroke:#d95a5a" font-size="7.49">2</text>
<text transform="translate(244 20.5) scale(0.9 1)" font-size="7.49">LP</text>
<text transform="translate(240.5 27.5) scale(0.9 1)" text-anchor="middle" style="fill:#f4a050;stroke:#f4a050" font-size="7.49">3</text>
<text transform="translate(244 27.5) scale(0.9 1)" font-size="7.49">P (T zone)</text>
<text transform="translate(240.5 34.5) scale(0.9 1)" text-anchor="middle" style="fill:#4a90d0;stroke:#4a90d0" font-size="7.49">4</text>
<text transform="translate(244 34.5) scale(0.9 1)" font-size="7.49">MLN (T zone)</text>
<defs><linearGradient id="tube" x1="0" y1="0" x2="1" y2="0"><stop offset="0" stop-color="#4a5258"/><stop offset="0.6" stop-color="#6f7a80"/><stop offset="1" stop-color="#b0b8bc"/></linearGradient></defs>
<path d="M16 72.5C17 70 21 69.5 24 69.8C29 70.5 33.5 73 35.3 77.5C37 82 35.5 86 32.5 88.5C30 90.5 27 90.8 24.5 92.5C23 93.5 22.8 95 22.8 96L18.6 96C18.4 92.5 19.5 89.5 21.5 87.5C23.5 85.5 24.5 83 24 80C23.5 77.5 21.5 76 19 75.8C17 75.7 16 74.5 16 72.5Z" fill="#e9a092"/>
<rect x="24" y="59" width="7.4" height="14.5" fill="url(#tube)" rx="1"/>
<rect x="23.6" y="58" width="8.2" height="2.8" fill="#3c4246" rx="1"/>
<text transform="translate(27 94.8) scale(0.9 1)" font-size="7.49">Photo-activation</text>
<line x1="53" y1="67.6" x2="65.5" y2="67.6" stroke="#3a3a3a" stroke-width="1"/>
<path d="M64.5 65.7L68 67.6L64.5 69.5Z" fill="#231f20"/>
<path d="M102.3 69.5L105.5 68.9M102 70.9L105.1 72.9M101.3 71.6L102.5 74M100 71.7L99.2 75.5M98.9 71.1L96.3 73.4M98.6 70.6L95.6 71.9M98.4 69.5L95.2 69.1M99.3 68.1L97.3 65.1M100 67.9L99.5 65M101.5 68.2L103.5 65.3M102.1 68.8L105 66.9" fill="none" stroke="#bcbcbc" stroke-width="0.5"/>
<circle cx="100.4" cy="69.8" r="3.3" fill="#bcbcbc"/>
<path d="M90.5 84.6L94.1 84M90.2 86.1L93.2 88.1M89.7 86.7L91.4 89.4M88.6 87L88.5 90.6M87.5 86.6L86 88.9M86.8 85.8L83.9 87M86.7 84.6L83.7 84.1M87.6 83.3L86 80.8M87.9 83.1L87.1 80.6M89.7 83.4L91.1 81.3M90.1 83.7L92.1 82" fill="none" stroke="#bcbcbc" stroke-width="0.5"/>
<circle cx="88.6" cy="85" r="3.3" fill="#bcbcbc"/>
<circle cx="95.4" cy="75.9" r="2.3" fill="#f4b9bb"/>
<circle cx="106.5" cy="75.9" r="2.3" fill="#f4b9bb"/>
<circle cx="95.4" cy="81.7" r="2.3" fill="#3e8a5e"/>
<circle cx="101.2" cy="81.5" r="2.3" fill="#f4b9bb"/>
<circle cx="101" cy="87.3" r="2.3" fill="#f4b9bb"/>
<circle cx="106.4" cy="87.3" r="2.3" fill="#3e8a5e"/>
<circle cx="95.4" cy="91.4" r="2.3" fill="#f4b9bb"/>
<path d="M105.5 92.6L109 92.7M105 93.7L107.3 95.6M104.4 94.2L106.2 97.7M103 94.4L102.3 97.7M102.5 94.2L101 96.8M101.7 93.4L99.4 94.6M101.6 92.1L98.9 91.4M102.2 91L99.9 88.4M102.9 90.6L102 87.4M104 90.6L104.6 87.8M105 91.2L107.5 88.9" fill="none" stroke="#4b9a3c" stroke-width="0.5"/>
<circle cx="103.5" cy="92.5" r="3.3" fill="#4b9a3c"/>
<line x1="117" y1="67.6" x2="130" y2="67.6" stroke="#3a3a3a" stroke-width="1"/>
<path d="M129 65.7L132.5 67.6L129 69.5Z" fill="#231f20"/>
<path d="M142.9 56.7L164.7 56.7L164.7 67L162 67L162 71.8L157.5 71.8L155 77.3L152 77.3L150 71.8L145.5 71.8L145.5 67L142.9 67Z" fill="#c9cbcd"/>
<path d="M147.5 67L160 67L160 71L147.5 71Z" fill="#dfe1e2"/>
<rect x="152.6" y="56.7" width="1.9" height="20.5" fill="#8a8d90"/>
<circle cx="153.6" cy="81.2" r="1.6" fill="#f4b9bb"/>
<circle cx="153.6" cy="86.8" r="1.6" fill="#f4b9bb"/>
<circle cx="153.6" cy="93.7" r="1.6" fill="#3e8a5e"/>
<line x1="173" y1="67.6" x2="186" y2="67.6" stroke="#3a3a3a" stroke-width="1"/>
<path d="M185 65.7L188.5 67.6L185 69.5Z" fill="#231f20"/>
<path d="M203.8 63.2L207.5 63.3M203.4 64.3L206.3 66.2M202.3 65.1L203.2 68.7M201.2 65.1L200.3 68.3M200.4 64.6L197.9 67.4M199.9 63.6L197.1 64.2M199.9 62.6L196.2 61.4M200.7 61.6L199.1 59.4M201.6 61.2L201.3 57.5M202.5 61.4L203.7 58.4M203.3 61.9L206.3 59.4" fill="none" stroke="#4b9a3c" stroke-width="0.5"/>
<circle cx="201.8" cy="63.2" r="3.3" fill="#4b9a3c"/>
<circle cx="199.5" cy="71.6" r="2.4" fill="#3e8a5e"/>
<circle cx="209.6" cy="73.4" r="2.4" fill="#3e8a5e"/>
<circle cx="213" cy="77" r="2.4" fill="#3e8a5e"/>
<circle cx="198.4" cy="79.5" r="2.4" fill="#3e8a5e"/>
<path d="M211.5 83.2L214.3 83.4M211.2 84L214.1 85.7M210.3 84.8L211.3 87.5M209.2 85L208.7 88.3M208 84.3L205.6 86.4M207.5 83.3L204.9 83.6M207.7 82.2L204.8 80.9M208.3 81.4L206.3 78.9M209.4 81L209.3 78.3M210.3 81.2L211.8 78.2M211 81.7L213.4 79.5" fill="none" stroke="#4b9a3c" stroke-width="0.5"/>
<circle cx="209.5" cy="83" r="3.3" fill="#4b9a3c"/>
<line x1="219" y1="67.7" x2="230.5" y2="67.7" stroke="#3a3a3a" stroke-width="1"/>
<path d="M229.5 65.8L233 67.7L229.5 69.6Z" fill="#231f20"/>
<path d="M233.3 75.4L247 75.4L247 62.5L253.6 62.5L253.6 75.4L262.8 75.4L262.8 63.5L270 63.5L270 75.4L283.8 75.4L283.8 82.9L270 82.9L270 93.4L262.8 93.4L262.8 82.9L253.6 82.9L253.6 93.4L247 93.4L247 82.9L233.3 82.9Z" fill="#fbfbf7"/>
<rect x="247" y="62.5" width="6.6" height="30.9" fill="#e2e2e2"/>
<rect x="262.8" y="63.5" width="7.2" height="29.9" fill="#f0eecb"/>
<rect x="262.8" y="75.4" width="21" height="7.5" fill="#f0eecb"/>
<rect x="240" y="77" width="36" height="4" fill="#ffffff" rx="2"/>
<line x1="252.6" y1="63" x2="252.6" y2="93" stroke="#9a9a9a" stroke-width="0.6"/>
<line x1="263.8" y1="64" x2="263.8" y2="93" stroke="#b8b69a" stroke-width="0.6"/>
<path d="M233.3 75.4L247 75.4L247 62.5L253.6 62.5L253.6 75.4L262.8 75.4L262.8 63.5L270 63.5L270 75.4L283.8 75.4L283.8 82.9L270 82.9L270 93.4L262.8 93.4L262.8 82.9L253.6 82.9L253.6 93.4L247 93.4L247 82.9L233.3 82.9Z" fill="none" stroke="#86a872" stroke-width="0.7"/>
<rect x="253.5" y="76.8" width="1.3" height="0.8" fill="#444"/>
<rect x="253.5" y="80.8" width="1.3" height="0.8" fill="#444"/>
<circle cx="277.4" cy="78.3" r="1.2" fill="#3e8a5e"/>
<circle cx="263.5" cy="81.5" r="1.3" fill="#4b9a3c"/>
<text transform="translate(291 65.6) scale(0.9 1)" text-anchor="middle" font-size="7.49">5′ GEX</text>
<text transform="translate(291 73.5) scale(0.9 1)" text-anchor="middle" font-size="7.49" textLength="45.2" lengthAdjust="spacingAndGlyphs">+ V(D)J (TCR)</text>
</svg></body></html>
